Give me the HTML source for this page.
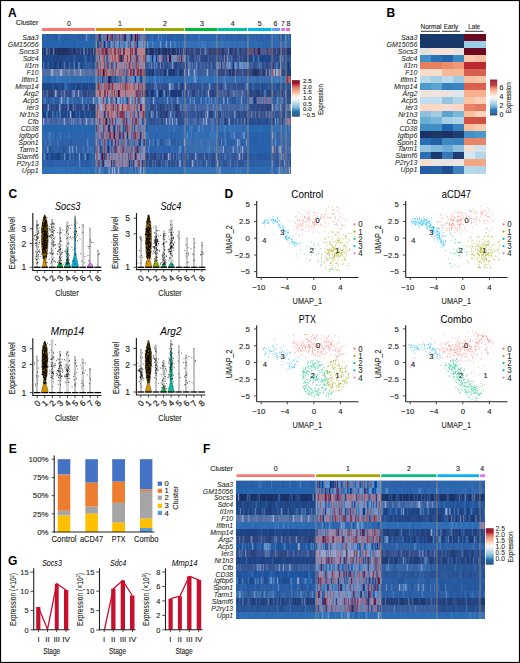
<!DOCTYPE html>
<html><head><meta charset="utf-8"><style>
html,body{margin:0;padding:0;background:#fff;width:520px;height:663px;overflow:hidden}
svg{display:block}
text{font-family:"Liberation Sans", sans-serif}
</style></head><body>
<svg width="520" height="663" viewBox="0 0 520 663" shape-rendering="auto">
<rect x="0" y="0" width="520" height="663" fill="#fff"/>
<text x="8.00" y="17.00" font-size="12" text-anchor="start" font-weight="bold" fill="#000" style="">A</text>
<text x="38.50" y="25.20" font-size="7.2" text-anchor="end" font-weight="normal" fill="#231f20" style="" stroke="#231f20" stroke-width="0.12">Cluster</text>
<rect x="42.00" y="28.00" width="53.00" height="3.00" fill="#F8766D"/>
<text x="69.00" y="25.50" font-size="7" text-anchor="middle" font-weight="normal" fill="#231f20" style="" stroke="#231f20" stroke-width="0.12">0</text>
<rect x="96.00" y="28.00" width="48.00" height="3.00" fill="#D39200"/>
<text x="120.00" y="25.50" font-size="7" text-anchor="middle" font-weight="normal" fill="#231f20" style="" stroke="#231f20" stroke-width="0.12">1</text>
<rect x="145.00" y="28.00" width="39.00" height="3.00" fill="#93AA00"/>
<text x="165.00" y="25.50" font-size="7" text-anchor="middle" font-weight="normal" fill="#231f20" style="" stroke="#231f20" stroke-width="0.12">2</text>
<rect x="185.00" y="28.00" width="32.00" height="3.00" fill="#00BA38"/>
<text x="202.00" y="25.50" font-size="7" text-anchor="middle" font-weight="normal" fill="#231f20" style="" stroke="#231f20" stroke-width="0.12">3</text>
<rect x="217.50" y="28.00" width="29.50" height="3.00" fill="#00C19F"/>
<text x="232.70" y="25.50" font-size="7" text-anchor="middle" font-weight="normal" fill="#231f20" style="" stroke="#231f20" stroke-width="0.12">4</text>
<rect x="248.00" y="28.00" width="23.50" height="3.00" fill="#00B9E3"/>
<text x="259.60" y="25.50" font-size="7" text-anchor="middle" font-weight="normal" fill="#231f20" style="" stroke="#231f20" stroke-width="0.12">5</text>
<rect x="272.00" y="28.00" width="8.00" height="3.00" fill="#619CFF"/>
<text x="275.40" y="25.50" font-size="7" text-anchor="middle" font-weight="normal" fill="#231f20" style="" stroke="#231f20" stroke-width="0.12">6</text>
<rect x="281.00" y="28.00" width="4.00" height="3.00" fill="#DB72FB"/>
<text x="283.00" y="25.50" font-size="7" text-anchor="middle" font-weight="normal" fill="#231f20" style="" stroke="#231f20" stroke-width="0.12">7</text>
<rect x="286.00" y="28.00" width="4.00" height="3.00" fill="#FF61C3"/>
<text x="288.50" y="25.50" font-size="7" text-anchor="middle" font-weight="normal" fill="#231f20" style="" stroke="#231f20" stroke-width="0.12">8</text>
<rect x="42.00" y="34.00" width="249.00" height="140.00" fill="#3a5a98"/>
<path d="M42.5 34v7.05M43.5 34v7.05M46.5 34v7.05M48.5 34v7.05M49.5 34v7.05M50.5 34v7.05M57.5 34v7.05M63.5 34v7.05M64.5 34v7.05M66.5 34v7.05M68.5 34v7.05M69.5 34v7.05M80.5 34v7.05M83.5 34v7.05M84.5 34v7.05M90.5 34v7.05M91.5 34v7.05M93.5 34v7.05M226.5 34v7.05M228.5 34v7.05M244.5 34v7.05M261.5 34v7.05M262.5 34v7.05M279.5 34v7.05M286.5 34v7.05M290.5 62v7.05M75.5 83v7.05M46.5 97v7.05M47.5 97v7.05M57.5 97v7.05M87.5 97v7.05M198.5 97v7.05M45.5 132v7.05M55.5 132v7.05M156.5 132v7.05M69.5 139v7.05M70.5 139v7.05M227.5 139v7.05M228.5 139v7.05M230.5 139v7.05M233.5 139v7.05M244.5 139v7.05M89.5 153v7.05M90.5 153v7.05M93.5 153v7.05M255.5 153v7.05M267.5 153v7.05M271.5 153v7.05M43.5 160v7.05M47.5 160v7.05M48.5 160v7.05M54.5 160v7.05M65.5 160v7.05M69.5 160v7.05M70.5 160v7.05M72.5 160v7.05M75.5 160v7.05M81.5 160v7.05M83.5 160v7.05M84.5 160v7.05M252.5 160v7.05M253.5 160v7.05M254.5 160v7.05M260.5 160v7.05" stroke="#2a5ea5" stroke-width="1.00" shape-rendering="crispEdges"/>
<path d="M44.5 34v7.05M51.5 34v7.05M70.5 34v7.05M71.5 34v7.05M73.5 34v7.05M74.5 34v7.05M77.5 34v7.05M89.5 34v7.05M150.5 34v7.05M153.5 34v7.05M160.5 34v7.05M165.5 34v7.05M174.5 34v7.05M175.5 34v7.05M184.5 34v7.05M185.5 34v7.05M186.5 34v7.05M188.5 34v7.05M196.5 34v7.05M197.5 34v7.05M201.5 34v7.05M203.5 34v7.05M207.5 34v7.05M209.5 34v7.05M210.5 34v7.05M278.5 34v7.05M280.5 34v7.05M162.5 41v7.05M163.5 41v7.05M168.5 41v7.05M177.5 41v7.05M145.5 125v7.05M180.5 125v7.05M186.5 125v7.05M216.5 125v7.05M42.5 132v7.05M56.5 132v7.05M63.5 132v7.05M71.5 132v7.05M72.5 132v7.05M74.5 132v7.05M75.5 132v7.05M76.5 132v7.05M77.5 132v7.05M84.5 132v7.05M86.5 132v7.05M90.5 132v7.05M151.5 132v7.05M157.5 132v7.05M160.5 132v7.05M164.5 132v7.05M165.5 132v7.05M167.5 132v7.05M170.5 132v7.05M171.5 132v7.05M172.5 132v7.05M174.5 132v7.05M175.5 132v7.05M179.5 132v7.05M180.5 132v7.05M184.5 132v7.05M249.5 132v7.05M258.5 132v7.05M260.5 132v7.05M261.5 132v7.05M269.5 132v7.05M271.5 132v7.05M248.5 139v7.05M252.5 139v7.05M258.5 139v7.05M259.5 139v7.05M264.5 139v7.05M265.5 139v7.05M266.5 139v7.05M270.5 139v7.05M151.5 146v7.05M152.5 146v7.05M154.5 146v7.05M157.5 146v7.05M159.5 146v7.05M163.5 146v7.05M164.5 146v7.05M165.5 146v7.05M167.5 146v7.05M170.5 146v7.05M177.5 146v7.05M182.5 146v7.05M183.5 146v7.05M248.5 146v7.05M249.5 146v7.05M253.5 146v7.05M255.5 146v7.05M256.5 146v7.05M261.5 146v7.05M262.5 146v7.05M257.5 160v7.05M258.5 160v7.05M268.5 160v7.05M270.5 160v7.05M271.5 160v7.05" stroke="#2b64ad" stroke-width="1.00" shape-rendering="crispEdges"/>
<path d="M45.5 34v7.05M60.5 34v7.05M88.5 34v7.05M151.5 34v7.05M189.5 34v7.05M192.5 34v7.05M193.5 34v7.05M194.5 34v7.05M195.5 34v7.05M202.5 34v7.05M206.5 34v7.05M208.5 34v7.05M211.5 34v7.05M212.5 34v7.05M213.5 34v7.05M214.5 34v7.05M215.5 34v7.05M216.5 34v7.05M274.5 34v7.05M277.5 34v7.05M289.5 34v7.05M149.5 41v7.05M158.5 41v7.05M164.5 41v7.05M181.5 41v7.05M207.5 41v7.05M245.5 41v7.05M273.5 41v7.05M274.5 41v7.05M278.5 41v7.05M279.5 41v7.05M286.5 41v7.05M287.5 41v7.05M288.5 41v7.05M289.5 41v7.05M113.5 76v7.05M80.5 97v7.05M95.5 97v7.05M148.5 125v7.05M149.5 125v7.05M153.5 125v7.05M154.5 125v7.05M159.5 125v7.05M160.5 125v7.05M161.5 125v7.05M162.5 125v7.05M163.5 125v7.05M164.5 125v7.05M165.5 125v7.05M166.5 125v7.05M167.5 125v7.05M171.5 125v7.05M172.5 125v7.05M176.5 125v7.05M177.5 125v7.05M178.5 125v7.05M179.5 125v7.05M181.5 125v7.05M183.5 125v7.05M187.5 125v7.05M194.5 125v7.05M195.5 125v7.05M46.5 132v7.05M54.5 132v7.05M57.5 132v7.05M58.5 132v7.05M65.5 132v7.05M67.5 132v7.05M73.5 132v7.05M79.5 132v7.05M82.5 132v7.05M83.5 132v7.05M87.5 132v7.05M89.5 132v7.05M91.5 132v7.05M92.5 132v7.05M93.5 132v7.05M94.5 132v7.05M149.5 132v7.05M150.5 132v7.05M152.5 132v7.05M153.5 132v7.05M155.5 132v7.05M158.5 132v7.05M159.5 132v7.05M161.5 132v7.05M163.5 132v7.05M166.5 132v7.05M173.5 132v7.05M176.5 132v7.05M177.5 132v7.05M181.5 132v7.05M189.5 132v7.05M192.5 132v7.05M270.5 132v7.05M107.5 139v7.05M271.5 139v7.05M145.5 146v7.05M149.5 146v7.05M156.5 146v7.05M158.5 146v7.05M160.5 146v7.05M161.5 146v7.05M162.5 146v7.05M166.5 146v7.05M171.5 146v7.05M175.5 146v7.05M176.5 146v7.05M184.5 146v7.05M249.5 160v7.05" stroke="#2e67af" stroke-width="1.00" shape-rendering="crispEdges"/>
<path d="M47.5 34v7.05M53.5 34v7.05M55.5 34v7.05M56.5 34v7.05M65.5 34v7.05M79.5 34v7.05M82.5 34v7.05M94.5 34v7.05M95.5 34v7.05M146.5 34v7.05M167.5 34v7.05M169.5 34v7.05M170.5 34v7.05M172.5 34v7.05M177.5 34v7.05M239.5 34v7.05M283.5 34v7.05M91.5 55v7.05M67.5 83v7.05M49.5 97v7.05M55.5 97v7.05M58.5 97v7.05M78.5 97v7.05M187.5 97v7.05M196.5 97v7.05M217.5 139v7.05M241.5 139v7.05M242.5 139v7.05M72.5 153v7.05M83.5 153v7.05M252.5 153v7.05M253.5 153v7.05M254.5 153v7.05M256.5 153v7.05M261.5 153v7.05M262.5 153v7.05M263.5 153v7.05M268.5 153v7.05M269.5 153v7.05M270.5 153v7.05M51.5 160v7.05M82.5 160v7.05M85.5 160v7.05M86.5 160v7.05M87.5 160v7.05M88.5 160v7.05M248.5 160v7.05M251.5 160v7.05" stroke="#285aa1" stroke-width="1.00" shape-rendering="crispEdges"/>
<path d="M52.5 34v7.05M54.5 34v7.05M61.5 34v7.05M62.5 34v7.05M67.5 34v7.05M72.5 34v7.05M75.5 34v7.05M76.5 34v7.05M78.5 34v7.05M81.5 34v7.05M92.5 34v7.05M162.5 34v7.05M187.5 34v7.05M204.5 34v7.05M205.5 34v7.05M217.5 34v7.05M218.5 34v7.05M227.5 34v7.05M230.5 34v7.05M232.5 34v7.05M233.5 34v7.05M236.5 34v7.05M237.5 34v7.05M238.5 34v7.05M240.5 34v7.05M247.5 34v7.05M248.5 34v7.05M256.5 34v7.05M257.5 34v7.05M260.5 34v7.05M266.5 34v7.05M267.5 34v7.05M270.5 34v7.05M273.5 34v7.05M284.5 34v7.05M287.5 34v7.05M51.5 97v7.05M56.5 97v7.05M88.5 97v7.05M197.5 97v7.05M62.5 132v7.05M66.5 132v7.05M78.5 132v7.05M80.5 132v7.05M85.5 132v7.05M61.5 139v7.05M68.5 139v7.05M229.5 139v7.05M173.5 146v7.05M49.5 153v7.05M76.5 153v7.05M46.5 160v7.05M49.5 160v7.05M50.5 160v7.05M52.5 160v7.05M53.5 160v7.05M56.5 160v7.05M59.5 160v7.05M60.5 160v7.05M61.5 160v7.05M62.5 160v7.05M63.5 160v7.05M64.5 160v7.05M66.5 160v7.05M71.5 160v7.05M74.5 160v7.05M76.5 160v7.05M77.5 160v7.05M90.5 160v7.05M91.5 160v7.05M94.5 160v7.05M95.5 160v7.05M250.5 160v7.05M255.5 160v7.05M256.5 160v7.05M259.5 160v7.05M261.5 160v7.05M262.5 160v7.05M263.5 160v7.05M264.5 160v7.05M265.5 160v7.05M266.5 160v7.05M267.5 160v7.05M269.5 160v7.05" stroke="#2c61a9" stroke-width="1.00" shape-rendering="crispEdges"/>
<path d="M58.5 34v7.05M275.5 34v7.05M153.5 41v7.05M159.5 41v7.05M161.5 41v7.05M171.5 41v7.05M187.5 41v7.05M189.5 41v7.05M197.5 41v7.05M198.5 41v7.05M199.5 41v7.05M213.5 41v7.05M215.5 41v7.05M216.5 41v7.05M219.5 41v7.05M220.5 41v7.05M221.5 41v7.05M223.5 41v7.05M226.5 41v7.05M227.5 41v7.05M228.5 41v7.05M241.5 41v7.05M243.5 41v7.05M247.5 41v7.05M97.5 76v7.05M226.5 76v7.05M228.5 76v7.05M238.5 76v7.05M239.5 76v7.05M275.5 76v7.05M279.5 76v7.05M44.5 97v7.05M173.5 125v7.05M190.5 125v7.05M192.5 125v7.05M203.5 125v7.05M211.5 125v7.05M213.5 125v7.05M220.5 125v7.05M223.5 125v7.05M229.5 125v7.05M231.5 125v7.05M233.5 125v7.05M239.5 125v7.05M240.5 125v7.05M245.5 125v7.05M273.5 125v7.05M274.5 125v7.05M275.5 125v7.05M277.5 125v7.05M281.5 125v7.05M284.5 125v7.05M288.5 125v7.05M48.5 132v7.05M148.5 132v7.05M186.5 132v7.05M188.5 132v7.05M196.5 132v7.05M211.5 132v7.05M215.5 132v7.05M100.5 139v7.05M172.5 146v7.05M201.5 146v7.05M202.5 146v7.05M203.5 146v7.05M206.5 146v7.05M215.5 146v7.05M43.5 153v7.05M69.5 153v7.05M70.5 153v7.05M73.5 153v7.05M92.5 153v7.05M116.5 167v7.05M128.5 167v7.05M129.5 167v7.05M221.5 167v7.05M232.5 167v7.05M235.5 167v7.05M237.5 167v7.05M238.5 167v7.05M239.5 167v7.05M241.5 167v7.05M242.5 167v7.05M243.5 167v7.05M245.5 167v7.05M246.5 167v7.05M247.5 167v7.05M281.5 167v7.05M284.5 167v7.05" stroke="#3872b6" stroke-width="1.00" shape-rendering="crispEdges"/>
<path d="M59.5 34v7.05M87.5 34v7.05M152.5 34v7.05M166.5 34v7.05M198.5 34v7.05M145.5 41v7.05M167.5 41v7.05M173.5 41v7.05M178.5 41v7.05M179.5 41v7.05M183.5 41v7.05M186.5 41v7.05M188.5 41v7.05M190.5 41v7.05M191.5 41v7.05M192.5 41v7.05M193.5 41v7.05M194.5 41v7.05M195.5 41v7.05M200.5 41v7.05M206.5 41v7.05M210.5 41v7.05M211.5 41v7.05M212.5 41v7.05M214.5 41v7.05M218.5 41v7.05M224.5 41v7.05M229.5 41v7.05M230.5 41v7.05M231.5 41v7.05M233.5 41v7.05M234.5 41v7.05M235.5 41v7.05M236.5 41v7.05M238.5 41v7.05M239.5 41v7.05M240.5 41v7.05M242.5 41v7.05M244.5 41v7.05M280.5 41v7.05M118.5 76v7.05M65.5 83v7.05M185.5 125v7.05M197.5 125v7.05M207.5 125v7.05M209.5 125v7.05M217.5 125v7.05M219.5 125v7.05M221.5 125v7.05M228.5 125v7.05M232.5 125v7.05M235.5 125v7.05M236.5 125v7.05M237.5 125v7.05M238.5 125v7.05M241.5 125v7.05M246.5 125v7.05M272.5 125v7.05M276.5 125v7.05M278.5 125v7.05M279.5 125v7.05M280.5 125v7.05M282.5 125v7.05M283.5 125v7.05M43.5 132v7.05M52.5 132v7.05M68.5 132v7.05M182.5 132v7.05M185.5 132v7.05M190.5 132v7.05M194.5 132v7.05M195.5 132v7.05M197.5 132v7.05M198.5 132v7.05M199.5 132v7.05M201.5 132v7.05M205.5 132v7.05M209.5 132v7.05M217.5 167v7.05M223.5 167v7.05M224.5 167v7.05M225.5 167v7.05M226.5 167v7.05M227.5 167v7.05M228.5 167v7.05M230.5 167v7.05M231.5 167v7.05M233.5 167v7.05M234.5 167v7.05M244.5 167v7.05M269.5 167v7.05M272.5 167v7.05M277.5 167v7.05M285.5 167v7.05" stroke="#346eb4" stroke-width="1.00" shape-rendering="crispEdges"/>
<path d="M85.5 34v7.05M221.5 34v7.05M224.5 34v7.05M281.5 41v7.05M282.5 41v7.05M86.5 62v7.05M95.5 62v7.05M217.5 76v7.05M218.5 76v7.05M231.5 76v7.05M232.5 76v7.05M237.5 76v7.05M242.5 76v7.05M244.5 76v7.05M245.5 76v7.05M246.5 76v7.05M248.5 76v7.05M249.5 76v7.05M256.5 76v7.05M257.5 76v7.05M258.5 76v7.05M264.5 76v7.05M269.5 76v7.05M252.5 83v7.05M184.5 90v7.05M53.5 97v7.05M54.5 97v7.05M59.5 97v7.05M69.5 97v7.05M73.5 97v7.05M83.5 97v7.05M90.5 97v7.05M148.5 97v7.05M182.5 97v7.05M204.5 97v7.05M210.5 97v7.05M212.5 97v7.05M214.5 97v7.05M236.5 97v7.05M237.5 97v7.05M279.5 97v7.05M46.5 111v7.05M217.5 132v7.05M230.5 132v7.05M240.5 132v7.05M241.5 132v7.05M282.5 132v7.05M285.5 132v7.05M287.5 132v7.05M288.5 132v7.05M289.5 132v7.05M44.5 139v7.05M58.5 139v7.05M86.5 139v7.05M88.5 139v7.05M152.5 139v7.05M166.5 139v7.05M179.5 139v7.05M180.5 139v7.05M191.5 139v7.05M192.5 139v7.05M195.5 139v7.05M198.5 139v7.05M205.5 139v7.05M224.5 139v7.05M226.5 139v7.05M245.5 139v7.05M276.5 139v7.05M82.5 146v7.05M91.5 146v7.05M92.5 146v7.05M185.5 146v7.05M186.5 146v7.05M187.5 146v7.05M188.5 146v7.05M193.5 146v7.05M197.5 146v7.05M211.5 146v7.05M65.5 153v7.05M84.5 153v7.05M67.5 160v7.05M80.5 160v7.05M97.5 167v7.05M106.5 167v7.05M120.5 167v7.05M121.5 167v7.05M123.5 167v7.05M133.5 167v7.05M136.5 167v7.05M137.5 167v7.05" stroke="#3669ae" stroke-width="1.00" shape-rendering="crispEdges"/>
<path d="M86.5 34v7.05M106.5 41v7.05M115.5 41v7.05M118.5 41v7.05M120.5 41v7.05M122.5 41v7.05M125.5 41v7.05M127.5 41v7.05M138.5 41v7.05M140.5 41v7.05M147.5 55v7.05M149.5 55v7.05M154.5 55v7.05M172.5 55v7.05M173.5 55v7.05M280.5 55v7.05M217.5 62v7.05M227.5 62v7.05M239.5 62v7.05M241.5 62v7.05M242.5 62v7.05M243.5 62v7.05M245.5 62v7.05M247.5 62v7.05M280.5 62v7.05M123.5 76v7.05M131.5 76v7.05M132.5 76v7.05M133.5 76v7.05M137.5 76v7.05M138.5 76v7.05M143.5 76v7.05M194.5 76v7.05M235.5 76v7.05M225.5 83v7.05M73.5 90v7.05M74.5 90v7.05M164.5 90v7.05M285.5 90v7.05M113.5 97v7.05M140.5 97v7.05M141.5 97v7.05M190.5 97v7.05M194.5 97v7.05M277.5 97v7.05M280.5 104v7.05M215.5 111v7.05M145.5 118v7.05M234.5 132v7.05M243.5 132v7.05M244.5 132v7.05M141.5 139v7.05M142.5 139v7.05M149.5 139v7.05M169.5 139v7.05M221.5 139v7.05M239.5 139v7.05M275.5 139v7.05M47.5 146v7.05M76.5 146v7.05M180.5 146v7.05M237.5 146v7.05M64.5 153v7.05M85.5 153v7.05M216.5 153v7.05M206.5 160v7.05M272.5 160v7.05" stroke="#618dc3" stroke-width="1.00" shape-rendering="crispEdges"/>
<path d="M96.5 34v7.05M110.5 34v7.05M111.5 34v7.05M119.5 34v7.05M136.5 34v7.05M144.5 34v7.05M103.5 48v7.05M107.5 62v7.05M136.5 62v7.05M272.5 69v7.05M99.5 90v7.05M103.5 97v7.05M135.5 97v7.05M138.5 97v7.05M139.5 97v7.05M105.5 111v7.05M99.5 118v7.05M105.5 118v7.05M123.5 118v7.05M124.5 118v7.05M132.5 118v7.05M119.5 125v7.05M126.5 125v7.05M127.5 125v7.05M113.5 132v7.05M122.5 132v7.05M134.5 132v7.05M104.5 139v7.05M104.5 146v7.05M116.5 146v7.05M122.5 146v7.05M135.5 146v7.05M136.5 146v7.05M103.5 153v7.05M106.5 153v7.05M130.5 153v7.05M136.5 153v7.05M98.5 160v7.05M138.5 160v7.05M139.5 160v7.05" stroke="#7a4768" stroke-width="1.00" shape-rendering="crispEdges"/>
<path d="M97.5 34v7.05M104.5 34v7.05M116.5 34v7.05M117.5 34v7.05M120.5 34v7.05M129.5 34v7.05M140.5 34v7.05M143.5 34v7.05M99.5 41v7.05M123.5 41v7.05M46.5 48v7.05M53.5 48v7.05M183.5 48v7.05M205.5 48v7.05M96.5 55v7.05M167.5 55v7.05M113.5 62v7.05M220.5 62v7.05M222.5 62v7.05M42.5 69v7.05M50.5 69v7.05M54.5 69v7.05M55.5 69v7.05M57.5 69v7.05M58.5 69v7.05M63.5 69v7.05M64.5 69v7.05M65.5 69v7.05M67.5 69v7.05M73.5 69v7.05M76.5 69v7.05M77.5 69v7.05M78.5 69v7.05M82.5 69v7.05M83.5 69v7.05M84.5 69v7.05M89.5 69v7.05M90.5 69v7.05M95.5 69v7.05M119.5 76v7.05M121.5 76v7.05M127.5 76v7.05M142.5 76v7.05M144.5 76v7.05M257.5 97v7.05M259.5 97v7.05M261.5 97v7.05M266.5 97v7.05M267.5 97v7.05M270.5 97v7.05M115.5 104v7.05M136.5 104v7.05M287.5 104v7.05M289.5 104v7.05M251.5 111v7.05M266.5 111v7.05M44.5 118v7.05M63.5 118v7.05M85.5 118v7.05M87.5 118v7.05M133.5 118v7.05M138.5 118v7.05M205.5 118v7.05M98.5 125v7.05M140.5 125v7.05M96.5 132v7.05M97.5 132v7.05M98.5 139v7.05M110.5 139v7.05M117.5 139v7.05M123.5 139v7.05M133.5 139v7.05M136.5 139v7.05M99.5 146v7.05M110.5 146v7.05M127.5 146v7.05M100.5 153v7.05M134.5 153v7.05M283.5 153v7.05M112.5 160v7.05M134.5 160v7.05M141.5 160v7.05M288.5 167v7.05" stroke="#5e77a8" stroke-width="1.00" shape-rendering="crispEdges"/>
<path d="M98.5 34v7.05M203.5 55v7.05M210.5 55v7.05M164.5 62v7.05M158.5 69v7.05M159.5 69v7.05M151.5 83v7.05M174.5 83v7.05M184.5 83v7.05M188.5 83v7.05M192.5 83v7.05M196.5 83v7.05M199.5 83v7.05M205.5 83v7.05M207.5 83v7.05M213.5 83v7.05M50.5 104v7.05M53.5 104v7.05M249.5 104v7.05M190.5 111v7.05M192.5 111v7.05M194.5 111v7.05M195.5 111v7.05M203.5 111v7.05M147.5 118v7.05M150.5 118v7.05M152.5 118v7.05M154.5 118v7.05M155.5 118v7.05M180.5 118v7.05M183.5 118v7.05M184.5 118v7.05M236.5 118v7.05M270.5 118v7.05M113.5 125v7.05M220.5 139v7.05M80.5 153v7.05M86.5 153v7.05M186.5 153v7.05M190.5 153v7.05M198.5 153v7.05M201.5 153v7.05M210.5 153v7.05M211.5 153v7.05M220.5 153v7.05M223.5 153v7.05M228.5 153v7.05M232.5 153v7.05M233.5 153v7.05M235.5 153v7.05M236.5 153v7.05M272.5 153v7.05M277.5 153v7.05M162.5 160v7.05M163.5 160v7.05M171.5 160v7.05M174.5 160v7.05M189.5 160v7.05M195.5 160v7.05M204.5 160v7.05M209.5 160v7.05M216.5 160v7.05M223.5 160v7.05M225.5 160v7.05M226.5 160v7.05M232.5 160v7.05M238.5 160v7.05M239.5 160v7.05M240.5 160v7.05M241.5 160v7.05M275.5 160v7.05M276.5 160v7.05M277.5 160v7.05M278.5 160v7.05M290.5 160v7.05" stroke="#325598" stroke-width="1.00" shape-rendering="crispEdges"/>
<path d="M99.5 34v7.05M112.5 34v7.05M124.5 34v7.05M137.5 34v7.05M105.5 48v7.05M106.5 48v7.05M123.5 48v7.05M135.5 48v7.05M136.5 48v7.05M271.5 48v7.05M163.5 55v7.05M166.5 55v7.05M181.5 55v7.05M221.5 62v7.05M133.5 69v7.05M140.5 69v7.05M119.5 90v7.05M140.5 104v7.05M141.5 104v7.05M126.5 118v7.05M108.5 125v7.05M119.5 132v7.05M115.5 139v7.05M139.5 139v7.05M102.5 160v7.05M111.5 160v7.05M133.5 160v7.05M142.5 160v7.05" stroke="#512c5c" stroke-width="1.00" shape-rendering="crispEdges"/>
<path d="M100.5 34v7.05M43.5 55v7.05M44.5 55v7.05M46.5 55v7.05M50.5 55v7.05M53.5 55v7.05M54.5 55v7.05M56.5 55v7.05M57.5 55v7.05M58.5 55v7.05M59.5 55v7.05M60.5 55v7.05M61.5 55v7.05M64.5 55v7.05M71.5 55v7.05M72.5 55v7.05M78.5 55v7.05M81.5 55v7.05M88.5 55v7.05M92.5 55v7.05M93.5 55v7.05M95.5 55v7.05M248.5 55v7.05M249.5 55v7.05M250.5 55v7.05M251.5 55v7.05M255.5 55v7.05M260.5 55v7.05M261.5 55v7.05M262.5 55v7.05M263.5 55v7.05M264.5 55v7.05M266.5 55v7.05M268.5 55v7.05M269.5 55v7.05M42.5 62v7.05M53.5 62v7.05M56.5 62v7.05M61.5 62v7.05M66.5 62v7.05M67.5 62v7.05M68.5 62v7.05M81.5 62v7.05M82.5 62v7.05M287.5 62v7.05M289.5 62v7.05M286.5 69v7.05M287.5 69v7.05M288.5 69v7.05M42.5 83v7.05M43.5 83v7.05M44.5 83v7.05M45.5 83v7.05M46.5 83v7.05M47.5 83v7.05M48.5 83v7.05M49.5 83v7.05M50.5 83v7.05M51.5 83v7.05M55.5 83v7.05M56.5 83v7.05M57.5 83v7.05M62.5 83v7.05M63.5 83v7.05M73.5 83v7.05M74.5 83v7.05M76.5 83v7.05M77.5 83v7.05M78.5 83v7.05M79.5 83v7.05M80.5 83v7.05M83.5 83v7.05M84.5 83v7.05M85.5 83v7.05M86.5 83v7.05M87.5 83v7.05M92.5 83v7.05M94.5 83v7.05M95.5 83v7.05M262.5 83v7.05M148.5 90v7.05M150.5 90v7.05M162.5 90v7.05M177.5 90v7.05M116.5 97v7.05M255.5 97v7.05M44.5 111v7.05M48.5 111v7.05M49.5 111v7.05M61.5 111v7.05M62.5 111v7.05M65.5 111v7.05M68.5 111v7.05M74.5 111v7.05M77.5 111v7.05M78.5 111v7.05M81.5 111v7.05M82.5 111v7.05M83.5 111v7.05M88.5 111v7.05M91.5 111v7.05M92.5 111v7.05M93.5 111v7.05M94.5 111v7.05M140.5 139v7.05M95.5 146v7.05M100.5 146v7.05M47.5 153v7.05M51.5 153v7.05M52.5 153v7.05M57.5 153v7.05M59.5 153v7.05M87.5 153v7.05" stroke="#1e4585" stroke-width="1.00" shape-rendering="crispEdges"/>
<path d="M101.5 34v7.05M103.5 34v7.05M126.5 34v7.05M83.5 48v7.05M84.5 48v7.05M151.5 55v7.05M188.5 55v7.05M199.5 55v7.05M64.5 62v7.05M149.5 62v7.05M190.5 62v7.05M192.5 62v7.05M211.5 62v7.05M259.5 62v7.05M193.5 69v7.05M195.5 69v7.05M196.5 69v7.05M206.5 69v7.05M217.5 69v7.05M107.5 76v7.05M154.5 83v7.05M178.5 83v7.05M246.5 83v7.05M72.5 90v7.05M182.5 90v7.05M272.5 90v7.05M258.5 97v7.05M60.5 104v7.05M73.5 104v7.05M88.5 104v7.05M181.5 104v7.05M183.5 104v7.05M186.5 104v7.05M206.5 104v7.05M208.5 104v7.05M219.5 104v7.05M229.5 104v7.05M240.5 104v7.05M246.5 104v7.05M275.5 104v7.05M277.5 104v7.05M52.5 111v7.05M152.5 111v7.05M153.5 111v7.05M174.5 111v7.05M206.5 111v7.05M221.5 111v7.05M235.5 111v7.05M285.5 111v7.05M47.5 118v7.05M48.5 118v7.05M58.5 118v7.05M75.5 118v7.05M79.5 118v7.05M95.5 118v7.05M194.5 118v7.05M195.5 118v7.05M204.5 118v7.05M212.5 118v7.05M213.5 118v7.05M220.5 118v7.05M241.5 118v7.05M273.5 132v7.05M121.5 139v7.05M129.5 139v7.05M219.5 146v7.05M222.5 146v7.05M241.5 146v7.05M243.5 146v7.05M288.5 146v7.05M173.5 153v7.05M196.5 153v7.05M238.5 153v7.05M193.5 160v7.05M218.5 160v7.05M290.5 167v7.05" stroke="#4e73ad" stroke-width="1.00" shape-rendering="crispEdges"/>
<path d="M102.5 34v7.05M127.5 34v7.05M128.5 34v7.05M142.5 34v7.05M102.5 41v7.05M112.5 41v7.05M116.5 41v7.05M129.5 41v7.05M131.5 41v7.05M228.5 48v7.05M168.5 55v7.05M171.5 55v7.05M176.5 55v7.05M183.5 55v7.05M224.5 55v7.05M151.5 62v7.05M160.5 62v7.05M188.5 62v7.05M196.5 62v7.05M226.5 62v7.05M228.5 62v7.05M236.5 62v7.05M246.5 62v7.05M53.5 69v7.05M56.5 69v7.05M59.5 69v7.05M62.5 69v7.05M68.5 69v7.05M69.5 69v7.05M75.5 69v7.05M79.5 69v7.05M81.5 69v7.05M167.5 69v7.05M189.5 69v7.05M266.5 69v7.05M96.5 76v7.05M105.5 76v7.05M122.5 76v7.05M124.5 76v7.05M129.5 76v7.05M130.5 76v7.05M56.5 90v7.05M64.5 90v7.05M188.5 90v7.05M233.5 90v7.05M242.5 90v7.05M250.5 97v7.05M251.5 97v7.05M262.5 97v7.05M180.5 104v7.05M195.5 104v7.05M207.5 104v7.05M213.5 104v7.05M220.5 104v7.05M276.5 104v7.05M156.5 111v7.05M269.5 111v7.05M71.5 118v7.05M73.5 118v7.05M80.5 118v7.05M91.5 118v7.05M92.5 118v7.05M97.5 118v7.05M108.5 118v7.05M116.5 118v7.05M129.5 118v7.05M141.5 118v7.05M187.5 118v7.05M244.5 118v7.05M112.5 125v7.05M122.5 125v7.05M137.5 125v7.05M141.5 125v7.05M143.5 125v7.05M144.5 125v7.05M101.5 139v7.05M106.5 139v7.05M119.5 139v7.05M126.5 139v7.05M137.5 139v7.05M141.5 146v7.05M142.5 146v7.05M275.5 146v7.05M290.5 146v7.05M108.5 153v7.05M115.5 153v7.05M140.5 153v7.05M281.5 153v7.05M121.5 160v7.05M125.5 160v7.05" stroke="#6b82b1" stroke-width="1.00" shape-rendering="crispEdges"/>
<path d="M105.5 34v7.05M106.5 34v7.05M118.5 34v7.05M134.5 34v7.05M101.5 41v7.05M134.5 41v7.05M135.5 41v7.05M98.5 48v7.05M158.5 55v7.05M177.5 55v7.05M182.5 55v7.05M100.5 69v7.05M112.5 69v7.05M115.5 69v7.05M119.5 69v7.05M123.5 69v7.05M124.5 69v7.05M275.5 69v7.05M97.5 83v7.05M134.5 83v7.05M142.5 83v7.05M125.5 90v7.05M139.5 90v7.05M110.5 97v7.05M112.5 97v7.05M115.5 97v7.05M128.5 97v7.05M260.5 97v7.05M265.5 97v7.05M107.5 111v7.05M119.5 111v7.05M107.5 118v7.05M110.5 118v7.05M290.5 118v7.05M104.5 125v7.05M115.5 125v7.05M102.5 132v7.05M97.5 139v7.05M102.5 139v7.05M105.5 139v7.05M122.5 139v7.05M124.5 139v7.05M113.5 146v7.05M131.5 146v7.05M97.5 160v7.05M122.5 160v7.05M128.5 160v7.05M132.5 160v7.05" stroke="#766589" stroke-width="1.00" shape-rendering="crispEdges"/>
<path d="M107.5 34v7.05M135.5 34v7.05M258.5 48v7.05M145.5 55v7.05M169.5 55v7.05M170.5 55v7.05M103.5 69v7.05M109.5 76v7.05M118.5 90v7.05M106.5 118v7.05M96.5 125v7.05M114.5 132v7.05M144.5 139v7.05M102.5 153v7.05" stroke="#400c40" stroke-width="1.00" shape-rendering="crispEdges"/>
<path d="M108.5 34v7.05M93.5 48v7.05M200.5 48v7.05M204.5 48v7.05M144.5 55v7.05M43.5 69v7.05M44.5 69v7.05M45.5 69v7.05M46.5 69v7.05M47.5 69v7.05M48.5 69v7.05M49.5 69v7.05M66.5 69v7.05M70.5 69v7.05M71.5 69v7.05M72.5 69v7.05M85.5 69v7.05M86.5 69v7.05M87.5 69v7.05M88.5 69v7.05M91.5 69v7.05M92.5 69v7.05M93.5 69v7.05M94.5 69v7.05M235.5 69v7.05M218.5 90v7.05M222.5 90v7.05M234.5 90v7.05M236.5 90v7.05M241.5 90v7.05M286.5 104v7.05M288.5 104v7.05M126.5 111v7.05M255.5 111v7.05M259.5 111v7.05M207.5 118v7.05M132.5 125v7.05M138.5 125v7.05M131.5 132v7.05M132.5 146v7.05M140.5 146v7.05M122.5 153v7.05M169.5 153v7.05M282.5 153v7.05M101.5 160v7.05" stroke="#536ea1" stroke-width="1.00" shape-rendering="crispEdges"/>
<path d="M109.5 34v7.05M113.5 34v7.05M121.5 34v7.05M133.5 34v7.05M141.5 34v7.05M143.5 41v7.05M97.5 55v7.05M131.5 55v7.05M135.5 55v7.05M138.5 55v7.05M146.5 55v7.05M161.5 55v7.05M178.5 55v7.05M180.5 55v7.05M105.5 62v7.05M115.5 62v7.05M128.5 62v7.05M132.5 62v7.05M135.5 62v7.05M218.5 62v7.05M96.5 69v7.05M122.5 69v7.05M128.5 76v7.05M101.5 83v7.05M144.5 83v7.05M122.5 97v7.05M249.5 97v7.05M252.5 97v7.05M264.5 97v7.05M268.5 97v7.05M269.5 97v7.05M131.5 104v7.05M103.5 111v7.05M132.5 111v7.05M137.5 111v7.05M100.5 118v7.05M122.5 118v7.05M127.5 118v7.05M134.5 118v7.05M137.5 118v7.05M286.5 118v7.05M287.5 118v7.05M289.5 118v7.05M97.5 125v7.05M107.5 125v7.05M110.5 125v7.05M118.5 125v7.05M120.5 125v7.05M131.5 125v7.05M133.5 125v7.05M135.5 125v7.05M139.5 125v7.05M98.5 132v7.05M107.5 132v7.05M108.5 132v7.05M117.5 132v7.05M118.5 132v7.05M121.5 132v7.05M124.5 132v7.05M126.5 132v7.05M128.5 132v7.05M132.5 132v7.05M139.5 132v7.05M103.5 139v7.05M114.5 139v7.05M116.5 139v7.05M120.5 139v7.05M135.5 139v7.05M97.5 146v7.05M103.5 146v7.05M105.5 146v7.05M106.5 146v7.05M112.5 146v7.05M124.5 146v7.05M126.5 146v7.05M128.5 146v7.05M129.5 146v7.05M130.5 146v7.05M134.5 146v7.05M139.5 146v7.05M97.5 153v7.05M131.5 153v7.05M100.5 160v7.05M115.5 160v7.05" stroke="#79739e" stroke-width="1.00" shape-rendering="crispEdges"/>
<path d="M114.5 34v7.05M123.5 34v7.05M103.5 41v7.05M108.5 41v7.05M114.5 41v7.05M128.5 41v7.05M136.5 41v7.05M252.5 48v7.05M261.5 48v7.05M263.5 48v7.05M265.5 48v7.05M269.5 48v7.05M99.5 55v7.05M104.5 55v7.05M123.5 55v7.05M237.5 62v7.05M126.5 69v7.05M127.5 69v7.05M98.5 76v7.05M103.5 76v7.05M104.5 76v7.05M106.5 76v7.05M117.5 76v7.05M120.5 76v7.05M125.5 76v7.05M97.5 104v7.05M137.5 104v7.05M124.5 111v7.05M101.5 132v7.05M133.5 132v7.05M141.5 132v7.05M277.5 146v7.05M105.5 153v7.05M284.5 153v7.05" stroke="#5a5e8e" stroke-width="1.00" shape-rendering="crispEdges"/>
<path d="M115.5 34v7.05M132.5 34v7.05M229.5 55v7.05M147.5 62v7.05M152.5 62v7.05M153.5 62v7.05M157.5 62v7.05M170.5 62v7.05M182.5 62v7.05M251.5 62v7.05M257.5 62v7.05M264.5 62v7.05M274.5 62v7.05M284.5 62v7.05M154.5 69v7.05M162.5 69v7.05M185.5 69v7.05M186.5 69v7.05M192.5 69v7.05M198.5 69v7.05M199.5 69v7.05M201.5 69v7.05M189.5 83v7.05M223.5 83v7.05M231.5 83v7.05M81.5 90v7.05M82.5 90v7.05M190.5 90v7.05M191.5 90v7.05M201.5 90v7.05M206.5 90v7.05M222.5 97v7.05M281.5 97v7.05M184.5 104v7.05M191.5 104v7.05M197.5 104v7.05M168.5 111v7.05M188.5 111v7.05M189.5 111v7.05M199.5 111v7.05M217.5 111v7.05M225.5 111v7.05M247.5 111v7.05M279.5 111v7.05M287.5 111v7.05M156.5 118v7.05M158.5 118v7.05M159.5 118v7.05M160.5 118v7.05M168.5 118v7.05M191.5 118v7.05M208.5 118v7.05M209.5 118v7.05M214.5 118v7.05M215.5 118v7.05M221.5 118v7.05M138.5 139v7.05M143.5 139v7.05M46.5 146v7.05M225.5 146v7.05M159.5 153v7.05M163.5 153v7.05M183.5 153v7.05M197.5 153v7.05M215.5 153v7.05M222.5 153v7.05M247.5 153v7.05M278.5 153v7.05M286.5 153v7.05M288.5 153v7.05M113.5 160v7.05M148.5 160v7.05M164.5 160v7.05M166.5 160v7.05M176.5 160v7.05M181.5 160v7.05M196.5 160v7.05M198.5 160v7.05M229.5 160v7.05M273.5 160v7.05M287.5 160v7.05" stroke="#395da0" stroke-width="1.00" shape-rendering="crispEdges"/>
<path d="M122.5 34v7.05M100.5 41v7.05M107.5 41v7.05M130.5 41v7.05M118.5 48v7.05M248.5 48v7.05M249.5 48v7.05M250.5 48v7.05M251.5 48v7.05M253.5 48v7.05M255.5 48v7.05M256.5 48v7.05M257.5 48v7.05M266.5 48v7.05M270.5 48v7.05M179.5 55v7.05M225.5 62v7.05M134.5 69v7.05M141.5 69v7.05M108.5 83v7.05M105.5 90v7.05M114.5 90v7.05M137.5 90v7.05M138.5 90v7.05M140.5 90v7.05M142.5 90v7.05M256.5 97v7.05M105.5 104v7.05M112.5 139v7.05M118.5 139v7.05M128.5 139v7.05M274.5 146v7.05M114.5 160v7.05" stroke="#5f4d76" stroke-width="1.00" shape-rendering="crispEdges"/>
<path d="M125.5 34v7.05M131.5 34v7.05M104.5 41v7.05M137.5 41v7.05M152.5 55v7.05M156.5 55v7.05M233.5 62v7.05M135.5 76v7.05M254.5 97v7.05M108.5 146v7.05" stroke="#043483" stroke-width="1.00" shape-rendering="crispEdges"/>
<path d="M130.5 34v7.05M48.5 62v7.05M73.5 62v7.05M178.5 69v7.05M69.5 83v7.05M269.5 83v7.05M275.5 83v7.05M149.5 90v7.05M154.5 90v7.05M167.5 90v7.05M146.5 97v7.05M149.5 97v7.05M150.5 97v7.05M156.5 97v7.05M161.5 97v7.05M162.5 97v7.05M174.5 97v7.05M183.5 97v7.05M231.5 97v7.05M272.5 97v7.05M273.5 97v7.05M274.5 97v7.05M54.5 111v7.05M57.5 111v7.05M67.5 111v7.05M84.5 111v7.05M222.5 132v7.05M228.5 132v7.05M47.5 139v7.05M56.5 139v7.05M59.5 139v7.05M66.5 139v7.05M81.5 139v7.05M134.5 139v7.05M147.5 139v7.05M148.5 139v7.05M154.5 139v7.05M162.5 139v7.05M171.5 139v7.05M173.5 139v7.05M174.5 139v7.05M181.5 139v7.05M222.5 139v7.05M43.5 146v7.05M53.5 146v7.05M55.5 146v7.05M56.5 146v7.05M58.5 146v7.05M59.5 146v7.05M60.5 146v7.05M65.5 146v7.05M67.5 146v7.05M74.5 146v7.05M78.5 146v7.05M81.5 146v7.05M94.5 146v7.05M187.5 160v7.05M188.5 160v7.05M199.5 160v7.05M222.5 160v7.05M227.5 160v7.05" stroke="#305ea4" stroke-width="1.00" shape-rendering="crispEdges"/>
<path d="M138.5 34v7.05M49.5 48v7.05M179.5 48v7.05M194.5 48v7.05M237.5 48v7.05M276.5 48v7.05M281.5 48v7.05M106.5 55v7.05M228.5 55v7.05M104.5 62v7.05M112.5 62v7.05M187.5 69v7.05M261.5 69v7.05M270.5 69v7.05M112.5 76v7.05M114.5 76v7.05M186.5 83v7.05M208.5 83v7.05M226.5 83v7.05M46.5 90v7.05M75.5 90v7.05M77.5 90v7.05M79.5 90v7.05M87.5 90v7.05M207.5 90v7.05M219.5 90v7.05M220.5 90v7.05M221.5 90v7.05M223.5 90v7.05M225.5 90v7.05M226.5 90v7.05M230.5 90v7.05M231.5 90v7.05M232.5 90v7.05M235.5 90v7.05M238.5 90v7.05M239.5 90v7.05M240.5 90v7.05M243.5 90v7.05M244.5 90v7.05M247.5 90v7.05M144.5 111v7.05M252.5 111v7.05M258.5 111v7.05M109.5 118v7.05M167.5 118v7.05M188.5 118v7.05M109.5 146v7.05M194.5 153v7.05" stroke="#465f99" stroke-width="1.00" shape-rendering="crispEdges"/>
<path d="M139.5 34v7.05M155.5 62v7.05M200.5 62v7.05M201.5 62v7.05M207.5 62v7.05M173.5 83v7.05M179.5 83v7.05M201.5 83v7.05M202.5 83v7.05M245.5 83v7.05M166.5 97v7.05M176.5 97v7.05M283.5 97v7.05M187.5 111v7.05M146.5 118v7.05M222.5 118v7.05M279.5 132v7.05M283.5 139v7.05M285.5 139v7.05M286.5 139v7.05M287.5 139v7.05M289.5 139v7.05M290.5 139v7.05M57.5 146v7.05M68.5 146v7.05M77.5 146v7.05M217.5 146v7.05M227.5 146v7.05M228.5 146v7.05M229.5 146v7.05M230.5 146v7.05M231.5 146v7.05M239.5 146v7.05M244.5 146v7.05M245.5 146v7.05M247.5 146v7.05M282.5 146v7.05M283.5 146v7.05M284.5 146v7.05M285.5 146v7.05M149.5 153v7.05M180.5 153v7.05M182.5 153v7.05M188.5 153v7.05M219.5 153v7.05M229.5 153v7.05M230.5 153v7.05M280.5 153v7.05M194.5 160v7.05M201.5 160v7.05M207.5 160v7.05M210.5 160v7.05M220.5 160v7.05M247.5 160v7.05M283.5 160v7.05M142.5 167v7.05" stroke="#3c66aa" stroke-width="1.00" shape-rendering="crispEdges"/>
<path d="M145.5 34v7.05M147.5 34v7.05M148.5 34v7.05M156.5 34v7.05M163.5 34v7.05M164.5 34v7.05M173.5 34v7.05M180.5 34v7.05M47.5 41v7.05M52.5 41v7.05M62.5 41v7.05M63.5 41v7.05M74.5 41v7.05M87.5 41v7.05M89.5 41v7.05M95.5 41v7.05M180.5 41v7.05M164.5 76v7.05M106.5 97v7.05M54.5 125v7.05M62.5 125v7.05M70.5 125v7.05M78.5 125v7.05M94.5 125v7.05M146.5 125v7.05M248.5 132v7.05M250.5 132v7.05M251.5 132v7.05M252.5 132v7.05M253.5 132v7.05M254.5 132v7.05M256.5 132v7.05M257.5 132v7.05M262.5 132v7.05M263.5 132v7.05M264.5 132v7.05M265.5 132v7.05M266.5 132v7.05M249.5 139v7.05M251.5 139v7.05M256.5 139v7.05M257.5 139v7.05M260.5 139v7.05M263.5 139v7.05M269.5 139v7.05M146.5 146v7.05M150.5 146v7.05M153.5 146v7.05M155.5 146v7.05M169.5 146v7.05M250.5 146v7.05M251.5 146v7.05M252.5 146v7.05M254.5 146v7.05M257.5 146v7.05M258.5 146v7.05M259.5 146v7.05M260.5 146v7.05M263.5 146v7.05M265.5 146v7.05M266.5 146v7.05M267.5 146v7.05M269.5 146v7.05M270.5 146v7.05M271.5 146v7.05" stroke="#2761aa" stroke-width="1.00" shape-rendering="crispEdges"/>
<path d="M149.5 34v7.05M154.5 34v7.05M155.5 34v7.05M168.5 34v7.05M171.5 34v7.05M176.5 34v7.05M178.5 34v7.05M179.5 34v7.05M181.5 34v7.05M182.5 34v7.05M183.5 34v7.05M73.5 41v7.05M238.5 62v7.05M147.5 125v7.05M255.5 132v7.05M259.5 132v7.05M267.5 132v7.05M268.5 132v7.05M99.5 139v7.05M250.5 139v7.05M253.5 139v7.05M254.5 139v7.05M255.5 139v7.05M261.5 139v7.05M262.5 139v7.05M267.5 139v7.05M268.5 139v7.05M168.5 146v7.05M264.5 146v7.05M268.5 146v7.05" stroke="#265ea7" stroke-width="1.00" shape-rendering="crispEdges"/>
<path d="M157.5 34v7.05M159.5 34v7.05M222.5 34v7.05M234.5 34v7.05M255.5 34v7.05M264.5 34v7.05M146.5 41v7.05M169.5 41v7.05M241.5 76v7.05M253.5 83v7.05M52.5 97v7.05M63.5 97v7.05M71.5 97v7.05M76.5 97v7.05M79.5 97v7.05M85.5 97v7.05M89.5 97v7.05M91.5 97v7.05M163.5 97v7.05M164.5 97v7.05M165.5 97v7.05M172.5 97v7.05M179.5 97v7.05M180.5 97v7.05M181.5 97v7.05M185.5 97v7.05M186.5 97v7.05M207.5 97v7.05M238.5 97v7.05M239.5 97v7.05M247.5 97v7.05M218.5 132v7.05M221.5 132v7.05M223.5 132v7.05M229.5 132v7.05M238.5 132v7.05M239.5 132v7.05M245.5 132v7.05M247.5 132v7.05M46.5 139v7.05M51.5 139v7.05M53.5 139v7.05M74.5 139v7.05M82.5 139v7.05M89.5 139v7.05M90.5 139v7.05M93.5 139v7.05M145.5 139v7.05M156.5 139v7.05M176.5 139v7.05M182.5 139v7.05M235.5 139v7.05M243.5 139v7.05M277.5 139v7.05M278.5 139v7.05M44.5 146v7.05M79.5 146v7.05M80.5 146v7.05M84.5 146v7.05M45.5 160v7.05M78.5 160v7.05M96.5 167v7.05M104.5 167v7.05M122.5 167v7.05M134.5 167v7.05" stroke="#3365ac" stroke-width="1.00" shape-rendering="crispEdges"/>
<path d="M158.5 34v7.05M285.5 34v7.05M121.5 41v7.05M152.5 41v7.05M230.5 62v7.05M244.5 62v7.05M57.5 76v7.05M99.5 76v7.05M101.5 76v7.05M136.5 76v7.05M139.5 76v7.05M155.5 76v7.05M224.5 76v7.05M271.5 76v7.05M277.5 76v7.05M60.5 97v7.05M68.5 97v7.05M125.5 97v7.05M201.5 97v7.05M209.5 97v7.05M211.5 97v7.05M215.5 97v7.05M198.5 125v7.05M199.5 125v7.05M212.5 125v7.05M289.5 125v7.05M49.5 132v7.05M187.5 132v7.05M87.5 139v7.05M157.5 139v7.05M225.5 139v7.05M148.5 146v7.05M179.5 146v7.05M209.5 146v7.05M278.5 146v7.05M44.5 153v7.05M79.5 160v7.05M100.5 167v7.05M108.5 167v7.05M115.5 167v7.05M135.5 167v7.05M138.5 167v7.05M220.5 167v7.05M278.5 167v7.05" stroke="#4e85c0" stroke-width="1.00" shape-rendering="crispEdges"/>
<path d="M161.5 34v7.05M199.5 34v7.05M288.5 34v7.05M110.5 41v7.05M124.5 41v7.05M148.5 41v7.05M165.5 41v7.05M174.5 41v7.05M175.5 41v7.05M184.5 41v7.05M202.5 41v7.05M203.5 41v7.05M222.5 41v7.05M223.5 62v7.05M60.5 76v7.05M69.5 76v7.05M134.5 76v7.05M147.5 76v7.05M153.5 76v7.05M159.5 76v7.05M193.5 76v7.05M196.5 76v7.05M274.5 76v7.05M276.5 76v7.05M281.5 76v7.05M284.5 76v7.05M45.5 97v7.05M132.5 97v7.05M205.5 97v7.05M206.5 97v7.05M189.5 125v7.05M191.5 125v7.05M202.5 125v7.05M224.5 125v7.05M225.5 125v7.05M60.5 132v7.05M145.5 132v7.05M146.5 132v7.05M191.5 132v7.05M210.5 132v7.05M216.5 132v7.05M200.5 139v7.05M272.5 139v7.05M218.5 167v7.05M236.5 167v7.05M240.5 167v7.05M282.5 167v7.05M283.5 167v7.05" stroke="#3e7bbb" stroke-width="1.00" shape-rendering="crispEdges"/>
<path d="M190.5 34v7.05M191.5 34v7.05M272.5 34v7.05M276.5 34v7.05M151.5 41v7.05M176.5 41v7.05M185.5 41v7.05M196.5 41v7.05M208.5 41v7.05M209.5 41v7.05M217.5 41v7.05M225.5 41v7.05M232.5 41v7.05M237.5 41v7.05M246.5 41v7.05M272.5 41v7.05M275.5 41v7.05M276.5 41v7.05M277.5 41v7.05M290.5 41v7.05M150.5 125v7.05M151.5 125v7.05M152.5 125v7.05M155.5 125v7.05M156.5 125v7.05M157.5 125v7.05M158.5 125v7.05M168.5 125v7.05M169.5 125v7.05M170.5 125v7.05M175.5 125v7.05M182.5 125v7.05M184.5 125v7.05M188.5 125v7.05M193.5 125v7.05M196.5 125v7.05M200.5 125v7.05M201.5 125v7.05M204.5 125v7.05M205.5 125v7.05M206.5 125v7.05M208.5 125v7.05M210.5 125v7.05M214.5 125v7.05M215.5 125v7.05M218.5 125v7.05M222.5 125v7.05M226.5 125v7.05M227.5 125v7.05M242.5 125v7.05M243.5 125v7.05M244.5 125v7.05M285.5 125v7.05M44.5 132v7.05M47.5 132v7.05M51.5 132v7.05M53.5 132v7.05M59.5 132v7.05M61.5 132v7.05M64.5 132v7.05M69.5 132v7.05M70.5 132v7.05M81.5 132v7.05M88.5 132v7.05M95.5 132v7.05M147.5 132v7.05M154.5 132v7.05M162.5 132v7.05M168.5 132v7.05M169.5 132v7.05M178.5 132v7.05M183.5 132v7.05M193.5 132v7.05M200.5 132v7.05M202.5 132v7.05M203.5 132v7.05M204.5 132v7.05M206.5 132v7.05M207.5 132v7.05M208.5 132v7.05M147.5 146v7.05M174.5 146v7.05M178.5 146v7.05M181.5 146v7.05M222.5 167v7.05M229.5 167v7.05M273.5 167v7.05M274.5 167v7.05M275.5 167v7.05M276.5 167v7.05M280.5 167v7.05" stroke="#316ab1" stroke-width="1.00" shape-rendering="crispEdges"/>
<path d="M200.5 34v7.05M219.5 34v7.05M220.5 34v7.05M223.5 34v7.05M225.5 34v7.05M229.5 34v7.05M231.5 34v7.05M235.5 34v7.05M241.5 34v7.05M242.5 34v7.05M243.5 34v7.05M245.5 34v7.05M246.5 34v7.05M249.5 34v7.05M250.5 34v7.05M251.5 34v7.05M252.5 34v7.05M253.5 34v7.05M254.5 34v7.05M258.5 34v7.05M259.5 34v7.05M263.5 34v7.05M265.5 34v7.05M268.5 34v7.05M269.5 34v7.05M271.5 34v7.05M74.5 55v7.05M94.5 62v7.05M64.5 83v7.05M50.5 97v7.05M65.5 97v7.05M70.5 97v7.05M74.5 97v7.05M75.5 97v7.05M77.5 97v7.05M84.5 97v7.05M155.5 97v7.05M159.5 97v7.05M160.5 97v7.05M184.5 97v7.05M188.5 97v7.05M203.5 97v7.05M213.5 97v7.05M217.5 97v7.05M218.5 97v7.05M229.5 97v7.05M230.5 97v7.05M280.5 97v7.05M56.5 111v7.05M219.5 132v7.05M220.5 132v7.05M226.5 132v7.05M227.5 132v7.05M236.5 132v7.05M237.5 132v7.05M246.5 132v7.05M42.5 139v7.05M43.5 139v7.05M52.5 139v7.05M54.5 139v7.05M55.5 139v7.05M60.5 139v7.05M63.5 139v7.05M64.5 139v7.05M65.5 139v7.05M67.5 139v7.05M72.5 139v7.05M73.5 139v7.05M75.5 139v7.05M76.5 139v7.05M77.5 139v7.05M78.5 139v7.05M79.5 139v7.05M80.5 139v7.05M83.5 139v7.05M84.5 139v7.05M85.5 139v7.05M91.5 139v7.05M92.5 139v7.05M94.5 139v7.05M95.5 139v7.05M146.5 139v7.05M151.5 139v7.05M163.5 139v7.05M164.5 139v7.05M177.5 139v7.05M223.5 139v7.05M232.5 139v7.05M234.5 139v7.05M273.5 139v7.05M279.5 139v7.05M54.5 146v7.05M61.5 146v7.05M66.5 146v7.05M45.5 153v7.05M42.5 160v7.05M44.5 160v7.05M55.5 160v7.05M57.5 160v7.05M58.5 160v7.05M68.5 160v7.05M73.5 160v7.05M89.5 160v7.05M93.5 160v7.05M105.5 167v7.05" stroke="#3062aa" stroke-width="1.00" shape-rendering="crispEdges"/>
<path d="M281.5 34v7.05M282.5 34v7.05M290.5 34v7.05M73.5 55v7.05M165.5 55v7.05M286.5 55v7.05M47.5 62v7.05M91.5 62v7.05M53.5 83v7.05M81.5 83v7.05M88.5 83v7.05M255.5 83v7.05M259.5 83v7.05M268.5 83v7.05M276.5 83v7.05M280.5 83v7.05M281.5 83v7.05M282.5 83v7.05M290.5 83v7.05M42.5 97v7.05M48.5 97v7.05M157.5 97v7.05M169.5 97v7.05M175.5 97v7.05M199.5 97v7.05M216.5 97v7.05M232.5 97v7.05M85.5 111v7.05M256.5 118v7.05M111.5 139v7.05M219.5 139v7.05M247.5 139v7.05M280.5 139v7.05M49.5 146v7.05M85.5 146v7.05M101.5 146v7.05M48.5 153v7.05M50.5 153v7.05M60.5 153v7.05M61.5 153v7.05M62.5 153v7.05M71.5 153v7.05M74.5 153v7.05M77.5 153v7.05M82.5 153v7.05M91.5 153v7.05M250.5 153v7.05M258.5 153v7.05M260.5 153v7.05M265.5 153v7.05M266.5 153v7.05" stroke="#285499" stroke-width="1.00" shape-rendering="crispEdges"/>
<path d="M42.5 41v7.05M43.5 41v7.05M44.5 41v7.05M45.5 41v7.05M46.5 41v7.05M48.5 41v7.05M49.5 41v7.05M50.5 41v7.05M51.5 41v7.05M53.5 41v7.05M54.5 41v7.05M55.5 41v7.05M56.5 41v7.05M57.5 41v7.05M58.5 41v7.05M59.5 41v7.05M60.5 41v7.05M61.5 41v7.05M64.5 41v7.05M66.5 41v7.05M67.5 41v7.05M68.5 41v7.05M69.5 41v7.05M70.5 41v7.05M71.5 41v7.05M72.5 41v7.05M75.5 41v7.05M76.5 41v7.05M78.5 41v7.05M79.5 41v7.05M80.5 41v7.05M82.5 41v7.05M83.5 41v7.05M84.5 41v7.05M85.5 41v7.05M86.5 41v7.05M88.5 41v7.05M90.5 41v7.05M91.5 41v7.05M92.5 41v7.05M93.5 41v7.05M94.5 41v7.05M119.5 41v7.05M96.5 97v7.05M42.5 125v7.05M43.5 125v7.05M44.5 125v7.05M45.5 125v7.05M46.5 125v7.05M47.5 125v7.05M48.5 125v7.05M49.5 125v7.05M50.5 125v7.05M51.5 125v7.05M52.5 125v7.05M53.5 125v7.05M55.5 125v7.05M56.5 125v7.05M58.5 125v7.05M59.5 125v7.05M60.5 125v7.05M61.5 125v7.05M63.5 125v7.05M65.5 125v7.05M66.5 125v7.05M69.5 125v7.05M71.5 125v7.05M72.5 125v7.05M73.5 125v7.05M74.5 125v7.05M75.5 125v7.05M76.5 125v7.05M77.5 125v7.05M79.5 125v7.05M80.5 125v7.05M81.5 125v7.05M82.5 125v7.05M83.5 125v7.05M84.5 125v7.05M85.5 125v7.05M86.5 125v7.05M87.5 125v7.05M88.5 125v7.05M89.5 125v7.05M90.5 125v7.05M91.5 125v7.05M92.5 125v7.05M93.5 125v7.05M95.5 125v7.05M252.5 125v7.05M269.5 125v7.05" stroke="#2566ae" stroke-width="1.00" shape-rendering="crispEdges"/>
<path d="M65.5 41v7.05M77.5 41v7.05M81.5 41v7.05M248.5 41v7.05M249.5 41v7.05M251.5 41v7.05M252.5 41v7.05M258.5 41v7.05M259.5 41v7.05M262.5 41v7.05M263.5 41v7.05M264.5 41v7.05M265.5 41v7.05M266.5 41v7.05M267.5 41v7.05M268.5 41v7.05M271.5 41v7.05M48.5 76v7.05M90.5 76v7.05M91.5 76v7.05M152.5 76v7.05M157.5 76v7.05M165.5 76v7.05M167.5 76v7.05M173.5 76v7.05M174.5 76v7.05M177.5 76v7.05M179.5 76v7.05M180.5 76v7.05M181.5 76v7.05M182.5 76v7.05M183.5 76v7.05M57.5 125v7.05M64.5 125v7.05M67.5 125v7.05M68.5 125v7.05M249.5 125v7.05M250.5 125v7.05M251.5 125v7.05M253.5 125v7.05M254.5 125v7.05M255.5 125v7.05M256.5 125v7.05M257.5 125v7.05M258.5 125v7.05M259.5 125v7.05M262.5 125v7.05M263.5 125v7.05M264.5 125v7.05M265.5 125v7.05M266.5 125v7.05M267.5 125v7.05M268.5 125v7.05M270.5 125v7.05M286.5 125v7.05M287.5 125v7.05M290.5 125v7.05M248.5 167v7.05M252.5 167v7.05M271.5 167v7.05" stroke="#2968b1" stroke-width="1.00" shape-rendering="crispEdges"/>
<path d="M96.5 41v7.05M111.5 41v7.05M117.5 41v7.05M126.5 41v7.05M132.5 41v7.05M133.5 41v7.05M139.5 41v7.05M141.5 41v7.05M142.5 41v7.05M144.5 41v7.05M147.5 41v7.05M160.5 41v7.05M166.5 41v7.05M170.5 41v7.05M148.5 55v7.05M184.5 55v7.05M172.5 62v7.05M229.5 62v7.05M235.5 62v7.05M240.5 62v7.05M184.5 69v7.05M195.5 76v7.05M170.5 83v7.05M209.5 83v7.05M247.5 83v7.05M157.5 90v7.05M67.5 97v7.05M82.5 97v7.05M98.5 97v7.05M100.5 97v7.05M108.5 97v7.05M114.5 97v7.05M117.5 97v7.05M119.5 97v7.05M121.5 97v7.05M124.5 97v7.05M131.5 97v7.05M133.5 97v7.05M136.5 97v7.05M144.5 97v7.05M167.5 97v7.05M177.5 97v7.05M223.5 97v7.05M227.5 97v7.05M241.5 97v7.05M48.5 104v7.05M59.5 104v7.05M151.5 111v7.05M170.5 111v7.05M234.5 111v7.05M169.5 118v7.05M176.5 118v7.05M203.5 118v7.05M229.5 118v7.05M275.5 118v7.05M96.5 139v7.05M246.5 139v7.05M69.5 146v7.05M72.5 146v7.05M233.5 146v7.05M279.5 146v7.05M79.5 153v7.05M95.5 153v7.05M195.5 153v7.05M105.5 160v7.05M135.5 160v7.05M179.5 160v7.05M180.5 160v7.05M284.5 160v7.05M99.5 167v7.05M109.5 167v7.05M143.5 167v7.05M219.5 167v7.05M279.5 167v7.05" stroke="#7497c7" stroke-width="1.00" shape-rendering="crispEdges"/>
<path d="M97.5 41v7.05M54.5 48v7.05M182.5 48v7.05M185.5 48v7.05M188.5 48v7.05M191.5 48v7.05M192.5 48v7.05M196.5 48v7.05M197.5 48v7.05M198.5 48v7.05M199.5 48v7.05M203.5 48v7.05M210.5 48v7.05M211.5 48v7.05M213.5 48v7.05M214.5 48v7.05M215.5 48v7.05M218.5 48v7.05M219.5 48v7.05M221.5 48v7.05M229.5 48v7.05M232.5 48v7.05M236.5 48v7.05M239.5 48v7.05M243.5 48v7.05M245.5 48v7.05M246.5 48v7.05M273.5 48v7.05M274.5 48v7.05M275.5 48v7.05M277.5 48v7.05M278.5 48v7.05M280.5 48v7.05M282.5 48v7.05M284.5 48v7.05M225.5 55v7.05M144.5 69v7.05M219.5 69v7.05M221.5 69v7.05M222.5 69v7.05M223.5 69v7.05M234.5 69v7.05M237.5 69v7.05M244.5 69v7.05M246.5 69v7.05M250.5 69v7.05M260.5 69v7.05M262.5 69v7.05M267.5 69v7.05M48.5 90v7.05M49.5 90v7.05M50.5 90v7.05M52.5 90v7.05M59.5 90v7.05M70.5 90v7.05M84.5 90v7.05M85.5 90v7.05M86.5 90v7.05M88.5 90v7.05M228.5 90v7.05M170.5 104v7.05M138.5 111v7.05M155.5 111v7.05M257.5 111v7.05M123.5 132v7.05" stroke="#354579" stroke-width="1.00" shape-rendering="crispEdges"/>
<path d="M98.5 41v7.05M109.5 41v7.05M102.5 76v7.05M111.5 76v7.05M115.5 76v7.05M126.5 76v7.05M140.5 76v7.05M248.5 97v7.05M108.5 139v7.05M144.5 160v7.05" stroke="#0f51a5" stroke-width="1.00" shape-rendering="crispEdges"/>
<path d="M105.5 41v7.05M45.5 76v7.05M46.5 76v7.05M53.5 76v7.05M55.5 76v7.05M62.5 76v7.05M63.5 76v7.05M71.5 76v7.05M72.5 76v7.05M73.5 76v7.05M74.5 76v7.05M78.5 76v7.05M80.5 76v7.05M83.5 76v7.05M84.5 76v7.05M146.5 76v7.05M148.5 76v7.05M156.5 76v7.05M170.5 76v7.05M198.5 76v7.05M210.5 76v7.05M212.5 76v7.05M216.5 76v7.05M43.5 167v7.05M44.5 167v7.05M45.5 167v7.05M46.5 167v7.05M48.5 167v7.05M49.5 167v7.05M50.5 167v7.05M53.5 167v7.05M54.5 167v7.05M60.5 167v7.05M63.5 167v7.05M66.5 167v7.05M67.5 167v7.05M71.5 167v7.05M74.5 167v7.05M75.5 167v7.05M77.5 167v7.05M78.5 167v7.05M79.5 167v7.05M80.5 167v7.05M81.5 167v7.05M82.5 167v7.05M86.5 167v7.05M87.5 167v7.05M90.5 167v7.05M91.5 167v7.05M92.5 167v7.05M93.5 167v7.05M145.5 167v7.05M155.5 167v7.05M156.5 167v7.05M157.5 167v7.05M164.5 167v7.05M165.5 167v7.05M168.5 167v7.05M169.5 167v7.05M172.5 167v7.05M173.5 167v7.05M178.5 167v7.05M179.5 167v7.05M181.5 167v7.05M255.5 167v7.05" stroke="#2d6fb6" stroke-width="1.00" shape-rendering="crispEdges"/>
<path d="M113.5 41v7.05M155.5 55v7.05M282.5 55v7.05M43.5 62v7.05M74.5 62v7.05M78.5 62v7.05M154.5 62v7.05M156.5 62v7.05M185.5 62v7.05M189.5 62v7.05M216.5 62v7.05M219.5 62v7.05M234.5 62v7.05M248.5 62v7.05M156.5 83v7.05M172.5 83v7.05M156.5 90v7.05M169.5 90v7.05M62.5 97v7.05M94.5 97v7.05M137.5 97v7.05M171.5 97v7.05M178.5 97v7.05M224.5 97v7.05M282.5 97v7.05M68.5 104v7.05M221.5 104v7.05M242.5 104v7.05M171.5 111v7.05M205.5 111v7.05M228.5 118v7.05M278.5 118v7.05M275.5 132v7.05M109.5 139v7.05M130.5 139v7.05M131.5 139v7.05M153.5 139v7.05M238.5 139v7.05M220.5 146v7.05M232.5 146v7.05M240.5 146v7.05M170.5 153v7.05M204.5 153v7.05M242.5 153v7.05M279.5 153v7.05M96.5 160v7.05M104.5 160v7.05M167.5 160v7.05M230.5 160v7.05M279.5 160v7.05M288.5 160v7.05M111.5 167v7.05M113.5 167v7.05M117.5 167v7.05M119.5 167v7.05M139.5 167v7.05M141.5 167v7.05" stroke="#517cb6" stroke-width="1.00" shape-rendering="crispEdges"/>
<path d="M150.5 41v7.05M154.5 41v7.05M182.5 41v7.05M201.5 41v7.05M204.5 41v7.05M205.5 41v7.05M42.5 76v7.05M52.5 76v7.05M56.5 76v7.05M65.5 76v7.05M85.5 76v7.05M88.5 76v7.05M95.5 76v7.05M154.5 76v7.05M184.5 76v7.05M188.5 76v7.05M189.5 76v7.05M190.5 76v7.05M192.5 76v7.05M202.5 76v7.05M205.5 76v7.05M206.5 76v7.05M214.5 76v7.05M215.5 76v7.05M272.5 76v7.05M273.5 76v7.05M278.5 76v7.05M280.5 76v7.05M282.5 76v7.05M283.5 76v7.05M285.5 76v7.05M120.5 97v7.05M174.5 125v7.05M230.5 125v7.05M234.5 125v7.05M247.5 125v7.05M212.5 132v7.05M213.5 132v7.05M214.5 132v7.05M186.5 167v7.05M187.5 167v7.05M188.5 167v7.05M189.5 167v7.05M190.5 167v7.05M191.5 167v7.05M192.5 167v7.05M193.5 167v7.05M194.5 167v7.05M195.5 167v7.05M196.5 167v7.05M197.5 167v7.05M198.5 167v7.05M199.5 167v7.05M200.5 167v7.05M201.5 167v7.05M202.5 167v7.05M204.5 167v7.05M205.5 167v7.05M206.5 167v7.05M207.5 167v7.05M208.5 167v7.05M209.5 167v7.05M210.5 167v7.05M211.5 167v7.05M212.5 167v7.05M213.5 167v7.05M214.5 167v7.05M215.5 167v7.05" stroke="#3675b8" stroke-width="1.00" shape-rendering="crispEdges"/>
<path d="M155.5 41v7.05M156.5 41v7.05M157.5 41v7.05M172.5 41v7.05M250.5 41v7.05M253.5 41v7.05M254.5 41v7.05M255.5 41v7.05M256.5 41v7.05M257.5 41v7.05M260.5 41v7.05M261.5 41v7.05M269.5 41v7.05M270.5 41v7.05M43.5 76v7.05M44.5 76v7.05M47.5 76v7.05M49.5 76v7.05M50.5 76v7.05M54.5 76v7.05M59.5 76v7.05M66.5 76v7.05M67.5 76v7.05M68.5 76v7.05M75.5 76v7.05M76.5 76v7.05M81.5 76v7.05M86.5 76v7.05M87.5 76v7.05M89.5 76v7.05M92.5 76v7.05M94.5 76v7.05M145.5 76v7.05M149.5 76v7.05M150.5 76v7.05M151.5 76v7.05M158.5 76v7.05M160.5 76v7.05M161.5 76v7.05M163.5 76v7.05M166.5 76v7.05M168.5 76v7.05M169.5 76v7.05M171.5 76v7.05M172.5 76v7.05M175.5 76v7.05M176.5 76v7.05M178.5 76v7.05M185.5 76v7.05M199.5 76v7.05M200.5 76v7.05M211.5 76v7.05M126.5 97v7.05M248.5 125v7.05M260.5 125v7.05M261.5 125v7.05M271.5 125v7.05M76.5 167v7.05M249.5 167v7.05M250.5 167v7.05M251.5 167v7.05M253.5 167v7.05M254.5 167v7.05M256.5 167v7.05M257.5 167v7.05M258.5 167v7.05M259.5 167v7.05M260.5 167v7.05M261.5 167v7.05M262.5 167v7.05M263.5 167v7.05M264.5 167v7.05M265.5 167v7.05M266.5 167v7.05M267.5 167v7.05M268.5 167v7.05M270.5 167v7.05" stroke="#2d6cb3" stroke-width="1.00" shape-rendering="crispEdges"/>
<path d="M283.5 41v7.05M284.5 41v7.05M285.5 41v7.05M85.5 55v7.05M153.5 55v7.05M69.5 62v7.05M231.5 62v7.05M219.5 76v7.05M220.5 76v7.05M221.5 76v7.05M222.5 76v7.05M227.5 76v7.05M229.5 76v7.05M230.5 76v7.05M233.5 76v7.05M236.5 76v7.05M240.5 76v7.05M243.5 76v7.05M247.5 76v7.05M250.5 76v7.05M252.5 76v7.05M253.5 76v7.05M255.5 76v7.05M259.5 76v7.05M261.5 76v7.05M262.5 76v7.05M263.5 76v7.05M265.5 76v7.05M266.5 76v7.05M267.5 76v7.05M268.5 76v7.05M270.5 76v7.05M66.5 83v7.05M43.5 97v7.05M66.5 97v7.05M189.5 97v7.05M192.5 97v7.05M193.5 97v7.05M208.5 97v7.05M220.5 97v7.05M228.5 97v7.05M244.5 97v7.05M276.5 97v7.05M59.5 111v7.05M79.5 111v7.05M50.5 132v7.05M225.5 132v7.05M232.5 132v7.05M235.5 132v7.05M242.5 132v7.05M281.5 132v7.05M283.5 132v7.05M284.5 132v7.05M286.5 132v7.05M290.5 132v7.05M48.5 139v7.05M49.5 139v7.05M150.5 139v7.05M159.5 139v7.05M165.5 139v7.05M168.5 139v7.05M170.5 139v7.05M183.5 139v7.05M185.5 139v7.05M186.5 139v7.05M188.5 139v7.05M190.5 139v7.05M193.5 139v7.05M194.5 139v7.05M196.5 139v7.05M197.5 139v7.05M199.5 139v7.05M201.5 139v7.05M202.5 139v7.05M203.5 139v7.05M204.5 139v7.05M206.5 139v7.05M207.5 139v7.05M208.5 139v7.05M210.5 139v7.05M211.5 139v7.05M212.5 139v7.05M213.5 139v7.05M214.5 139v7.05M215.5 139v7.05M218.5 139v7.05M240.5 139v7.05M274.5 139v7.05M281.5 139v7.05M288.5 139v7.05M93.5 146v7.05M189.5 146v7.05M190.5 146v7.05M191.5 146v7.05M192.5 146v7.05M194.5 146v7.05M195.5 146v7.05M198.5 146v7.05M199.5 146v7.05M200.5 146v7.05M204.5 146v7.05M205.5 146v7.05M210.5 146v7.05M212.5 146v7.05M213.5 146v7.05M216.5 146v7.05M281.5 146v7.05M92.5 160v7.05M102.5 167v7.05M107.5 167v7.05M110.5 167v7.05M125.5 167v7.05M126.5 167v7.05M127.5 167v7.05M144.5 167v7.05" stroke="#3a6eb0" stroke-width="1.00" shape-rendering="crispEdges"/>
<path d="M42.5 48v7.05M44.5 48v7.05M51.5 48v7.05M55.5 48v7.05M57.5 48v7.05M58.5 48v7.05M59.5 48v7.05M60.5 48v7.05M61.5 48v7.05M62.5 48v7.05M63.5 48v7.05M64.5 48v7.05M65.5 48v7.05M66.5 48v7.05M67.5 48v7.05M69.5 48v7.05M74.5 48v7.05M95.5 48v7.05M145.5 48v7.05M146.5 48v7.05M150.5 48v7.05M151.5 48v7.05M152.5 48v7.05M153.5 48v7.05M158.5 48v7.05M159.5 48v7.05M163.5 48v7.05M164.5 48v7.05M165.5 48v7.05M166.5 48v7.05M168.5 48v7.05M172.5 48v7.05M173.5 48v7.05M216.5 48v7.05M259.5 48v7.05M286.5 48v7.05M121.5 55v7.05M272.5 62v7.05M254.5 69v7.05M255.5 69v7.05M256.5 69v7.05M108.5 76v7.05M145.5 90v7.05M160.5 90v7.05M109.5 125v7.05M114.5 125v7.05M127.5 132v7.05M140.5 132v7.05M135.5 153v7.05" stroke="#203062" stroke-width="1.00" shape-rendering="crispEdges"/>
<path d="M43.5 48v7.05M171.5 48v7.05M181.5 48v7.05M190.5 55v7.05M212.5 55v7.05M213.5 55v7.05M218.5 55v7.05M222.5 55v7.05M233.5 55v7.05M241.5 55v7.05M243.5 55v7.05M273.5 55v7.05M278.5 55v7.05M63.5 62v7.05M65.5 62v7.05M146.5 62v7.05M162.5 62v7.05M165.5 62v7.05M166.5 62v7.05M167.5 62v7.05M177.5 62v7.05M186.5 62v7.05M198.5 62v7.05M205.5 62v7.05M213.5 62v7.05M214.5 62v7.05M254.5 62v7.05M262.5 62v7.05M263.5 62v7.05M266.5 62v7.05M267.5 62v7.05M278.5 62v7.05M156.5 69v7.05M166.5 69v7.05M175.5 69v7.05M284.5 69v7.05M285.5 69v7.05M146.5 83v7.05M148.5 83v7.05M150.5 83v7.05M161.5 83v7.05M165.5 83v7.05M166.5 83v7.05M167.5 83v7.05M175.5 83v7.05M183.5 83v7.05M190.5 83v7.05M200.5 83v7.05M215.5 83v7.05M233.5 83v7.05M237.5 83v7.05M239.5 83v7.05M241.5 83v7.05M243.5 83v7.05M214.5 90v7.05M215.5 90v7.05M254.5 90v7.05M263.5 90v7.05M266.5 90v7.05M271.5 90v7.05M284.5 97v7.05M44.5 104v7.05M55.5 104v7.05M61.5 104v7.05M77.5 104v7.05M152.5 104v7.05M153.5 104v7.05M162.5 104v7.05M167.5 104v7.05M174.5 104v7.05M250.5 104v7.05M251.5 104v7.05M253.5 104v7.05M254.5 104v7.05M255.5 104v7.05M256.5 104v7.05M261.5 104v7.05M264.5 104v7.05M163.5 111v7.05M175.5 111v7.05M181.5 111v7.05M183.5 111v7.05M185.5 111v7.05M218.5 111v7.05M232.5 111v7.05M237.5 111v7.05M242.5 111v7.05M244.5 111v7.05M246.5 111v7.05M276.5 111v7.05M151.5 118v7.05M157.5 118v7.05M161.5 118v7.05M162.5 118v7.05M178.5 118v7.05M182.5 118v7.05M218.5 118v7.05M227.5 118v7.05M231.5 118v7.05M235.5 118v7.05M239.5 118v7.05M242.5 118v7.05M247.5 118v7.05M279.5 118v7.05M281.5 118v7.05M107.5 146v7.05M115.5 146v7.05M148.5 153v7.05M152.5 153v7.05M153.5 153v7.05M156.5 153v7.05M160.5 153v7.05M161.5 153v7.05M174.5 153v7.05M181.5 153v7.05M189.5 153v7.05M192.5 153v7.05M202.5 153v7.05M206.5 153v7.05M207.5 153v7.05M212.5 153v7.05M214.5 153v7.05M245.5 153v7.05M145.5 160v7.05M149.5 160v7.05M158.5 160v7.05M160.5 160v7.05M169.5 160v7.05M177.5 160v7.05M185.5 160v7.05M190.5 160v7.05M211.5 160v7.05M242.5 160v7.05" stroke="#2f4c8b" stroke-width="1.00" shape-rendering="crispEdges"/>
<path d="M45.5 48v7.05M50.5 48v7.05M52.5 48v7.05M56.5 48v7.05M68.5 48v7.05M71.5 48v7.05M73.5 48v7.05M75.5 48v7.05M77.5 48v7.05M81.5 48v7.05M82.5 48v7.05M85.5 48v7.05M88.5 48v7.05M89.5 48v7.05M91.5 48v7.05M92.5 48v7.05M147.5 48v7.05M149.5 48v7.05M155.5 48v7.05M156.5 48v7.05M162.5 48v7.05M169.5 48v7.05M174.5 48v7.05M175.5 48v7.05M177.5 48v7.05M178.5 48v7.05M180.5 48v7.05M184.5 48v7.05M186.5 48v7.05M209.5 48v7.05M217.5 48v7.05M222.5 48v7.05M223.5 48v7.05M230.5 48v7.05M231.5 48v7.05M235.5 48v7.05M240.5 48v7.05M279.5 48v7.05M285.5 48v7.05M120.5 55v7.05M285.5 55v7.05M184.5 62v7.05M229.5 69v7.05M230.5 69v7.05M232.5 69v7.05M233.5 69v7.05M247.5 69v7.05M248.5 69v7.05M252.5 69v7.05M253.5 69v7.05M257.5 69v7.05M258.5 69v7.05M263.5 69v7.05M264.5 69v7.05M110.5 76v7.05M141.5 76v7.05M182.5 83v7.05M51.5 90v7.05M193.5 90v7.05M281.5 90v7.05M42.5 104v7.05M70.5 104v7.05M71.5 104v7.05M92.5 104v7.05M93.5 104v7.05M160.5 104v7.05M176.5 104v7.05M104.5 111v7.05M145.5 111v7.05M166.5 111v7.05M184.5 111v7.05M216.5 111v7.05M225.5 118v7.05M145.5 153v7.05" stroke="#2a3a6e" stroke-width="1.00" shape-rendering="crispEdges"/>
<path d="M47.5 48v7.05M87.5 48v7.05M206.5 48v7.05M164.5 55v7.05M187.5 55v7.05M195.5 55v7.05M197.5 55v7.05M208.5 55v7.05M230.5 55v7.05M239.5 55v7.05M279.5 55v7.05M171.5 62v7.05M194.5 62v7.05M195.5 62v7.05M197.5 62v7.05M249.5 62v7.05M252.5 62v7.05M258.5 62v7.05M260.5 62v7.05M191.5 69v7.05M197.5 69v7.05M202.5 69v7.05M203.5 69v7.05M205.5 69v7.05M211.5 69v7.05M213.5 69v7.05M215.5 69v7.05M216.5 69v7.05M155.5 83v7.05M160.5 83v7.05M168.5 83v7.05M236.5 83v7.05M43.5 90v7.05M278.5 90v7.05M283.5 90v7.05M111.5 97v7.05M152.5 97v7.05M75.5 104v7.05M84.5 104v7.05M165.5 104v7.05M169.5 104v7.05M171.5 104v7.05M190.5 104v7.05M193.5 104v7.05M196.5 104v7.05M200.5 104v7.05M201.5 104v7.05M202.5 104v7.05M204.5 104v7.05M205.5 104v7.05M209.5 104v7.05M211.5 104v7.05M216.5 104v7.05M218.5 104v7.05M222.5 104v7.05M223.5 104v7.05M224.5 104v7.05M226.5 104v7.05M227.5 104v7.05M230.5 104v7.05M233.5 104v7.05M235.5 104v7.05M236.5 104v7.05M237.5 104v7.05M238.5 104v7.05M243.5 104v7.05M244.5 104v7.05M274.5 104v7.05M281.5 104v7.05M71.5 111v7.05M169.5 111v7.05M182.5 111v7.05M42.5 118v7.05M45.5 118v7.05M50.5 118v7.05M51.5 118v7.05M52.5 118v7.05M54.5 118v7.05M55.5 118v7.05M56.5 118v7.05M57.5 118v7.05M62.5 118v7.05M66.5 118v7.05M67.5 118v7.05M68.5 118v7.05M77.5 118v7.05M83.5 118v7.05M94.5 118v7.05M148.5 118v7.05M163.5 118v7.05M171.5 118v7.05M173.5 118v7.05M185.5 118v7.05M189.5 118v7.05M190.5 118v7.05M192.5 118v7.05M193.5 118v7.05M196.5 118v7.05M199.5 118v7.05M200.5 118v7.05M201.5 118v7.05M284.5 118v7.05M117.5 125v7.05M127.5 139v7.05M111.5 146v7.05M224.5 146v7.05M286.5 146v7.05M287.5 146v7.05M289.5 146v7.05M157.5 153v7.05M289.5 153v7.05M143.5 160v7.05" stroke="#4163a2" stroke-width="1.00" shape-rendering="crispEdges"/>
<path d="M48.5 48v7.05M70.5 48v7.05M78.5 48v7.05M79.5 48v7.05M94.5 48v7.05M170.5 48v7.05M202.5 55v7.05M204.5 55v7.05M205.5 55v7.05M209.5 55v7.05M234.5 55v7.05M245.5 55v7.05M246.5 55v7.05M277.5 55v7.05M281.5 55v7.05M75.5 62v7.05M145.5 62v7.05M175.5 62v7.05M176.5 62v7.05M273.5 62v7.05M145.5 69v7.05M146.5 69v7.05M147.5 69v7.05M150.5 69v7.05M151.5 69v7.05M160.5 69v7.05M163.5 69v7.05M149.5 83v7.05M181.5 83v7.05M170.5 90v7.05M181.5 90v7.05M186.5 90v7.05M192.5 90v7.05M194.5 90v7.05M204.5 90v7.05M212.5 90v7.05M213.5 90v7.05M250.5 90v7.05M251.5 90v7.05M256.5 90v7.05M257.5 90v7.05M259.5 90v7.05M262.5 90v7.05M268.5 90v7.05M269.5 90v7.05M270.5 90v7.05M282.5 90v7.05M289.5 90v7.05M43.5 104v7.05M46.5 104v7.05M51.5 104v7.05M56.5 104v7.05M57.5 104v7.05M62.5 104v7.05M63.5 104v7.05M65.5 104v7.05M66.5 104v7.05M76.5 104v7.05M78.5 104v7.05M80.5 104v7.05M85.5 104v7.05M86.5 104v7.05M89.5 104v7.05M90.5 104v7.05M91.5 104v7.05M94.5 104v7.05M95.5 104v7.05M163.5 104v7.05M175.5 104v7.05M177.5 104v7.05M262.5 104v7.05M267.5 104v7.05M269.5 104v7.05M51.5 111v7.05M160.5 111v7.05M161.5 111v7.05M164.5 111v7.05M165.5 111v7.05M167.5 111v7.05M176.5 111v7.05M177.5 111v7.05M201.5 111v7.05M209.5 111v7.05M210.5 111v7.05M211.5 111v7.05M220.5 111v7.05M239.5 111v7.05M246.5 118v7.05M273.5 118v7.05M282.5 118v7.05M104.5 153v7.05M147.5 153v7.05M154.5 153v7.05M155.5 153v7.05M164.5 153v7.05M165.5 153v7.05M184.5 153v7.05M159.5 160v7.05M280.5 160v7.05" stroke="#29427d" stroke-width="1.00" shape-rendering="crispEdges"/>
<path d="M72.5 48v7.05M86.5 48v7.05M157.5 48v7.05M160.5 48v7.05M161.5 48v7.05M167.5 48v7.05M267.5 48v7.05M191.5 55v7.05M192.5 55v7.05M193.5 55v7.05M201.5 55v7.05M206.5 55v7.05M207.5 55v7.05M217.5 55v7.05M235.5 55v7.05M236.5 55v7.05M240.5 55v7.05M244.5 55v7.05M274.5 55v7.05M276.5 55v7.05M174.5 62v7.05M180.5 62v7.05M181.5 62v7.05M268.5 62v7.05M279.5 62v7.05M148.5 69v7.05M161.5 69v7.05M168.5 69v7.05M176.5 69v7.05M179.5 69v7.05M182.5 69v7.05M183.5 69v7.05M281.5 69v7.05M282.5 69v7.05M283.5 69v7.05M145.5 83v7.05M147.5 83v7.05M152.5 83v7.05M176.5 83v7.05M180.5 83v7.05M191.5 83v7.05M216.5 83v7.05M220.5 83v7.05M221.5 83v7.05M66.5 90v7.05M69.5 90v7.05M83.5 90v7.05M155.5 90v7.05M158.5 90v7.05M168.5 90v7.05M200.5 90v7.05M210.5 90v7.05M211.5 90v7.05M216.5 90v7.05M252.5 90v7.05M253.5 90v7.05M255.5 90v7.05M261.5 90v7.05M267.5 90v7.05M274.5 90v7.05M284.5 90v7.05M286.5 90v7.05M288.5 90v7.05M290.5 90v7.05M45.5 104v7.05M52.5 104v7.05M54.5 104v7.05M69.5 104v7.05M151.5 104v7.05M158.5 104v7.05M161.5 104v7.05M178.5 104v7.05M252.5 104v7.05M257.5 104v7.05M258.5 104v7.05M259.5 104v7.05M263.5 104v7.05M265.5 104v7.05M266.5 104v7.05M268.5 104v7.05M270.5 104v7.05M271.5 104v7.05M149.5 111v7.05M154.5 111v7.05M162.5 111v7.05M178.5 111v7.05M179.5 111v7.05M180.5 111v7.05M197.5 111v7.05M198.5 111v7.05M212.5 111v7.05M219.5 111v7.05M238.5 111v7.05M245.5 111v7.05M283.5 111v7.05M284.5 111v7.05M179.5 118v7.05M181.5 118v7.05M224.5 118v7.05M226.5 118v7.05M232.5 118v7.05M258.5 118v7.05M259.5 118v7.05M280.5 118v7.05M101.5 153v7.05M146.5 153v7.05M151.5 153v7.05M166.5 153v7.05M172.5 153v7.05M175.5 153v7.05M185.5 153v7.05M213.5 153v7.05M246.5 153v7.05M146.5 160v7.05M150.5 160v7.05M151.5 160v7.05" stroke="#2d4884" stroke-width="1.00" shape-rendering="crispEdges"/>
<path d="M76.5 48v7.05M90.5 48v7.05M186.5 55v7.05M189.5 55v7.05M196.5 55v7.05M211.5 55v7.05M214.5 55v7.05M215.5 55v7.05M216.5 55v7.05M275.5 55v7.05M284.5 55v7.05M158.5 62v7.05M159.5 62v7.05M169.5 62v7.05M178.5 62v7.05M179.5 62v7.05M183.5 62v7.05M209.5 62v7.05M253.5 62v7.05M255.5 62v7.05M265.5 62v7.05M271.5 62v7.05M249.5 69v7.05M153.5 83v7.05M158.5 83v7.05M159.5 83v7.05M162.5 83v7.05M163.5 83v7.05M164.5 83v7.05M177.5 83v7.05M187.5 83v7.05M193.5 83v7.05M194.5 83v7.05M195.5 83v7.05M197.5 83v7.05M198.5 83v7.05M204.5 83v7.05M206.5 83v7.05M211.5 83v7.05M212.5 83v7.05M214.5 83v7.05M219.5 83v7.05M228.5 83v7.05M229.5 83v7.05M234.5 83v7.05M235.5 83v7.05M238.5 83v7.05M242.5 83v7.05M91.5 90v7.05M93.5 90v7.05M165.5 90v7.05M185.5 90v7.05M276.5 90v7.05M64.5 104v7.05M79.5 104v7.05M81.5 104v7.05M87.5 104v7.05M145.5 104v7.05M147.5 104v7.05M155.5 104v7.05M159.5 104v7.05M148.5 111v7.05M158.5 111v7.05M159.5 111v7.05M172.5 111v7.05M193.5 111v7.05M200.5 111v7.05M202.5 111v7.05M213.5 111v7.05M236.5 111v7.05M240.5 111v7.05M241.5 111v7.05M243.5 111v7.05M272.5 111v7.05M280.5 111v7.05M289.5 111v7.05M149.5 118v7.05M153.5 118v7.05M164.5 118v7.05M217.5 118v7.05M219.5 118v7.05M233.5 118v7.05M125.5 125v7.05M150.5 153v7.05M158.5 153v7.05M171.5 153v7.05M191.5 153v7.05M193.5 153v7.05M199.5 153v7.05M200.5 153v7.05M218.5 153v7.05M221.5 153v7.05M234.5 153v7.05M241.5 153v7.05M244.5 153v7.05M154.5 160v7.05M156.5 160v7.05M157.5 160v7.05M172.5 160v7.05M173.5 160v7.05M182.5 160v7.05M184.5 160v7.05M219.5 160v7.05" stroke="#335190" stroke-width="1.00" shape-rendering="crispEdges"/>
<path d="M80.5 48v7.05M242.5 48v7.05M198.5 55v7.05M221.5 55v7.05M232.5 55v7.05M247.5 55v7.05M191.5 62v7.05M199.5 62v7.05M202.5 62v7.05M203.5 62v7.05M206.5 62v7.05M208.5 62v7.05M215.5 62v7.05M250.5 62v7.05M269.5 62v7.05M270.5 62v7.05M275.5 62v7.05M281.5 62v7.05M282.5 62v7.05M283.5 62v7.05M200.5 69v7.05M204.5 69v7.05M210.5 69v7.05M212.5 69v7.05M157.5 83v7.05M203.5 83v7.05M227.5 83v7.05M230.5 83v7.05M232.5 83v7.05M244.5 83v7.05M195.5 90v7.05M202.5 90v7.05M205.5 90v7.05M277.5 90v7.05M285.5 97v7.05M82.5 104v7.05M154.5 104v7.05M168.5 104v7.05M182.5 104v7.05M192.5 104v7.05M282.5 104v7.05M191.5 111v7.05M222.5 111v7.05M226.5 111v7.05M230.5 111v7.05M277.5 111v7.05M290.5 111v7.05M143.5 118v7.05M197.5 118v7.05M198.5 118v7.05M103.5 125v7.05M138.5 146v7.05M177.5 153v7.05M273.5 153v7.05M275.5 153v7.05M276.5 153v7.05M290.5 153v7.05M99.5 160v7.05M147.5 160v7.05M153.5 160v7.05M178.5 160v7.05M205.5 160v7.05M231.5 160v7.05M286.5 160v7.05M289.5 160v7.05" stroke="#395999" stroke-width="1.00" shape-rendering="crispEdges"/>
<path d="M96.5 48v7.05M99.5 48v7.05M101.5 48v7.05M104.5 48v7.05M110.5 48v7.05M111.5 48v7.05M119.5 48v7.05M131.5 48v7.05M103.5 55v7.05M112.5 55v7.05M114.5 55v7.05M115.5 55v7.05M118.5 55v7.05M143.5 55v7.05M100.5 62v7.05M106.5 62v7.05M138.5 62v7.05M102.5 69v7.05M105.5 69v7.05M106.5 69v7.05M113.5 69v7.05M139.5 69v7.05M142.5 69v7.05M143.5 69v7.05M288.5 76v7.05M289.5 76v7.05M290.5 76v7.05M99.5 83v7.05M104.5 83v7.05M105.5 83v7.05M106.5 83v7.05M111.5 83v7.05M113.5 83v7.05M120.5 83v7.05M123.5 83v7.05M126.5 83v7.05M127.5 83v7.05M129.5 83v7.05M133.5 83v7.05M141.5 83v7.05M100.5 90v7.05M112.5 90v7.05M116.5 90v7.05M106.5 104v7.05M111.5 104v7.05M112.5 104v7.05M118.5 104v7.05M127.5 104v7.05M128.5 104v7.05M129.5 104v7.05M134.5 104v7.05M96.5 111v7.05M97.5 111v7.05M111.5 111v7.05M130.5 111v7.05M142.5 111v7.05M103.5 118v7.05M144.5 118v7.05M137.5 132v7.05" stroke="#a65c66" stroke-width="1.00" shape-rendering="crispEdges"/>
<path d="M97.5 48v7.05M100.5 48v7.05M108.5 48v7.05M109.5 48v7.05M117.5 48v7.05M134.5 48v7.05M108.5 55v7.05M134.5 55v7.05M98.5 62v7.05M110.5 62v7.05M124.5 62v7.05M126.5 62v7.05M130.5 62v7.05M133.5 62v7.05M134.5 62v7.05M137.5 62v7.05M97.5 69v7.05M99.5 69v7.05M101.5 69v7.05M107.5 69v7.05M110.5 69v7.05M111.5 69v7.05M114.5 69v7.05M120.5 69v7.05M121.5 69v7.05M125.5 69v7.05M128.5 69v7.05M132.5 69v7.05M136.5 69v7.05M279.5 69v7.05M100.5 83v7.05M107.5 83v7.05M110.5 83v7.05M122.5 83v7.05M124.5 83v7.05M139.5 83v7.05M140.5 83v7.05M111.5 90v7.05M117.5 90v7.05M135.5 90v7.05M141.5 90v7.05M143.5 90v7.05M129.5 97v7.05M134.5 97v7.05M98.5 104v7.05M116.5 111v7.05M118.5 111v7.05M133.5 111v7.05M102.5 118v7.05M104.5 118v7.05M111.5 118v7.05M113.5 118v7.05M125.5 118v7.05M105.5 125v7.05M128.5 125v7.05M129.5 125v7.05M100.5 132v7.05M105.5 132v7.05M106.5 132v7.05M111.5 132v7.05M112.5 132v7.05M115.5 132v7.05M116.5 132v7.05M136.5 132v7.05M143.5 132v7.05M117.5 146v7.05M120.5 146v7.05M121.5 146v7.05M125.5 146v7.05M111.5 153v7.05M112.5 153v7.05M118.5 153v7.05M119.5 153v7.05M125.5 153v7.05M129.5 153v7.05M132.5 153v7.05M116.5 160v7.05M119.5 160v7.05M127.5 160v7.05M137.5 160v7.05" stroke="#946f88" stroke-width="1.00" shape-rendering="crispEdges"/>
<path d="M102.5 48v7.05M107.5 48v7.05M114.5 48v7.05M115.5 48v7.05M120.5 48v7.05M124.5 48v7.05M130.5 48v7.05M132.5 48v7.05M119.5 55v7.05M122.5 55v7.05M127.5 55v7.05M130.5 55v7.05M137.5 55v7.05M96.5 62v7.05M116.5 62v7.05M129.5 62v7.05M98.5 69v7.05M104.5 69v7.05M130.5 69v7.05M131.5 69v7.05M137.5 69v7.05M138.5 69v7.05M286.5 76v7.05M287.5 76v7.05M98.5 83v7.05M109.5 83v7.05M112.5 83v7.05M125.5 83v7.05M138.5 83v7.05M104.5 90v7.05M107.5 90v7.05M136.5 90v7.05M144.5 90v7.05M113.5 104v7.05M117.5 104v7.05M122.5 104v7.05M108.5 111v7.05M120.5 111v7.05M121.5 111v7.05M122.5 111v7.05M123.5 111v7.05M143.5 111v7.05M112.5 118v7.05M135.5 118v7.05M136.5 118v7.05M109.5 132v7.05M110.5 132v7.05M135.5 132v7.05M96.5 146v7.05M96.5 153v7.05" stroke="#903148" stroke-width="1.00" shape-rendering="crispEdges"/>
<path d="M112.5 48v7.05M113.5 48v7.05M116.5 48v7.05M121.5 48v7.05M122.5 48v7.05M125.5 48v7.05M126.5 48v7.05M127.5 48v7.05M128.5 48v7.05M129.5 48v7.05M133.5 48v7.05M137.5 48v7.05M138.5 48v7.05M139.5 48v7.05M140.5 48v7.05M141.5 48v7.05M142.5 48v7.05M143.5 48v7.05M144.5 48v7.05M101.5 55v7.05M102.5 55v7.05M111.5 55v7.05M113.5 55v7.05M116.5 55v7.05M117.5 55v7.05M125.5 55v7.05M126.5 55v7.05M128.5 55v7.05M129.5 55v7.05M141.5 55v7.05M142.5 55v7.05M102.5 62v7.05M123.5 62v7.05M108.5 69v7.05M117.5 69v7.05M118.5 69v7.05M129.5 69v7.05M114.5 83v7.05M119.5 83v7.05M121.5 83v7.05M128.5 83v7.05M130.5 83v7.05M131.5 83v7.05M132.5 83v7.05M137.5 83v7.05M96.5 90v7.05M97.5 90v7.05M98.5 90v7.05M101.5 90v7.05M102.5 90v7.05M103.5 90v7.05M106.5 90v7.05M108.5 90v7.05M113.5 90v7.05M115.5 90v7.05M120.5 90v7.05M121.5 90v7.05M122.5 90v7.05M123.5 90v7.05M124.5 90v7.05M126.5 90v7.05M128.5 90v7.05M129.5 90v7.05M130.5 90v7.05M131.5 90v7.05M132.5 90v7.05M133.5 90v7.05M134.5 90v7.05M102.5 104v7.05M103.5 104v7.05M107.5 104v7.05M108.5 104v7.05M109.5 104v7.05M119.5 104v7.05M121.5 104v7.05M123.5 104v7.05M124.5 104v7.05M125.5 104v7.05M126.5 104v7.05M130.5 104v7.05M132.5 104v7.05M138.5 104v7.05M142.5 104v7.05M143.5 104v7.05M98.5 111v7.05M109.5 111v7.05M110.5 111v7.05M113.5 111v7.05M114.5 111v7.05M115.5 111v7.05M288.5 118v7.05" stroke="#b5818c" stroke-width="1.00" shape-rendering="crispEdges"/>
<path d="M148.5 48v7.05M154.5 48v7.05M176.5 48v7.05M207.5 48v7.05M224.5 48v7.05M194.5 55v7.05M200.5 55v7.05M219.5 55v7.05M220.5 55v7.05M237.5 55v7.05M238.5 55v7.05M242.5 55v7.05M272.5 55v7.05M150.5 62v7.05M187.5 62v7.05M193.5 62v7.05M210.5 62v7.05M212.5 62v7.05M256.5 62v7.05M285.5 62v7.05M209.5 69v7.05M227.5 69v7.05M231.5 69v7.05M218.5 83v7.05M222.5 83v7.05M240.5 83v7.05M44.5 90v7.05M57.5 90v7.05M62.5 90v7.05M68.5 90v7.05M71.5 90v7.05M80.5 90v7.05M90.5 90v7.05M95.5 90v7.05M189.5 90v7.05M196.5 90v7.05M197.5 90v7.05M199.5 90v7.05M203.5 90v7.05M275.5 90v7.05M226.5 97v7.05M72.5 104v7.05M157.5 104v7.05M166.5 104v7.05M283.5 104v7.05M284.5 104v7.05M285.5 104v7.05M69.5 111v7.05M146.5 111v7.05M150.5 111v7.05M173.5 111v7.05M204.5 111v7.05M224.5 111v7.05M227.5 111v7.05M229.5 111v7.05M231.5 111v7.05M273.5 111v7.05M275.5 111v7.05M278.5 111v7.05M281.5 111v7.05M282.5 111v7.05M286.5 111v7.05M288.5 111v7.05M82.5 118v7.05M216.5 118v7.05M230.5 118v7.05M240.5 118v7.05M245.5 118v7.05M274.5 118v7.05M276.5 118v7.05M134.5 125v7.05M128.5 153v7.05M203.5 153v7.05M205.5 153v7.05M243.5 153v7.05M168.5 160v7.05" stroke="#385593" stroke-width="1.00" shape-rendering="crispEdges"/>
<path d="M187.5 48v7.05M189.5 48v7.05M190.5 48v7.05M193.5 48v7.05M195.5 48v7.05M201.5 48v7.05M202.5 48v7.05M208.5 48v7.05M212.5 48v7.05M220.5 48v7.05M225.5 48v7.05M226.5 48v7.05M233.5 48v7.05M234.5 48v7.05M241.5 48v7.05M247.5 48v7.05M272.5 48v7.05M283.5 48v7.05M136.5 55v7.05M223.5 55v7.05M161.5 62v7.05M218.5 69v7.05M220.5 69v7.05M224.5 69v7.05M226.5 69v7.05M228.5 69v7.05M236.5 69v7.05M238.5 69v7.05M239.5 69v7.05M240.5 69v7.05M241.5 69v7.05M243.5 69v7.05M245.5 69v7.05M251.5 69v7.05M259.5 69v7.05M268.5 69v7.05M42.5 90v7.05M45.5 90v7.05M53.5 90v7.05M58.5 90v7.05M60.5 90v7.05M67.5 90v7.05M76.5 90v7.05M89.5 90v7.05M92.5 90v7.05M94.5 90v7.05M227.5 90v7.05M246.5 90v7.05M273.5 90v7.05M279.5 90v7.05M280.5 90v7.05M49.5 104v7.05M58.5 104v7.05M74.5 104v7.05M150.5 104v7.05M164.5 104v7.05M173.5 104v7.05M179.5 104v7.05M248.5 111v7.05M254.5 111v7.05M256.5 111v7.05M261.5 111v7.05M264.5 111v7.05M243.5 118v7.05M120.5 132v7.05" stroke="#3a4d86" stroke-width="1.00" shape-rendering="crispEdges"/>
<path d="M227.5 48v7.05M244.5 48v7.05M260.5 48v7.05M262.5 48v7.05M264.5 48v7.05M268.5 48v7.05M107.5 55v7.05M226.5 55v7.05M97.5 62v7.05M108.5 62v7.05M111.5 62v7.05M232.5 62v7.05M265.5 69v7.05M54.5 90v7.05M63.5 90v7.05M65.5 90v7.05M187.5 90v7.05M209.5 90v7.05M217.5 90v7.05M224.5 90v7.05M229.5 90v7.05M245.5 90v7.05M117.5 111v7.05M134.5 111v7.05M233.5 111v7.05M249.5 111v7.05M250.5 111v7.05M253.5 111v7.05M260.5 111v7.05M262.5 111v7.05M263.5 111v7.05M265.5 111v7.05M267.5 111v7.05M268.5 111v7.05M270.5 111v7.05M271.5 111v7.05M103.5 132v7.05M114.5 146v7.05M123.5 146v7.05M167.5 153v7.05M285.5 153v7.05" stroke="#45568d" stroke-width="1.00" shape-rendering="crispEdges"/>
<path d="M238.5 48v7.05M157.5 55v7.05M162.5 55v7.05M231.5 55v7.05M204.5 62v7.05M261.5 62v7.05M190.5 69v7.05M208.5 69v7.05M214.5 69v7.05M225.5 69v7.05M242.5 69v7.05M271.5 69v7.05M47.5 90v7.05M61.5 90v7.05M237.5 90v7.05M263.5 97v7.05M47.5 104v7.05M67.5 104v7.05M146.5 104v7.05M148.5 104v7.05M149.5 104v7.05M156.5 104v7.05M172.5 104v7.05M185.5 104v7.05M187.5 104v7.05M188.5 104v7.05M189.5 104v7.05M194.5 104v7.05M198.5 104v7.05M199.5 104v7.05M203.5 104v7.05M210.5 104v7.05M212.5 104v7.05M214.5 104v7.05M215.5 104v7.05M217.5 104v7.05M225.5 104v7.05M228.5 104v7.05M231.5 104v7.05M232.5 104v7.05M234.5 104v7.05M239.5 104v7.05M241.5 104v7.05M245.5 104v7.05M247.5 104v7.05M273.5 104v7.05M278.5 104v7.05M279.5 104v7.05M208.5 111v7.05M223.5 111v7.05M228.5 111v7.05M274.5 111v7.05M46.5 118v7.05M49.5 118v7.05M53.5 118v7.05M59.5 118v7.05M60.5 118v7.05M61.5 118v7.05M65.5 118v7.05M69.5 118v7.05M70.5 118v7.05M72.5 118v7.05M74.5 118v7.05M76.5 118v7.05M78.5 118v7.05M81.5 118v7.05M84.5 118v7.05M88.5 118v7.05M89.5 118v7.05M90.5 118v7.05M93.5 118v7.05M165.5 118v7.05M175.5 118v7.05M186.5 118v7.05M202.5 118v7.05M283.5 118v7.05M124.5 125v7.05M102.5 146v7.05M109.5 153v7.05M240.5 153v7.05M191.5 160v7.05M286.5 167v7.05M287.5 167v7.05" stroke="#496aa6" stroke-width="1.00" shape-rendering="crispEdges"/>
<path d="M254.5 48v7.05M287.5 48v7.05M288.5 48v7.05M289.5 48v7.05M290.5 48v7.05M50.5 62v7.05M54.5 62v7.05M55.5 62v7.05M59.5 62v7.05M60.5 62v7.05M76.5 62v7.05M286.5 62v7.05M288.5 62v7.05M149.5 69v7.05M152.5 69v7.05M153.5 69v7.05M164.5 69v7.05M165.5 69v7.05M169.5 69v7.05M170.5 69v7.05M171.5 69v7.05M172.5 69v7.05M173.5 69v7.05M174.5 69v7.05M180.5 69v7.05M181.5 69v7.05M289.5 69v7.05M290.5 69v7.05M146.5 90v7.05M147.5 90v7.05M151.5 90v7.05M152.5 90v7.05M153.5 90v7.05M159.5 90v7.05M161.5 90v7.05M166.5 90v7.05M171.5 90v7.05M172.5 90v7.05M173.5 90v7.05M174.5 90v7.05M175.5 90v7.05M176.5 90v7.05M178.5 90v7.05M179.5 90v7.05M180.5 90v7.05M258.5 90v7.05M43.5 111v7.05M72.5 111v7.05M73.5 111v7.05M95.5 111v7.05M272.5 118v7.05M137.5 146v7.05M58.5 153v7.05M103.5 160v7.05M129.5 160v7.05" stroke="#1d3975" stroke-width="1.00" shape-rendering="crispEdges"/>
<path d="M42.5 55v7.05M45.5 55v7.05M47.5 55v7.05M48.5 55v7.05M49.5 55v7.05M51.5 55v7.05M52.5 55v7.05M55.5 55v7.05M62.5 55v7.05M63.5 55v7.05M65.5 55v7.05M66.5 55v7.05M67.5 55v7.05M68.5 55v7.05M69.5 55v7.05M70.5 55v7.05M75.5 55v7.05M76.5 55v7.05M77.5 55v7.05M79.5 55v7.05M80.5 55v7.05M82.5 55v7.05M83.5 55v7.05M87.5 55v7.05M89.5 55v7.05M90.5 55v7.05M94.5 55v7.05M252.5 55v7.05M256.5 55v7.05M265.5 55v7.05M267.5 55v7.05M270.5 55v7.05M271.5 55v7.05M45.5 62v7.05M46.5 62v7.05M49.5 62v7.05M51.5 62v7.05M52.5 62v7.05M57.5 62v7.05M62.5 62v7.05M71.5 62v7.05M72.5 62v7.05M93.5 62v7.05M52.5 83v7.05M54.5 83v7.05M58.5 83v7.05M59.5 83v7.05M60.5 83v7.05M61.5 83v7.05M68.5 83v7.05M70.5 83v7.05M71.5 83v7.05M72.5 83v7.05M82.5 83v7.05M89.5 83v7.05M90.5 83v7.05M91.5 83v7.05M93.5 83v7.05M250.5 83v7.05M261.5 83v7.05M271.5 83v7.05M127.5 97v7.05M45.5 111v7.05M50.5 111v7.05M55.5 111v7.05M58.5 111v7.05M63.5 111v7.05M64.5 111v7.05M66.5 111v7.05M75.5 111v7.05M80.5 111v7.05M86.5 111v7.05M87.5 111v7.05M89.5 111v7.05M248.5 118v7.05M251.5 118v7.05M252.5 118v7.05M266.5 118v7.05M267.5 118v7.05M123.5 125v7.05M161.5 139v7.05M276.5 146v7.05M42.5 153v7.05M46.5 153v7.05M53.5 153v7.05M54.5 153v7.05M55.5 153v7.05M56.5 153v7.05M66.5 153v7.05M67.5 153v7.05M75.5 153v7.05M81.5 153v7.05M88.5 153v7.05M282.5 160v7.05M285.5 160v7.05" stroke="#214b8e" stroke-width="1.00" shape-rendering="crispEdges"/>
<path d="M84.5 55v7.05M86.5 55v7.05M257.5 55v7.05M259.5 55v7.05M287.5 55v7.05M288.5 55v7.05M289.5 55v7.05M44.5 62v7.05M70.5 62v7.05M77.5 62v7.05M80.5 62v7.05M84.5 62v7.05M87.5 62v7.05M89.5 62v7.05M92.5 62v7.05M157.5 69v7.05M248.5 83v7.05M249.5 83v7.05M251.5 83v7.05M254.5 83v7.05M256.5 83v7.05M257.5 83v7.05M258.5 83v7.05M263.5 83v7.05M264.5 83v7.05M265.5 83v7.05M266.5 83v7.05M270.5 83v7.05M277.5 83v7.05M278.5 83v7.05M279.5 83v7.05M283.5 83v7.05M284.5 83v7.05M285.5 83v7.05M286.5 83v7.05M287.5 83v7.05M288.5 83v7.05M183.5 90v7.05M248.5 90v7.05M249.5 90v7.05M260.5 90v7.05M287.5 90v7.05M145.5 97v7.05M151.5 97v7.05M234.5 97v7.05M287.5 97v7.05M288.5 97v7.05M289.5 97v7.05M290.5 97v7.05M248.5 104v7.05M260.5 104v7.05M42.5 111v7.05M249.5 118v7.05M250.5 118v7.05M253.5 118v7.05M254.5 118v7.05M255.5 118v7.05M257.5 118v7.05M260.5 118v7.05M261.5 118v7.05M262.5 118v7.05M263.5 118v7.05M264.5 118v7.05M265.5 118v7.05M268.5 118v7.05M271.5 118v7.05M50.5 146v7.05M63.5 146v7.05M64.5 146v7.05M63.5 153v7.05M68.5 153v7.05M186.5 160v7.05M203.5 160v7.05M212.5 160v7.05M213.5 160v7.05M214.5 160v7.05M224.5 160v7.05M281.5 160v7.05" stroke="#295292" stroke-width="1.00" shape-rendering="crispEdges"/>
<path d="M98.5 55v7.05M100.5 55v7.05M105.5 55v7.05M109.5 55v7.05M110.5 55v7.05M124.5 55v7.05M133.5 55v7.05M139.5 55v7.05M140.5 55v7.05M99.5 62v7.05M101.5 62v7.05M103.5 62v7.05M109.5 62v7.05M117.5 62v7.05M118.5 62v7.05M120.5 62v7.05M125.5 62v7.05M127.5 62v7.05M131.5 62v7.05M139.5 62v7.05M140.5 62v7.05M142.5 62v7.05M143.5 62v7.05M109.5 69v7.05M116.5 69v7.05M135.5 69v7.05M273.5 69v7.05M96.5 83v7.05M102.5 83v7.05M103.5 83v7.05M115.5 83v7.05M116.5 83v7.05M117.5 83v7.05M118.5 83v7.05M135.5 83v7.05M136.5 83v7.05M143.5 83v7.05M109.5 90v7.05M110.5 90v7.05M127.5 90v7.05M102.5 97v7.05M99.5 104v7.05M104.5 104v7.05M110.5 104v7.05M114.5 104v7.05M116.5 104v7.05M133.5 104v7.05M135.5 104v7.05M139.5 104v7.05M99.5 111v7.05M100.5 111v7.05M101.5 111v7.05M106.5 111v7.05M112.5 111v7.05M129.5 111v7.05M131.5 111v7.05M135.5 111v7.05M136.5 111v7.05M139.5 111v7.05M140.5 111v7.05M141.5 111v7.05M101.5 118v7.05M121.5 118v7.05M130.5 118v7.05M131.5 118v7.05M139.5 118v7.05M100.5 125v7.05M106.5 125v7.05M130.5 125v7.05M99.5 132v7.05M104.5 132v7.05M125.5 132v7.05M129.5 132v7.05M130.5 132v7.05M138.5 132v7.05M142.5 132v7.05M144.5 132v7.05M118.5 146v7.05M119.5 146v7.05M273.5 146v7.05M107.5 153v7.05M120.5 153v7.05M123.5 153v7.05M124.5 153v7.05M133.5 153v7.05M137.5 153v7.05M107.5 160v7.05M108.5 160v7.05M120.5 160v7.05M123.5 160v7.05M126.5 160v7.05" stroke="#9683a1" stroke-width="1.00" shape-rendering="crispEdges"/>
<path d="M132.5 55v7.05M159.5 55v7.05M160.5 55v7.05M174.5 55v7.05M175.5 55v7.05M227.5 55v7.05M114.5 62v7.05M119.5 62v7.05M121.5 62v7.05M122.5 62v7.05M141.5 62v7.05M144.5 62v7.05M74.5 69v7.05M269.5 69v7.05M278.5 69v7.05M101.5 97v7.05M104.5 97v7.05M105.5 97v7.05M96.5 104v7.05M144.5 104v7.05M102.5 111v7.05M125.5 111v7.05M127.5 111v7.05M128.5 111v7.05M96.5 118v7.05M98.5 118v7.05M114.5 118v7.05M117.5 118v7.05M118.5 118v7.05M119.5 118v7.05M120.5 118v7.05M128.5 118v7.05M140.5 118v7.05M99.5 125v7.05M101.5 125v7.05M102.5 125v7.05M111.5 125v7.05M116.5 125v7.05M121.5 125v7.05M136.5 125v7.05M142.5 125v7.05M113.5 139v7.05M125.5 139v7.05M98.5 146v7.05M133.5 146v7.05M143.5 146v7.05M144.5 146v7.05M98.5 153v7.05M99.5 153v7.05M110.5 153v7.05M113.5 153v7.05M114.5 153v7.05M116.5 153v7.05M117.5 153v7.05M121.5 153v7.05M126.5 153v7.05M127.5 153v7.05M138.5 153v7.05M139.5 153v7.05M141.5 153v7.05M142.5 153v7.05M143.5 153v7.05M144.5 153v7.05M106.5 160v7.05M109.5 160v7.05M110.5 160v7.05M117.5 160v7.05M118.5 160v7.05M124.5 160v7.05M136.5 160v7.05M140.5 160v7.05" stroke="#868ab2" stroke-width="1.00" shape-rendering="crispEdges"/>
<path d="M150.5 55v7.05M253.5 55v7.05M258.5 55v7.05M79.5 62v7.05M223.5 76v7.05M225.5 76v7.05M234.5 76v7.05M251.5 76v7.05M254.5 76v7.05M260.5 76v7.05M264.5 90v7.05M64.5 97v7.05M72.5 97v7.05M81.5 97v7.05M86.5 97v7.05M123.5 97v7.05M147.5 97v7.05M200.5 97v7.05M278.5 97v7.05M47.5 111v7.05M60.5 111v7.05M237.5 118v7.05M277.5 118v7.05M224.5 132v7.05M231.5 132v7.05M233.5 132v7.05M274.5 132v7.05M45.5 139v7.05M50.5 139v7.05M57.5 139v7.05M132.5 139v7.05M158.5 139v7.05M167.5 139v7.05M187.5 139v7.05M189.5 139v7.05M209.5 139v7.05M216.5 139v7.05M42.5 146v7.05M83.5 146v7.05M87.5 146v7.05M88.5 146v7.05M90.5 146v7.05M196.5 146v7.05M207.5 146v7.05M208.5 146v7.05M214.5 146v7.05M179.5 153v7.05M197.5 160v7.05M98.5 167v7.05M101.5 167v7.05M103.5 167v7.05M124.5 167v7.05M130.5 167v7.05M131.5 167v7.05M132.5 167v7.05" stroke="#4176b4" stroke-width="1.00" shape-rendering="crispEdges"/>
<path d="M185.5 55v7.05M283.5 55v7.05M163.5 62v7.05M173.5 62v7.05M224.5 62v7.05M276.5 62v7.05M277.5 62v7.05M171.5 83v7.05M210.5 83v7.05M224.5 83v7.05M163.5 90v7.05M198.5 90v7.05M265.5 90v7.05M92.5 97v7.05M154.5 97v7.05M168.5 97v7.05M240.5 97v7.05M242.5 97v7.05M271.5 97v7.05M83.5 104v7.05M147.5 111v7.05M157.5 111v7.05M196.5 111v7.05M214.5 111v7.05M170.5 118v7.05M174.5 118v7.05M177.5 118v7.05M210.5 118v7.05M211.5 118v7.05M223.5 118v7.05M234.5 118v7.05M285.5 118v7.05M236.5 139v7.05M282.5 139v7.05M48.5 146v7.05M70.5 146v7.05M71.5 146v7.05M73.5 146v7.05M218.5 146v7.05M221.5 146v7.05M234.5 146v7.05M236.5 146v7.05M238.5 146v7.05M162.5 153v7.05M176.5 153v7.05M178.5 153v7.05M187.5 153v7.05M224.5 153v7.05M225.5 153v7.05M130.5 160v7.05M152.5 160v7.05M155.5 160v7.05M161.5 160v7.05M165.5 160v7.05M183.5 160v7.05M237.5 160v7.05" stroke="#446dad" stroke-width="1.00" shape-rendering="crispEdges"/>
<path d="M254.5 55v7.05M290.5 55v7.05M58.5 62v7.05M83.5 62v7.05M85.5 62v7.05M177.5 69v7.05M267.5 83v7.05M272.5 83v7.05M273.5 83v7.05M274.5 83v7.05M289.5 83v7.05M158.5 97v7.05M173.5 97v7.05M195.5 97v7.05M202.5 97v7.05M219.5 97v7.05M221.5 97v7.05M225.5 97v7.05M233.5 97v7.05M235.5 97v7.05M243.5 97v7.05M245.5 97v7.05M246.5 97v7.05M253.5 97v7.05M275.5 97v7.05M286.5 97v7.05M53.5 111v7.05M76.5 111v7.05M90.5 111v7.05M142.5 118v7.05M280.5 132v7.05M62.5 139v7.05M71.5 139v7.05M155.5 139v7.05M160.5 139v7.05M172.5 139v7.05M175.5 139v7.05M178.5 139v7.05M231.5 139v7.05M51.5 146v7.05M52.5 146v7.05M62.5 146v7.05M94.5 153v7.05M248.5 153v7.05M249.5 153v7.05M251.5 153v7.05M257.5 153v7.05M259.5 153v7.05M264.5 153v7.05M131.5 160v7.05M202.5 160v7.05M233.5 160v7.05M243.5 160v7.05" stroke="#2c5a9e" stroke-width="1.00" shape-rendering="crispEdges"/>
<path d="M88.5 62v7.05M90.5 62v7.05M148.5 62v7.05M168.5 62v7.05M155.5 69v7.05M217.5 83v7.05M260.5 83v7.05M170.5 97v7.05M191.5 97v7.05M186.5 111v7.05M115.5 118v7.05M238.5 118v7.05M269.5 118v7.05M276.5 132v7.05M277.5 132v7.05M278.5 132v7.05M284.5 139v7.05M45.5 146v7.05M75.5 146v7.05M86.5 146v7.05M89.5 146v7.05M226.5 146v7.05M235.5 146v7.05M246.5 146v7.05M78.5 153v7.05M208.5 153v7.05M209.5 153v7.05M217.5 153v7.05M226.5 153v7.05M227.5 153v7.05M231.5 153v7.05M237.5 153v7.05M274.5 153v7.05M287.5 153v7.05M170.5 160v7.05M175.5 160v7.05M200.5 160v7.05M208.5 160v7.05M215.5 160v7.05M221.5 160v7.05M228.5 160v7.05M234.5 160v7.05M235.5 160v7.05M236.5 160v7.05M244.5 160v7.05M245.5 160v7.05M246.5 160v7.05M274.5 160v7.05" stroke="#3761a6" stroke-width="1.00" shape-rendering="crispEdges"/>
<path d="M51.5 69v7.05M52.5 69v7.05M60.5 69v7.05M61.5 69v7.05M80.5 69v7.05M188.5 69v7.05M194.5 69v7.05M207.5 69v7.05M274.5 69v7.05M276.5 69v7.05M277.5 69v7.05M280.5 69v7.05M169.5 83v7.05M185.5 83v7.05M55.5 90v7.05M78.5 90v7.05M208.5 90v7.05M61.5 97v7.05M93.5 97v7.05M99.5 97v7.05M109.5 97v7.05M118.5 97v7.05M130.5 97v7.05M142.5 97v7.05M143.5 97v7.05M153.5 97v7.05M100.5 104v7.05M101.5 104v7.05M120.5 104v7.05M272.5 104v7.05M290.5 104v7.05M70.5 111v7.05M207.5 111v7.05M43.5 118v7.05M64.5 118v7.05M86.5 118v7.05M166.5 118v7.05M172.5 118v7.05M206.5 118v7.05M272.5 132v7.05M184.5 139v7.05M237.5 139v7.05M223.5 146v7.05M242.5 146v7.05M272.5 146v7.05M280.5 146v7.05M168.5 153v7.05M239.5 153v7.05M192.5 160v7.05M217.5 160v7.05M112.5 167v7.05M114.5 167v7.05M118.5 167v7.05M140.5 167v7.05M289.5 167v7.05" stroke="#99a8ca" stroke-width="1.00" shape-rendering="crispEdges"/>
<path d="M51.5 76v7.05M58.5 76v7.05M61.5 76v7.05M64.5 76v7.05M70.5 76v7.05M77.5 76v7.05M79.5 76v7.05M82.5 76v7.05M93.5 76v7.05M100.5 76v7.05M116.5 76v7.05M162.5 76v7.05M186.5 76v7.05M187.5 76v7.05M191.5 76v7.05M197.5 76v7.05M201.5 76v7.05M203.5 76v7.05M204.5 76v7.05M207.5 76v7.05M208.5 76v7.05M209.5 76v7.05M213.5 76v7.05M97.5 97v7.05M107.5 97v7.05M42.5 167v7.05M47.5 167v7.05M51.5 167v7.05M52.5 167v7.05M55.5 167v7.05M56.5 167v7.05M57.5 167v7.05M58.5 167v7.05M59.5 167v7.05M61.5 167v7.05M62.5 167v7.05M64.5 167v7.05M65.5 167v7.05M68.5 167v7.05M69.5 167v7.05M70.5 167v7.05M72.5 167v7.05M73.5 167v7.05M83.5 167v7.05M84.5 167v7.05M85.5 167v7.05M88.5 167v7.05M89.5 167v7.05M94.5 167v7.05M95.5 167v7.05M146.5 167v7.05M147.5 167v7.05M148.5 167v7.05M149.5 167v7.05M150.5 167v7.05M151.5 167v7.05M152.5 167v7.05M153.5 167v7.05M154.5 167v7.05M158.5 167v7.05M159.5 167v7.05M160.5 167v7.05M161.5 167v7.05M162.5 167v7.05M163.5 167v7.05M166.5 167v7.05M167.5 167v7.05M170.5 167v7.05M171.5 167v7.05M174.5 167v7.05M175.5 167v7.05M176.5 167v7.05M177.5 167v7.05M180.5 167v7.05M182.5 167v7.05M183.5 167v7.05M184.5 167v7.05M185.5 167v7.05M203.5 167v7.05M216.5 167v7.05" stroke="#3072b8" stroke-width="1.00" shape-rendering="crispEdges"/>
<line x1="96.00" y1="34.00" x2="96.00" y2="174.00" stroke="#a89a8a" stroke-width="0.7"/>
<line x1="145.00" y1="34.00" x2="145.00" y2="174.00" stroke="#a89a8a" stroke-width="0.7"/>
<line x1="185.00" y1="34.00" x2="185.00" y2="174.00" stroke="#a89a8a" stroke-width="0.7"/>
<line x1="217.00" y1="34.00" x2="217.00" y2="174.00" stroke="#a89a8a" stroke-width="0.7"/>
<line x1="248.00" y1="34.00" x2="248.00" y2="174.00" stroke="#a89a8a" stroke-width="0.7"/>
<line x1="272.00" y1="34.00" x2="272.00" y2="174.00" stroke="#a89a8a" stroke-width="0.7"/>
<line x1="281.00" y1="34.00" x2="281.00" y2="174.00" stroke="#a89a8a" stroke-width="0.7"/>
<line x1="286.00" y1="34.00" x2="286.00" y2="174.00" stroke="#a89a8a" stroke-width="0.7"/>
<text x="38.60" y="40.20" font-size="7.3" text-anchor="end" font-weight="normal" fill="#231f20" style="font-style:italic;" stroke="#231f20" stroke-width="0.06" textLength="16.37" lengthAdjust="spacingAndGlyphs">Saa3</text>
<text x="38.60" y="47.20" font-size="7.3" text-anchor="end" font-weight="normal" fill="#231f20" style="font-style:italic;" stroke="#231f20" stroke-width="0.06" textLength="30.77" lengthAdjust="spacingAndGlyphs">GM15056</text>
<text x="38.60" y="54.20" font-size="7.3" text-anchor="end" font-weight="normal" fill="#231f20" style="font-style:italic;" stroke="#231f20" stroke-width="0.06" textLength="19.48" lengthAdjust="spacingAndGlyphs">Socs3</text>
<text x="38.60" y="61.20" font-size="7.3" text-anchor="end" font-weight="normal" fill="#231f20" style="font-style:italic;" stroke="#231f20" stroke-width="0.06" textLength="15.97" lengthAdjust="spacingAndGlyphs">Sdc4</text>
<text x="38.60" y="68.20" font-size="7.3" text-anchor="end" font-weight="normal" fill="#231f20" style="font-style:italic;" stroke="#231f20" stroke-width="0.06" textLength="13.63" lengthAdjust="spacingAndGlyphs">Il1rn</text>
<text x="38.60" y="75.20" font-size="7.3" text-anchor="end" font-weight="normal" fill="#231f20" style="font-style:italic;" stroke="#231f20" stroke-width="0.06" textLength="12.07" lengthAdjust="spacingAndGlyphs">F10</text>
<text x="38.60" y="82.20" font-size="7.3" text-anchor="end" font-weight="normal" fill="#231f20" style="font-style:italic;" stroke="#231f20" stroke-width="0.06" textLength="17.13" lengthAdjust="spacingAndGlyphs">Ifitm1</text>
<text x="38.60" y="89.20" font-size="7.3" text-anchor="end" font-weight="normal" fill="#231f20" style="font-style:italic;" stroke="#231f20" stroke-width="0.06" textLength="23.37" lengthAdjust="spacingAndGlyphs">Mmp14</text>
<text x="38.60" y="96.20" font-size="7.3" text-anchor="end" font-weight="normal" fill="#231f20" style="font-style:italic;" stroke="#231f20" stroke-width="0.06" textLength="14.8" lengthAdjust="spacingAndGlyphs">Arg2</text>
<text x="38.60" y="103.20" font-size="7.3" text-anchor="end" font-weight="normal" fill="#231f20" style="font-style:italic;" stroke="#231f20" stroke-width="0.06" textLength="15.97" lengthAdjust="spacingAndGlyphs">Acp5</text>
<text x="38.60" y="110.20" font-size="7.3" text-anchor="end" font-weight="normal" fill="#231f20" style="font-style:italic;" stroke="#231f20" stroke-width="0.06" textLength="12.07" lengthAdjust="spacingAndGlyphs">Ier3</text>
<text x="38.60" y="117.20" font-size="7.3" text-anchor="end" font-weight="normal" fill="#231f20" style="font-style:italic;" stroke="#231f20" stroke-width="0.06" textLength="19.09" lengthAdjust="spacingAndGlyphs">Nr1h3</text>
<text x="38.60" y="124.20" font-size="7.3" text-anchor="end" font-weight="normal" fill="#231f20" style="font-style:italic;" stroke="#231f20" stroke-width="0.06" textLength="10.91" lengthAdjust="spacingAndGlyphs">Cfb</text>
<text x="38.60" y="131.20" font-size="7.3" text-anchor="end" font-weight="normal" fill="#231f20" style="font-style:italic;" stroke="#231f20" stroke-width="0.06" textLength="17.92" lengthAdjust="spacingAndGlyphs">CD38</text>
<text x="38.60" y="138.20" font-size="7.3" text-anchor="end" font-weight="normal" fill="#231f20" style="font-style:italic;" stroke="#231f20" stroke-width="0.06" textLength="19.48" lengthAdjust="spacingAndGlyphs">Igfbp6</text>
<text x="38.60" y="145.20" font-size="7.3" text-anchor="end" font-weight="normal" fill="#231f20" style="font-style:italic;" stroke="#231f20" stroke-width="0.06" textLength="20.26" lengthAdjust="spacingAndGlyphs">Spon1</text>
<text x="38.60" y="152.20" font-size="7.3" text-anchor="end" font-weight="normal" fill="#231f20" style="font-style:italic;" stroke="#231f20" stroke-width="0.06" textLength="19.6" lengthAdjust="spacingAndGlyphs">Tarm1</text>
<text x="38.60" y="159.20" font-size="7.3" text-anchor="end" font-weight="normal" fill="#231f20" style="font-style:italic;" stroke="#231f20" stroke-width="0.06" textLength="21.81" lengthAdjust="spacingAndGlyphs">Slamf6</text>
<text x="38.60" y="166.20" font-size="7.3" text-anchor="end" font-weight="normal" fill="#231f20" style="font-style:italic;" stroke="#231f20" stroke-width="0.06" textLength="22.2" lengthAdjust="spacingAndGlyphs">P2ry13</text>
<text x="38.60" y="173.20" font-size="7.3" text-anchor="end" font-weight="normal" fill="#231f20" style="font-style:italic;" stroke="#231f20" stroke-width="0.06" textLength="16.75" lengthAdjust="spacingAndGlyphs">Upp1</text>
<rect x="292.00" y="80.20" width="7.80" height="1.10" fill="#700320"/>
<rect x="292.00" y="81.11" width="7.80" height="1.10" fill="#830924"/>
<rect x="292.00" y="82.01" width="7.80" height="1.10" fill="#960f26"/>
<rect x="292.00" y="82.92" width="7.80" height="1.10" fill="#a9152a"/>
<rect x="292.00" y="83.82" width="7.80" height="1.10" fill="#b6212f"/>
<rect x="292.00" y="84.73" width="7.80" height="1.10" fill="#c03338"/>
<rect x="292.00" y="85.63" width="7.80" height="1.10" fill="#c84540"/>
<rect x="292.00" y="86.53" width="7.80" height="1.10" fill="#d25749"/>
<rect x="292.00" y="87.44" width="7.80" height="1.10" fill="#da6954"/>
<rect x="292.00" y="88.34" width="7.80" height="1.10" fill="#e17a61"/>
<rect x="292.00" y="89.25" width="7.80" height="1.10" fill="#e98b6e"/>
<rect x="292.00" y="90.16" width="7.80" height="1.10" fill="#f09c7b"/>
<rect x="292.00" y="91.06" width="7.80" height="1.10" fill="#f5ac8b"/>
<rect x="292.00" y="91.97" width="7.80" height="1.10" fill="#f7b99c"/>
<rect x="292.00" y="92.87" width="7.80" height="1.10" fill="#fac7ad"/>
<rect x="292.00" y="93.78" width="7.80" height="1.10" fill="#fcd4be"/>
<rect x="292.00" y="94.68" width="7.80" height="1.10" fill="#fcdecd"/>
<rect x="292.00" y="95.59" width="7.80" height="1.10" fill="#fbe6d9"/>
<rect x="292.00" y="96.49" width="7.80" height="1.10" fill="#f9ece5"/>
<rect x="292.00" y="97.40" width="7.80" height="1.10" fill="#f8f3f1"/>
<rect x="292.00" y="98.30" width="7.80" height="1.10" fill="#f2f5f6"/>
<rect x="292.00" y="99.21" width="7.80" height="1.10" fill="#e9f0f4"/>
<rect x="292.00" y="100.11" width="7.80" height="1.10" fill="#dfecf3"/>
<rect x="292.00" y="101.02" width="7.80" height="1.10" fill="#d6e7f1"/>
<rect x="292.00" y="101.92" width="7.80" height="1.10" fill="#c9e1ee"/>
<rect x="292.00" y="102.83" width="7.80" height="1.10" fill="#b9d9e9"/>
<rect x="292.00" y="103.73" width="7.80" height="1.10" fill="#aad1e5"/>
<rect x="292.00" y="104.64" width="7.80" height="1.10" fill="#9ac9e0"/>
<rect x="292.00" y="105.54" width="7.80" height="1.10" fill="#88bfdb"/>
<rect x="292.00" y="106.45" width="7.80" height="1.10" fill="#74b2d4"/>
<rect x="292.00" y="107.35" width="7.80" height="1.10" fill="#61a6cd"/>
<rect x="292.00" y="108.25" width="7.80" height="1.10" fill="#4d99c6"/>
<rect x="292.00" y="109.16" width="7.80" height="1.10" fill="#3f8dc0"/>
<rect x="292.00" y="110.06" width="7.80" height="1.10" fill="#3682ba"/>
<rect x="292.00" y="110.97" width="7.80" height="1.10" fill="#2e77b5"/>
<rect x="292.00" y="111.88" width="7.80" height="1.10" fill="#256caf"/>
<rect x="292.00" y="112.78" width="7.80" height="1.10" fill="#1e5fa3"/>
<rect x="292.00" y="113.69" width="7.80" height="1.10" fill="#165290"/>
<rect x="292.00" y="114.59" width="7.80" height="1.10" fill="#0f447d"/>
<rect x="292.00" y="115.50" width="7.80" height="1.10" fill="#09376a"/>
<text x="303.00" y="83.30" font-size="6.2" text-anchor="start" font-weight="normal" fill="#231f20" style="" stroke="#231f20" stroke-width="0.12">2.5</text>
<text x="303.00" y="88.85" font-size="6.2" text-anchor="start" font-weight="normal" fill="#231f20" style="" stroke="#231f20" stroke-width="0.12">2.0</text>
<text x="303.00" y="94.40" font-size="6.2" text-anchor="start" font-weight="normal" fill="#231f20" style="" stroke="#231f20" stroke-width="0.12">1.5</text>
<text x="303.00" y="99.95" font-size="6.2" text-anchor="start" font-weight="normal" fill="#231f20" style="" stroke="#231f20" stroke-width="0.12">1.0</text>
<text x="303.00" y="105.50" font-size="6.2" text-anchor="start" font-weight="normal" fill="#231f20" style="" stroke="#231f20" stroke-width="0.12">0.5</text>
<text x="303.00" y="111.05" font-size="6.2" text-anchor="start" font-weight="normal" fill="#231f20" style="" stroke="#231f20" stroke-width="0.12">0.0</text>
<text x="303.00" y="116.60" font-size="6.2" text-anchor="start" font-weight="normal" fill="#231f20" style="" stroke="#231f20" stroke-width="0.12">−0.5</text>
<text x="322.50" y="99.50" font-size="6.3" text-anchor="middle" font-weight="normal" fill="#231f20" style="" transform="rotate(-90 322.5 99.5)" stroke="#231f20" stroke-width="0.12">Expression</text>
<text x="386.50" y="17.00" font-size="12" text-anchor="start" font-weight="bold" fill="#000" style="">B</text>
<g shape-rendering="crispEdges">
<rect x="420.40" y="34.20" width="11.43" height="7.54" fill="#183a6b"/>
<rect x="431.23" y="34.20" width="11.43" height="7.54" fill="#183a6b"/>
<rect x="442.07" y="34.20" width="11.43" height="7.54" fill="#183a6b"/>
<rect x="452.90" y="34.20" width="11.43" height="7.54" fill="#183a6b"/>
<rect x="463.73" y="34.20" width="11.43" height="7.54" fill="#6a0a20"/>
<rect x="474.57" y="34.20" width="11.43" height="7.54" fill="#6a0a20"/>
<rect x="420.40" y="41.14" width="11.43" height="7.54" fill="#183a6b"/>
<rect x="431.23" y="41.14" width="11.43" height="7.54" fill="#183a6b"/>
<rect x="442.07" y="41.14" width="11.43" height="7.54" fill="#183a6b"/>
<rect x="452.90" y="41.14" width="11.43" height="7.54" fill="#183a6b"/>
<rect x="463.73" y="41.14" width="11.43" height="7.54" fill="#9ccde6"/>
<rect x="474.57" y="41.14" width="11.43" height="7.54" fill="#9ccde6"/>
<rect x="420.40" y="48.08" width="11.43" height="7.54" fill="#e3e0df"/>
<rect x="431.23" y="48.08" width="11.43" height="7.54" fill="#f2e2da"/>
<rect x="442.07" y="48.08" width="11.43" height="7.54" fill="#f2e2da"/>
<rect x="452.90" y="48.08" width="11.43" height="7.54" fill="#e8e2df"/>
<rect x="463.73" y="48.08" width="11.43" height="7.54" fill="#6a0a20"/>
<rect x="474.57" y="48.08" width="11.43" height="7.54" fill="#6a0a20"/>
<rect x="420.40" y="55.02" width="11.43" height="7.54" fill="#4090c5"/>
<rect x="431.23" y="55.02" width="11.43" height="7.54" fill="#2a72b8"/>
<rect x="442.07" y="55.02" width="11.43" height="7.54" fill="#2166ac"/>
<rect x="452.90" y="55.02" width="11.43" height="7.54" fill="#3d8ac2"/>
<rect x="463.73" y="55.02" width="11.43" height="7.54" fill="#fbc8ac"/>
<rect x="474.57" y="55.02" width="11.43" height="7.54" fill="#f8c0a0"/>
<rect x="420.40" y="61.96" width="11.43" height="7.54" fill="#e88060"/>
<rect x="431.23" y="61.96" width="11.43" height="7.54" fill="#e8805e"/>
<rect x="442.07" y="61.96" width="11.43" height="7.54" fill="#ec8e6e"/>
<rect x="452.90" y="61.96" width="11.43" height="7.54" fill="#f09878"/>
<rect x="463.73" y="61.96" width="11.43" height="7.54" fill="#bb2a33"/>
<rect x="474.57" y="61.96" width="11.43" height="7.54" fill="#bb2a33"/>
<rect x="420.40" y="68.90" width="11.43" height="7.54" fill="#f8dccc"/>
<rect x="431.23" y="68.90" width="11.43" height="7.54" fill="#f8dccc"/>
<rect x="442.07" y="68.90" width="11.43" height="7.54" fill="#f7b898"/>
<rect x="452.90" y="68.90" width="11.43" height="7.54" fill="#f7b898"/>
<rect x="463.73" y="68.90" width="11.43" height="7.54" fill="#d95f4e"/>
<rect x="474.57" y="68.90" width="11.43" height="7.54" fill="#d95f4e"/>
<rect x="420.40" y="75.84" width="11.43" height="7.54" fill="#b8d8ea"/>
<rect x="431.23" y="75.84" width="11.43" height="7.54" fill="#a6cfe4"/>
<rect x="442.07" y="75.84" width="11.43" height="7.54" fill="#bcdaeb"/>
<rect x="452.90" y="75.84" width="11.43" height="7.54" fill="#a0cbe2"/>
<rect x="463.73" y="75.84" width="11.43" height="7.54" fill="#f9c0a0"/>
<rect x="474.57" y="75.84" width="11.43" height="7.54" fill="#f9c6a8"/>
<rect x="420.40" y="82.78" width="11.43" height="7.54" fill="#4a9aca"/>
<rect x="431.23" y="82.78" width="11.43" height="7.54" fill="#5aa5d0"/>
<rect x="442.07" y="82.78" width="11.43" height="7.54" fill="#3780bf"/>
<rect x="452.90" y="82.78" width="11.43" height="7.54" fill="#3a84c0"/>
<rect x="463.73" y="82.78" width="11.43" height="7.54" fill="#d9604f"/>
<rect x="474.57" y="82.78" width="11.43" height="7.54" fill="#d9604f"/>
<rect x="420.40" y="89.72" width="11.43" height="7.54" fill="#f0e2dc"/>
<rect x="431.23" y="89.72" width="11.43" height="7.54" fill="#f0e2dc"/>
<rect x="442.07" y="89.72" width="11.43" height="7.54" fill="#eee3e0"/>
<rect x="452.90" y="89.72" width="11.43" height="7.54" fill="#dde6ed"/>
<rect x="463.73" y="89.72" width="11.43" height="7.54" fill="#f6b090"/>
<rect x="474.57" y="89.72" width="11.43" height="7.54" fill="#f6b090"/>
<rect x="420.40" y="96.66" width="11.43" height="7.54" fill="#c2deee"/>
<rect x="431.23" y="96.66" width="11.43" height="7.54" fill="#c2deee"/>
<rect x="442.07" y="96.66" width="11.43" height="7.54" fill="#94c4df"/>
<rect x="452.90" y="96.66" width="11.43" height="7.54" fill="#b4d6e8"/>
<rect x="463.73" y="96.66" width="11.43" height="7.54" fill="#f9c4a4"/>
<rect x="474.57" y="96.66" width="11.43" height="7.54" fill="#fbd0b8"/>
<rect x="420.40" y="103.60" width="11.43" height="7.54" fill="#fbd7c4"/>
<rect x="431.23" y="103.60" width="11.43" height="7.54" fill="#fbd7c4"/>
<rect x="442.07" y="103.60" width="11.43" height="7.54" fill="#f7dcd4"/>
<rect x="452.90" y="103.60" width="11.43" height="7.54" fill="#fbd7c4"/>
<rect x="463.73" y="103.60" width="11.43" height="7.54" fill="#e88468"/>
<rect x="474.57" y="103.60" width="11.43" height="7.54" fill="#e37a60"/>
<rect x="420.40" y="110.54" width="11.43" height="7.54" fill="#8ec0de"/>
<rect x="431.23" y="110.54" width="11.43" height="7.54" fill="#a2cce3"/>
<rect x="442.07" y="110.54" width="11.43" height="7.54" fill="#5ba3d0"/>
<rect x="452.90" y="110.54" width="11.43" height="7.54" fill="#7ab6d9"/>
<rect x="463.73" y="110.54" width="11.43" height="7.54" fill="#f9c0a0"/>
<rect x="474.57" y="110.54" width="11.43" height="7.54" fill="#fbd4c0"/>
<rect x="420.40" y="117.48" width="11.43" height="7.54" fill="#6aaed6"/>
<rect x="431.23" y="117.48" width="11.43" height="7.54" fill="#7ab6d9"/>
<rect x="442.07" y="117.48" width="11.43" height="7.54" fill="#a6cfe4"/>
<rect x="452.90" y="117.48" width="11.43" height="7.54" fill="#b0d4e8"/>
<rect x="463.73" y="117.48" width="11.43" height="7.54" fill="#d25345"/>
<rect x="474.57" y="117.48" width="11.43" height="7.54" fill="#d25345"/>
<rect x="420.40" y="124.42" width="11.43" height="7.54" fill="#3f8fc5"/>
<rect x="431.23" y="124.42" width="11.43" height="7.54" fill="#3f8fc5"/>
<rect x="442.07" y="124.42" width="11.43" height="7.54" fill="#2064ad"/>
<rect x="452.90" y="124.42" width="11.43" height="7.54" fill="#3a84c0"/>
<rect x="463.73" y="124.42" width="11.43" height="7.54" fill="#f9c0a0"/>
<rect x="474.57" y="124.42" width="11.43" height="7.54" fill="#fbcbb0"/>
<rect x="420.40" y="131.36" width="11.43" height="7.54" fill="#1b3163"/>
<rect x="431.23" y="131.36" width="11.43" height="7.54" fill="#1c3868"/>
<rect x="442.07" y="131.36" width="11.43" height="7.54" fill="#1b3163"/>
<rect x="452.90" y="131.36" width="11.43" height="7.54" fill="#1f3e74"/>
<rect x="463.73" y="131.36" width="11.43" height="7.54" fill="#4392c7"/>
<rect x="474.57" y="131.36" width="11.43" height="7.54" fill="#4a98ca"/>
<rect x="420.40" y="138.30" width="11.43" height="7.54" fill="#2a6fb5"/>
<rect x="431.23" y="138.30" width="11.43" height="7.54" fill="#255fa6"/>
<rect x="442.07" y="138.30" width="11.43" height="7.54" fill="#3f88c2"/>
<rect x="452.90" y="138.30" width="11.43" height="7.54" fill="#3c84c0"/>
<rect x="463.73" y="138.30" width="11.43" height="7.54" fill="#e88468"/>
<rect x="474.57" y="138.30" width="11.43" height="7.54" fill="#e88468"/>
<rect x="420.40" y="145.24" width="11.43" height="7.54" fill="#92c4df"/>
<rect x="431.23" y="145.24" width="11.43" height="7.54" fill="#7fb8da"/>
<rect x="442.07" y="145.24" width="11.43" height="7.54" fill="#6aacd5"/>
<rect x="452.90" y="145.24" width="11.43" height="7.54" fill="#8cc0dd"/>
<rect x="463.73" y="145.24" width="11.43" height="7.54" fill="#f0e0da"/>
<rect x="474.57" y="145.24" width="11.43" height="7.54" fill="#d0e4f0"/>
<rect x="420.40" y="152.18" width="11.43" height="7.54" fill="#2c6db4"/>
<rect x="431.23" y="152.18" width="11.43" height="7.54" fill="#1b3a72"/>
<rect x="442.07" y="152.18" width="11.43" height="7.54" fill="#3578bb"/>
<rect x="452.90" y="152.18" width="11.43" height="7.54" fill="#1e3d76"/>
<rect x="463.73" y="152.18" width="11.43" height="7.54" fill="#d4e6f0"/>
<rect x="474.57" y="152.18" width="11.43" height="7.54" fill="#b4d6e8"/>
<rect x="420.40" y="159.12" width="11.43" height="7.54" fill="#f9dcca"/>
<rect x="431.23" y="159.12" width="11.43" height="7.54" fill="#ece4e0"/>
<rect x="442.07" y="159.12" width="11.43" height="7.54" fill="#e8e4e2"/>
<rect x="452.90" y="159.12" width="11.43" height="7.54" fill="#ece4e0"/>
<rect x="463.73" y="159.12" width="11.43" height="7.54" fill="#f4a582"/>
<rect x="474.57" y="159.12" width="11.43" height="7.54" fill="#f4a582"/>
<rect x="420.40" y="166.06" width="11.43" height="7.54" fill="#245ea6"/>
<rect x="431.23" y="166.06" width="11.43" height="7.54" fill="#2462a8"/>
<rect x="442.07" y="166.06" width="11.43" height="7.54" fill="#1d4f8e"/>
<rect x="452.90" y="166.06" width="11.43" height="7.54" fill="#3f80be"/>
<rect x="463.73" y="166.06" width="11.43" height="7.54" fill="#b8d8ea"/>
<rect x="474.57" y="166.06" width="11.43" height="7.54" fill="#b4d6e8"/>
</g>
<text x="417.30" y="40.40" font-size="7.3" text-anchor="end" font-weight="normal" fill="#231f20" style="font-style:italic;" stroke="#231f20" stroke-width="0.06" textLength="16.37" lengthAdjust="spacingAndGlyphs">Saa3</text>
<text x="417.30" y="47.34" font-size="7.3" text-anchor="end" font-weight="normal" fill="#231f20" style="font-style:italic;" stroke="#231f20" stroke-width="0.06" textLength="30.77" lengthAdjust="spacingAndGlyphs">GM15056</text>
<text x="417.30" y="54.28" font-size="7.3" text-anchor="end" font-weight="normal" fill="#231f20" style="font-style:italic;" stroke="#231f20" stroke-width="0.06" textLength="19.48" lengthAdjust="spacingAndGlyphs">Socs3</text>
<text x="417.30" y="61.22" font-size="7.3" text-anchor="end" font-weight="normal" fill="#231f20" style="font-style:italic;" stroke="#231f20" stroke-width="0.06" textLength="15.97" lengthAdjust="spacingAndGlyphs">Sdc4</text>
<text x="417.30" y="68.16" font-size="7.3" text-anchor="end" font-weight="normal" fill="#231f20" style="font-style:italic;" stroke="#231f20" stroke-width="0.06" textLength="13.63" lengthAdjust="spacingAndGlyphs">Il1rn</text>
<text x="417.30" y="75.10" font-size="7.3" text-anchor="end" font-weight="normal" fill="#231f20" style="font-style:italic;" stroke="#231f20" stroke-width="0.06" textLength="12.07" lengthAdjust="spacingAndGlyphs">F10</text>
<text x="417.30" y="82.04" font-size="7.3" text-anchor="end" font-weight="normal" fill="#231f20" style="font-style:italic;" stroke="#231f20" stroke-width="0.06" textLength="17.13" lengthAdjust="spacingAndGlyphs">Ifitm1</text>
<text x="417.30" y="88.98" font-size="7.3" text-anchor="end" font-weight="normal" fill="#231f20" style="font-style:italic;" stroke="#231f20" stroke-width="0.06" textLength="23.37" lengthAdjust="spacingAndGlyphs">Mmp14</text>
<text x="417.30" y="95.92" font-size="7.3" text-anchor="end" font-weight="normal" fill="#231f20" style="font-style:italic;" stroke="#231f20" stroke-width="0.06" textLength="14.8" lengthAdjust="spacingAndGlyphs">Arg2</text>
<text x="417.30" y="102.86" font-size="7.3" text-anchor="end" font-weight="normal" fill="#231f20" style="font-style:italic;" stroke="#231f20" stroke-width="0.06" textLength="15.97" lengthAdjust="spacingAndGlyphs">Acp5</text>
<text x="417.30" y="109.80" font-size="7.3" text-anchor="end" font-weight="normal" fill="#231f20" style="font-style:italic;" stroke="#231f20" stroke-width="0.06" textLength="12.07" lengthAdjust="spacingAndGlyphs">Ier3</text>
<text x="417.30" y="116.74" font-size="7.3" text-anchor="end" font-weight="normal" fill="#231f20" style="font-style:italic;" stroke="#231f20" stroke-width="0.06" textLength="19.09" lengthAdjust="spacingAndGlyphs">Nr1h3</text>
<text x="417.30" y="123.68" font-size="7.3" text-anchor="end" font-weight="normal" fill="#231f20" style="font-style:italic;" stroke="#231f20" stroke-width="0.06" textLength="10.91" lengthAdjust="spacingAndGlyphs">Cfb</text>
<text x="417.30" y="130.62" font-size="7.3" text-anchor="end" font-weight="normal" fill="#231f20" style="font-style:italic;" stroke="#231f20" stroke-width="0.06" textLength="17.92" lengthAdjust="spacingAndGlyphs">CD38</text>
<text x="417.30" y="137.56" font-size="7.3" text-anchor="end" font-weight="normal" fill="#231f20" style="font-style:italic;" stroke="#231f20" stroke-width="0.06" textLength="19.48" lengthAdjust="spacingAndGlyphs">Igfbp6</text>
<text x="417.30" y="144.50" font-size="7.3" text-anchor="end" font-weight="normal" fill="#231f20" style="font-style:italic;" stroke="#231f20" stroke-width="0.06" textLength="20.26" lengthAdjust="spacingAndGlyphs">Spon1</text>
<text x="417.30" y="151.44" font-size="7.3" text-anchor="end" font-weight="normal" fill="#231f20" style="font-style:italic;" stroke="#231f20" stroke-width="0.06" textLength="19.6" lengthAdjust="spacingAndGlyphs">Tarm1</text>
<text x="417.30" y="158.38" font-size="7.3" text-anchor="end" font-weight="normal" fill="#231f20" style="font-style:italic;" stroke="#231f20" stroke-width="0.06" textLength="21.81" lengthAdjust="spacingAndGlyphs">Slamf6</text>
<text x="417.30" y="165.32" font-size="7.3" text-anchor="end" font-weight="normal" fill="#231f20" style="font-style:italic;" stroke="#231f20" stroke-width="0.06" textLength="22.2" lengthAdjust="spacingAndGlyphs">P2ry13</text>
<text x="417.30" y="172.26" font-size="7.3" text-anchor="end" font-weight="normal" fill="#231f20" style="font-style:italic;" stroke="#231f20" stroke-width="0.06" textLength="16.75" lengthAdjust="spacingAndGlyphs">Upp1</text>
<text x="431.00" y="29.00" font-size="7.0" text-anchor="middle" font-weight="normal" fill="#231f20" style="" stroke="#231f20" stroke-width="0.12" textLength="21" lengthAdjust="spacingAndGlyphs">Normal</text>
<text x="451.00" y="29.00" font-size="7.0" text-anchor="middle" font-weight="normal" fill="#231f20" style="" stroke="#231f20" stroke-width="0.12" textLength="14.5" lengthAdjust="spacingAndGlyphs">Early</text>
<text x="474.30" y="29.00" font-size="7.0" text-anchor="middle" font-weight="normal" fill="#231f20" style="" stroke="#231f20" stroke-width="0.12" textLength="12" lengthAdjust="spacingAndGlyphs">Late</text>
<line x1="421.00" y1="31.30" x2="440.00" y2="31.30" stroke="#231f20" stroke-width="0.9"/>
<line x1="442.00" y1="31.30" x2="460.00" y2="31.30" stroke="#231f20" stroke-width="0.9"/>
<line x1="465.00" y1="31.30" x2="483.50" y2="31.30" stroke="#231f20" stroke-width="0.9"/>
<rect x="490.00" y="79.60" width="7.20" height="1.09" fill="#700320"/>
<rect x="490.00" y="80.49" width="7.20" height="1.09" fill="#830924"/>
<rect x="490.00" y="81.38" width="7.20" height="1.09" fill="#960f26"/>
<rect x="490.00" y="82.27" width="7.20" height="1.09" fill="#a9152a"/>
<rect x="490.00" y="83.16" width="7.20" height="1.09" fill="#b6212f"/>
<rect x="490.00" y="84.05" width="7.20" height="1.09" fill="#c03338"/>
<rect x="490.00" y="84.94" width="7.20" height="1.09" fill="#c84540"/>
<rect x="490.00" y="85.83" width="7.20" height="1.09" fill="#d25749"/>
<rect x="490.00" y="86.72" width="7.20" height="1.09" fill="#da6954"/>
<rect x="490.00" y="87.61" width="7.20" height="1.09" fill="#e17a61"/>
<rect x="490.00" y="88.50" width="7.20" height="1.09" fill="#e98b6e"/>
<rect x="490.00" y="89.39" width="7.20" height="1.09" fill="#f09c7b"/>
<rect x="490.00" y="90.28" width="7.20" height="1.09" fill="#f5ac8b"/>
<rect x="490.00" y="91.17" width="7.20" height="1.09" fill="#f7b99c"/>
<rect x="490.00" y="92.06" width="7.20" height="1.09" fill="#fac7ad"/>
<rect x="490.00" y="92.95" width="7.20" height="1.09" fill="#fcd4be"/>
<rect x="490.00" y="93.84" width="7.20" height="1.09" fill="#fcdecd"/>
<rect x="490.00" y="94.73" width="7.20" height="1.09" fill="#fbe6d9"/>
<rect x="490.00" y="95.62" width="7.20" height="1.09" fill="#f9ece5"/>
<rect x="490.00" y="96.51" width="7.20" height="1.09" fill="#f8f3f1"/>
<rect x="490.00" y="97.40" width="7.20" height="1.09" fill="#f2f5f6"/>
<rect x="490.00" y="98.29" width="7.20" height="1.09" fill="#e9f0f4"/>
<rect x="490.00" y="99.18" width="7.20" height="1.09" fill="#dfecf3"/>
<rect x="490.00" y="100.07" width="7.20" height="1.09" fill="#d6e7f1"/>
<rect x="490.00" y="100.96" width="7.20" height="1.09" fill="#c9e1ee"/>
<rect x="490.00" y="101.85" width="7.20" height="1.09" fill="#b9d9e9"/>
<rect x="490.00" y="102.74" width="7.20" height="1.09" fill="#aad1e5"/>
<rect x="490.00" y="103.63" width="7.20" height="1.09" fill="#9ac9e0"/>
<rect x="490.00" y="104.52" width="7.20" height="1.09" fill="#88bfdb"/>
<rect x="490.00" y="105.41" width="7.20" height="1.09" fill="#74b2d4"/>
<rect x="490.00" y="106.30" width="7.20" height="1.09" fill="#61a6cd"/>
<rect x="490.00" y="107.19" width="7.20" height="1.09" fill="#4d99c6"/>
<rect x="490.00" y="108.08" width="7.20" height="1.09" fill="#3f8dc0"/>
<rect x="490.00" y="108.97" width="7.20" height="1.09" fill="#3682ba"/>
<rect x="490.00" y="109.86" width="7.20" height="1.09" fill="#2e77b5"/>
<rect x="490.00" y="110.75" width="7.20" height="1.09" fill="#256caf"/>
<rect x="490.00" y="111.64" width="7.20" height="1.09" fill="#1e5fa3"/>
<rect x="490.00" y="112.53" width="7.20" height="1.09" fill="#165290"/>
<rect x="490.00" y="113.42" width="7.20" height="1.09" fill="#0f447d"/>
<rect x="490.00" y="114.31" width="7.20" height="1.09" fill="#09376a"/>
<text x="499.60" y="90.30" font-size="7.0" text-anchor="start" font-weight="normal" fill="#231f20" style="" stroke="#231f20" stroke-width="0.12">6</text>
<text x="499.60" y="99.27" font-size="7.0" text-anchor="start" font-weight="normal" fill="#231f20" style="" stroke="#231f20" stroke-width="0.12">4</text>
<text x="499.60" y="108.23" font-size="7.0" text-anchor="start" font-weight="normal" fill="#231f20" style="" stroke="#231f20" stroke-width="0.12">2</text>
<text x="499.60" y="117.20" font-size="7.0" text-anchor="start" font-weight="normal" fill="#231f20" style="" stroke="#231f20" stroke-width="0.12">0</text>
<text x="511.50" y="97.70" font-size="6.3" text-anchor="middle" font-weight="normal" fill="#231f20" style="" transform="rotate(-90 511.5 97.7)" stroke="#231f20" stroke-width="0.12">Expression</text>
<text x="8.50" y="198.00" font-size="12" text-anchor="start" font-weight="bold" fill="#000" style="">C</text>
<text x="67.70" y="210.30" font-size="10.4" text-anchor="middle" font-weight="normal" fill="#000" style="font-style:italic;" textLength="25.4" lengthAdjust="spacingAndGlyphs">Socs3</text>
<rect x="36.65" y="220.40" width="1.1" height="46.90" fill="none" stroke="#777" stroke-width="0.45"/>
<path d="M37.58 262.78h.01M37.48 262.34h.01M36.19 239.55h.01M35.69 234.66h.01M36.78 227.11h.01M37.18 225.02h.01M37.85 228.63h.01M38.26 225.74h.01M37.93 233.12h.01M39.13 227.84h.01M38.98 232.66h.01M38.03 236.9h.01M39.72 240.87h.01M38.75 238.09h.01M38.51 255.95h.01M38.26 230.79h.01M36.38 242.68h.01M36.9 240.11h.01M37.76 225.07h.01M36.21 243.95h.01M38.92 251.05h.01M35.87 245.49h.01M36.24 237.53h.01M38.06 231.45h.01M37.22 238.61h.01M40.12 256.59h.01M37.12 234.11h.01M38.18 237.71h.01M35.33 251.8h.01M37.62 238.63h.01M36.99 236.41h.01M37.05 256.08h.01M36.22 256.63h.01M38.87 244.29h.01M39.77 252.93h.01M36.76 225.05h.01M38.81 251.68h.01M36.87 263.27h.01M35.26 240.23h.01M39.82 251.76h.01M37.73 262.46h.01M37.11 229.2h.01M37.34 234.54h.01M39.62 249.71h.01M38.27 254.57h.01M35.86 256.17h.01M35.29 243.18h.01M38.42 246.81h.01M36.7 259.5h.01M35.4 258.7h.01M36.85 246.69h.01M36.64 254.26h.01M34.66 239.28h.01M36.7 226.85h.01M34.63 235.43h.01M38.4 233.35h.01M35.47 235.32h.01M39.13 259.72h.01M38.39 258.11h.01M38.66 224.34h.01M38.67 251.31h.01M36.77 259.86h.01M39.51 242.87h.01M39.03 242.47h.01M35.18 243.33h.01M34.33 235.99h.01M37.54 237.45h.01M37.24 252.3h.01M37.45 225.45h.01M35.98 243.47h.01" stroke="#000" stroke-width="0.84" stroke-linecap="round" stroke-opacity="0.85"/>
<line x1="33.80" y1="267.30" x2="40.60" y2="267.30" stroke="#000" stroke-width="1.3"/>
<rect x="44.22" y="215.00" width="1.1" height="52.30" fill="none" stroke="#777" stroke-width="0.45"/>
<path d="M42.17 267.3 L43.17 263.3 L43.47 259.3 L42.17 253.3 L41.37 242.3 L41.37 229.3 L42.57 220.3 L44.37 215 L45.17 215 L46.97 220.3 L48.17 229.3 L48.17 242.3 L47.37 253.3 L46.07 259.3 L46.37 263.3 L47.37 267.3Z" fill="#D39200" stroke="#3a3a3a" stroke-width="0.35" stroke-linejoin="round"/>
<path d="M46.1 227.84h.01M46.19 221.55h.01M44.99 226.43h.01M42.55 251.87h.01M43.23 257.26h.01M43.32 237.72h.01M42.69 234.46h.01M44.67 218.34h.01M45.83 242.65h.01M44.12 221.63h.01M45.43 231.74h.01M43.26 225.6h.01M44.42 225.19h.01M46.08 224.17h.01M45.62 220.1h.01M44.4 226.89h.01M45.27 220.1h.01M43.57 256.4h.01M42.94 251.08h.01M42.8 242.33h.01M46.67 253.06h.01M46.14 238.17h.01M44.85 254.4h.01M43.48 247.81h.01M42.99 243.89h.01M46.3 257.44h.01M42.75 239.26h.01M43.25 237.24h.01M46.9 234.8h.01M43.82 243.69h.01M42.74 250.93h.01M46.87 226.63h.01M45.82 221.15h.01M45.14 247.89h.01M45.3 244.87h.01M47.4 232.88h.01M44 251.17h.01M42.11 247.65h.01M45.13 247.89h.01M42.41 244.23h.01M41.96 243.59h.01M42.54 223.02h.01M43.55 249.36h.01M44.24 218.99h.01M47.39 231.23h.01M45.32 236.25h.01M46.82 231.88h.01M46.52 237.51h.01M43.97 218.72h.01M46.34 245.65h.01M45.69 255.62h.01M43.38 229.64h.01M46.47 254.84h.01M42.79 222.54h.01M45.53 251.89h.01M44.03 223.94h.01M45.3 255.87h.01M44.36 243.18h.01M44.39 235.65h.01M47.2 244.47h.01M43.39 238.5h.01M47.36 229.04h.01M44.85 257.2h.01M46.03 230.95h.01M46.21 233.7h.01M45.75 224.82h.01M42.21 243.52h.01M47.32 225.9h.01M45.81 244.5h.01M43.96 225.84h.01M46.26 235.5h.01M43.01 251.61h.01M43.12 226.29h.01M43.53 244.51h.01M46.15 236.13h.01M44.98 231.16h.01M44.43 228.39h.01M45.2 224.85h.01M46.87 248h.01M47.15 228.37h.01M46 245.97h.01M42.92 230.79h.01M42.61 250.83h.01M46.71 226.65h.01M43.76 227.67h.01M43.56 221.61h.01M44.48 252.13h.01M44.86 244.17h.01M46.14 222.88h.01M44.7 222h.01M46.22 238.92h.01M45.24 239.78h.01M46.03 245.62h.01M44.97 247.4h.01M42.9 241.34h.01M46.26 233.19h.01M42.42 225.97h.01M44.92 240.86h.01M45.55 239.5h.01M43.56 229h.01M44.46 248.66h.01M42.68 231.23h.01M41.72 238.05h.01M44.2 247.67h.01M42.85 252.66h.01M45.12 243.01h.01M45.98 228.46h.01M44.5 252.98h.01M45.78 227.5h.01M46.16 242.86h.01M44.52 230.93h.01M46.6 220.67h.01M47.07 224.11h.01M46.36 244.08h.01M45.5 242.57h.01M45.68 218.99h.01M44.69 222.8h.01M46.32 235.6h.01M43.57 241.66h.01M42.58 228.14h.01M44.53 246.73h.01M45.94 234.59h.01M43.84 258.31h.01M42.18 246.57h.01M46.46 244.29h.01M44 237.64h.01M46.31 252.7h.01M45.6 250.02h.01M44.69 246.29h.01M43.33 252.16h.01M44.43 218.37h.01M42.59 244.44h.01M45.25 244.19h.01M43.06 252h.01M43.26 223.37h.01M47.7 241.53h.01M47.51 228.99h.01M43.15 236.12h.01M43.57 248.34h.01M47.1 238.89h.01M47.41 237.56h.01M43.05 255.18h.01M43.71 253.48h.01M46.29 253.94h.01M43.33 247.59h.01M42.57 249.17h.01M44.62 234.74h.01M42.78 227.37h.01M42.58 225.9h.01M45.29 226.98h.01M47.23 245.82h.01M44.13 222.5h.01M42.83 253.26h.01M44.31 242.17h.01M45.05 234.7h.01M44.47 232.3h.01M42.32 245.37h.01M43 237.6h.01M45.98 231.15h.01M43.42 220.25h.01M46.16 229.23h.01M45.47 250.79h.01M44.32 243.53h.01M46.35 230.38h.01M45.73 247.23h.01M46.33 253.79h.01M42.15 235.7h.01M47.29 225.11h.01M43.65 257.22h.01M44.16 228.28h.01M41.94 240.36h.01M45.6 221.41h.01M43.23 252.69h.01M42.98 246.29h.01M43.38 227.43h.01M47.7 236.34h.01M44.69 236.48h.01M43.11 246.12h.01M46.98 242.07h.01M46.4 256.3h.01M42.49 236.41h.01M45.64 235.53h.01M42.85 231.66h.01M42.75 248.3h.01M47.2 244.87h.01M45.65 235.66h.01M45.33 247.15h.01M46.3 236.07h.01M47.34 236.1h.01M42.47 224.46h.01M42.04 242.2h.01M45.12 248.69h.01M46.42 256.48h.01M45.77 219.6h.01M45.32 250.7h.01M42.48 223.84h.01M46.64 245.62h.01M46.99 245.81h.01M44.55 237.37h.01M45.58 246.91h.01M44.6 216.09h.01M44.54 217.83h.01M42.09 238.68h.01M46.33 248.37h.01M46.82 235.79h.01M46.76 226.33h.01M45.03 225.24h.01M43.48 228.32h.01M45.06 232.62h.01M45.76 223.3h.01M43.95 217.46h.01M45.93 243.86h.01M44.31 219.43h.01M44.76 244.52h.01M43 237.71h.01M43.32 240.63h.01M44.81 224.04h.01M44.58 224.74h.01M42.89 233.81h.01M43.65 235.13h.01M46.04 222.4h.01M43.45 242.02h.01M45.52 230.15h.01M41.82 229.41h.01M44.16 217.18h.01M42.09 239.46h.01M47.48 241.05h.01M42.56 248.85h.01M45.69 234.17h.01M44.9 235.41h.01M42.63 252.29h.01M42.13 227.03h.01M45.61 251.44h.01M45.16 233.43h.01M43.42 245.1h.01M42.98 238.35h.01M45.97 240.66h.01M43.85 246.18h.01M43.66 233.09h.01M43.27 231.49h.01M42.07 231.47h.01M44.23 230.27h.01M43.97 250.05h.01M44.15 245.82h.01M45.02 258.14h.01M44.85 237.61h.01M46.61 223.85h.01M46.99 230.82h.01M44.81 220.27h.01M47.57 234.25h.01M44.32 255.93h.01M44.97 234.89h.01M44.86 222.71h.01M46.72 221.26h.01M46.36 256.5h.01M44.37 216.4h.01M43.4 257.45h.01M47.22 244.91h.01M45.82 217.94h.01M44.73 236.26h.01M45.82 222.78h.01M44.19 249.16h.01M45.64 239.54h.01M42.68 233.17h.01M45.44 250.48h.01M44.05 245.88h.01M42.73 246.14h.01M46.06 251.5h.01M45.34 235.17h.01M41.98 230.24h.01M43.77 219.2h.01M44.96 223.22h.01M45.02 233.04h.01M45.91 244.02h.01M44.76 231.73h.01M43.11 256.29h.01M43.01 250.54h.01M44.58 217.53h.01M45.48 223.95h.01M44.37 215.62h.01M46.66 233.32h.01M45.4 256.63h.01M44.31 217.52h.01M43.85 230.05h.01M47 225.34h.01M46.7 238.41h.01M45.85 244.6h.01M45.2 245.04h.01M42.15 232.23h.01M46.36 222.85h.01M47.34 240.72h.01M43 231.07h.01M45.51 222.79h.01M42.93 254.55h.01M46.88 235.12h.01M43.05 238.72h.01M46.73 246.89h.01M43.18 228.99h.01M44.54 247.09h.01M44.37 224.19h.01M43.59 238.94h.01M42.36 239.63h.01M45.61 252.62h.01M44.43 223.01h.01M43.23 223.71h.01M46.36 243.84h.01M45.82 225.14h.01M43.94 228.77h.01M44.38 237.28h.01M43.29 236.41h.01M43.1 229.66h.01M45.62 234.36h.01M44.03 241.33h.01M45.7 256.16h.01M41.86 236.53h.01M45.54 221h.01M47.77 239.19h.01M44.17 247.12h.01M46.56 227.64h.01M43.55 252.84h.01M45.56 221.04h.01M42.04 228.85h.01M46.36 243.28h.01M44.08 256.94h.01M41.94 231.84h.01M45.62 225.17h.01M43.6 240.25h.01M43.99 248.85h.01M47.78 236.07h.01M44.95 233.14h.01M44.67 225.85h.01M47.05 231.11h.01M41.99 228.75h.01M43.99 250.07h.01M43.64 238.37h.01M45.31 223.95h.01M42.47 228.57h.01M44.44 229.65h.01M47.37 244.01h.01M47.44 248.12h.01M47.52 237.73h.01M42.64 241.87h.01M44.32 240.35h.01M45.62 228.37h.01M45.63 225.59h.01M46.02 236.35h.01M45.69 224.63h.01M46.21 222.25h.01M46.28 252.49h.01M44.94 244.87h.01M44.91 239.92h.01M43.28 233.61h.01M43.38 251.79h.01M46.68 246.4h.01M45.52 248.32h.01M43.93 257.07h.01M44.93 222.57h.01M42.29 232.62h.01M45.26 240.32h.01M42.3 224.75h.01M44.53 236.44h.01M42.81 241.52h.01M43.57 220.32h.01M44.9 231.58h.01M46.55 240.88h.01M44.17 242.81h.01M45.89 248.8h.01M42.03 230.16h.01M45.18 255.17h.01M44.45 232.35h.01M42.65 231.5h.01M44.83 223.71h.01M45.17 242.3h.01M46.8 253.73h.01M45.61 230.59h.01M43.96 225.31h.01M44.45 243.38h.01M46.85 240.78h.01M43.77 232.83h.01M45.94 222.22h.01M44.08 258.25h.01M42.52 222.71h.01M42.1 235h.01M44.13 234.86h.01M44.34 225.3h.01M42.57 230.53h.01M43.89 247.25h.01M44.07 230.46h.01M46.12 225.51h.01M46.68 221.64h.01M44.39 258.29h.01M45.23 217.41h.01M44.69 256.67h.01M44.91 219.81h.01M47.42 237.2h.01M44.02 240.78h.01M46.19 235.27h.01M42.7 244.8h.01M44.94 241.27h.01M44.71 232.98h.01M44.99 217.14h.01M43.87 219.75h.01M42.03 243.81h.01M44.47 252.25h.01M47.68 237.44h.01M44.74 249.26h.01M43.97 253.72h.01M46.34 234.84h.01M46.76 243.09h.01M43.24 225.12h.01M46.07 228.97h.01M43.36 225.12h.01M46.12 249.8h.01M44.26 243.62h.01M43.73 256.04h.01M41.77 241.37h.01M44.86 237.68h.01M43.85 234.64h.01M42.2 227.2h.01M44.01 225.33h.01" stroke="#000" stroke-width="0.8" stroke-linecap="round" stroke-opacity="0.8"/>
<path d="M44.44 245.91h.01M44.98 246.93h.01M44.4 238.66h.01M44.73 241.28h.01M45.68 252.52h.01M45.2 244.84h.01M44.86 221.15h.01M44.59 239.46h.01M45.26 230.08h.01M45.26 246.22h.01M44.1 224.48h.01M44.72 224.01h.01M44.41 248.84h.01M43.69 249.1h.01M46.46 247.31h.01M47.18 236.42h.01M45.08 249.19h.01M44.1 245.95h.01M44.92 251.27h.01M45.62 244.47h.01M43.28 231.34h.01M44.74 222.32h.01M44.03 226.42h.01M44.4 234.63h.01M47.01 247.61h.01M42.34 231.2h.01M42.77 249.6h.01M43.79 235.92h.01M45.46 217.3h.01M43.56 239.93h.01M43.23 262.27h.01M43.6 243.07h.01M47.74 237.08h.01M46.59 237.23h.01M46.95 241.34h.01M45.13 220.39h.01M45.03 238.19h.01M45.13 238.71h.01M44.19 248.87h.01M45.62 229.87h.01M45.07 236.8h.01M45.9 222.7h.01M45.72 259.09h.01M44.39 235.66h.01M47.05 217.3h.01M43.41 226.07h.01M44.25 228.04h.01M41.57 253.98h.01M46.09 240.49h.01M47.91 253.88h.01M45.97 240.5h.01M43.22 240.46h.01M43.23 241.82h.01M44.18 256.58h.01M43.31 257.87h.01M47.41 239.64h.01M47.97 240.66h.01M47.16 242.02h.01M44.48 246.17h.01M45.58 242.64h.01M45.8 234.67h.01M46.1 245.95h.01M44.29 239.2h.01M45.71 237.43h.01M43.39 235.97h.01M45.73 250.79h.01M42.97 248.18h.01M45.9 232.43h.01M42.98 223.6h.01M43.4 256.09h.01M45.66 217.66h.01M47.31 237.5h.01M43.96 246.29h.01M46.14 249.16h.01M45.87 247.2h.01M46.33 237.93h.01M44.3 231.75h.01M45.41 231.63h.01M47.34 250.7h.01M45.11 222h.01M44.34 260.42h.01M45.08 253.45h.01M43.79 217.3h.01M44.16 235.22h.01M44.05 242.41h.01M43.07 258.67h.01M44.13 240.36h.01M44.46 244.66h.01M43.08 229.65h.01M45.68 226.33h.01M46.89 246.52h.01M45.45 262.6h.01M46.13 232.95h.01M45.81 234.19h.01M44.56 245.41h.01M45.29 232.13h.01M46.12 251.42h.01M43.87 239.7h.01M44.5 223.74h.01M43.85 227.25h.01M41.89 232.59h.01M44.23 250.11h.01M45.3 237.7h.01M44.81 230.9h.01M45.62 248.24h.01M43.74 228.24h.01M44.1 257.98h.01M44.27 231.15h.01M43.29 240.77h.01M46.09 231.59h.01M45.39 223.24h.01M47.15 262.73h.01M46.76 242.89h.01M44.19 233.32h.01M45.95 234.57h.01M45.39 256.54h.01M44.51 240.56h.01M47.97 236.51h.01M44.04 237.63h.01M43.56 243.45h.01M45.28 226.41h.01M45.56 245.19h.01M43.3 243.62h.01M42.78 244.32h.01M47.44 228.83h.01M47.97 235.77h.01M42.9 236.39h.01M44.37 244.81h.01M44.45 248.52h.01M45.76 239.95h.01M46.12 240.95h.01M43.15 233.86h.01M43.74 234.55h.01M46.2 238.49h.01M46.38 255.66h.01M45.71 217.3h.01M43.2 246.15h.01M44.66 232.35h.01M46.37 232.54h.01M45.97 233.7h.01M45.12 239.38h.01M46.51 234.41h.01M46.07 262.61h.01M45.97 242.48h.01M44.97 234.29h.01M46.19 238.15h.01M43.71 251.11h.01M44.14 233.59h.01M47.36 232.2h.01M45.66 235.57h.01M43.04 246.07h.01M43.46 247.9h.01M43.35 246.43h.01M43.86 249.88h.01M46.14 225.66h.01M47.03 242.79h.01M45.07 242.29h.01M45.93 241.65h.01M44.76 248.92h.01M44.38 246.02h.01" stroke="#000" stroke-width="0.84" stroke-linecap="round" stroke-opacity="0.85"/>
<line x1="41.37" y1="267.30" x2="48.17" y2="267.30" stroke="#000" stroke-width="1.3"/>
<rect x="51.80" y="219.60" width="1.1" height="47.70" fill="none" stroke="#777" stroke-width="0.45"/>
<path d="M52.85 254.24h.01M53.86 224.47h.01M52.31 244.71h.01M51.04 231.96h.01M51.26 250.98h.01M50.16 252.5h.01M49.16 226.54h.01M53.89 242.29h.01M50.84 224.13h.01M51.86 228.3h.01M53.9 226.43h.01M51.1 253.76h.01M53.83 245.7h.01M53.47 238.54h.01M49.97 235.64h.01M54.6 230.36h.01M52.25 227h.01M53.43 241.18h.01M52.78 240.06h.01M52.1 223.12h.01M53.83 257.89h.01M50.84 230.17h.01M53.62 246.13h.01M53.99 261.26h.01M53.64 232.96h.01M54.41 244.4h.01M49.97 253.47h.01M53.67 227.17h.01M49.5 236.47h.01M51.63 224.79h.01M52.6 253.93h.01M49.44 230.05h.01M52.43 232.39h.01M52.41 221.83h.01M51.43 243.02h.01M54.17 241.8h.01M52.56 229.62h.01M49.15 259.51h.01M52.79 231.71h.01M52.72 234.8h.01M54.77 237.52h.01M52.18 250.3h.01M52.41 259.48h.01M51.24 261.73h.01M51.13 234.57h.01M50.25 237.26h.01M50.74 263.27h.01M52.74 242.08h.01M53.41 253.25h.01M54.94 261.11h.01M54.02 230.82h.01M51.83 262.2h.01M54.42 223.87h.01M49.19 228.54h.01M53.44 223.49h.01M50.19 229.71h.01M53.4 244.5h.01M53.06 243.3h.01M51.9 224.35h.01M54.99 228.27h.01M51.42 252.68h.01M51.21 248.8h.01M52.38 253.89h.01M54.67 238.93h.01M53.95 260.83h.01M55.51 245.01h.01M53.68 230.51h.01M51.38 237.9h.01M50.23 236.04h.01M52.87 223.59h.01M54.89 244.95h.01M53.56 236.07h.01M52.76 259.49h.01M51.74 227.43h.01M55.55 262.31h.01M52.3 234.7h.01M52.18 231.55h.01M52.35 235.54h.01M50.76 235.7h.01M55.27 248.5h.01" stroke="#000" stroke-width="0.84" stroke-linecap="round" stroke-opacity="0.85"/>
<line x1="48.95" y1="267.30" x2="55.75" y2="267.30" stroke="#000" stroke-width="1.3"/>
<rect x="59.38" y="227.30" width="1.1" height="40.00" fill="none" stroke="#777" stroke-width="0.45"/>
<path d="M56.92 267.3 L57.92 264.8 L59.42 262.3 L60.42 262.3 L61.92 264.8 L62.92 267.3Z" fill="#00BA38" stroke="#3a3a3a" stroke-width="0.35" stroke-linejoin="round"/>
<path d="M60.5 263.4h.01M62.63 252.51h.01M59.79 256.84h.01M61.64 260.5h.01M59.02 243.37h.01M58.52 250.93h.01M61.67 241.19h.01M61.82 244.97h.01M59.96 263.24h.01M60.03 249.65h.01M60.04 258.04h.01M60.83 263.74h.01M59 261.45h.01M61.86 260.26h.01M57.25 253.83h.01M60.17 241.44h.01M61.23 252.9h.01M61.91 252.72h.01M60.67 263.48h.01M60.37 260.04h.01M59.08 260.3h.01M59.91 258.38h.01M61.14 256.96h.01M57.65 232.44h.01M60.52 230.21h.01M61.88 253.8h.01M60.41 238.7h.01M61.49 232.88h.01M58.22 244.47h.01M58.23 251.03h.01M59.83 249.74h.01M59.6 256.97h.01M60.47 258.74h.01M57.84 254.45h.01M57.41 251.48h.01M62.71 229.96h.01M60.84 248.47h.01M63.12 264.28h.01M59.06 249.64h.01M60.59 254.73h.01M60.12 237.67h.01M61.36 263.62h.01M61.34 262.86h.01M58.9 246.62h.01M59.19 260.13h.01M60.87 254.39h.01M58.78 262.94h.01M60.29 246.14h.01M59.27 252.1h.01M60.23 263.83h.01M59.57 233.26h.01M60.52 249.18h.01M60.4 248.83h.01M59.5 247.51h.01M59.82 264.2h.01M59.22 262.4h.01M57.63 262.61h.01M60.73 240.37h.01M60.5 232.56h.01M62.13 250.98h.01" stroke="#000" stroke-width="0.84" stroke-linecap="round" stroke-opacity="0.85"/>
<line x1="56.52" y1="267.30" x2="63.32" y2="267.30" stroke="#000" stroke-width="1.3"/>
<rect x="66.95" y="222.00" width="1.1" height="45.30" fill="none" stroke="#777" stroke-width="0.45"/>
<path d="M64.2 267.3 L65.3 264.3 L66.9 261.3 L67 247.3 L68 247.3 L68.1 261.3 L69.7 264.3 L70.8 267.3Z" fill="#00C19F" stroke="#3a3a3a" stroke-width="0.35" stroke-linejoin="round"/>
<path d="M65 235.06h.01M67.11 229.42h.01M65.78 251.54h.01M67.56 237.47h.01M68.76 257.17h.01M67.43 255.18h.01M67.87 238h.01M68.38 234.08h.01M66.23 245.91h.01M66.39 232.03h.01M68.13 254.31h.01M67.95 258.52h.01M67.37 263.02h.01M68.73 227.63h.01M69.82 255.39h.01M68.8 261.15h.01M65.82 250.07h.01M66.54 256.28h.01M64.96 262.78h.01M67.18 225.65h.01M66.74 226.84h.01M66.71 233.19h.01M67.92 262.58h.01M69.38 225.74h.01M66.9 260.45h.01M67.48 226.27h.01M66.53 262.2h.01M66.9 264.22h.01M66.21 252.69h.01M68.14 259.15h.01M66.17 253.57h.01M68.91 263.94h.01M68.62 242.92h.01M67.29 260.1h.01M67 263.92h.01M67.11 264.25h.01M67.67 258.66h.01M68.31 262.88h.01M68.23 253.78h.01M67.56 243.87h.01M66.24 238.81h.01M70.08 237.39h.01M68.06 263.41h.01M70.54 236.47h.01M66.8 263.3h.01M69 259.51h.01M67.58 261.92h.01M68.32 260.63h.01M66.64 263.58h.01M68.79 243.6h.01M67.28 261.98h.01M66.67 228.73h.01M67.01 260.07h.01M66.5 231.55h.01M69.13 263.26h.01M66.28 259.52h.01M67.43 251.32h.01M70.23 228.43h.01M67.19 230.52h.01M65 251.39h.01" stroke="#000" stroke-width="0.84" stroke-linecap="round" stroke-opacity="0.85"/>
<line x1="64.10" y1="267.30" x2="70.90" y2="267.30" stroke="#000" stroke-width="1.3"/>
<rect x="74.52" y="215.80" width="1.1" height="51.50" fill="none" stroke="#777" stroke-width="0.45"/>
<path d="M71.47 267.3 L72.27 263.3 L73.47 258.3 L74.37 253.3 L74.57 237.3 L74.87 217.3 L75.27 217.3 L75.57 237.3 L75.77 253.3 L76.67 258.3 L77.87 263.3 L78.67 267.3Z" fill="#00B9E3" stroke="#3a3a3a" stroke-width="0.35" stroke-linejoin="round"/>
<path d="M77.51 240.65h.01M75.83 221.19h.01M75.3 226.16h.01M76.25 264.15h.01M74.66 253.72h.01M75.67 230.93h.01M76.47 231.09h.01M76.5 233.1h.01M75.61 255.22h.01M74.25 237.1h.01M76.33 231.53h.01M75.83 254.47h.01M71.87 238.67h.01M75.32 239.94h.01M74.44 258.77h.01M76.27 236.76h.01M74.77 224.19h.01M76.08 231.64h.01M71.87 247.23h.01M75.39 234.3h.01M76.15 228.09h.01M75.08 238.25h.01M72.51 261.09h.01M74.67 264.1h.01M73.78 260.31h.01M74.54 234.56h.01M77.26 235.37h.01M71.87 225.02h.01M74.78 248.24h.01M76.97 223.02h.01M72.87 249.7h.01M73.86 232.18h.01M72.95 237.33h.01M75.02 263.83h.01M75.01 261.32h.01" stroke="#000" stroke-width="0.84" stroke-linecap="round" stroke-opacity="0.85"/>
<line x1="71.67" y1="267.30" x2="78.47" y2="267.30" stroke="#000" stroke-width="1.3"/>
<rect x="82.10" y="224.20" width="1.1" height="43.10" fill="none" stroke="#777" stroke-width="0.45"/>
<path d="M85.02 256.42h.01M82.96 232.45h.01M80.02 238.86h.01M83.13 226.26h.01M79.45 227.55h.01M81.86 261.36h.01M80.4 253.81h.01M84.63 262.79h.01" stroke="#000" stroke-width="0.84" stroke-linecap="round" stroke-opacity="0.85"/>
<line x1="79.25" y1="267.30" x2="86.05" y2="267.30" stroke="#000" stroke-width="1.3"/>
<rect x="89.67" y="228.00" width="1.1" height="39.30" fill="none" stroke="#777" stroke-width="0.45"/>
<path d="M87.22 267.3 L88.22 264.8 L89.82 262.8 L90.62 262.8 L92.22 264.8 L93.22 267.3Z" fill="#DB72FB" stroke="#3a3a3a" stroke-width="0.35" stroke-linejoin="round"/>
<path d="M89.04 260.02h.01M88.01 255.52h.01M88.02 246.42h.01M90.15 239.82h.01M90.76 241.34h.01M88.88 261.26h.01M91.36 242.36h.01M88.89 248.1h.01M89.86 246.43h.01M93.04 242.63h.01" stroke="#000" stroke-width="0.84" stroke-linecap="round" stroke-opacity="0.85"/>
<line x1="86.82" y1="267.30" x2="93.62" y2="267.30" stroke="#000" stroke-width="1.3"/>
<rect x="97.25" y="250.40" width="1.1" height="16.90" fill="none" stroke="#777" stroke-width="0.45"/>
<path d="M99.34 253.55h.01M98.76 254.49h.01" stroke="#000" stroke-width="0.84" stroke-linecap="round" stroke-opacity="0.85"/>
<line x1="94.40" y1="267.30" x2="101.20" y2="267.30" stroke="#000" stroke-width="1.3"/>
<line x1="32.80" y1="213.00" x2="32.80" y2="270.50" stroke="#231f20" stroke-width="1.15"/>
<line x1="32.30" y1="270.50" x2="101.60" y2="270.50" stroke="#231f20" stroke-width="1.15"/>
<line x1="29.80" y1="228.80" x2="32.80" y2="228.80" stroke="#231f20" stroke-width="0.8"/>
<text x="26.40" y="231.90" font-size="8.6" text-anchor="end" font-weight="normal" fill="#231f20" style="" stroke="#231f20" stroke-width="0.12">3</text>
<line x1="29.80" y1="243.50" x2="32.80" y2="243.50" stroke="#231f20" stroke-width="0.8"/>
<text x="26.40" y="246.60" font-size="8.6" text-anchor="end" font-weight="normal" fill="#231f20" style="" stroke="#231f20" stroke-width="0.12">2</text>
<line x1="29.80" y1="267.30" x2="32.80" y2="267.30" stroke="#231f20" stroke-width="0.8"/>
<text x="26.40" y="270.40" font-size="8.6" text-anchor="end" font-weight="normal" fill="#231f20" style="" stroke="#231f20" stroke-width="0.12">1</text>
<line x1="37.20" y1="270.50" x2="37.20" y2="273.10" stroke="#231f20" stroke-width="0.8"/>
<text x="37.70" y="281.50" font-size="8.4" text-anchor="middle" fill="#231f20" stroke="#231f20" stroke-width="0.2" transform="rotate(-45 37.20 279.00)">0</text>
<line x1="44.77" y1="270.50" x2="44.77" y2="273.10" stroke="#231f20" stroke-width="0.8"/>
<text x="45.27" y="281.50" font-size="8.4" text-anchor="middle" fill="#231f20" stroke="#231f20" stroke-width="0.2" transform="rotate(-45 44.77 279.00)">1</text>
<line x1="52.35" y1="270.50" x2="52.35" y2="273.10" stroke="#231f20" stroke-width="0.8"/>
<text x="52.85" y="281.50" font-size="8.4" text-anchor="middle" fill="#231f20" stroke="#231f20" stroke-width="0.2" transform="rotate(-45 52.35 279.00)">2</text>
<line x1="59.92" y1="270.50" x2="59.92" y2="273.10" stroke="#231f20" stroke-width="0.8"/>
<text x="60.42" y="281.50" font-size="8.4" text-anchor="middle" fill="#231f20" stroke="#231f20" stroke-width="0.2" transform="rotate(-45 59.92 279.00)">3</text>
<line x1="67.50" y1="270.50" x2="67.50" y2="273.10" stroke="#231f20" stroke-width="0.8"/>
<text x="68.00" y="281.50" font-size="8.4" text-anchor="middle" fill="#231f20" stroke="#231f20" stroke-width="0.2" transform="rotate(-45 67.50 279.00)">4</text>
<line x1="75.07" y1="270.50" x2="75.07" y2="273.10" stroke="#231f20" stroke-width="0.8"/>
<text x="75.57" y="281.50" font-size="8.4" text-anchor="middle" fill="#231f20" stroke="#231f20" stroke-width="0.2" transform="rotate(-45 75.07 279.00)">5</text>
<line x1="82.65" y1="270.50" x2="82.65" y2="273.10" stroke="#231f20" stroke-width="0.8"/>
<text x="83.15" y="281.50" font-size="8.4" text-anchor="middle" fill="#231f20" stroke="#231f20" stroke-width="0.2" transform="rotate(-45 82.65 279.00)">6</text>
<line x1="90.22" y1="270.50" x2="90.22" y2="273.10" stroke="#231f20" stroke-width="0.8"/>
<text x="90.72" y="281.50" font-size="8.4" text-anchor="middle" fill="#231f20" stroke="#231f20" stroke-width="0.2" transform="rotate(-45 90.22 279.00)">7</text>
<line x1="97.80" y1="270.50" x2="97.80" y2="273.10" stroke="#231f20" stroke-width="0.8"/>
<text x="98.30" y="281.50" font-size="8.4" text-anchor="middle" fill="#231f20" stroke="#231f20" stroke-width="0.2" transform="rotate(-45 97.80 279.00)">8</text>
<text x="15.00" y="243.25" font-size="9" text-anchor="middle" font-weight="normal" fill="#231f20" style="" transform="rotate(-90 15.0 243.25)" stroke="#231f20" stroke-width="0.12" textLength="52" lengthAdjust="spacingAndGlyphs">Expression level</text>
<text x="66.90" y="295.70" font-size="9.3" text-anchor="middle" font-weight="normal" fill="#231f20" style="" stroke="#231f20" stroke-width="0.12" textLength="23.5" lengthAdjust="spacingAndGlyphs">Cluster</text>
<text x="170.90" y="210.30" font-size="10.4" text-anchor="middle" font-weight="normal" fill="#000" style="font-style:italic;" textLength="20.7" lengthAdjust="spacingAndGlyphs">Sdc4</text>
<rect x="140.35" y="236.20" width="1.1" height="31.10" fill="none" stroke="#777" stroke-width="0.45"/>
<path d="M142.47 257.27h.01M140.85 263.13h.01M137.97 263.06h.01M139.28 256.85h.01M141.93 240.23h.01M141.67 255.34h.01M141.04 238.24h.01M139.37 250.5h.01M139.61 237.52h.01M140.74 239.24h.01" stroke="#000" stroke-width="0.84" stroke-linecap="round" stroke-opacity="0.85"/>
<line x1="137.50" y1="267.30" x2="144.30" y2="267.30" stroke="#000" stroke-width="1.3"/>
<rect x="147.97" y="215.00" width="1.1" height="52.30" fill="none" stroke="#777" stroke-width="0.45"/>
<path d="M145.12 267.3 L145.93 263.3 L147.33 259.3 L146.12 255.3 L145.53 242.3 L145.72 229.3 L146.93 220.3 L148.12 215 L148.93 215 L150.12 220.3 L151.33 229.3 L151.53 242.3 L150.93 255.3 L149.72 259.3 L151.12 263.3 L151.93 267.3Z" fill="#D39200" stroke="#3a3a3a" stroke-width="0.35" stroke-linejoin="round"/>
<path d="M150.04 227.06h.01M148.81 219.6h.01M147.61 221.12h.01M148.68 237.23h.01M150.9 240.98h.01M150.34 225.51h.01M146.83 230.03h.01M148.68 231.66h.01M146.54 231.59h.01M147.1 232.84h.01M149.77 255.47h.01M147.93 223.7h.01M148.55 248.79h.01M148.61 220.45h.01M149.48 238.54h.01M149.69 229.17h.01M150.94 248.36h.01M146.16 247.9h.01M148.96 253.66h.01M149.37 221.06h.01M148.34 239.02h.01M147.66 253.67h.01M149.75 246.19h.01M148.18 254.39h.01M149.84 232.2h.01M147.38 243.93h.01M150.52 246.6h.01M147.99 230.38h.01M151.07 245.24h.01M148.2 232.6h.01M147.66 226.86h.01M149.34 227.59h.01M149.04 217.86h.01M147.57 234.67h.01M149.85 255.86h.01M148.18 242.39h.01M147.58 243.79h.01M146.75 231.45h.01M147.7 230.48h.01M149.39 230.31h.01M146.22 231.5h.01M145.95 234.54h.01M146.28 244.55h.01M147.77 227.22h.01M148.4 239.75h.01M150.74 248.27h.01M148.57 217.37h.01M147.32 236.38h.01M150.04 233.56h.01M148.66 246.33h.01M148.38 253.26h.01M149.01 215.96h.01M146.91 239.39h.01M148.09 226.11h.01M146.83 256.28h.01M146.91 256.59h.01M147.48 248.78h.01M150.44 245h.01M147.33 239.59h.01M147.11 241.91h.01M149.22 241.69h.01M149.83 252.84h.01M148.84 258.31h.01M149.63 245.43h.01M149.98 249.34h.01M150.13 243.26h.01M148.03 235.44h.01M148.08 242.39h.01M149.4 247.42h.01M149.49 228.35h.01M150.38 244.55h.01M149.48 249.75h.01M149.71 235.33h.01M150.46 251.86h.01M147.61 249.13h.01M149.21 255.47h.01M147.18 246.91h.01M148.38 221.87h.01M147.84 242.92h.01M146.1 229.5h.01M149.82 238.46h.01M149.97 221.53h.01M150.8 251.3h.01M150.68 236.69h.01M149.77 251.73h.01M146.1 242.6h.01M150.51 255.69h.01M146.69 231.87h.01M148.36 242.92h.01M147.12 230.18h.01M146.15 236.56h.01M147.3 250.78h.01M147.29 240.88h.01M147.17 246.55h.01M150.86 236.16h.01M146.39 241.84h.01M147.62 234.31h.01M147.37 237.76h.01M146.62 233.02h.01M149.16 218.59h.01M149.5 232.74h.01M149.91 230.4h.01M149.61 221.29h.01M148.15 228.27h.01M148.94 246.43h.01M148.23 235.78h.01M150.62 246.9h.01M146.88 223.55h.01M148.67 240.67h.01M150.51 252.34h.01M148.12 235.93h.01M149.63 224.51h.01M147.06 222.54h.01M147.61 256.56h.01M148.3 236.42h.01M147.62 243.11h.01M148.89 216.54h.01M149.37 229.75h.01M147.32 224.42h.01M147.85 255.22h.01M146.48 239.03h.01M147.34 221.33h.01M148.14 252.78h.01M148.1 216.64h.01M145.98 243.34h.01M150.16 231.27h.01M147.29 230.02h.01M147.55 238.26h.01M149.15 246.98h.01M149.24 222.55h.01M148.09 238.67h.01M148.35 257.09h.01M150.69 228.48h.01M150.62 226.12h.01M146.55 247.92h.01M147.24 255.22h.01M146.87 247.39h.01M149.77 257.67h.01M148.01 237.34h.01M148.06 216h.01M149.61 235.47h.01M147.29 258.23h.01M147.88 228.26h.01M150.22 256.88h.01M146.16 238.46h.01M149.93 222.21h.01M146.45 242.93h.01M150.11 257.42h.01M150.11 251.33h.01M147.06 234.45h.01M146.3 243.26h.01M147.66 220.31h.01M148.27 242h.01M149.3 245.43h.01M147.09 241.89h.01M146.31 251.27h.01M147.52 223.67h.01M148.71 227.88h.01M148.22 244.55h.01M147.45 255.27h.01M149.14 247.12h.01M146.42 240.11h.01M148.87 253.01h.01M148.82 245.69h.01M149.63 235.58h.01M147.57 249.74h.01M148.42 224.76h.01M147.3 243.71h.01M147.38 219.19h.01M150.84 242.88h.01M148.12 229.51h.01M146.46 243.28h.01M149.99 225.98h.01M150.25 230.43h.01M148.92 249.38h.01M147.07 253.58h.01M148.45 240.91h.01M149 229.34h.01M151.01 239.49h.01M149.68 247.05h.01M148.71 254.89h.01M148.54 216.21h.01M149.02 253.56h.01M146.94 229.68h.01M148.82 244.05h.01M149.58 254.98h.01M150.21 242.46h.01M147.47 230.37h.01M148.79 252.33h.01M147.34 234.93h.01M149.53 253.84h.01M146.22 251.12h.01M149.3 242.11h.01M150.49 225.48h.01M147.83 239.26h.01M149.58 247.1h.01M149.43 241.93h.01M149.29 221.36h.01M146.69 252.29h.01M151.08 244.42h.01M148.78 226.47h.01M146 231.57h.01M148.98 246.76h.01M149.82 224.48h.01M150.37 244.58h.01M148.05 255.34h.01M148.26 249.41h.01M147.82 242.94h.01M146.9 228.82h.01M150.39 242.25h.01M148.27 248.22h.01M148.31 236.56h.01M148.37 218.6h.01M148.17 221.57h.01M146.91 237.93h.01M146.35 228.82h.01M148.62 240.24h.01M150.37 233.61h.01M150.21 242.69h.01M150.12 233.63h.01M146.63 243.54h.01M147.58 222.4h.01M149.48 223.04h.01M148.27 244.07h.01M148.33 215.55h.01M149.91 242.62h.01M147.99 257.29h.01M146.74 239.69h.01M147.03 238.77h.01M148.68 249.73h.01M148.36 253.28h.01M150.12 238.28h.01M150.19 256.51h.01M148.82 252.92h.01M150.84 246.52h.01M148.91 219.43h.01M149.93 238.89h.01M146.85 246.28h.01M149.34 247.16h.01M150.36 224.11h.01M149.8 247.63h.01M149.47 236.21h.01M148.09 226.44h.01M147.54 255.7h.01M150.06 228.56h.01M146.66 230.96h.01M148.03 249.28h.01M147.66 227.47h.01M147.13 247.38h.01M148.65 222.39h.01M146.87 235.09h.01M147.21 256.91h.01M149.11 231.86h.01M148.36 245.55h.01M150.15 229.69h.01M148.85 253.4h.01M147.67 219.86h.01M147.86 221.85h.01M146.95 221.5h.01M146.85 248.52h.01M146.18 245.24h.01M148.52 255.15h.01M149.34 237.91h.01M146.58 249.29h.01M146.68 243.36h.01M148.25 252.67h.01M149.23 245.54h.01M150 222.3h.01M149.66 253.79h.01M148.67 230.95h.01M147.96 239.28h.01M147.3 257.26h.01M149.33 232.63h.01M147.75 250.46h.01M147.87 255.25h.01M147.25 228.98h.01M150.31 234.41h.01M150.2 230.81h.01M150.14 225.36h.01M147.95 249.76h.01M149.19 247.73h.01M146.8 254.98h.01M147.97 250.53h.01M148.93 218.96h.01M148.03 248.6h.01M149.62 253.03h.01M147.96 231.99h.01M149.45 243.23h.01M150.68 230.82h.01M147.97 238.74h.01M149.44 249.71h.01M147.69 238.76h.01M150.54 246.84h.01M148.22 232.32h.01M148.59 215.88h.01M149.72 253.96h.01M146 240.54h.01M146.22 229.03h.01M150.69 242.76h.01M150.21 253.82h.01M146.35 244.88h.01M148.47 229.97h.01M148.9 230.43h.01M150.32 248.54h.01M148.73 222.57h.01M146.89 246.01h.01M149.18 245.77h.01M146.68 252.67h.01M150.16 256.82h.01M147.2 243.85h.01M147.69 218.57h.01M147.88 257.65h.01M150.23 255.44h.01M146.25 248.91h.01M149.65 249.12h.01M151.08 238.18h.01M148.43 241.59h.01M148.56 255.74h.01M147.18 221.23h.01M147.85 246.31h.01M148.16 232.09h.01M150.81 234.25h.01M150.32 238.19h.01M147.15 228.84h.01M147.72 234.74h.01M149.64 239.54h.01M147.09 253.57h.01M146.04 235.08h.01M147.47 230.2h.01M148.21 240.58h.01M147.14 229.62h.01M148.06 218.14h.01M146.91 243.96h.01M149.37 217.78h.01M146.72 253.05h.01M149.1 243.34h.01M146.15 233.82h.01M148.28 240.89h.01M149.02 246.2h.01M146.85 234.49h.01M147.36 239.37h.01M148.68 235.74h.01M149.03 242.65h.01M150.73 251.47h.01M146.5 234.73h.01M146.69 239.11h.01M148.23 251.2h.01M148.7 234.61h.01M148.88 257.16h.01M149.53 256.07h.01M149.22 245.56h.01M147.84 230.24h.01M148.67 234.44h.01M146.19 247.32h.01M148.49 233.67h.01M146.62 225.34h.01M146.33 227.81h.01M147.93 234.45h.01M148.49 237.39h.01M147.92 247.92h.01M150.93 236.73h.01M149.14 258.11h.01M148.79 256.46h.01M149.52 250.11h.01M149.12 234.26h.01M149.19 217.36h.01M150.26 244.11h.01M148.02 242.17h.01M149.5 253.83h.01M150.49 247.22h.01M146.29 241.73h.01M150.31 253.92h.01M150.42 250.81h.01M149.53 218.93h.01M146.37 232.96h.01M148.44 232.09h.01M149.49 258.01h.01M149.37 218.58h.01M147.65 255.35h.01M150.04 239.39h.01M150.15 236h.01M148.29 219.74h.01M148.08 249.01h.01M149.88 252.27h.01M148.68 241.75h.01M149.23 224.14h.01M147.73 255.11h.01M150.87 231.62h.01M147.98 227.97h.01M147.79 223.67h.01M148.33 219.78h.01M147.69 252.16h.01M147.33 249.35h.01M147.57 238.41h.01M148.91 253.27h.01M147.31 232.11h.01M150.08 235.21h.01M147.04 230.32h.01M149.28 250.9h.01M150.77 242.79h.01M148.73 255.62h.01M147 225.15h.01M146.04 241.23h.01M145.95 241.53h.01M148.37 255.93h.01M148.57 216.04h.01M149.24 221.17h.01M149.47 254.48h.01M148.23 231.82h.01M148.41 253.78h.01M149.04 247.32h.01M149.15 249.5h.01M149.11 232.41h.01M150.38 238.48h.01M148.38 250.22h.01M149.06 237.28h.01M150.22 232.04h.01M150.34 245.53h.01M149.39 229.19h.01M146.39 246.95h.01" stroke="#000" stroke-width="0.8" stroke-linecap="round" stroke-opacity="0.8"/>
<path d="M149.27 228.41h.01M147.75 234.77h.01M149.76 234.72h.01M147.69 229.2h.01M146.27 256.83h.01M150.79 228.79h.01M149.23 250.23h.01M149.75 239.52h.01M148.61 226.68h.01M145.33 234.58h.01M149.47 225.26h.01M149.27 240.82h.01M150.73 226.98h.01M147.4 251.77h.01M150.84 222.75h.01M148.31 240.69h.01M147.05 241.2h.01M148.97 232.49h.01M147.8 248.32h.01M148.38 239.25h.01M147.31 250.74h.01M149.02 245.54h.01M149.6 250.43h.01M150.25 246.36h.01M148.16 228.58h.01M147.53 231.92h.01M150.59 235.47h.01M150.02 253.42h.01M151.08 258.95h.01M149.38 220.59h.01M147.22 244.72h.01M149.6 230h.01M145.43 234.06h.01M149.44 242.52h.01M147.26 253.94h.01M149.58 243.11h.01M149.63 235.42h.01M147.99 255.59h.01M148.96 237.37h.01M147.81 243.8h.01M146.15 237.17h.01M149.39 234.43h.01M145.33 243.12h.01M149.48 240.98h.01M149.14 230.33h.01M148.63 231.24h.01M147.42 249.65h.01M148.96 237.79h.01M148.8 238.48h.01M150.06 241.31h.01M150.37 228.24h.01M148.44 244.93h.01M150.52 245.98h.01M148.3 236.12h.01M149.7 247.22h.01M148.21 233.75h.01M148.2 234.04h.01M146.45 239.47h.01M145.33 234.39h.01M149.04 236.25h.01M148.02 235.71h.01M149.94 238.38h.01M149.97 247.87h.01M148.2 252.86h.01M150.82 233.58h.01M148.43 252.33h.01M150.79 252.38h.01M149.03 256.88h.01M148.11 229.3h.01M145.41 233.05h.01M147.95 240.34h.01M146.99 235.12h.01M147.14 232.43h.01M150.57 245.81h.01M147.06 236.68h.01M146.6 238.14h.01M149.33 245.96h.01M146.54 261.35h.01M147.88 244.27h.01M148.16 254.44h.01M149.37 245.89h.01M148.53 230.56h.01M147.6 258.31h.01M150.04 234.85h.01M150.89 244.2h.01M148.87 239.08h.01M149.2 243.77h.01M146.41 221.32h.01M147.84 242.04h.01M149.31 229.2h.01M148.53 241.08h.01M146.04 233.99h.01M148.82 252.7h.01M148.14 229.54h.01M148.28 234.95h.01M150.93 228.46h.01M149.26 221.07h.01M149.25 228.8h.01M148.45 261.43h.01M147.91 253.71h.01M147.24 231.87h.01M148.03 247.8h.01M146.98 257.87h.01M148.51 243.46h.01M148.98 240.94h.01M148.85 230.31h.01M149.91 251.97h.01M147.97 218.85h.01M149.79 258.79h.01M149.54 227.27h.01M147.37 234.08h.01M147.93 229.98h.01M145.94 263.3h.01M146.14 228.56h.01M146.49 229.81h.01M148.39 247.37h.01M148.25 232.92h.01M146.57 240.34h.01M148.82 217.85h.01M148.66 250.55h.01" stroke="#000" stroke-width="0.84" stroke-linecap="round" stroke-opacity="0.85"/>
<line x1="145.12" y1="267.30" x2="151.93" y2="267.30" stroke="#000" stroke-width="1.3"/>
<rect x="155.60" y="225.80" width="1.1" height="41.50" fill="none" stroke="#777" stroke-width="0.45"/>
<path d="M152.95 267.3 L153.75 264.3 L155.35 261.3 L155.75 257.3 L156.55 257.3 L156.95 261.3 L158.55 264.3 L159.35 267.3Z" fill="#93AA00" stroke="#3a3a3a" stroke-width="0.35" stroke-linejoin="round"/>
<path d="M156.76 250.39h.01M156.43 233.83h.01M154.36 246.62h.01M155.9 254.04h.01M157.77 249.73h.01M155.89 236.82h.01M156.19 257.42h.01M155.13 241.99h.01M154.32 239.47h.01M154.9 247.8h.01M155.15 253.38h.01M156.85 245.37h.01M154.6 260.97h.01M156.94 249.8h.01M154.4 232.98h.01M155.59 243.61h.01M156.13 256.26h.01M157.35 257.38h.01M154.86 240.6h.01M155.34 245.58h.01M156.96 241.99h.01M156.49 230.79h.01M154.87 241.22h.01M156.59 243.46h.01M156.45 247.26h.01M154.7 247.02h.01M152.95 246.77h.01M153.62 247.31h.01M156.54 244.8h.01M156.3 243.81h.01M155.34 240.96h.01M156.92 241.82h.01M155.21 246.15h.01M155.58 242.2h.01M157.5 250.55h.01M156.32 245.17h.01M154.25 248.68h.01M157.61 253.27h.01M153.34 227.3h.01M157.64 240.07h.01M156.18 239.39h.01M157.71 241.34h.01M159.35 250.11h.01M156.56 248.44h.01M154.31 240.83h.01M156.01 253.06h.01M156.24 260.48h.01M154.61 236.8h.01M155.37 251.56h.01M156.02 243.23h.01M156.28 243.37h.01M155.14 248h.01M156.35 243.46h.01M158.79 241.66h.01M157.41 241.12h.01M154.61 242.28h.01M156.44 236.27h.01M156.42 254.03h.01M156.84 242.13h.01M153.65 250.91h.01M156.81 238.79h.01M155.63 240.79h.01M154.61 252.65h.01M154.82 250.02h.01M157.88 246.05h.01M154.93 261.57h.01M155.27 238.1h.01M152.95 253.49h.01M155.9 239.98h.01M158.58 243.75h.01M159.01 230.78h.01M154.88 232.64h.01M156 239.66h.01M153.79 246.92h.01M158.96 236.12h.01M156.46 241.41h.01M154.75 258.71h.01M157.34 230.59h.01M155.58 243.01h.01M154.24 263.3h.01M157.85 240.16h.01M158.25 243.55h.01M157.22 239.36h.01M157.15 260.49h.01M156.71 256.44h.01M156.08 241.2h.01M157.82 234.91h.01M154.91 259.49h.01M155.72 251.86h.01M157.24 240.17h.01M153.18 251.69h.01M155.81 244.4h.01M156 240.11h.01M156.45 253.07h.01M156.29 236.92h.01M156.59 236.12h.01M156.88 244.67h.01M153.76 246.65h.01M159.35 251.16h.01M154.97 243.88h.01M156.77 249.3h.01M154.07 243.47h.01M157.3 242.26h.01M154.68 248.55h.01M155.86 237.43h.01M155.88 242.56h.01M156.42 244.62h.01M156.35 244.43h.01M156.99 241.03h.01M156.05 238.73h.01" stroke="#000" stroke-width="0.84" stroke-linecap="round" stroke-opacity="0.85"/>
<line x1="152.75" y1="267.30" x2="159.55" y2="267.30" stroke="#000" stroke-width="1.3"/>
<rect x="163.22" y="231.00" width="1.1" height="36.30" fill="none" stroke="#777" stroke-width="0.45"/>
<path d="M160.78 267.3 L161.97 265.5 L163.38 263.8 L164.18 263.8 L165.58 265.5 L166.78 267.3Z" fill="#00BA38" stroke="#3a3a3a" stroke-width="0.35" stroke-linejoin="round"/>
<path d="M160.58 264.18h.01M163.44 263.73h.01M163.3 263.92h.01M163.17 243.93h.01M165.06 249.8h.01M163.22 238.13h.01M163.97 257.48h.01M163.96 253.51h.01M163.35 233.52h.01M166 242.42h.01M162.31 254.02h.01M164.1 263.58h.01M164.97 256.9h.01M163.96 264.26h.01M164.77 263.56h.01M165.52 264.14h.01M162.92 244.32h.01M160.58 263.17h.01M166.27 256.14h.01M163.8 249.18h.01M163.22 236.32h.01M162.8 264.26h.01M163.56 242.91h.01M164.52 262.29h.01M164.8 258.03h.01M161.96 255.64h.01M165.82 233.62h.01M164.08 243.19h.01M164.33 260.96h.01M166.09 262.29h.01M164.37 234.75h.01M164.42 250.48h.01M163.12 244.27h.01M161.42 262.45h.01M162.47 261.87h.01M163.26 235.11h.01M160.58 235.49h.01M166.85 241.54h.01M162.64 259.32h.01M163.34 239.24h.01M163.72 258.88h.01M165.36 235.8h.01M164.67 253.9h.01M164.25 263.21h.01M163.6 237.11h.01M164.78 239.45h.01M162.6 256.89h.01M163.38 259.16h.01M163.57 243.34h.01M164.1 264.29h.01M163.21 264.19h.01M163.18 244.87h.01M164.86 247.02h.01M166.01 261.09h.01M163.48 260.25h.01M163.36 234.93h.01M166.5 255.94h.01M165.42 259.98h.01M163.73 255.65h.01M163.69 252.58h.01M165.8 264h.01M165.49 262.31h.01M164.13 262.57h.01M164.01 254.73h.01M162.73 259.95h.01M162.55 255h.01M163.99 235.69h.01M162.42 257.03h.01M164.86 261.24h.01M163.68 246.22h.01" stroke="#000" stroke-width="0.84" stroke-linecap="round" stroke-opacity="0.85"/>
<line x1="160.38" y1="267.30" x2="167.18" y2="267.30" stroke="#000" stroke-width="1.3"/>
<rect x="170.85" y="220.50" width="1.1" height="46.80" fill="none" stroke="#777" stroke-width="0.45"/>
<path d="M168.4 267.3 L169.4 264.8 L170.9 262.8 L171.9 262.8 L173.4 264.8 L174.4 267.3Z" fill="#00C19F" stroke="#3a3a3a" stroke-width="0.35" stroke-linejoin="round"/>
<path d="M170.97 243.07h.01M171.93 229.34h.01M173.15 232.39h.01M171.2 245.77h.01M173.01 237.1h.01M169.66 239.32h.01M169.09 229.61h.01M171.98 225.13h.01M171.61 246.72h.01M172.69 243.05h.01M169.86 257.56h.01M171.87 234.99h.01M171.89 247.36h.01M172.2 264.3h.01M170.64 242.83h.01M169.88 251.92h.01M168.99 249.59h.01M170.35 253.3h.01M173.2 238.43h.01M170.47 245.23h.01M168.71 236.26h.01M173.86 250.37h.01M171.18 229.12h.01M173.07 243.52h.01M172.17 246.68h.01M171.39 242.88h.01M169.38 251.05h.01M169.83 258.3h.01M168.2 249.8h.01M170.1 248.68h.01M170.64 243.23h.01M169.72 258.72h.01M168.82 251.76h.01M172.11 242.28h.01M172.96 261.11h.01M171.45 238.85h.01M171.61 232.23h.01M170.48 254.29h.01M171.38 235.12h.01M171.65 245.8h.01M170.4 251.46h.01M171.13 242.25h.01M171.15 254.02h.01M171.78 230.86h.01M168.92 232.03h.01M171.38 247.96h.01M170.62 251.49h.01M171.18 253.54h.01M171.2 228.38h.01M171.66 246.65h.01M169.75 245.01h.01M171.39 251.28h.01M170.94 235.14h.01M171.12 248.7h.01M173.13 247.23h.01M173.34 237.59h.01M171.92 255.48h.01M170.96 240.91h.01M168.98 251.94h.01M169 248.91h.01M172.69 255.91h.01M173.51 244.72h.01M172.78 238.74h.01M170.32 247.61h.01M171.66 233.02h.01M171.49 238.81h.01M171.6 237.59h.01M170.38 252.93h.01M174.6 242.37h.01M171.18 246.6h.01M170.35 246.33h.01M172.95 247.3h.01M173.47 244.93h.01M173.43 244.6h.01M170.01 249.09h.01M170.08 232.67h.01M171.36 233.05h.01M168.93 260.48h.01M173.43 238.95h.01M172.96 237.37h.01M171.28 233.98h.01M170.77 248.35h.01M171.63 246.75h.01M169.23 250.14h.01M171.09 242.12h.01M171.39 240.87h.01M169.78 243.87h.01M172.24 240.28h.01M170.66 224.67h.01M172.62 227.47h.01M172.49 245.75h.01M171.78 234.91h.01M170.32 247.54h.01M171.82 264.3h.01M172.07 240.61h.01M173.02 248.44h.01M170.06 230.34h.01M171.49 247.02h.01M172.42 234.96h.01M171.26 250.09h.01" stroke="#000" stroke-width="0.84" stroke-linecap="round" stroke-opacity="0.85"/>
<line x1="168.00" y1="267.30" x2="174.80" y2="267.30" stroke="#000" stroke-width="1.3"/>
<rect x="178.47" y="231.00" width="1.1" height="36.30" fill="none" stroke="#777" stroke-width="0.45"/>
<path d="M177.45 235.95h.01M178.98 238.05h.01" stroke="#000" stroke-width="0.84" stroke-linecap="round" stroke-opacity="0.85"/>
<line x1="175.62" y1="267.30" x2="182.43" y2="267.30" stroke="#000" stroke-width="1.3"/>
<rect x="186.10" y="238.00" width="1.1" height="29.30" fill="none" stroke="#777" stroke-width="0.45"/>
<path d="M188.6 253.07h.01M188.39 254.87h.01M188.19 262.14h.01M187.09 262.8h.01M188.03 247.73h.01M186.61 253.33h.01M184.9 250.41h.01M186.63 256.23h.01M186.09 244.77h.01" stroke="#000" stroke-width="0.84" stroke-linecap="round" stroke-opacity="0.85"/>
<line x1="183.25" y1="267.30" x2="190.05" y2="267.30" stroke="#000" stroke-width="1.3"/>
<rect x="193.72" y="238.50" width="1.1" height="28.80" fill="none" stroke="#777" stroke-width="0.45"/>
<path d="M192.3 254.05h.01M191.07 248.9h.01M193.85 260.91h.01M194.11 260.13h.01M194.51 247.1h.01M194.77 243.31h.01M193.58 254.74h.01" stroke="#000" stroke-width="0.84" stroke-linecap="round" stroke-opacity="0.85"/>
<line x1="190.87" y1="267.30" x2="197.67" y2="267.30" stroke="#000" stroke-width="1.3"/>
<rect x="201.35" y="242.60" width="1.1" height="24.70" fill="none" stroke="#777" stroke-width="0.45"/>
<path d="M201.01 255.03h.01M202.16 245.8h.01M201.8 254.43h.01M201.51 251.74h.01M200.63 254.54h.01M202.82 252.51h.01M203.63 254.06h.01" stroke="#000" stroke-width="0.84" stroke-linecap="round" stroke-opacity="0.85"/>
<line x1="198.50" y1="267.30" x2="205.30" y2="267.30" stroke="#000" stroke-width="1.3"/>
<line x1="136.50" y1="213.00" x2="136.50" y2="269.60" stroke="#231f20" stroke-width="1.15"/>
<line x1="136.00" y1="269.60" x2="205.70" y2="269.60" stroke="#231f20" stroke-width="1.15"/>
<line x1="133.50" y1="218.20" x2="136.50" y2="218.20" stroke="#231f20" stroke-width="0.8"/>
<text x="130.10" y="221.30" font-size="8.6" text-anchor="end" font-weight="normal" fill="#231f20" style="" stroke="#231f20" stroke-width="0.12">5</text>
<line x1="133.50" y1="233.80" x2="136.50" y2="233.80" stroke="#231f20" stroke-width="0.8"/>
<text x="130.10" y="236.90" font-size="8.6" text-anchor="end" font-weight="normal" fill="#231f20" style="" stroke="#231f20" stroke-width="0.12">3</text>
<line x1="133.50" y1="267.30" x2="136.50" y2="267.30" stroke="#231f20" stroke-width="0.8"/>
<text x="130.10" y="270.40" font-size="8.6" text-anchor="end" font-weight="normal" fill="#231f20" style="" stroke="#231f20" stroke-width="0.12">1</text>
<line x1="140.90" y1="269.60" x2="140.90" y2="272.20" stroke="#231f20" stroke-width="0.8"/>
<text x="141.40" y="281.50" font-size="8.4" text-anchor="middle" fill="#231f20" stroke="#231f20" stroke-width="0.2" transform="rotate(-45 140.90 279.00)">0</text>
<line x1="148.53" y1="269.60" x2="148.53" y2="272.20" stroke="#231f20" stroke-width="0.8"/>
<text x="149.03" y="281.50" font-size="8.4" text-anchor="middle" fill="#231f20" stroke="#231f20" stroke-width="0.2" transform="rotate(-45 148.53 279.00)">1</text>
<line x1="156.15" y1="269.60" x2="156.15" y2="272.20" stroke="#231f20" stroke-width="0.8"/>
<text x="156.65" y="281.50" font-size="8.4" text-anchor="middle" fill="#231f20" stroke="#231f20" stroke-width="0.2" transform="rotate(-45 156.15 279.00)">2</text>
<line x1="163.78" y1="269.60" x2="163.78" y2="272.20" stroke="#231f20" stroke-width="0.8"/>
<text x="164.28" y="281.50" font-size="8.4" text-anchor="middle" fill="#231f20" stroke="#231f20" stroke-width="0.2" transform="rotate(-45 163.78 279.00)">3</text>
<line x1="171.40" y1="269.60" x2="171.40" y2="272.20" stroke="#231f20" stroke-width="0.8"/>
<text x="171.90" y="281.50" font-size="8.4" text-anchor="middle" fill="#231f20" stroke="#231f20" stroke-width="0.2" transform="rotate(-45 171.40 279.00)">4</text>
<line x1="179.03" y1="269.60" x2="179.03" y2="272.20" stroke="#231f20" stroke-width="0.8"/>
<text x="179.53" y="281.50" font-size="8.4" text-anchor="middle" fill="#231f20" stroke="#231f20" stroke-width="0.2" transform="rotate(-45 179.03 279.00)">5</text>
<line x1="186.65" y1="269.60" x2="186.65" y2="272.20" stroke="#231f20" stroke-width="0.8"/>
<text x="187.15" y="281.50" font-size="8.4" text-anchor="middle" fill="#231f20" stroke="#231f20" stroke-width="0.2" transform="rotate(-45 186.65 279.00)">6</text>
<line x1="194.27" y1="269.60" x2="194.27" y2="272.20" stroke="#231f20" stroke-width="0.8"/>
<text x="194.77" y="281.50" font-size="8.4" text-anchor="middle" fill="#231f20" stroke="#231f20" stroke-width="0.2" transform="rotate(-45 194.27 279.00)">7</text>
<line x1="201.90" y1="269.60" x2="201.90" y2="272.20" stroke="#231f20" stroke-width="0.8"/>
<text x="202.40" y="281.50" font-size="8.4" text-anchor="middle" fill="#231f20" stroke="#231f20" stroke-width="0.2" transform="rotate(-45 201.90 279.00)">8</text>
<text x="118.50" y="242.80" font-size="9" text-anchor="middle" font-weight="normal" fill="#231f20" style="" transform="rotate(-90 118.5 242.8)" stroke="#231f20" stroke-width="0.12" textLength="52" lengthAdjust="spacingAndGlyphs">Expression level</text>
<text x="170.10" y="295.70" font-size="9.3" text-anchor="middle" font-weight="normal" fill="#231f20" style="" stroke="#231f20" stroke-width="0.12" textLength="23.5" lengthAdjust="spacingAndGlyphs">Cluster</text>
<text x="67.50" y="335.30" font-size="10.4" text-anchor="middle" font-weight="normal" fill="#000" style="font-style:italic;" textLength="33.4" lengthAdjust="spacingAndGlyphs">Mmp14</text>
<rect x="36.65" y="356.00" width="1.1" height="36.60" fill="none" stroke="#777" stroke-width="0.45"/>
<path d="M36.88 377.14h.01M34.25 362.56h.01M38.75 368.09h.01M34.44 363.97h.01M36.35 375.66h.01M38.58 376.1h.01M35.58 384.05h.01M35.66 385.75h.01M37.59 372.2h.01M38.14 360.3h.01M37.38 383.78h.01M37.74 380.02h.01" stroke="#000" stroke-width="0.84" stroke-linecap="round" stroke-opacity="0.85"/>
<line x1="33.80" y1="392.60" x2="40.60" y2="392.60" stroke="#000" stroke-width="1.3"/>
<rect x="44.22" y="341.50" width="1.1" height="51.10" fill="none" stroke="#777" stroke-width="0.45"/>
<path d="M41.17 392.6 L41.77 389.6 L43.17 384.6 L43.77 378.6 L42.37 374.6 L41.87 362.6 L42.27 347.6 L44.37 341.5 L45.17 341.5 L47.27 347.6 L47.67 362.6 L47.17 374.6 L45.77 378.6 L46.37 384.6 L47.77 389.6 L48.37 392.6Z" fill="#D39200" stroke="#3a3a3a" stroke-width="0.35" stroke-linejoin="round"/>
<path d="M46.59 364.89h.01M44.18 371.57h.01M44.42 362.27h.01M42.39 359.65h.01M45.46 382.93h.01M43.9 358.99h.01M45.57 349.91h.01M44.83 350.07h.01M45.76 378.16h.01M44.24 383.79h.01M47.1 356.22h.01M46.56 371.98h.01M42.46 359.47h.01M47.25 359.75h.01M45.1 343.97h.01M43.13 358h.01M42.26 360.95h.01M43.84 367.55h.01M45.32 367.46h.01M44.16 377.56h.01M42.25 364.08h.01M46.1 359.74h.01M46.35 373.95h.01M46.59 371.69h.01M42.69 366.86h.01M42.71 366.41h.01M44.54 363.23h.01M46.91 357.58h.01M42.23 360.11h.01M42.55 360h.01M45.06 368.44h.01M45.73 347.95h.01M46.54 375.24h.01M45.6 359h.01M46.58 362.21h.01M44.27 383.18h.01M42.99 359.26h.01M44.43 377.63h.01M45.38 375.64h.01M42.57 368.37h.01M43.3 362.26h.01M46.06 347.18h.01M45.98 377.28h.01M47.07 360.38h.01M47.06 354.88h.01M45.77 364.5h.01M43.88 376.61h.01M43.83 370.89h.01M44.62 348.22h.01M44.44 361.64h.01M42.75 371.24h.01M47.14 355.36h.01M42.75 353.4h.01M45.66 366.28h.01M44.8 363.98h.01M44.87 372.02h.01M42.67 374.26h.01M45.85 371.5h.01M43.91 378.15h.01M42.6 353.73h.01M45.03 379.25h.01M44.25 348.05h.01M42.59 353.75h.01M46.75 352.47h.01M43 365.45h.01M45.42 376.19h.01M46.05 347.62h.01M42.54 350.71h.01M45.96 370.58h.01M44.07 368.64h.01M46.35 372.97h.01M47.16 359.27h.01M43.57 367.27h.01M44.46 353.13h.01M45.16 350.77h.01M44.37 345.01h.01M47.14 361.27h.01M43.11 363.44h.01M44.23 357.92h.01M43.16 369.71h.01M45.63 345.32h.01M43.48 349.35h.01M45.64 363.06h.01M46.19 366.89h.01M47.03 356.66h.01M44.7 380.16h.01M46.88 350.63h.01M45.43 376.64h.01M44.76 363.97h.01M45.15 348.37h.01M45.93 357.62h.01M43.52 374.83h.01M46.98 366.5h.01M42.58 348.96h.01M44.71 352.64h.01M45.84 364.9h.01M44.12 373.62h.01M43.01 354.3h.01M46.63 367.11h.01M46.81 363.5h.01M45.64 369.9h.01M43.26 363.36h.01M45.48 373.51h.01M42.7 364.2h.01M46.07 347.17h.01M46.47 374.18h.01M44.31 356.9h.01M45.95 345.09h.01M44.42 375.16h.01M43.68 347.79h.01M44.74 359.62h.01M46.51 369.55h.01M44.33 361.58h.01M45.13 351.58h.01M42.8 363.57h.01M42.41 357.37h.01M44.82 350.92h.01M43.44 377.04h.01M43.66 368.27h.01M42.92 367.29h.01M42.56 357.18h.01M46.16 350.75h.01M45.45 358.68h.01M45.18 383.77h.01M46.1 354.21h.01M42.87 362.35h.01M42.81 353.35h.01M45.79 360.54h.01M44.92 383.43h.01M42.75 363.24h.01M46.89 355.85h.01M42.48 350.71h.01M45.69 347.72h.01M44.48 379.59h.01M45.72 373.69h.01M44.5 341.93h.01M43.65 348.05h.01M44.98 369.4h.01M42.89 374.11h.01M45.55 363.32h.01M42.75 349.92h.01M45.13 359.14h.01M44.67 365.27h.01M44.51 351.61h.01M45.57 355.38h.01M42.5 352.47h.01M43.45 369.17h.01M43.86 345.79h.01M46.4 365.48h.01M47.14 360.21h.01M44.42 359.04h.01M43.72 353.55h.01M45.58 369.93h.01M45.68 381.54h.01M42.44 358.05h.01M44.06 376.1h.01M46.23 350.84h.01M44.29 346.73h.01M45.69 366.69h.01M44.81 361.77h.01M43.4 365.51h.01M45.33 373.6h.01M45.85 350.66h.01M44.41 383.76h.01M44.61 357.54h.01M44.12 358.4h.01M43.92 363.59h.01M44.3 378.52h.01M45.15 379.09h.01M42.85 355.38h.01M43.84 343.54h.01M43.19 347.68h.01M47.04 353.16h.01M44.7 377.67h.01M45 343.07h.01M46.22 376.39h.01M45.73 355.72h.01M45.63 377.49h.01M42.43 361.17h.01M46.65 367.25h.01M42.78 355.37h.01M44.72 346.03h.01M45.58 350.33h.01M46.98 371.92h.01M47.1 367.13h.01M42.98 346.88h.01M43.69 354.59h.01M44.84 379.14h.01M46.05 351.04h.01M43.7 346.86h.01M45.9 375.96h.01M46.83 349.31h.01M42.82 369.37h.01M43.01 363.74h.01M45.31 354.19h.01M43.72 368.53h.01M45.44 360.46h.01M46.76 369.59h.01M45.15 363.4h.01M43.82 350.82h.01M47.07 363.12h.01M44.71 379.46h.01M43.77 354.96h.01M42.43 360.42h.01M43.96 356.68h.01M43.42 371.11h.01M45.92 357.98h.01M45.34 374.05h.01M45.66 347.69h.01M46.04 373.25h.01M43.85 380.69h.01M45.27 353.3h.01M45.69 372.44h.01M43.24 355.98h.01M45.08 350.82h.01M45.69 351.61h.01M43.97 372.82h.01M43.69 368.54h.01M43.6 374.95h.01M45.35 365.82h.01M45.09 378.06h.01M45.87 354.46h.01M44.7 364.63h.01M43.72 366.04h.01M42.49 352.12h.01M44.04 383h.01M45.69 366.73h.01M43.66 367.75h.01M45.48 343.19h.01M44.01 368.66h.01M43.73 376.73h.01M45.79 357.41h.01M44.77 362.72h.01M44.39 382.4h.01M44.11 375.43h.01M43.16 373.28h.01M46.16 366.13h.01M44.15 359.86h.01M45.95 365.31h.01M43.51 345.25h.01M44.5 352.39h.01M45.99 349.18h.01M45.01 366.07h.01M46.48 349.96h.01M45.31 368.68h.01M44.66 379.35h.01M42.52 351.81h.01M43.6 375.41h.01M43.91 369.44h.01M44.98 360.58h.01M45.64 350.59h.01M42.78 350.72h.01M43.63 349.25h.01M45.03 356.44h.01M44.82 347.66h.01M43.64 365.37h.01M42.63 352.28h.01M46.73 374.25h.01M44.88 351.19h.01M42.25 361.64h.01M42.93 360.43h.01M42.73 369.42h.01M46.93 365.87h.01M43.38 363.82h.01M44.55 367.61h.01M43.34 359.77h.01M45.87 364.87h.01M44.78 373.43h.01M45.57 365.93h.01M45.1 380.38h.01M43.62 374.71h.01M44.16 350.95h.01M44.35 374.38h.01M46.53 348.39h.01M44.52 352.49h.01M44.26 347.48h.01M44.82 348.22h.01M42.59 350.4h.01M47.25 356.97h.01M45.49 344.8h.01M44.08 377.15h.01M46.36 352.02h.01M44.97 361.83h.01M43.18 346.08h.01M45.6 375.33h.01M45.76 356.39h.01M44.94 342.17h.01M44.54 345h.01M43.77 377.23h.01M42.62 372.17h.01M46.09 356.54h.01M47.15 359.47h.01M45.31 378.13h.01M45.73 343.76h.01M45.24 362.62h.01M42.62 354.08h.01M44.76 375.3h.01M44.65 368.1h.01M46.85 358.12h.01M45.16 345.16h.01M43.79 382.33h.01M43.48 364.18h.01M43.79 355.52h.01M46.85 360.41h.01M46.38 372.9h.01M43.73 355h.01M46.49 351.52h.01M44.68 372.6h.01M44.33 351.26h.01M46.16 375.68h.01M44.38 345.86h.01M44.12 379.82h.01M46.83 358.01h.01M43.36 373.9h.01M46.99 361.44h.01M46.52 347.78h.01M43.59 367.3h.01M42.65 372.61h.01M46.28 368.29h.01M43.51 349.05h.01M46.3 354.31h.01M42.83 366.09h.01M46.48 349.28h.01M42.69 374.82h.01M44.19 382.13h.01M45.68 377.93h.01M46.62 362.4h.01M45.66 343.77h.01M47.04 353.42h.01M46.77 358.33h.01M42.81 361.07h.01M43.14 362.01h.01M47.19 361.42h.01M45.6 361.42h.01M44.04 352.84h.01M44.32 342.02h.01M45.05 365.98h.01M43.99 362.48h.01M45.58 379.04h.01M43.89 354.08h.01M44.96 350.09h.01M45.47 375.64h.01M44.66 379.36h.01M45.47 382.73h.01M44.14 367.7h.01M44.66 364.5h.01M43.23 367.94h.01M44.9 378.83h.01M44.23 367.8h.01M44.16 348.31h.01M44.18 365.26h.01M44.28 383.47h.01M44.25 346.44h.01M43.75 383.37h.01M47.12 357.37h.01M45.17 344.78h.01M45.43 344.96h.01M45.19 367.33h.01M42.66 357.57h.01M44.53 357.52h.01M43.15 357.99h.01M46 376.4h.01M46.13 375.66h.01M42.6 357.91h.01M45.83 373.22h.01M44.76 371.46h.01M45.74 362.32h.01M45.21 349.78h.01M43.73 357.86h.01M43.23 373.04h.01M43.23 350.01h.01M42.38 365.66h.01M45.39 358.8h.01M44.88 355.96h.01M45.38 364.34h.01M46.06 383.41h.01M45.44 380.89h.01M45.38 358.11h.01M47.29 359.94h.01M44.9 380.14h.01M44.64 356.21h.01M44.46 353.12h.01M44.02 358.41h.01M44.64 348.84h.01M44.96 348h.01M45.32 357.86h.01M46.09 375.91h.01M46.73 349.43h.01M45.43 360.34h.01M44.26 342.96h.01M43.62 361.66h.01M45.11 361.58h.01M42.58 370.89h.01M44.27 381.31h.01M44.41 363.26h.01M45.91 370.28h.01M44.64 383.79h.01M43.53 373.25h.01M45.65 379.98h.01M42.65 355.84h.01M44.23 343.51h.01M46.57 358.26h.01M45.4 371.49h.01M44.6 350.01h.01M44.08 377.9h.01M44.43 362.87h.01M45.25 343.21h.01M44.27 378.33h.01M44.43 355.51h.01M44.57 354.33h.01M43.16 362.81h.01M45.74 382.84h.01M44.85 343.49h.01M42.96 355.81h.01M42.51 351.35h.01M46.26 350.24h.01M42.99 366.24h.01M46.05 375.99h.01M43.81 346.77h.01M47.01 358.82h.01" stroke="#000" stroke-width="0.8" stroke-linecap="round" stroke-opacity="0.8"/>
<path d="M44.96 356.69h.01M44.62 366.15h.01M42.98 369.63h.01M44.15 354.11h.01M42.4 353.75h.01M44.81 364.74h.01M44.75 377.4h.01M43.58 353.79h.01M43.52 372.61h.01M46.77 356.68h.01M43.96 368.59h.01M46.61 345.07h.01M46.2 365.07h.01M45.72 364.2h.01M45.32 354.26h.01M46.82 370.9h.01M44.89 362.71h.01M44.58 363.58h.01M44.58 356.33h.01M42.65 372.22h.01M43.89 349.65h.01M43.9 364.16h.01M44.31 342.6h.01M45.7 367.65h.01M46.65 356.16h.01M43.8 357.04h.01M45.04 355.84h.01M44.37 359.68h.01M45.85 360.84h.01M43.43 356.94h.01M46.54 350.19h.01M44.75 373.4h.01M44.47 366.63h.01M43.97 348.79h.01M46.44 365.43h.01M45.66 361.95h.01M43.38 362.5h.01M43.72 355.45h.01M47.9 354.37h.01M46.78 366.62h.01M46.42 372.74h.01M43.22 366.24h.01M45.31 359.76h.01M44.93 366.48h.01M43.25 371.99h.01M41.57 374.3h.01M45.17 367.78h.01M45.2 364.92h.01M44.31 359.9h.01M44.71 352.53h.01M44.69 361.92h.01M45.91 367.54h.01M41.57 367.02h.01M44.65 362.34h.01M46.33 348.37h.01M44.31 367.67h.01M44.83 372.31h.01M44.34 366.7h.01M45.51 370.48h.01M45.46 352.14h.01M46.08 382.6h.01M45.4 362.39h.01M46.65 349.59h.01M46.94 360.41h.01M45.47 382.6h.01M45.16 374.55h.01M45.65 347.39h.01M44.36 357.99h.01M43.12 362.51h.01M44.51 347.35h.01M45.32 346.94h.01M43 351.42h.01M47.68 359.71h.01M45.03 360.66h.01M43.79 366.51h.01M47.82 367.66h.01M46.17 369.99h.01M45.11 382.6h.01M46.45 379.29h.01M44.84 354.49h.01M45.64 344.08h.01M45.88 360.92h.01M44.16 382.6h.01M45.57 360.17h.01M43.79 371.82h.01M44.36 366.48h.01M43.33 350.46h.01M47.21 363.08h.01M44.21 355.63h.01M43.15 364.75h.01M44.77 352.33h.01M45.28 372.76h.01M43.82 374.76h.01M45.8 363.62h.01M46.49 354.44h.01M44.11 372.69h.01M46.11 361.23h.01M42.46 368.15h.01M44.97 363.31h.01M45.09 367.7h.01M47.97 366.44h.01M45.31 351.9h.01M44.79 359.48h.01M43.47 358.81h.01M43.73 355.18h.01M44.46 367.25h.01M46.35 361.26h.01M45.47 375.16h.01M47.97 358.34h.01M45.03 366.86h.01M43.42 374.09h.01M46.63 358.35h.01M46.79 375.88h.01M45.23 358.57h.01M44.89 355.21h.01M45.43 369.15h.01M42.23 356.31h.01M44.95 369.45h.01M43.89 361.05h.01M45.93 362h.01M43.28 366.06h.01M44.46 382.6h.01M45.65 368.75h.01M44.26 371.27h.01M45.64 356.67h.01M47.89 361.17h.01M44.88 352.8h.01M47.97 366.3h.01M45.1 353.91h.01M44.13 364.55h.01M47.51 343.01h.01M43.87 377.34h.01M42.52 362.92h.01M44.72 354.52h.01M43.53 373.37h.01M43.39 371.38h.01M44.25 371.13h.01M44.89 352.36h.01M46.16 355.61h.01M44.78 372.84h.01M46.1 345.59h.01M44.63 363.54h.01M46.72 374.95h.01M44.69 356.12h.01M44.74 363.94h.01M44.81 362.25h.01M47.03 370.88h.01M45.54 348.15h.01M45.56 364.87h.01M45.96 367.3h.01" stroke="#000" stroke-width="0.84" stroke-linecap="round" stroke-opacity="0.85"/>
<line x1="41.37" y1="392.60" x2="48.17" y2="392.60" stroke="#000" stroke-width="1.3"/>
<rect x="51.80" y="340.00" width="1.1" height="52.60" fill="none" stroke="#777" stroke-width="0.45"/>
<path d="M49.82 373.6h.01M52.75 378.65h.01M54.17 364.21h.01M52.68 372.32h.01M53.36 373.67h.01M50.96 377.42h.01M52.64 355.92h.01M52.25 358.12h.01M51.55 365.52h.01M53.74 356.83h.01M52.72 362.83h.01M51.01 371.32h.01M53.43 374.92h.01M49.28 352.79h.01M54.44 365.31h.01M51.61 373.08h.01M51.06 375.75h.01M49.93 344.6h.01M51.06 366.44h.01M52.89 359.21h.01M55.55 363.69h.01M53.06 378.57h.01M52.37 373.38h.01M52.58 372.39h.01M51.47 377.36h.01M52.04 371.06h.01M55.55 365.37h.01M52.63 372.41h.01M49.68 371.01h.01M53.72 353.27h.01M53.24 381.68h.01M52.36 368.67h.01M52.56 367.03h.01M51.62 359.25h.01M52.53 376.05h.01M52.76 376.88h.01M53.41 371.66h.01M51.62 359.3h.01M55.55 344.6h.01M51.91 369.37h.01M51.52 365.05h.01M51.63 366.38h.01M51.02 362.6h.01M52.18 373.11h.01M51.23 350.25h.01M52.33 363.18h.01M52.43 365.09h.01M52.98 358.29h.01M52.55 386.6h.01M53.58 373.23h.01M53.46 357.18h.01M53.62 366.15h.01M50.19 359.13h.01M54.77 367.03h.01M53.43 352.25h.01" stroke="#000" stroke-width="0.84" stroke-linecap="round" stroke-opacity="0.85"/>
<line x1="48.95" y1="392.60" x2="55.75" y2="392.60" stroke="#000" stroke-width="1.3"/>
<rect x="59.38" y="351.60" width="1.1" height="41.00" fill="none" stroke="#777" stroke-width="0.45"/>
<path d="M58.23 380.57h.01M60.5 380.52h.01M58.17 384.33h.01M58.94 371.14h.01M60.45 364.08h.01M62.23 368.99h.01M62.37 372.43h.01M59.52 371.14h.01M56.72 375.71h.01M58.27 370.55h.01M58.79 370.29h.01M59.28 362.87h.01M59.23 365.74h.01M62.1 359.59h.01M62.68 370.19h.01M60.12 374.12h.01M56.72 373.42h.01M58.77 359.73h.01M59.73 375.02h.01M61.41 376.24h.01M57.15 370.84h.01M57.91 372.27h.01M59.68 368.3h.01M60.57 377.3h.01M61.08 376.41h.01M59.75 365.97h.01M59.87 375.32h.01M61.26 365.41h.01M60.73 373.68h.01M58.57 368.82h.01M58.44 377.49h.01M57.48 374.35h.01M61.2 375.79h.01M60.29 371.56h.01M60.67 354.87h.01M60.81 378.49h.01M59.67 367.09h.01M61.24 367.13h.01M62.93 371.21h.01M58.25 377.02h.01M56.72 360.59h.01M59.13 359.41h.01M62.23 376.26h.01M58.96 363.27h.01M61.4 368.81h.01M60.17 355.14h.01M60.63 354.97h.01M57.81 370.58h.01M58.42 371.44h.01M58.3 375.24h.01M61.28 362.18h.01M61.51 365.64h.01M59.85 375.35h.01M59.95 362.83h.01M59.9 371.89h.01M59.6 366.16h.01M57.75 358.81h.01M60.38 365.32h.01M58.7 368.31h.01M60.48 384.74h.01" stroke="#000" stroke-width="0.84" stroke-linecap="round" stroke-opacity="0.85"/>
<line x1="56.52" y1="392.60" x2="63.32" y2="392.60" stroke="#000" stroke-width="1.3"/>
<rect x="66.95" y="351.60" width="1.1" height="41.00" fill="none" stroke="#777" stroke-width="0.45"/>
<path d="M66.02 376.48h.01M66.54 365.14h.01M69.32 374.88h.01M69.88 371.7h.01M65.17 360.29h.01M64.79 376.09h.01M67.29 376.57h.01M65.22 374.9h.01M68.12 367.21h.01M69.37 369.19h.01M64.3 367.94h.01M66.04 382.87h.01M68.4 355.62h.01M67.34 371.28h.01M68.28 367.92h.01M69.48 360.67h.01M66.98 378.45h.01M68.36 370.55h.01M66.74 374.81h.01M69.35 365.25h.01M65.06 381.94h.01M68.37 366.65h.01M64.3 359.5h.01M67.14 369.95h.01M66.97 376.44h.01M68.53 374.33h.01M68.25 382.09h.01M66.39 370.38h.01M67.42 352.6h.01M68.5 378.33h.01M67.91 376.1h.01M64.59 376.2h.01M65.34 364.83h.01M68.97 382.27h.01M67.53 372.35h.01M68.26 368.57h.01M67.75 370.99h.01M65.53 377.22h.01M67.15 380.19h.01M66.47 369.48h.01M65.48 366.97h.01M66.59 368.31h.01M66.56 374.44h.01M67.45 374.88h.01M68.39 373.21h.01M67.82 373.2h.01M69.53 378.76h.01M66.49 375.61h.01M66.59 374.39h.01M67.39 371.35h.01M67.36 369.83h.01M67.28 374.94h.01M67.66 366.01h.01M66.37 354.8h.01M66.86 376.81h.01M69.54 360.22h.01M67.49 376.24h.01M67.53 370.19h.01M69.09 361.49h.01M66.26 353.34h.01" stroke="#000" stroke-width="0.84" stroke-linecap="round" stroke-opacity="0.85"/>
<line x1="64.10" y1="392.60" x2="70.90" y2="392.60" stroke="#000" stroke-width="1.3"/>
<rect x="74.52" y="356.60" width="1.1" height="36.00" fill="none" stroke="#777" stroke-width="0.45"/>
<path d="M74.06 379.64h.01M76.38 365.93h.01M74.46 384.44h.01M75.95 362.85h.01M76.89 365.78h.01M75.55 360.23h.01M73.4 376.46h.01M74.89 363.4h.01M76.58 378.62h.01M74.6 374.01h.01M75.57 385.72h.01M76.69 372.55h.01M72.04 386.75h.01M75.98 383.76h.01M77.29 369.05h.01" stroke="#000" stroke-width="0.84" stroke-linecap="round" stroke-opacity="0.85"/>
<line x1="71.67" y1="392.60" x2="78.47" y2="392.60" stroke="#000" stroke-width="1.3"/>
<rect x="82.10" y="358.80" width="1.1" height="33.80" fill="none" stroke="#777" stroke-width="0.45"/>
<path d="M85.24 370.23h.01M82.7 372.11h.01M80.25 365.29h.01M82.89 382.96h.01M85.41 362.9h.01M82.48 373.14h.01M83.26 385.4h.01M81.54 383.33h.01M84.02 373.25h.01M82.83 363.19h.01M83.29 385.35h.01M82.01 380.66h.01M81.76 368.06h.01M81.43 386.87h.01" stroke="#000" stroke-width="0.84" stroke-linecap="round" stroke-opacity="0.85"/>
<line x1="79.25" y1="392.60" x2="86.05" y2="392.60" stroke="#000" stroke-width="1.3"/>
<rect x="89.67" y="368.20" width="1.1" height="24.40" fill="none" stroke="#777" stroke-width="0.45"/>
<path d="M87.28 374.87h.01M90.59 379.32h.01M90.15 369.49h.01M89.34 383.61h.01" stroke="#000" stroke-width="0.84" stroke-linecap="round" stroke-opacity="0.85"/>
<line x1="86.82" y1="392.60" x2="93.62" y2="392.60" stroke="#000" stroke-width="1.3"/>
<line x1="94.40" y1="392.60" x2="101.20" y2="392.60" stroke="#000" stroke-width="1.3"/>
<line x1="32.80" y1="338.20" x2="32.80" y2="395.50" stroke="#231f20" stroke-width="1.15"/>
<line x1="32.30" y1="395.50" x2="101.60" y2="395.50" stroke="#231f20" stroke-width="1.15"/>
<line x1="29.80" y1="348.80" x2="32.80" y2="348.80" stroke="#231f20" stroke-width="0.8"/>
<text x="26.40" y="351.90" font-size="8.6" text-anchor="end" font-weight="normal" fill="#231f20" style="" stroke="#231f20" stroke-width="0.12">3</text>
<line x1="29.80" y1="364.50" x2="32.80" y2="364.50" stroke="#231f20" stroke-width="0.8"/>
<text x="26.40" y="367.60" font-size="8.6" text-anchor="end" font-weight="normal" fill="#231f20" style="" stroke="#231f20" stroke-width="0.12">2</text>
<line x1="29.80" y1="392.60" x2="32.80" y2="392.60" stroke="#231f20" stroke-width="0.8"/>
<text x="26.40" y="395.70" font-size="8.6" text-anchor="end" font-weight="normal" fill="#231f20" style="" stroke="#231f20" stroke-width="0.12">1</text>
<line x1="37.20" y1="395.50" x2="37.20" y2="398.10" stroke="#231f20" stroke-width="0.8"/>
<text x="37.70" y="406.50" font-size="8.4" text-anchor="middle" fill="#231f20" stroke="#231f20" stroke-width="0.2" transform="rotate(-45 37.20 404.00)">0</text>
<line x1="44.77" y1="395.50" x2="44.77" y2="398.10" stroke="#231f20" stroke-width="0.8"/>
<text x="45.27" y="406.50" font-size="8.4" text-anchor="middle" fill="#231f20" stroke="#231f20" stroke-width="0.2" transform="rotate(-45 44.77 404.00)">1</text>
<line x1="52.35" y1="395.50" x2="52.35" y2="398.10" stroke="#231f20" stroke-width="0.8"/>
<text x="52.85" y="406.50" font-size="8.4" text-anchor="middle" fill="#231f20" stroke="#231f20" stroke-width="0.2" transform="rotate(-45 52.35 404.00)">2</text>
<line x1="59.92" y1="395.50" x2="59.92" y2="398.10" stroke="#231f20" stroke-width="0.8"/>
<text x="60.42" y="406.50" font-size="8.4" text-anchor="middle" fill="#231f20" stroke="#231f20" stroke-width="0.2" transform="rotate(-45 59.92 404.00)">3</text>
<line x1="67.50" y1="395.50" x2="67.50" y2="398.10" stroke="#231f20" stroke-width="0.8"/>
<text x="68.00" y="406.50" font-size="8.4" text-anchor="middle" fill="#231f20" stroke="#231f20" stroke-width="0.2" transform="rotate(-45 67.50 404.00)">4</text>
<line x1="75.07" y1="395.50" x2="75.07" y2="398.10" stroke="#231f20" stroke-width="0.8"/>
<text x="75.57" y="406.50" font-size="8.4" text-anchor="middle" fill="#231f20" stroke="#231f20" stroke-width="0.2" transform="rotate(-45 75.07 404.00)">5</text>
<line x1="82.65" y1="395.50" x2="82.65" y2="398.10" stroke="#231f20" stroke-width="0.8"/>
<text x="83.15" y="406.50" font-size="8.4" text-anchor="middle" fill="#231f20" stroke="#231f20" stroke-width="0.2" transform="rotate(-45 82.65 404.00)">6</text>
<line x1="90.22" y1="395.50" x2="90.22" y2="398.10" stroke="#231f20" stroke-width="0.8"/>
<text x="90.72" y="406.50" font-size="8.4" text-anchor="middle" fill="#231f20" stroke="#231f20" stroke-width="0.2" transform="rotate(-45 90.22 404.00)">7</text>
<line x1="97.80" y1="395.50" x2="97.80" y2="398.10" stroke="#231f20" stroke-width="0.8"/>
<text x="98.30" y="406.50" font-size="8.4" text-anchor="middle" fill="#231f20" stroke="#231f20" stroke-width="0.2" transform="rotate(-45 97.80 404.00)">8</text>
<text x="15.00" y="368.35" font-size="9" text-anchor="middle" font-weight="normal" fill="#231f20" style="" transform="rotate(-90 15.0 368.35)" stroke="#231f20" stroke-width="0.12" textLength="52" lengthAdjust="spacingAndGlyphs">Expression level</text>
<text x="66.70" y="420.70" font-size="9.3" text-anchor="middle" font-weight="normal" fill="#231f20" style="" stroke="#231f20" stroke-width="0.12" textLength="23.5" lengthAdjust="spacingAndGlyphs">Cluster</text>
<text x="170.90" y="335.00" font-size="10.4" text-anchor="middle" font-weight="normal" fill="#000" style="font-style:italic;" textLength="21.2" lengthAdjust="spacingAndGlyphs">Arg2</text>
<rect x="140.25" y="349.40" width="1.1" height="42.60" fill="none" stroke="#777" stroke-width="0.45"/>
<path d="M140.55 373.16h.01M141.45 376.57h.01M142.73 369.83h.01M140.25 377.95h.01M142.7 369.77h.01M141.98 372.41h.01M142.33 376.32h.01M141.15 374.24h.01M140.51 377.7h.01M141.59 368.05h.01M141.08 371.33h.01M139.86 369.56h.01M139.06 369.92h.01M140.18 376.7h.01M140.92 368.23h.01M140.83 372.4h.01M142.68 372.19h.01M141.07 378h.01M139.12 370.85h.01M140.83 374.57h.01M140.07 370.22h.01M142.37 377.46h.01M139.56 370.11h.01M140.68 371.35h.01M141.77 374.24h.01M139.84 370.21h.01M141.4 375.27h.01M138.13 370.51h.01M138.99 381h.01M142.46 374.09h.01M143.63 364h.01M141.3 379.66h.01M140.5 372.59h.01M142.06 369.01h.01M141.71 374.25h.01M141.67 372.19h.01M139.2 366.01h.01M142.43 375.59h.01M140.33 377.08h.01M141.51 375.51h.01M139.63 371.57h.01M140.45 375.07h.01M142.34 376.21h.01M142.36 378.43h.01M139.88 368.5h.01M140.31 376.66h.01M141.18 373.29h.01M139.11 369.36h.01M138.2 370.78h.01M141.85 368.36h.01" stroke="#000" stroke-width="0.84" stroke-linecap="round" stroke-opacity="0.85"/>
<path d="M142.29 357.61h.01M137.87 363.07h.01M142.25 352.98h.01M140.32 383.79h.01M139.32 371.63h.01M143.73 378.26h.01M139.24 381.91h.01M140.47 357.17h.01M141.17 386.98h.01M143.55 380.24h.01" stroke="#000" stroke-width="0.84" stroke-linecap="round" stroke-opacity="0.85"/>
<line x1="137.40" y1="392.00" x2="144.20" y2="392.00" stroke="#000" stroke-width="1.3"/>
<rect x="147.84" y="340.80" width="1.1" height="51.20" fill="none" stroke="#777" stroke-width="0.45"/>
<path d="M145.29 392 L145.79 389 L147.39 383.3 L146.39 378 L145.19 364 L145.19 354 L146.59 346 L147.99 340.8 L148.79 340.8 L150.19 346 L151.59 354 L151.59 364 L150.39 378 L149.39 383.3 L150.99 389 L151.49 392Z" fill="#D39200" stroke="#3a3a3a" stroke-width="0.35" stroke-linejoin="round"/>
<path d="M150.3 348.7h.01M146.8 361.25h.01M148.35 363.32h.01M145.77 355.49h.01M149.92 364.14h.01M149.46 355.59h.01M148.74 368.05h.01M146.86 360.36h.01M149.41 349.99h.01M147.85 355.17h.01M150.07 353.12h.01M150.55 372.32h.01M146.87 357.52h.01M148.63 350.63h.01M147.91 380.85h.01M146.59 360.87h.01M149.26 357.81h.01M146.14 350.96h.01M148.76 379.52h.01M145.7 361.68h.01M150.38 353.25h.01M147.38 359.05h.01M148.88 370.76h.01M147.43 373.84h.01M150.06 358.6h.01M146.36 355.63h.01M146.88 351.55h.01M149.68 359.87h.01M147.68 344.57h.01M147.87 367.09h.01M148.73 376.69h.01M145.75 357.68h.01M146.46 370.81h.01M146.19 363.27h.01M146.23 353.03h.01M149.41 350.85h.01M148.75 377.1h.01M149.68 366.4h.01M146.83 351.2h.01M147.9 358.02h.01M148.89 382.61h.01M148.37 367.07h.01M150.94 360.17h.01M148.89 349.19h.01M150.88 357.44h.01M148.98 376.82h.01M146.71 372.66h.01M148.31 367.39h.01M151.04 355.81h.01M150.75 357.27h.01M148.3 370.54h.01M146.08 369.12h.01M149.47 358.45h.01M147.82 355.81h.01M147.32 351.94h.01M148.41 349.24h.01M149.11 348.73h.01M147.43 376.06h.01M148.48 359.32h.01M150.29 368.72h.01M150.38 349.19h.01M149.98 377.39h.01M150.04 348.18h.01M147.44 357.68h.01M146.91 359.95h.01M145.64 365.53h.01M148.65 357.45h.01M150.98 361.3h.01M148.99 382.51h.01M146.49 373.05h.01M148.66 360.56h.01M148.87 360.05h.01M146.36 351.62h.01M150.89 352.82h.01M147.22 367.44h.01M148.32 355.64h.01M149.66 363.8h.01M149.31 344.69h.01M149.12 364.35h.01M149.29 360.66h.01M149.54 344.52h.01M148.63 357.67h.01M146.52 354.11h.01M148.98 376.35h.01M149.9 363.87h.01M148.28 373.62h.01M146.68 352.58h.01M148.74 357.5h.01M146.49 353.01h.01M147.41 344.77h.01M149.78 369.91h.01M146.03 359h.01M146.34 372.8h.01M147.97 372.02h.01M149.68 374.49h.01M146.85 357.16h.01M147.18 370.64h.01M150.22 365.99h.01M150.61 356.58h.01M148.6 361.37h.01M147.93 375.17h.01M148.75 379.8h.01M148.64 355.91h.01M147.66 378.3h.01M146.72 377.97h.01M146.79 350.52h.01M148.36 368.18h.01M147.32 377.05h.01M146.11 364.16h.01M146.16 365.77h.01M146.63 347.14h.01M149.27 346.05h.01M148.67 345.07h.01M149.18 362.36h.01M149.2 353.38h.01M148.37 369.67h.01M148.27 354.57h.01M148.26 347.12h.01M150.48 370.18h.01M147.65 343.95h.01M147.44 357.9h.01M147.47 362.8h.01M150.72 368.73h.01M150.4 359.35h.01M147.07 365.43h.01M148 362h.01M148.43 362.9h.01M147.59 359.3h.01M148.79 367.83h.01M147.72 362.02h.01M145.96 366.08h.01M147.43 368.19h.01M146.65 359.97h.01M148.48 356.66h.01M147.46 347.99h.01M148 368.88h.01M150.38 363.4h.01M147.82 352.65h.01M150.5 354.9h.01M150.47 349.1h.01M149.35 360.23h.01M148.73 369.61h.01M148.02 354.15h.01M146.96 375.38h.01M148.25 347.57h.01M148.31 365.4h.01M150.7 371.2h.01M145.91 361.62h.01M146.9 348.99h.01M146.88 358.84h.01M147.9 344.16h.01M146.53 354.97h.01M149.15 366.92h.01M145.89 365.58h.01M148.18 379.61h.01M146.75 372.96h.01M146.82 374.11h.01M149.74 380.04h.01M147 364.24h.01M149.26 373.1h.01M146.14 367.36h.01M149.55 369.12h.01M146.99 359.72h.01M150.18 373.37h.01M147.48 351.99h.01M146.14 364.56h.01M147.69 366.67h.01M146.97 350.86h.01M147.58 380.96h.01M148.52 373.37h.01M149.03 357.34h.01M148.69 357.39h.01M147.28 358.29h.01M147.21 378.19h.01M147.23 348.84h.01M149.08 376.16h.01M149.04 348.14h.01M147.69 360.26h.01M150.49 351.21h.01M147.57 363.44h.01M149.15 382.5h.01M145.56 360.45h.01M147.73 375.47h.01M148.53 343.46h.01M150.91 356.68h.01M147.41 345.64h.01M146.91 369.78h.01M147.22 377.69h.01M147.94 360.54h.01M149.52 354.84h.01M150.07 353.84h.01M149.95 352.72h.01M147.42 356.24h.01M149.59 376.65h.01M149.63 376.25h.01M146.28 357.38h.01M148.23 367.75h.01M149.4 374.75h.01M148.19 369.45h.01M145.53 362.94h.01M146.78 360.79h.01M149.6 363.23h.01M150.11 354.25h.01M150.43 372.95h.01M147.29 379.33h.01M150.6 361.88h.01M148.17 380.12h.01M147.61 364.76h.01M147.71 350.27h.01M147.37 381.23h.01M148.77 352.37h.01M147.16 369.98h.01M149.81 356.47h.01M149.22 380.09h.01M147.3 365.82h.01M147.91 377.25h.01M148.92 375.53h.01M148.93 375.51h.01M149.28 367.63h.01M146.39 363.14h.01M149.16 372.04h.01M147.66 368.74h.01M146.37 360.21h.01M150.41 371.59h.01M147.82 349.16h.01M148.71 340.83h.01M148.61 366.26h.01M150.99 357.85h.01M148.43 358.33h.01M148.19 381.7h.01M145.56 356.27h.01M147.03 358.97h.01M146.72 377.12h.01M146.46 368.57h.01M147.87 358.28h.01M148.93 347.74h.01M150 362.63h.01M146.55 362.18h.01M148.21 355.42h.01M150.17 349.64h.01M145.57 354.69h.01M146.65 370.12h.01M147.93 351.36h.01M147.95 367.62h.01M146.83 364.83h.01M147.38 365.46h.01M148.59 382.54h.01M148.5 375.68h.01M150.94 359.51h.01M148.63 358.36h.01M148.53 356.15h.01M147.96 353.22h.01M148.15 352.82h.01M149.71 376.91h.01M148.73 352.67h.01M149.35 349.98h.01M149.62 356.92h.01M147.48 357.66h.01M148.85 379.26h.01M149.07 370.03h.01M149.15 347.82h.01M149.8 351.19h.01M149.81 347.2h.01M146.99 373.45h.01M147.74 372.02h.01M149.49 377.27h.01M146.71 371.89h.01M147.7 346.84h.01M149.37 359.19h.01M149.67 379.41h.01M149.48 355.06h.01M145.65 361.66h.01M147.38 349.75h.01M149.34 372.18h.01M150.21 358.92h.01M148.81 369.08h.01M148.69 349.55h.01M149.07 380.7h.01M151.09 352.96h.01M147.48 352.62h.01M150.51 351.53h.01M147.92 346.11h.01M147.36 375.32h.01M149.46 352.16h.01M151.04 364.02h.01M150.38 362.85h.01M147.15 350.83h.01M150.78 364.85h.01M150.15 361.4h.01M147.83 370.36h.01M145.61 358.12h.01M148.8 379.71h.01M149.55 350.65h.01M148.84 356.28h.01M149.83 365.91h.01M147.1 365.74h.01M147.62 350.13h.01M150 359.02h.01M145.55 357.29h.01M149.08 368.31h.01M150.19 369.76h.01M146.54 368.03h.01M147 371.61h.01M148.86 354h.01M149.01 376.78h.01M146.1 350.59h.01M147.29 364.95h.01M151.09 354.1h.01M150.09 377.95h.01M146.44 359.03h.01M146.7 377.37h.01M146.88 351.73h.01M148.25 343.99h.01M149.4 355.11h.01M145.96 353.58h.01M148.81 379.52h.01M150.37 350.07h.01M146.85 347.28h.01M148.81 346.51h.01M147.85 375.23h.01M150.93 363.61h.01M148.21 360.67h.01M146.25 366.08h.01M146.5 350.17h.01M149.98 362.97h.01M147.37 372.18h.01M150.77 364.36h.01M148.42 377.72h.01M148.83 348.61h.01M148.13 380.43h.01M149.41 367.04h.01M149.35 368.32h.01M148.09 380.7h.01M148.14 341.56h.01M147.79 364.16h.01M148.15 343.87h.01M145.67 365.71h.01M149.56 371.14h.01M148.14 364.72h.01M147.01 354.13h.01M148.86 370.7h.01M147.54 344.31h.01M148.65 369.68h.01M146.72 353.35h.01M150.1 366.04h.01M149.88 361.44h.01M149.28 343.72h.01M147.12 357.41h.01M150.33 372.09h.01M148.56 359.33h.01M146.39 352.56h.01M146.71 376.73h.01M148.38 343.96h.01M146.28 370.6h.01M150.05 349.73h.01M147.86 351.89h.01M147.07 350.97h.01M150.5 365.92h.01M148.47 358.9h.01M148.72 342.37h.01M150.29 369.13h.01M149.36 345.21h.01M149.6 377.21h.01M145.9 358.82h.01M146.08 352.99h.01M148.95 370.21h.01M146.59 354.28h.01M148.54 352.65h.01M147.03 354.75h.01M147.22 358.29h.01M147.72 346.67h.01M149.13 381h.01M148.82 372.92h.01M148.83 378.98h.01M148.35 375.62h.01M147.64 364.78h.01M146.61 374.87h.01M147.2 376.05h.01M147.57 370.18h.01M149.88 372.37h.01M148.8 370.44h.01M145.52 355.06h.01M147.19 357.43h.01M148.68 366.58h.01M148.69 351.87h.01M150.39 366.94h.01M147.82 359.17h.01M147.41 376.99h.01M148.89 374.78h.01M148.15 371.99h.01M146.76 373.23h.01M147.01 350.88h.01M145.54 356.16h.01M150.35 373.35h.01M146.94 363.35h.01M150 348.46h.01M146.48 371.59h.01M149.64 356.01h.01M146.56 376.84h.01M147.21 369.74h.01M150.58 351.77h.01M146.95 350.42h.01M149.33 378.07h.01M150.35 367.42h.01M150.37 369.5h.01M149.12 368.35h.01M146.87 360.5h.01M148.91 346.85h.01M146.3 367.54h.01M148.65 348.98h.01M146.93 372.27h.01M149.96 359.07h.01M147.73 359.38h.01M149.69 365.31h.01M147.42 347.05h.01M146.48 363.38h.01M145.84 353.51h.01M148.98 357.63h.01M151.05 362.17h.01M149.87 355.31h.01" stroke="#000" stroke-width="0.8" stroke-linecap="round" stroke-opacity="0.8"/>
<path d="M149.81 370.17h.01M147.74 360.85h.01M146.63 365.62h.01M147.79 361.6h.01M146.42 354.22h.01M147.96 356.56h.01M146.07 371.68h.01M149.16 352.4h.01M149.89 371.36h.01M148.31 352.45h.01M145.6 350.95h.01M148.12 364.88h.01M148.19 371.64h.01M147.28 359.21h.01M149.27 347.92h.01M146.44 354.45h.01M149.17 345.51h.01M146.88 362.99h.01M146.24 354.42h.01M148.63 348.54h.01M147.99 348.73h.01M148.69 363.49h.01M147.36 348.86h.01M146.67 364.29h.01M149.15 369.64h.01M149.1 355.34h.01M149.56 361.82h.01M146.56 369.58h.01M146.95 361.16h.01M146.77 359.61h.01M148.61 363.44h.01M147.35 370.85h.01M145.45 367.24h.01M147.47 357.8h.01M149.48 358.02h.01M146.05 361.31h.01M148.74 360.58h.01M145.81 357.09h.01M146.24 361.25h.01M148.39 377.25h.01M147.9 360.3h.01M146.73 365.35h.01M147.82 370.03h.01M150.21 370.52h.01M146.3 367.49h.01M149.71 353.82h.01M147.79 348.91h.01M147.95 368.22h.01M151.49 351.96h.01M148.85 353.07h.01M150.42 353.97h.01M149.72 367.94h.01M148.09 355.57h.01M147.86 362.64h.01M148.17 356.55h.01M149.67 364.4h.01M148.31 348.86h.01M147.41 358.58h.01M150.42 369.11h.01M149.89 356h.01M146.81 360.37h.01M149.17 365.33h.01M149.33 346.41h.01M149.74 345.18h.01M148.92 377.05h.01M148.9 368.18h.01M147.27 358.98h.01M149.05 362.29h.01M148.8 367.8h.01M147.69 370.67h.01M148.05 355.98h.01M146.62 363.86h.01M147.25 361.14h.01M147.36 367.2h.01M146.27 358.97h.01M149.84 351.57h.01M146.75 374.96h.01M148.81 363.2h.01M145.19 368.94h.01M147.71 346h.01M148.9 368.58h.01M148.28 362.33h.01M149.01 361.5h.01M146.11 356.11h.01M149.11 353.62h.01M148.93 376.71h.01M149.58 356.08h.01M149.33 346.06h.01M149.44 373.59h.01M148.24 374.21h.01M148.76 360.74h.01M148.69 376.79h.01M149.34 366.95h.01M147.44 358.08h.01M147.29 359.78h.01M151.42 360.79h.01M147.43 383h.01M148.22 363.55h.01M149.25 360.89h.01M149.23 343.04h.01M148.61 369.61h.01M146.58 346.96h.01M148.65 370.62h.01M148.01 363.62h.01M148.48 358.65h.01M149.71 349.83h.01M147.7 360.72h.01M148.33 378.98h.01M148.86 378.42h.01M146.32 355.57h.01M147.72 359.07h.01M150.21 358.38h.01M148.04 365.16h.01M149.91 372.63h.01M147.4 370.66h.01M148.99 372.86h.01M151.13 364.51h.01M150 357.59h.01M148.52 348.3h.01M151.44 365.5h.01M145.69 368.64h.01M148.2 358.07h.01M148.19 366.44h.01M149.95 374.84h.01M148.32 348.69h.01M148.92 375.99h.01M146.56 359.76h.01M148.93 360.36h.01M147.22 369.71h.01M148.97 349.28h.01M149.67 372.65h.01M149.99 361.41h.01M148.4 356.68h.01M145.6 367.64h.01M147 371.81h.01M148.48 372.65h.01M149.9 381.82h.01M149.52 363.36h.01M147.83 358.57h.01M150.35 362.48h.01M149.5 351.82h.01M149.94 355.08h.01M148.74 373.59h.01M147.17 356.44h.01M147.48 357.72h.01M150.09 362.39h.01M148.25 378.14h.01M147.3 364.02h.01M148.54 377.08h.01M148.32 362.39h.01" stroke="#000" stroke-width="0.84" stroke-linecap="round" stroke-opacity="0.85"/>
<line x1="144.99" y1="392.00" x2="151.79" y2="392.00" stroke="#000" stroke-width="1.3"/>
<rect x="155.43" y="345.00" width="1.1" height="47.00" fill="none" stroke="#777" stroke-width="0.45"/>
<path d="M158.05 367.64h.01M155.26 372.53h.01M156.02 359.04h.01M158.61 359.1h.01M155.46 360.77h.01M157.15 362.36h.01M154.08 347h.01M156.18 369.05h.01M154.58 358.99h.01M155.5 351.41h.01M156.47 368.56h.01M155.15 349.13h.01M156.28 368.48h.01M156.15 369.94h.01M156.72 363.66h.01M156.66 360.92h.01M155.36 364.92h.01M156.42 351.89h.01M155.38 370.13h.01M155.23 362.11h.01M157.7 366.33h.01M156.18 365.92h.01M157.66 369.21h.01M155.5 359.84h.01M155.33 365.19h.01M153.63 356.28h.01M155.35 367.51h.01M156.52 379.04h.01M154.55 348.09h.01M153.14 358.21h.01M156.04 373.19h.01M156.79 358.48h.01M155.27 370.85h.01M158.44 370.03h.01M154.2 357.96h.01M155.41 349.79h.01M156.16 369.88h.01M155.99 373.61h.01M156.18 372.93h.01M158.4 383.67h.01M156.9 364.88h.01M155.34 367.57h.01M157.18 370.87h.01M154.57 362.36h.01M154.16 358.84h.01M153.34 355.58h.01M156.11 375.3h.01M156.38 365.01h.01M154.87 359.84h.01M154.67 377.55h.01" stroke="#000" stroke-width="0.84" stroke-linecap="round" stroke-opacity="0.85"/>
<line x1="152.58" y1="392.00" x2="159.38" y2="392.00" stroke="#000" stroke-width="1.3"/>
<rect x="163.01" y="360.20" width="1.1" height="31.80" fill="none" stroke="#777" stroke-width="0.45"/>
<path d="M160.76 392 L161.76 390 L163.16 387.7 L163.96 387.7 L165.36 390 L166.36 392Z" fill="#00BA38" stroke="#3a3a3a" stroke-width="0.35" stroke-linejoin="round"/>
<path d="M165.96 373.79h.01M162.79 384.18h.01M165.83 379.24h.01M166.02 388.55h.01M164.3 387.56h.01M166.5 383.53h.01M162.09 381.92h.01M164.94 376.95h.01M164.61 388.94h.01M163.12 366.26h.01M161.09 374.37h.01M163.6 386.63h.01M163.78 363.09h.01M164.96 366.59h.01M162.73 365.17h.01M163.26 365.95h.01M163.66 385.49h.01M163.01 368.19h.01M163.97 374.35h.01M163.27 386.79h.01M163.96 372.71h.01M165.13 387h.01M166.37 370.88h.01M162.73 379.31h.01M162.94 380.76h.01M165.41 376.36h.01M163.32 364.62h.01M161.95 368.2h.01M160.39 368h.01M165.32 386.04h.01M163.72 378.43h.01M162.34 362.4h.01M162.57 384.41h.01M161.72 387.84h.01M161.17 383.05h.01M165.98 369.37h.01M162.11 387.36h.01M164.68 386.24h.01M166.2 388.98h.01M164.03 370.62h.01M163.24 387.52h.01M165.71 368.68h.01M165.41 381.31h.01M162.71 380.51h.01M162.73 365.64h.01" stroke="#000" stroke-width="0.84" stroke-linecap="round" stroke-opacity="0.85"/>
<line x1="160.16" y1="392.00" x2="166.96" y2="392.00" stroke="#000" stroke-width="1.3"/>
<rect x="170.60" y="340.00" width="1.1" height="52.00" fill="none" stroke="#777" stroke-width="0.45"/>
<path d="M167.95 392 L168.75 389 L170.15 382.6 L169.85 372 L170.25 358 L170.85 349.4 L171.45 349.4 L172.05 358 L172.45 372 L172.15 382.6 L173.55 389 L174.35 392Z" fill="#00C19F" stroke="#3a3a3a" stroke-width="0.35" stroke-linejoin="round"/>
<path d="M172.05 383.67h.01M171.66 362.15h.01M172.28 344.61h.01M171.77 374.84h.01M171.97 364.77h.01M171.46 348.95h.01M172.27 363.04h.01M169 363.52h.01M171.76 364.05h.01M169.47 359.24h.01M169.18 388h.01M170.74 355.06h.01M170.05 369.5h.01M171.06 364.94h.01M171.82 374.71h.01M172.45 378.47h.01M172.13 353.21h.01M172.09 344h.01M169.97 359.74h.01M170.46 369.39h.01M168.8 377.15h.01M171.89 378.59h.01M169.71 371.9h.01M172.66 362.66h.01M170.41 345.86h.01M170.31 370.32h.01M169.83 367.72h.01M173.54 375.23h.01M170.56 376.26h.01M170.62 379.02h.01M169.68 353.04h.01M168.83 357.96h.01M169.18 376.1h.01M170.14 360.79h.01M170.15 367.85h.01M171.72 358.83h.01M173.44 381.97h.01M171.83 352.68h.01M173.97 363.94h.01M171.5 354.88h.01M170.63 344h.01M170.67 346.78h.01M172.83 386.38h.01M170.44 367.82h.01M170.9 363.75h.01M170.25 364.9h.01M170.22 361.45h.01M168.41 374.55h.01M171.14 354.26h.01M167.95 377.43h.01M171.9 379.74h.01M171.64 369.7h.01M171.05 363.78h.01M169.19 348.77h.01M171.05 371.85h.01M171.62 364.88h.01M172.39 360.27h.01M174.35 367.73h.01M170.8 368.55h.01M171.99 356.78h.01M173.03 366.61h.01M170.53 351.55h.01M171.91 348.57h.01M171.47 357.2h.01M173.56 358.6h.01M171.13 367.08h.01M170.49 366.29h.01M168.72 362.17h.01M169.15 360.31h.01M169.32 374.96h.01" stroke="#000" stroke-width="0.84" stroke-linecap="round" stroke-opacity="0.85"/>
<line x1="167.75" y1="392.00" x2="174.55" y2="392.00" stroke="#000" stroke-width="1.3"/>
<rect x="178.19" y="345.80" width="1.1" height="46.20" fill="none" stroke="#777" stroke-width="0.45"/>
<path d="M181.47 353.25h.01M180.2 377.45h.01M178.17 361.1h.01M178.44 352.19h.01M178.9 373.69h.01" stroke="#000" stroke-width="0.84" stroke-linecap="round" stroke-opacity="0.85"/>
<line x1="175.34" y1="392.00" x2="182.14" y2="392.00" stroke="#000" stroke-width="1.3"/>
<rect x="185.78" y="355.00" width="1.1" height="37.00" fill="none" stroke="#777" stroke-width="0.45"/>
<path d="M184.44 376.28h.01M185.91 362.97h.01M184.68 384.74h.01M186.44 374.94h.01M187.03 382.47h.01M186.21 380.6h.01M183.61 362.6h.01M184.01 358.73h.01M187.43 383.17h.01M185.86 362.47h.01M185.88 375.49h.01M185.39 384.57h.01M188.8 356.47h.01M186.7 365.68h.01M186.19 357.72h.01M189.53 381.55h.01M186.82 372.75h.01M184.24 368.26h.01M186.29 374.92h.01M185.13 377.46h.01" stroke="#000" stroke-width="0.84" stroke-linecap="round" stroke-opacity="0.85"/>
<line x1="182.93" y1="392.00" x2="189.73" y2="392.00" stroke="#000" stroke-width="1.3"/>
<rect x="193.36" y="348.60" width="1.1" height="43.40" fill="none" stroke="#777" stroke-width="0.45"/>
<path d="M191.87 357.86h.01M195.67 360.4h.01M192.09 382.82h.01M195.46 361.28h.01" stroke="#000" stroke-width="0.84" stroke-linecap="round" stroke-opacity="0.85"/>
<line x1="190.51" y1="392.00" x2="197.31" y2="392.00" stroke="#000" stroke-width="1.3"/>
<line x1="198.10" y1="392.00" x2="204.90" y2="392.00" stroke="#000" stroke-width="1.3"/>
<line x1="136.40" y1="338.00" x2="136.40" y2="395.00" stroke="#231f20" stroke-width="1.15"/>
<line x1="135.90" y1="395.00" x2="205.30" y2="395.00" stroke="#231f20" stroke-width="1.15"/>
<line x1="133.40" y1="348.60" x2="136.40" y2="348.60" stroke="#231f20" stroke-width="0.8"/>
<text x="130.00" y="351.70" font-size="8.6" text-anchor="end" font-weight="normal" fill="#231f20" style="" stroke="#231f20" stroke-width="0.12">3</text>
<line x1="133.40" y1="364.80" x2="136.40" y2="364.80" stroke="#231f20" stroke-width="0.8"/>
<text x="130.00" y="367.90" font-size="8.6" text-anchor="end" font-weight="normal" fill="#231f20" style="" stroke="#231f20" stroke-width="0.12">2</text>
<line x1="133.40" y1="392.00" x2="136.40" y2="392.00" stroke="#231f20" stroke-width="0.8"/>
<text x="130.00" y="395.10" font-size="8.6" text-anchor="end" font-weight="normal" fill="#231f20" style="" stroke="#231f20" stroke-width="0.12">1</text>
<line x1="140.80" y1="395.00" x2="140.80" y2="397.60" stroke="#231f20" stroke-width="0.8"/>
<text x="141.30" y="406.50" font-size="8.4" text-anchor="middle" fill="#231f20" stroke="#231f20" stroke-width="0.2" transform="rotate(-45 140.80 404.00)">0</text>
<line x1="148.39" y1="395.00" x2="148.39" y2="397.60" stroke="#231f20" stroke-width="0.8"/>
<text x="148.89" y="406.50" font-size="8.4" text-anchor="middle" fill="#231f20" stroke="#231f20" stroke-width="0.2" transform="rotate(-45 148.39 404.00)">1</text>
<line x1="155.98" y1="395.00" x2="155.98" y2="397.60" stroke="#231f20" stroke-width="0.8"/>
<text x="156.48" y="406.50" font-size="8.4" text-anchor="middle" fill="#231f20" stroke="#231f20" stroke-width="0.2" transform="rotate(-45 155.98 404.00)">2</text>
<line x1="163.56" y1="395.00" x2="163.56" y2="397.60" stroke="#231f20" stroke-width="0.8"/>
<text x="164.06" y="406.50" font-size="8.4" text-anchor="middle" fill="#231f20" stroke="#231f20" stroke-width="0.2" transform="rotate(-45 163.56 404.00)">3</text>
<line x1="171.15" y1="395.00" x2="171.15" y2="397.60" stroke="#231f20" stroke-width="0.8"/>
<text x="171.65" y="406.50" font-size="8.4" text-anchor="middle" fill="#231f20" stroke="#231f20" stroke-width="0.2" transform="rotate(-45 171.15 404.00)">4</text>
<line x1="178.74" y1="395.00" x2="178.74" y2="397.60" stroke="#231f20" stroke-width="0.8"/>
<text x="179.24" y="406.50" font-size="8.4" text-anchor="middle" fill="#231f20" stroke="#231f20" stroke-width="0.2" transform="rotate(-45 178.74 404.00)">5</text>
<line x1="186.33" y1="395.00" x2="186.33" y2="397.60" stroke="#231f20" stroke-width="0.8"/>
<text x="186.83" y="406.50" font-size="8.4" text-anchor="middle" fill="#231f20" stroke="#231f20" stroke-width="0.2" transform="rotate(-45 186.33 404.00)">6</text>
<line x1="193.91" y1="395.00" x2="193.91" y2="397.60" stroke="#231f20" stroke-width="0.8"/>
<text x="194.41" y="406.50" font-size="8.4" text-anchor="middle" fill="#231f20" stroke="#231f20" stroke-width="0.2" transform="rotate(-45 193.91 404.00)">7</text>
<line x1="201.50" y1="395.00" x2="201.50" y2="397.60" stroke="#231f20" stroke-width="0.8"/>
<text x="202.00" y="406.50" font-size="8.4" text-anchor="middle" fill="#231f20" stroke="#231f20" stroke-width="0.2" transform="rotate(-45 201.50 404.00)">8</text>
<text x="118.50" y="368.00" font-size="9" text-anchor="middle" font-weight="normal" fill="#231f20" style="" transform="rotate(-90 118.5 368.0)" stroke="#231f20" stroke-width="0.12" textLength="52" lengthAdjust="spacingAndGlyphs">Expression level</text>
<text x="170.10" y="420.70" font-size="9.3" text-anchor="middle" font-weight="normal" fill="#231f20" style="" stroke="#231f20" stroke-width="0.12" textLength="23.5" lengthAdjust="spacingAndGlyphs">Cluster</text>
<text x="224.50" y="198.20" font-size="12" text-anchor="start" font-weight="bold" fill="#000" style="">D</text>
<path d="M309.61 227.67h.01M320.56 224.72h.01M318.7 232.43h.01M305.91 220.9h.01M307.86 218.47h.01M306.52 213.38h.01M313.87 228.04h.01M308.51 231.4h.01M316.36 217.51h.01M295.62 216.31h.01M322.17 225.22h.01M309.65 216.79h.01M315.55 220.2h.01M309.09 219.15h.01M306.89 221.65h.01M313.14 226.82h.01M316.55 221.77h.01M307.93 225.41h.01M308.99 218.79h.01M315.29 223.18h.01M304.12 209.86h.01M298.67 212.58h.01M312.75 225.28h.01M304.96 217.53h.01M294.42 222.35h.01M303.25 223.05h.01M305.62 227.2h.01M300.1 224.09h.01M297.61 224.87h.01M310.35 220.47h.01M317.49 218.24h.01M308.51 217.17h.01M304.32 217.98h.01M313.63 215.69h.01M315.98 218.85h.01M307.66 220.3h.01M314.21 222.69h.01M318.47 220.15h.01M309.31 211.26h.01M303.56 219.99h.01M312.65 222.4h.01M311.43 226.59h.01M318.46 224.75h.01M300.1 216.77h.01M305.09 216.87h.01M302.32 230.33h.01M295.82 223.38h.01M310.09 230.21h.01M313.15 231.87h.01M304.53 216.34h.01M320.84 224.02h.01M316.31 223.94h.01M314.71 224.29h.01M312.93 224.02h.01M317.51 222.77h.01M299.31 220.8h.01M315.64 214.02h.01M314.88 220.66h.01M296.3 215.87h.01M312.7 221.9h.01M308.24 218.47h.01M315.91 224.7h.01M306.1 224.72h.01M309.7 222.52h.01M312.57 222.85h.01M302.98 220.76h.01M314.99 219.25h.01M309.25 220.1h.01M314.17 218.93h.01M305.65 222.51h.01M318.64 221.94h.01M314.53 224.38h.01M309.25 214.25h.01M314.59 225.92h.01M320.41 218.21h.01M324.62 218.78h.01M297.57 218.76h.01M317.31 218.9h.01M313.56 222.82h.01M309.54 218.07h.01M302.52 214.88h.01M320.43 217.8h.01M299.3 226.52h.01M314.49 221.67h.01M320.95 216.23h.01M297.26 219.76h.01M308.37 213.02h.01M298.69 228.86h.01M324.82 219.01h.01M327.13 213.84h.01M328.63 206.49h.01M313.3 212.56h.01M329.34 217.32h.01M320.79 219.18h.01M323.12 216.83h.01M317.68 216.23h.01M317.38 218.35h.01M321.4 214.95h.01M333.78 221.88h.01M339.66 216.74h.01M327.82 217.47h.01M335.64 218.7h.01M326.15 210.71h.01M314.62 212.45h.01M329.05 223.64h.01M331.12 217.68h.01M325 214.59h.01M330.12 217.71h.01M332.01 213.59h.01M321.96 217.39h.01M317.66 212.67h.01M326.45 217.38h.01M326.52 208.11h.01M325.53 222.65h.01M334.91 213.44h.01M340.08 208.09h.01M325.08 214.88h.01M332.89 214.15h.01M334.59 216.76h.01M332.99 210.27h.01M335.33 217.99h.01M325.28 226.5h.01M333.18 209.61h.01M342.17 217.69h.01M333.63 214.45h.01M323.66 216.96h.01M332.25 206.94h.01M336.84 210.24h.01M340.38 229.32h.01M337.52 225.07h.01M333.97 224.6h.01M337.85 207.3h.01M345.4 220.37h.01M342.09 225.73h.01M328.6 233.27h.01M336.43 234.88h.01M333.5 231.98h.01M339.49 213.87h.01M336.31 207.3h.01M344.73 225.99h.01M340.72 222.19h.01M340.56 228.74h.01M337.75 221.12h.01M336.84 223.54h.01M338.36 211.5h.01M342.18 225.14h.01M339.14 218.89h.01M335.6 224.45h.01M342.1 225.22h.01M337.77 221.18h.01M336.69 224.22h.01M333.83 221.9h.01M304.96 231.82h.01M301.97 229.95h.01M297.18 231.08h.01M296.26 228.43h.01M300.6 225.56h.01M301.28 224.32h.01M303.07 224.88h.01M293.67 229.79h.01M297.03 226.45h.01M299.53 220.07h.01M308 225.84h.01M289.5 220.34h.01M302.2 226.66h.01M297.3 221.18h.01M302.16 220.94h.01M297.54 226.47h.01M301.82 225.69h.01M307.82 219.35h.01M301.77 228.99h.01M302.17 234.4h.01M301.86 220.07h.01M296.25 233.28h.01M302.72 223.25h.01M298.96 224.02h.01" stroke="#F8766D" stroke-width="0.75" stroke-linecap="round" stroke-opacity="0.9"/>
<path d="M300.87 242.06h.01M310.22 259.94h.01M320.49 248.65h.01M299.28 235.35h.01M309.51 251.15h.01M314.17 244.22h.01M321.39 254.55h.01M323.79 242.62h.01M309.34 260.4h.01M307.08 246.09h.01M316.6 254.85h.01M310.09 247.25h.01M310.52 249.42h.01M321.64 261.53h.01M326.52 253.72h.01M315.13 248.84h.01M311.46 241.99h.01M317.57 261.28h.01M297.9 257.86h.01M312.85 249.39h.01M304.52 253.95h.01M329.8 243.76h.01M318.76 243.88h.01M314.13 245.39h.01M311.45 254.83h.01M296.2 254.37h.01M318.7 246.04h.01M326.03 257.9h.01M307.17 258.28h.01M318.47 253.38h.01M318.78 260.31h.01M300.61 249.7h.01M321.49 265.2h.01M329.4 271.37h.01M332.1 268.55h.01M331.28 267.93h.01M330.33 269.46h.01M320.77 265.15h.01" stroke="#00BF7D" stroke-width="0.75" stroke-linecap="round" stroke-opacity="0.9"/>
<path d="M338.77 255.84h.01M336.32 270.03h.01M339.51 253.7h.01M342.04 261.03h.01M325.46 267.65h.01M332.33 251.11h.01M336.72 253.46h.01M326.34 259.47h.01M331.04 265.77h.01M342.28 254.46h.01M342.81 254.97h.01M342.88 252.51h.01M337.36 240.23h.01M333.62 260.87h.01M343.21 249.44h.01M335.13 235.37h.01M338.32 249.93h.01M346.12 236.39h.01M334.53 241.76h.01M332.03 250.79h.01M336.76 242.78h.01M338.9 261.02h.01M340.44 238.2h.01M336.77 253.51h.01M339.09 256.41h.01M324.34 263.1h.01M329.61 258.77h.01M336.84 253.27h.01M329.91 251.19h.01M327.37 249.68h.01M327.16 260.49h.01M330.64 244.6h.01M334.37 255.63h.01M329.46 249.58h.01M337.29 253.39h.01M347.2 249.84h.01M333.16 269.71h.01M344.83 246.04h.01M337.63 253.55h.01M328.5 252.84h.01M333.79 256.38h.01M329.24 254.5h.01M340.57 255.4h.01M327.65 259.15h.01M345.9 238.49h.01M339.72 251.57h.01M324.02 238.75h.01M340.85 253.7h.01M347.1 241.52h.01M331.74 242h.01M342.42 251.21h.01M323.1 262.45h.01M337.1 256.45h.01M324.98 252.69h.01M337.85 263.99h.01M325.27 241.49h.01M324.29 231.02h.01M338.93 247.58h.01M349.82 249.99h.01M331.03 261.79h.01M339.48 270.34h.01M337.9 239.28h.01M332.02 269.6h.01M338.56 265.53h.01M345.86 259.7h.01M327.67 253.62h.01M337.76 270.17h.01M338.15 252.07h.01M327.2 245.96h.01M346.31 253.42h.01M349.83 240.13h.01M329.4 254.73h.01M347.33 251.27h.01M336.05 254.12h.01M334.61 254.25h.01M346.66 242.62h.01M336.28 263.06h.01M338.99 242.25h.01M345 260.07h.01M345.75 237.7h.01M341.43 255.04h.01M327.67 242.88h.01M325.78 250.49h.01M343.86 246.03h.01M331.89 231.59h.01M337.95 241.25h.01M328.98 251.05h.01M334.24 256.6h.01M329.04 237.15h.01M348.43 233.25h.01M330.18 242.67h.01M335.39 249.17h.01M335.34 245.35h.01M344.51 244.67h.01M326.04 257.83h.01M334.9 259.77h.01M333.97 257.64h.01M340.26 243.08h.01M338.97 252.13h.01M333.16 249.1h.01M338.82 238.51h.01M332.77 258.8h.01M338.93 252.23h.01M335.76 246.73h.01M330.47 263.41h.01M335.12 257.96h.01M337.57 259.04h.01M348.49 263.25h.01M332.16 257.25h.01M339.11 240h.01M345.8 248.6h.01M321.64 258.77h.01M325.4 243.12h.01M328.27 250.69h.01M334.89 254.62h.01M348.27 265.4h.01M337.35 263.01h.01M342.99 259.96h.01M334.72 249.31h.01M321.58 257.96h.01M321.93 254.49h.01M342.72 250.34h.01M335.96 263.4h.01M327.15 254.71h.01M343.89 245.07h.01M324.9 261.46h.01M343.55 249.57h.01M344.84 257.37h.01M332.41 236.97h.01M328.84 250.22h.01M342.3 243.18h.01M329.78 241.68h.01M343.28 234.55h.01M326.38 269.03h.01M341.35 250.28h.01M336.38 253.29h.01M332.2 260.74h.01M330.31 249.42h.01M337.07 255.84h.01M324.97 237.69h.01M334.03 252.67h.01M333.8 247.12h.01M339.93 256.01h.01M327.72 251.89h.01M348.32 239.79h.01M335.64 234.3h.01M329.54 241.25h.01M344.29 258.58h.01M346.37 255.96h.01M334.42 254.56h.01M332.04 232.41h.01M337.99 232.2h.01M332.09 245.03h.01M334.27 247.88h.01M346.62 246.67h.01M338.21 254.49h.01M337.09 249.62h.01M339.3 240.66h.01M336.41 243.13h.01M341.31 252.87h.01M341.62 252.26h.01M333.67 250.13h.01M334.79 269.87h.01M349.81 250.05h.01M338.62 252.38h.01M335.69 241.99h.01M349.58 249.14h.01M335.59 255.72h.01M328.39 255.39h.01M340.5 250.05h.01M329.82 253.97h.01M332.73 251.18h.01M339.8 234.37h.01M337.07 232.11h.01M329.18 269.31h.01M331.69 258.08h.01M332.21 250.11h.01M345.1 236.19h.01M332.48 239.11h.01M331.08 262.77h.01M351.07 233.52h.01M332.71 247.74h.01M344.85 259.74h.01M344.38 253.14h.01M334.33 257.66h.01M326.94 248.9h.01M337.04 270.1h.01M341.27 242.23h.01M343.48 239.43h.01M336.22 253.51h.01M342.51 264.58h.01M345.04 251.4h.01M328.24 259.71h.01M345.72 247.17h.01M338.19 240.5h.01M331.08 263.17h.01M332.53 264.84h.01M346.77 265.95h.01M342.76 247.71h.01M325.47 239.49h.01M337.59 240.58h.01M335.3 248.9h.01M334.34 256.1h.01M332.22 255.23h.01M327.87 237.21h.01M341.4 253.31h.01M329.91 250.55h.01M333.53 251.57h.01M332.13 250.4h.01M331.47 248.72h.01M340.27 256.8h.01M338.37 252.39h.01M331.44 252.58h.01M330.51 244.2h.01M332.61 254.24h.01M342.36 250.54h.01M338.7 232.28h.01M337.07 255.48h.01M334.12 248.42h.01M333.5 259.13h.01M337.55 249.69h.01M324.16 248.95h.01M346.24 253.94h.01M330.92 250.38h.01M332.73 246.63h.01M346.27 235.81h.01M335.78 267.65h.01M337.69 236.89h.01M332.53 247.56h.01M325.32 255.84h.01M336.85 254.52h.01M343.22 256.86h.01M329.49 257.3h.01M343.68 263.2h.01M328.44 252.93h.01M329.37 269.33h.01M340.18 242.25h.01M335.8 253.04h.01M340.79 248.22h.01M331.69 245.64h.01" stroke="#A3A500" stroke-width="0.75" stroke-linecap="round" stroke-opacity="0.9"/>
<path d="M296.91 245.24h.01M289 237.4h.01M291.82 239.71h.01M264.35 220.12h.01M263.51 223.04h.01M295.78 242.67h.01M273.35 223.69h.01M275.94 220.68h.01M267.74 220.7h.01M285.97 233.19h.01M264.63 226.01h.01M291.5 239.1h.01M275.77 220.37h.01M289.66 237.11h.01M294.58 243.28h.01M287.14 235.72h.01M278.71 226.16h.01M286.99 231.84h.01M292.28 241.84h.01M285.64 238.13h.01M273.45 219.37h.01M262.19 223.56h.01M294.06 241.41h.01M288.49 230.62h.01M264.69 222.44h.01M281.65 231.14h.01M284.87 231.33h.01M277.51 218.29h.01M293.23 243.09h.01M272.98 220.39h.01M268.54 222.51h.01M274.94 221.96h.01M277.28 221.63h.01M293.03 243.2h.01M288.43 232.73h.01M268.12 222.9h.01M278.67 224.06h.01M267.26 223.28h.01M286.19 237.38h.01M292.51 241.48h.01M265.97 221.72h.01M283.11 227.29h.01M272.73 216.96h.01M275.28 219.94h.01M288.56 238.11h.01M298.11 243.91h.01M275.01 221.12h.01M282.9 229.88h.01M275.49 221.48h.01M264.15 221.52h.01M286.98 230.78h.01M269.05 222.08h.01M286.24 236.24h.01M288.91 237.87h.01M268.15 220.27h.01M284.8 231.79h.01M271.41 220.26h.01M289.89 238.11h.01M277.44 217.85h.01M286.07 236.48h.01M287.77 232.66h.01M284.33 230.87h.01M271.82 219.93h.01M291.18 241.61h.01M279.37 220.68h.01M287.91 240.05h.01M280.39 227.55h.01M279.54 226.53h.01M286.12 237.83h.01M277.96 221.12h.01M293.25 235.61h.01M280.04 226.04h.01M286.89 238.98h.01M285.82 237.16h.01M296.33 243.74h.01M279.5 224.27h.01M277.01 222.63h.01M299.48 243.49h.01M283.24 228.15h.01M280.45 223.99h.01M285.36 237.69h.01M273.32 219.18h.01M294.86 246.84h.01M288.93 238.26h.01M288.02 232.54h.01M272.84 222.85h.01M291.82 239.49h.01M294.21 244.51h.01M287.86 241.36h.01M295.01 242.81h.01M265.15 220.22h.01M287.24 238.76h.01M292.62 242.29h.01M282.95 226.02h.01M264.73 220.7h.01M283.54 229.48h.01M273.32 221.8h.01M263.22 222.88h.01M294.84 245.03h.01M289.79 243.39h.01M283.81 234.8h.01M286.94 239.43h.01M284.95 236.21h.01M283.12 225.14h.01M268.18 223.1h.01M274.87 220.61h.01M282.23 228.19h.01M285.5 230.53h.01M277.48 218.88h.01M266.77 219.63h.01M277.11 222.07h.01M270.08 218.8h.01M296 242.96h.01M271.91 219.44h.01M278.12 224.63h.01M283.39 229.53h.01M273.54 219.97h.01M279.97 228.96h.01M283.71 229.96h.01M264.58 223.78h.01" stroke="#00B0F6" stroke-width="0.75" stroke-linecap="round" stroke-opacity="0.9"/>
<path d="M273.15 234.35h.01" stroke="#E76BF3" stroke-width="0.75" stroke-linecap="round" stroke-opacity="0.9"/>
<text x="317.60" y="223.40" font-size="7.5" text-anchor="middle" font-weight="normal" fill="#222" style="" stroke="#222" stroke-width="0.12">0</text>
<text x="337.30" y="253.40" font-size="7.5" text-anchor="middle" font-weight="normal" fill="#222" style="" stroke="#222" stroke-width="0.12">1</text>
<text x="311.90" y="253.40" font-size="7.5" text-anchor="middle" font-weight="normal" fill="#222" style="" stroke="#222" stroke-width="0.12">2</text>
<text x="282.30" y="234.60" font-size="7.5" text-anchor="middle" font-weight="normal" fill="#222" style="" stroke="#222" stroke-width="0.12">3</text>
<text x="264.30" y="242.60" font-size="7.5" text-anchor="middle" font-weight="normal" fill="#222" style="" stroke="#222" stroke-width="0.12">4</text>
<line x1="256.70" y1="201.00" x2="256.70" y2="277.50" stroke="#231f20" stroke-width="1.1"/>
<line x1="256.70" y1="277.50" x2="358.50" y2="277.50" stroke="#231f20" stroke-width="1.1"/>
<line x1="253.90" y1="204.60" x2="256.70" y2="204.60" stroke="#231f20" stroke-width="0.8"/>
<text x="249.90" y="207.40" font-size="7.8" text-anchor="end" font-weight="normal" fill="#231f20" style="" stroke="#231f20" stroke-width="0.12">5</text>
<line x1="253.90" y1="221.50" x2="256.70" y2="221.50" stroke="#231f20" stroke-width="0.8"/>
<text x="249.90" y="224.30" font-size="7.8" text-anchor="end" font-weight="normal" fill="#231f20" style="" stroke="#231f20" stroke-width="0.12">2.5</text>
<line x1="253.90" y1="238.20" x2="256.70" y2="238.20" stroke="#231f20" stroke-width="0.8"/>
<text x="249.90" y="241.00" font-size="7.8" text-anchor="end" font-weight="normal" fill="#231f20" style="" stroke="#231f20" stroke-width="0.12">0</text>
<line x1="253.90" y1="255.00" x2="256.70" y2="255.00" stroke="#231f20" stroke-width="0.8"/>
<text x="249.90" y="257.80" font-size="7.8" text-anchor="end" font-weight="normal" fill="#231f20" style="" stroke="#231f20" stroke-width="0.12">−2.5</text>
<line x1="253.90" y1="271.60" x2="256.70" y2="271.60" stroke="#231f20" stroke-width="0.8"/>
<text x="249.90" y="274.40" font-size="7.8" text-anchor="end" font-weight="normal" fill="#231f20" style="" stroke="#231f20" stroke-width="0.12">−5</text>
<line x1="261.20" y1="277.50" x2="261.20" y2="280.00" stroke="#231f20" stroke-width="0.8"/>
<text x="258.80" y="290.10" font-size="7.8" text-anchor="middle" font-weight="normal" fill="#231f20" style="" stroke="#231f20" stroke-width="0.12">−10</text>
<line x1="287.30" y1="277.50" x2="287.30" y2="280.00" stroke="#231f20" stroke-width="0.8"/>
<text x="284.90" y="290.10" font-size="7.8" text-anchor="middle" font-weight="normal" fill="#231f20" style="" stroke="#231f20" stroke-width="0.12">−4</text>
<line x1="313.80" y1="277.50" x2="313.80" y2="280.00" stroke="#231f20" stroke-width="0.8"/>
<text x="313.80" y="290.10" font-size="7.8" text-anchor="middle" font-weight="normal" fill="#231f20" style="" stroke="#231f20" stroke-width="0.12">0</text>
<line x1="340.40" y1="277.50" x2="340.40" y2="280.00" stroke="#231f20" stroke-width="0.8"/>
<text x="340.40" y="290.10" font-size="7.8" text-anchor="middle" font-weight="normal" fill="#231f20" style="" stroke="#231f20" stroke-width="0.12">4</text>
<text x="307.30" y="198.20" font-size="10.2" text-anchor="middle" font-weight="normal" fill="#000" style="" textLength="32" lengthAdjust="spacingAndGlyphs">Control</text>
<text x="307.30" y="303.70" font-size="9.6" text-anchor="middle" font-weight="normal" fill="#231f20" style="" stroke="#231f20" stroke-width="0.12" textLength="29.4" lengthAdjust="spacingAndGlyphs">UMAP_1</text>
<text x="232.00" y="239.60" font-size="9.6" text-anchor="middle" font-weight="normal" fill="#231f20" style="" transform="rotate(-90 232.0 239.6)" stroke="#231f20" stroke-width="0.12" textLength="28.5" lengthAdjust="spacingAndGlyphs">UMAP_2</text>
<circle cx="354.50" cy="224.30" r="1.1" fill="#F8766D"/>
<text x="358.30" y="227.30" font-size="8.4" text-anchor="start" font-weight="normal" fill="#231f20" style="" stroke="#231f20" stroke-width="0.05" textLength="4.4" lengthAdjust="spacingAndGlyphs">0</text>
<circle cx="354.50" cy="231.55" r="1.1" fill="#A3A500"/>
<text x="358.30" y="234.55" font-size="8.4" text-anchor="start" font-weight="normal" fill="#231f20" style="" stroke="#231f20" stroke-width="0.05" textLength="4.4" lengthAdjust="spacingAndGlyphs">1</text>
<circle cx="354.50" cy="238.80" r="1.1" fill="#00BF7D"/>
<text x="358.30" y="241.80" font-size="8.4" text-anchor="start" font-weight="normal" fill="#231f20" style="" stroke="#231f20" stroke-width="0.05" textLength="4.4" lengthAdjust="spacingAndGlyphs">2</text>
<circle cx="354.50" cy="246.05" r="1.1" fill="#00B0F6"/>
<text x="358.30" y="249.05" font-size="8.4" text-anchor="start" font-weight="normal" fill="#231f20" style="" stroke="#231f20" stroke-width="0.05" textLength="4.4" lengthAdjust="spacingAndGlyphs">3</text>
<circle cx="354.50" cy="253.30" r="1.1" fill="#E76BF3"/>
<text x="358.30" y="256.30" font-size="8.4" text-anchor="start" font-weight="normal" fill="#231f20" style="" stroke="#231f20" stroke-width="0.05" textLength="4.4" lengthAdjust="spacingAndGlyphs">4</text>
<path d="M454.61 225.31h.01M463.03 224.41h.01M460.9 226.2h.01M460.49 224.89h.01M465.88 215.43h.01M444.61 224.2h.01M448.38 219.5h.01M441.56 213.81h.01M451.49 213.93h.01M463.91 230.65h.01M452.72 216.56h.01M455.8 210.92h.01M438.44 222.17h.01M456.66 229.22h.01M446.84 223.22h.01M468.33 221.18h.01M460.68 219.27h.01M461.36 220.08h.01M454.8 228.3h.01M459.6 224.93h.01M459.07 220.53h.01M452.19 226.92h.01M451.17 228.06h.01M452.88 221.11h.01M449.52 224.29h.01M449.59 224.19h.01M451.11 219.18h.01M449.43 228.8h.01M459.84 219.96h.01M440.87 221.5h.01M458.79 212.48h.01M447.84 216.79h.01M451.23 230.34h.01M442.28 218.56h.01M453.3 224.33h.01M451.69 220.59h.01M456.01 224.2h.01M450.41 225.8h.01M453.96 218.05h.01M467.98 217.68h.01M457.31 221.84h.01M449.62 223.47h.01M461.44 220.35h.01M452.68 220.67h.01M459.28 224.14h.01M460.11 227.48h.01M451.47 225.27h.01M438.13 221.44h.01M451.67 224.49h.01M458.38 221.42h.01M451.48 224.87h.01M459.27 230.34h.01M461.47 219.39h.01M449.72 222.81h.01M462.77 215.7h.01M466.43 218.01h.01M461.89 217.5h.01M464.73 227.99h.01M462.9 221.75h.01M469.9 215.86h.01M457.37 231.16h.01M452.7 215.49h.01M459.58 225.26h.01M447.89 228.42h.01M442.39 227.28h.01M446.83 222.12h.01M456.79 220.77h.01M457.37 219.57h.01M442.73 228.29h.01M437.15 214.7h.01M451.01 220h.01M452.68 223.04h.01M453.04 219.23h.01M457.46 212.03h.01M463.39 218.86h.01M455.06 217.93h.01M459.6 224.95h.01M446.8 230.59h.01M444.85 224.21h.01M453.93 212.15h.01M459.02 219.98h.01M458.78 216.32h.01M459.32 224.4h.01M461.83 229.04h.01M460.66 222.27h.01M442.28 234.76h.01M449.75 230.59h.01M458.26 224.69h.01M457.82 216.84h.01M442.35 225.43h.01M461.87 213.57h.01M451.7 228.34h.01M452.41 223.54h.01M457.64 228.91h.01M460.29 222.87h.01M440.97 215.44h.01M462.54 224.29h.01M455.67 227.14h.01M449.75 232.09h.01M451.02 218.39h.01M436.76 221.54h.01M449.13 224.07h.01M454.52 217.26h.01M447.22 217.09h.01M450.48 217.85h.01M454.94 232.52h.01M453.88 219.48h.01M461.12 216.01h.01M453.48 220.41h.01M452.07 222.96h.01M459.61 227.99h.01M471.32 223.85h.01M452.2 226.92h.01M458.17 221.91h.01M441.89 225.78h.01M464.02 217.23h.01M457.78 214.07h.01M466.54 230.17h.01M453.18 220.35h.01M446.93 229.11h.01M460.73 219.52h.01M459.91 220.84h.01M447.15 223.1h.01M441.18 218.06h.01M457.54 221.37h.01M453.13 224.6h.01M471.38 223.18h.01M449.77 225.85h.01M450.96 228.29h.01M453.51 224.07h.01M441.03 225.06h.01M445.16 214.21h.01M466.45 217.19h.01M454.6 230.25h.01M449.44 223.98h.01M444.9 228.35h.01M470.54 210.45h.01M461.3 223.09h.01M470.96 211.73h.01M486.23 218.37h.01M484.69 210.7h.01M473.12 218.74h.01M467.62 225.29h.01M473.93 212.9h.01M474.17 218.83h.01M468.62 216.67h.01M471.36 218.42h.01M479.03 219.1h.01M481.52 213.82h.01M457.2 216.1h.01M481.86 214.05h.01M475.12 212.88h.01M483.24 210.86h.01M473.88 221.83h.01M477.56 213.31h.01M487.16 220.33h.01M457.2 219.78h.01M486.76 212.01h.01M475.55 222.24h.01M459.44 212.7h.01M457.2 220.14h.01M476.52 224.29h.01M465.8 213.42h.01M482.06 212.36h.01M475.75 212.29h.01M472.95 227.5h.01M481.98 215.12h.01M475.57 210.67h.01M479.96 221.07h.01M480.68 216.1h.01M476.59 216.82h.01M480.34 211.99h.01M480.33 206.5h.01M463.06 213.32h.01M471.83 211.73h.01M473.05 208.86h.01M470.99 211.52h.01M461.3 212.21h.01M469.47 220.97h.01M476.72 220.48h.01M475.55 219.53h.01M486.2 214.28h.01M469.16 210.65h.01M470.55 218.43h.01M469.42 219.24h.01M471.48 221.96h.01M469.18 216.81h.01M459.04 216.3h.01M476.77 218.49h.01M481.92 212.31h.01M482.97 212.92h.01M465.31 220.16h.01M484.59 223.07h.01M486.9 229.34h.01M484.77 220.73h.01M493.6 220.03h.01M489.34 209.11h.01M485.83 228.41h.01M484.45 236.7h.01M482.79 221.04h.01M485.98 232.69h.01M492.33 228.61h.01M490.45 217.87h.01M486.88 228.02h.01M487.66 216.4h.01M479.65 220.58h.01M490.15 231.23h.01M486.23 223.81h.01M492.62 214.49h.01M486.4 232.59h.01M485.18 215.01h.01M487.99 221.57h.01M484.58 220.28h.01M492.51 221.57h.01M488.29 216.74h.01M488.62 211.26h.01M488.49 235.68h.01M485.75 216.07h.01M489.1 216.5h.01M487.87 207.3h.01" stroke="#F8766D" stroke-width="0.75" stroke-linecap="round" stroke-opacity="0.9"/>
<path d="M467.23 251.95h.01M458.42 252.8h.01M459.82 242.28h.01M452.89 253.57h.01M459.24 266h.01M470.47 238.12h.01M458.21 255.73h.01M461.02 257.44h.01M445.4 250.55h.01M466.69 252.76h.01M460.86 248.03h.01M467.06 260.96h.01M460.04 242.59h.01M453.46 248.97h.01M450.38 234.52h.01M461.53 252.56h.01M458.32 252.93h.01M452.61 236.53h.01M458.02 242.92h.01M454.57 253.65h.01M462.64 245.89h.01M455.84 240.09h.01M450.92 233.2h.01M457.7 252.46h.01M454.82 265.15h.01M466.99 245.97h.01M455.32 253.09h.01M450.16 252.95h.01M457.68 248.91h.01M456.45 250.35h.01M459.55 250.49h.01M459.2 242.61h.01M451.7 266.8h.01M457.53 266.8h.01M457.2 252.07h.01M450.61 263.87h.01M454.35 243.02h.01M458.95 247.77h.01M448.18 258.65h.01M451.2 240.38h.01M454.86 239.18h.01M457.08 252.34h.01M460.66 233.78h.01M449.43 263.42h.01M459.34 255.66h.01M461.27 251.66h.01M466.78 255.12h.01M454.99 242.52h.01" stroke="#00BF7D" stroke-width="0.75" stroke-linecap="round" stroke-opacity="0.9"/>
<path d="M476.25 241.51h.01M491.57 236.79h.01M497.52 250.65h.01M486.61 258.08h.01M471.84 257.84h.01M479.45 264.52h.01M482.98 251.69h.01M481.98 247.74h.01M481.22 249.64h.01M487.88 241.87h.01M469.43 246.85h.01M479.69 261.53h.01M485.63 267.65h.01M489.4 261.42h.01M486.18 254.08h.01M484.2 250.02h.01M483.04 253.68h.01M479.1 237.63h.01M484.78 256.15h.01M482.6 257.7h.01M478.88 250.8h.01M493.21 251.95h.01M493.1 239.03h.01M481.43 257.7h.01M488.86 257.71h.01M493.23 236.25h.01M486.26 247.39h.01M485.22 254.37h.01M488 264.33h.01M471.93 245.27h.01M473.59 251.48h.01M488.23 262.83h.01M486.38 255.34h.01M494.58 250.14h.01M480.62 248.45h.01M492.57 252.04h.01M492.29 245.82h.01M499.13 259.46h.01M478.35 245.32h.01M481.71 256.14h.01M486.43 258.95h.01M486.37 261.07h.01M476.9 252.98h.01M480.12 252.32h.01M474.62 254.8h.01M499.75 253.03h.01M483.89 260.69h.01M484.31 251.7h.01M479.79 267.01h.01M484.58 267.75h.01M490.3 247.68h.01M481.91 255.6h.01M484.17 243.85h.01M499.75 258.2h.01M491.31 255.66h.01M486.16 250.9h.01M481.23 244.65h.01M484.22 252.7h.01M478.82 267.62h.01M486.41 264.57h.01M479.33 255.37h.01M478.89 247.81h.01M481.26 252.25h.01M476.26 246.39h.01M485.72 242.22h.01M499.75 245.21h.01M479.53 256.95h.01M471.73 254.65h.01M491.3 253.67h.01M483.31 244h.01M498.88 241.68h.01M486.87 259.91h.01M490.95 249.57h.01M478.15 261.22h.01M471.99 246.66h.01M482.52 259.63h.01M488.85 254.08h.01M477.37 248.99h.01M471.88 249.02h.01M479.31 266.72h.01M480.4 259.27h.01M481.24 250.28h.01M483.43 253.53h.01M499.75 240.56h.01M483.84 265.23h.01M479.89 262.79h.01M475.47 249.2h.01M489.56 255.71h.01M471.72 236.25h.01M494.37 259.6h.01M483.48 255.8h.01M472.28 254.22h.01M484.89 258.46h.01M482.65 254.47h.01M492.67 244.84h.01M472.28 246.91h.01M485 250.75h.01M483.36 258.89h.01M490.34 252.25h.01M474.97 246.98h.01M477.64 254.73h.01M498.17 242.72h.01M487.61 267.68h.01M472.4 254.28h.01M485.87 244.56h.01M477.55 253.24h.01M478.29 260.11h.01M474.31 256.06h.01M490.79 267.35h.01M479.41 241.27h.01M484.91 263.99h.01M483.99 251.77h.01M472.06 258.64h.01M477.86 264.93h.01M489.15 242.95h.01M471.69 241.32h.01M485.27 249.06h.01M482.64 239.46h.01M488.25 236.79h.01M488.56 252.62h.01M489.6 260.78h.01M483.88 248.4h.01M485.37 255.8h.01M478.19 267.75h.01M479.41 254.55h.01M490.2 249.72h.01M479.01 250.81h.01M491.15 255.29h.01M490.97 249.9h.01M477.53 257.27h.01M487.7 253.71h.01M477.43 259h.01M486.06 253.2h.01M477.71 251.47h.01M486.04 245.07h.01M484.8 241.65h.01M475.75 249.93h.01M498.89 249.16h.01M490.76 254.21h.01M471.6 251.52h.01M486.19 249.15h.01M480.4 267.75h.01M498.94 254.5h.01M483.18 261.25h.01M486.58 244.36h.01M482.28 259.7h.01M488.38 260.94h.01M479.65 255.49h.01M476.93 245.4h.01M479.95 261.57h.01M480.5 246.64h.01M488.37 240.36h.01M484.34 239.86h.01M480.36 252.57h.01M480.65 248.37h.01M476.85 258.14h.01M484.66 257.14h.01M468.49 262.41h.01M482.05 254.63h.01M492.58 252.93h.01M481.01 252.14h.01M478.82 246.13h.01M484.05 245.81h.01M476.76 246.57h.01M478.05 253.81h.01M488.85 245.66h.01M478.99 251.38h.01M498.38 260.18h.01M487.77 236.25h.01M482.97 245.39h.01M479.11 244.49h.01M481.82 251.87h.01M468.25 240.68h.01M485.57 246.86h.01M490.4 267.75h.01M488.03 241.56h.01M480.52 251.19h.01M488.36 253.41h.01M488.53 249.59h.01M482.77 242.75h.01M486.37 259.32h.01M491.53 237.35h.01M487.18 244.46h.01M480.92 250.01h.01M483.86 246.94h.01M484.91 260.5h.01M471.76 249.23h.01M484.74 265.94h.01M482.82 251.45h.01M468.25 263.11h.01M470.97 254.64h.01M497.25 249.54h.01M484.55 249.22h.01M493.85 259.09h.01M480.99 247.24h.01M495.28 251.06h.01M488.06 245.32h.01M478.68 236.25h.01M485.89 255.38h.01M495.56 256.1h.01M499.75 242.18h.01M487.7 254.85h.01M480.51 249.44h.01M477.38 236.92h.01M489.01 244.19h.01M492.08 256.31h.01M484.96 259.12h.01M483.11 254.28h.01M490.05 267.75h.01M487.6 254.02h.01M486.91 245.73h.01M472.51 240.29h.01M481.51 262.7h.01M498.13 247.89h.01M483.87 248.64h.01M499.75 245.29h.01M486.9 245.34h.01M481.87 248.78h.01M486.12 255.05h.01M488.54 255.72h.01M478.61 254.27h.01M485.85 258.82h.01M480.9 248.02h.01M494.93 244.01h.01M480.61 251.35h.01M484.91 236.25h.01M472.76 258.25h.01M473.78 255.7h.01M483.33 255.87h.01M477.15 243.68h.01M481.8 248.14h.01M485.77 252.05h.01M488.21 244.24h.01M473.45 243.65h.01M482.61 250.29h.01M488.97 253h.01M478.93 246.86h.01M474.24 259.65h.01M478.82 267.75h.01M496.19 256.26h.01" stroke="#A3A500" stroke-width="0.75" stroke-linecap="round" stroke-opacity="0.9"/>
<path d="M443.25 232.44h.01M438.38 241.95h.01M440.25 240.11h.01M435.02 233.8h.01M437.21 228.42h.01M430.34 223.31h.01M439.12 232.69h.01M432.63 232.69h.01M437.35 231.42h.01M423.39 222.36h.01M413.17 221.66h.01M412.47 219.34h.01M415.35 224.76h.01M425.06 223.97h.01M430.24 230.26h.01M439.21 235.55h.01M425.77 221.86h.01M440.84 242.56h.01M421.63 222.03h.01M441.09 241.07h.01M432.16 237.34h.01M420.98 220.13h.01M422.8 223.52h.01M425.48 220.41h.01M422.41 224.77h.01M443.7 242.36h.01M419.72 218.6h.01M429.53 226.95h.01M422.44 221.46h.01M436.86 232.46h.01M439.49 237.59h.01M437.03 231.63h.01M431.37 228h.01M418.19 222.11h.01M427.32 227.86h.01M417.17 219.9h.01M430.54 230.42h.01M433.97 232.03h.01M436.98 227.85h.01M426.76 226.75h.01M438.25 228.27h.01M417.27 222.98h.01M423.76 216.99h.01M443.94 244.66h.01M419.2 220.05h.01M412.7 222.91h.01M439.16 229.16h.01M436.97 230.91h.01M421.91 224.18h.01M432.45 229.94h.01M444.64 244.3h.01M441 239.83h.01M423.98 220.04h.01M434.06 236.56h.01M434.14 229.78h.01M425.7 224.45h.01M440.15 233.03h.01M419.58 217.35h.01M421.51 224.69h.01M426.71 219.89h.01M439.69 238.2h.01M424.99 222.99h.01M419.32 223.38h.01M437.09 237.99h.01M418.86 222.63h.01M421.69 225.4h.01M441.76 242.35h.01M431.76 230.43h.01M414.35 223.24h.01M434.91 232.18h.01M426.93 228.6h.01M428.55 222.86h.01M431.4 217.92h.01M438.66 238.03h.01M421.52 221.9h.01M441.22 247.57h.01M438.15 235.05h.01M415.41 219.62h.01M439.7 239.45h.01M433.82 238.26h.01M429 222.95h.01M426.44 225.92h.01M444 245.83h.01M432.45 230.27h.01M429.08 221.3h.01M441.75 241.56h.01M437.31 231.46h.01M432.5 227.56h.01M439.96 236.34h.01M419.55 223.69h.01M414.38 221.57h.01M433.28 227.45h.01M444.82 236.44h.01M424.39 219.22h.01M419.24 226.93h.01M423.61 220.54h.01M414.59 218.55h.01M424.59 221.57h.01M442.25 240.77h.01M443.87 241.63h.01M433.38 227.2h.01M421.59 220.06h.01M428.64 226.67h.01M445.35 240.75h.01M441.16 241.14h.01M436.24 237.13h.01M426.31 219.61h.01M431.57 236.05h.01M427.69 222.72h.01M430.37 224.86h.01M433.61 226.53h.01M440.73 242.76h.01M430.95 220.31h.01M433.48 231.3h.01M434.12 240.06h.01M420.39 221.91h.01M429.53 227.28h.01M417.37 219.21h.01M435.11 235.11h.01M411.76 222.02h.01M435.76 230.45h.01M443.54 243.27h.01M418.86 226.08h.01M413.94 221.61h.01M438.72 228.37h.01M426.79 222.24h.01M420.83 223.14h.01M426.67 223.6h.01M437.94 237.38h.01M430.63 230.61h.01M442.91 245.96h.01M432.76 231.71h.01M433.17 226.83h.01M422.6 217.97h.01M428.04 228.72h.01M419.51 219.04h.01M431.14 231.16h.01M420.64 224.19h.01M441.86 237.17h.01M422 219.93h.01M415.42 223.78h.01M442 245.32h.01M429.74 221.65h.01M433.17 227.36h.01M424.51 219.31h.01M445.65 241.43h.01M436.9 235.19h.01M412.52 222.65h.01M412.85 218.41h.01M431.32 227.86h.01M438.21 235.06h.01M433.83 227.7h.01M439.01 231.93h.01M426.89 224.48h.01M429.82 225.98h.01M422.74 222.29h.01M433.19 228.16h.01M429.02 225.36h.01M419.11 225.23h.01M433.59 229.99h.01M436.47 235.04h.01M415.7 221.31h.01M416.34 223.97h.01M413.13 222.98h.01M438.26 233.51h.01M437.02 240.04h.01M416.52 221.71h.01M445.09 242h.01M442.03 239.02h.01M426.25 220.71h.01M439.23 233.46h.01M426.28 226.35h.01M413.11 225.17h.01M427.3 218.8h.01M425.7 224.79h.01M423.87 220.79h.01M431.5 227.52h.01M430.93 224.74h.01M429.25 225.79h.01M432.64 229.36h.01M431.85 229.82h.01M415.52 224.75h.01M445.36 235.96h.01M434.39 228h.01M415.79 222.3h.01M415.94 221.73h.01M442.69 236.83h.01M438.96 236.03h.01M430.64 224.86h.01M443.57 235.56h.01M417.72 219.12h.01M443.69 245.93h.01M429.36 221.56h.01M437.23 233.83h.01M433.51 228.46h.01M437.75 237.9h.01M426.83 224.05h.01M422.77 223.85h.01M418.86 221.19h.01M430.86 226.33h.01M430.67 225.01h.01M427.17 222.69h.01M437.51 234.78h.01M442.06 244.2h.01M420.01 222.75h.01M415.48 218.8h.01M441.11 230.71h.01M442.93 244.05h.01M439.51 236.22h.01M416.74 217.81h.01M419.06 223.23h.01M429.42 229.42h.01M411.61 221.06h.01M426.01 219.47h.01M428.56 221.09h.01M439.56 234.96h.01M432.54 226.95h.01M438.08 230.94h.01M427 221.82h.01M429.77 223.21h.01M417.28 224.32h.01M440.26 238.86h.01M423.88 223.62h.01M422.88 224.98h.01" stroke="#00B0F6" stroke-width="0.75" stroke-linecap="round" stroke-opacity="0.9"/>
<text x="466.60" y="223.40" font-size="7.5" text-anchor="middle" font-weight="normal" fill="#222" style="" stroke="#222" stroke-width="0.12">0</text>
<text x="484.30" y="253.40" font-size="7.5" text-anchor="middle" font-weight="normal" fill="#222" style="" stroke="#222" stroke-width="0.12">1</text>
<text x="460.90" y="253.40" font-size="7.5" text-anchor="middle" font-weight="normal" fill="#222" style="" stroke="#222" stroke-width="0.12">2</text>
<text x="431.30" y="234.60" font-size="7.5" text-anchor="middle" font-weight="normal" fill="#222" style="" stroke="#222" stroke-width="0.12">3</text>
<text x="413.30" y="242.60" font-size="7.5" text-anchor="middle" font-weight="normal" fill="#222" style="" stroke="#222" stroke-width="0.12">4</text>
<line x1="405.70" y1="201.00" x2="405.70" y2="277.50" stroke="#231f20" stroke-width="1.1"/>
<line x1="405.70" y1="277.50" x2="507.50" y2="277.50" stroke="#231f20" stroke-width="1.1"/>
<line x1="402.90" y1="204.60" x2="405.70" y2="204.60" stroke="#231f20" stroke-width="0.8"/>
<text x="398.90" y="207.40" font-size="7.8" text-anchor="end" font-weight="normal" fill="#231f20" style="" stroke="#231f20" stroke-width="0.12">5</text>
<line x1="402.90" y1="221.50" x2="405.70" y2="221.50" stroke="#231f20" stroke-width="0.8"/>
<text x="398.90" y="224.30" font-size="7.8" text-anchor="end" font-weight="normal" fill="#231f20" style="" stroke="#231f20" stroke-width="0.12">2.5</text>
<line x1="402.90" y1="238.20" x2="405.70" y2="238.20" stroke="#231f20" stroke-width="0.8"/>
<text x="398.90" y="241.00" font-size="7.8" text-anchor="end" font-weight="normal" fill="#231f20" style="" stroke="#231f20" stroke-width="0.12">0</text>
<line x1="402.90" y1="255.00" x2="405.70" y2="255.00" stroke="#231f20" stroke-width="0.8"/>
<text x="398.90" y="257.80" font-size="7.8" text-anchor="end" font-weight="normal" fill="#231f20" style="" stroke="#231f20" stroke-width="0.12">−2.5</text>
<line x1="402.90" y1="271.60" x2="405.70" y2="271.60" stroke="#231f20" stroke-width="0.8"/>
<text x="398.90" y="274.40" font-size="7.8" text-anchor="end" font-weight="normal" fill="#231f20" style="" stroke="#231f20" stroke-width="0.12">−5</text>
<line x1="410.20" y1="277.50" x2="410.20" y2="280.00" stroke="#231f20" stroke-width="0.8"/>
<text x="407.80" y="290.10" font-size="7.8" text-anchor="middle" font-weight="normal" fill="#231f20" style="" stroke="#231f20" stroke-width="0.12">−10</text>
<line x1="436.30" y1="277.50" x2="436.30" y2="280.00" stroke="#231f20" stroke-width="0.8"/>
<text x="433.90" y="290.10" font-size="7.8" text-anchor="middle" font-weight="normal" fill="#231f20" style="" stroke="#231f20" stroke-width="0.12">−4</text>
<line x1="462.80" y1="277.50" x2="462.80" y2="280.00" stroke="#231f20" stroke-width="0.8"/>
<text x="462.80" y="290.10" font-size="7.8" text-anchor="middle" font-weight="normal" fill="#231f20" style="" stroke="#231f20" stroke-width="0.12">0</text>
<line x1="489.40" y1="277.50" x2="489.40" y2="280.00" stroke="#231f20" stroke-width="0.8"/>
<text x="489.40" y="290.10" font-size="7.8" text-anchor="middle" font-weight="normal" fill="#231f20" style="" stroke="#231f20" stroke-width="0.12">4</text>
<text x="456.30" y="198.20" font-size="10.2" text-anchor="middle" font-weight="normal" fill="#000" style="" textLength="29.3" lengthAdjust="spacingAndGlyphs">aCD47</text>
<text x="456.30" y="303.70" font-size="9.6" text-anchor="middle" font-weight="normal" fill="#231f20" style="" stroke="#231f20" stroke-width="0.12" textLength="29.4" lengthAdjust="spacingAndGlyphs">UMAP_1</text>
<text x="381.00" y="239.60" font-size="9.6" text-anchor="middle" font-weight="normal" fill="#231f20" style="" transform="rotate(-90 381.0 239.6)" stroke="#231f20" stroke-width="0.12" textLength="28.5" lengthAdjust="spacingAndGlyphs">UMAP_2</text>
<circle cx="503.50" cy="224.30" r="1.1" fill="#F8766D"/>
<text x="507.30" y="227.30" font-size="8.4" text-anchor="start" font-weight="normal" fill="#231f20" style="" stroke="#231f20" stroke-width="0.05" textLength="4.4" lengthAdjust="spacingAndGlyphs">0</text>
<circle cx="503.50" cy="231.55" r="1.1" fill="#A3A500"/>
<text x="507.30" y="234.55" font-size="8.4" text-anchor="start" font-weight="normal" fill="#231f20" style="" stroke="#231f20" stroke-width="0.05" textLength="4.4" lengthAdjust="spacingAndGlyphs">1</text>
<circle cx="503.50" cy="238.80" r="1.1" fill="#00BF7D"/>
<text x="507.30" y="241.80" font-size="8.4" text-anchor="start" font-weight="normal" fill="#231f20" style="" stroke="#231f20" stroke-width="0.05" textLength="4.4" lengthAdjust="spacingAndGlyphs">2</text>
<circle cx="503.50" cy="246.05" r="1.1" fill="#00B0F6"/>
<text x="507.30" y="249.05" font-size="8.4" text-anchor="start" font-weight="normal" fill="#231f20" style="" stroke="#231f20" stroke-width="0.05" textLength="4.4" lengthAdjust="spacingAndGlyphs">3</text>
<circle cx="503.50" cy="253.30" r="1.1" fill="#E76BF3"/>
<text x="507.30" y="256.30" font-size="8.4" text-anchor="start" font-weight="normal" fill="#231f20" style="" stroke="#231f20" stroke-width="0.05" textLength="4.4" lengthAdjust="spacingAndGlyphs">4</text>
<path d="M328.48 345.92h.01M293.02 347.45h.01M320.18 355.28h.01M312.32 352.51h.01M323.3 357.79h.01M316.04 334.94h.01M328.69 341.87h.01M312.02 351.61h.01M307.67 339.86h.01M317.27 345.56h.01M315.41 355.88h.01M308.55 350.94h.01M310.04 340.9h.01M318.34 349.12h.01M318.15 350.16h.01M307.54 346.45h.01M308.72 345.58h.01M295.72 346.26h.01M327.51 338.81h.01M309.95 346.89h.01M324.29 341.59h.01M315.64 348.65h.01M329.36 349.53h.01M326.06 342.09h.01M314.69 349.81h.01M325.21 348.92h.01M303.47 345.64h.01M323.11 350.85h.01M298.78 343.92h.01M315.16 344.89h.01M321.55 347.21h.01M314.03 346.08h.01M308.39 352.41h.01M305.34 334.4h.01M309 344.44h.01M322 335.7h.01M320.15 343.81h.01M309.58 347.46h.01M300.81 345.62h.01M317.8 351.76h.01M298.89 347.22h.01M307.81 334.53h.01M305.71 339.61h.01M318.26 354.95h.01M313.7 354.73h.01M316.14 346.8h.01M314.89 337.62h.01M305.33 357.53h.01M317.39 335.01h.01M324.63 348.31h.01M311.7 345.67h.01M317.65 347.56h.01M311.21 339.43h.01M321.38 344.17h.01M317.72 352.1h.01M320.03 343.58h.01M315.53 338.43h.01M326.77 346.51h.01M308.75 346.17h.01M309.06 344.94h.01M306.92 341.21h.01M317.37 349.07h.01M306.46 344.85h.01M306.55 339.06h.01M318.5 347.36h.01M322.48 346.18h.01M317.15 346.88h.01M293.62 335.51h.01M303.66 341.16h.01M302.25 347.87h.01M300.91 350.43h.01M308.26 347.59h.01M328.31 347.58h.01M309.06 349.77h.01M305.14 351.02h.01M317.81 356h.01M312.51 348.62h.01M313.25 342.96h.01M305.71 348.37h.01M312.53 335.34h.01M315.9 346.61h.01M294.95 342.82h.01M297.54 345.29h.01M321.62 349.35h.01M319.57 346.84h.01M307.85 337.98h.01M302.93 343.77h.01M310.56 341.72h.01M301.28 345.57h.01M308.85 348.06h.01M327.11 341.68h.01M312.99 350.33h.01M322.13 353.93h.01M310.08 344.67h.01M315.12 350.43h.01M324.87 338.74h.01M300.14 342.69h.01M308.61 351.4h.01M311.08 336.5h.01M314.68 343.61h.01M326.21 342.04h.01M317.85 352.89h.01M298.22 351.89h.01M309.74 342.72h.01M303.93 346.55h.01M304.32 334.35h.01M329.97 351.85h.01M302.35 347.72h.01M313.76 353.67h.01M306.15 334.44h.01M319.65 348.57h.01M315.28 344.49h.01M313.72 334.82h.01M311.51 342.43h.01M322.25 346.34h.01M303.41 350.26h.01M305.41 347.02h.01M302.11 342.93h.01M323.88 349.31h.01M309.39 345.54h.01M302.86 342.23h.01M308.52 340.47h.01M330.84 348.03h.01M310.99 347.08h.01M319.14 356.77h.01M316.31 344h.01M311.45 355.08h.01M305.68 347.89h.01M308.67 352.6h.01M309.06 341.14h.01M293.37 340.53h.01M330.96 345.53h.01M320.07 351.62h.01M313 347.3h.01M309.97 350.33h.01M304.82 347.68h.01M320.25 352.37h.01M310.27 347.3h.01M316.45 343.62h.01M299.39 348.5h.01M315.38 346.96h.01M329.5 356.8h.01M309.44 345.29h.01M319.16 347.26h.01M312.4 344.63h.01M321.62 353.15h.01M321.35 351.58h.01M312.38 349.9h.01M307.31 339.2h.01M314.99 338.1h.01M312.3 347.77h.01M306.25 349.99h.01M315.7 354.63h.01M316.38 336.63h.01M304.06 344.96h.01M311.46 336.96h.01M331.14 341.97h.01M319.4 345.45h.01M312.61 351.63h.01M331.02 344.35h.01M308.1 342.15h.01M293.21 343.6h.01M294.51 352.35h.01M297.76 357.15h.01M314.76 337.95h.01M320.85 345.24h.01M293.24 342.99h.01M321.72 353.22h.01M300.84 348.14h.01M313.88 354.88h.01M316.45 340.95h.01M315.88 346.57h.01M312.19 343.8h.01M313.84 340.35h.01M301.8 344.92h.01M314.83 339.92h.01M338.44 351.7h.01M327.83 345.85h.01M337.56 343.73h.01M333.3 345.57h.01M326.56 352.79h.01M324.34 354.8h.01M329.3 344.37h.01M328.44 342.17h.01M335.67 335.24h.01M325.87 354.8h.01M321.15 338.78h.01M329.91 348.67h.01M341.56 346.81h.01M339.85 350.98h.01M326.29 340h.01M328.38 336.2h.01M331.94 345.05h.01M326.04 346.36h.01M328.55 350.06h.01M328.37 335.88h.01M323.72 342.04h.01M326.31 342.99h.01M327.11 337.54h.01M331.43 343.49h.01M322.92 348.31h.01M330.65 344.14h.01M324.13 337.11h.01M325.16 346.04h.01M323.27 348.61h.01M342.6 346.99h.01M337.56 348.26h.01M338.09 336.04h.01M334.9 346.62h.01M328.61 347.32h.01M330.42 342.43h.01M331.75 344.04h.01M332.7 340.45h.01M333.59 350.49h.01M339.18 342.82h.01M317.4 339.59h.01M326.69 345.25h.01M334.08 344.87h.01M327.87 347.66h.01M329.08 340.14h.01M338.96 340.93h.01M331.16 346.23h.01M340.71 354.8h.01M329.75 346.65h.01M337.85 356.67h.01M343.66 353.98h.01M335.4 351.04h.01M335.81 355.16h.01M344.01 361.7h.01M340.33 349.71h.01M336.22 357.9h.01M338.68 355.74h.01M338.61 352.96h.01M338.77 350.32h.01M341.22 353.44h.01M339.49 354.24h.01M337.28 356.44h.01M335.99 356.18h.01M331.1 354.64h.01M336.27 350.63h.01M342.6 354.57h.01M338.93 351.49h.01M335.4 349.18h.01M337.05 356.95h.01M334.59 350.7h.01M339.18 348.57h.01M346.06 353.69h.01M345.27 345.62h.01M301.77 351.65h.01M300.44 350.05h.01M295.96 347.78h.01M297.47 348.56h.01M296.88 350.41h.01M298.13 348.43h.01M298.49 351.74h.01M294.78 342.45h.01M304.48 346.22h.01M293.85 350.15h.01M299.47 347.49h.01M302.15 348.11h.01M297.89 345.7h.01M295.33 352.94h.01M298.13 356.78h.01M305.77 346.22h.01M300.5 354.85h.01M296.84 344.42h.01M300.34 350.8h.01M297.21 342.22h.01M290.49 352.18h.01M298.98 350.31h.01M302.17 350.79h.01M302.62 355.09h.01" stroke="#F8766D" stroke-width="0.75" stroke-linecap="round" stroke-opacity="0.9"/>
<path d="M318.75 388.71h.01M305.02 369.4h.01M308.48 361.85h.01M306.91 384.76h.01M311.03 388.02h.01M314.69 390.76h.01M312.36 364.03h.01M308.7 395.15h.01M312.72 361.48h.01M316.38 378.58h.01M304.09 375.05h.01M319.84 372.37h.01M323.79 390.39h.01M326.41 378.61h.01M313.11 360.72h.01M318.4 389.95h.01M308.4 374.48h.01M328.22 379.11h.01M302.23 378.88h.01M308.34 383.77h.01M325.69 379.91h.01M312.51 390.66h.01M308.49 380.92h.01M313.61 378.11h.01M310.92 390.14h.01M307.92 364.07h.01M314.95 367.78h.01M325.66 389.76h.01M319.09 374.91h.01M309.26 387.99h.01M305.94 368.82h.01M323.91 371.53h.01M310.2 362.57h.01M309.62 381.96h.01M315.1 374.41h.01M309.84 391.59h.01M321.41 379.87h.01M311.11 368.08h.01M308.31 385.85h.01M316.32 375.85h.01M328.17 381.71h.01M312.82 363.7h.01M312.21 379.56h.01M317.65 379.12h.01M303.98 388.63h.01M317.9 368.04h.01M324.27 367.38h.01M308.22 367.73h.01M311.63 360.48h.01M321.78 370.18h.01M324.53 372.96h.01M303.36 376.93h.01M319.72 379.66h.01M307.73 363.85h.01M327.83 383.71h.01M324.97 384.2h.01M310.72 378.19h.01M313.77 376.94h.01M316.16 379.37h.01M309.61 368.7h.01M314.34 362.81h.01M322.31 373.09h.01M304.91 382.85h.01M324.26 375.57h.01M318.62 395.5h.01M305.2 372.02h.01M315.66 387.93h.01M307.49 389.93h.01M314.92 388.93h.01M326.54 377.19h.01M324.07 374.24h.01M306.1 372.38h.01M324.74 385.18h.01M317.15 392.02h.01M319.95 389.96h.01M311.42 395.58h.01M305.99 382.77h.01M305.33 389.12h.01M310.51 380.38h.01M319 362.31h.01M303 386.46h.01M303.8 376.4h.01M307.11 379.7h.01M314.51 397.04h.01M303.44 368.11h.01M320.74 392.38h.01M320.29 384.08h.01M304.11 370.46h.01M310.71 361.94h.01M325.22 389.18h.01M304.13 378.31h.01M316.9 380.67h.01M308.26 392.66h.01M311.46 371.15h.01M311.55 370.3h.01M304.69 385.94h.01M320.13 365.66h.01M319.72 370.19h.01M318.47 394.64h.01M327.21 371.56h.01M315.07 380.2h.01M323.73 371.29h.01M307.65 371.05h.01M324.5 373.45h.01M310.39 389.06h.01M321.2 365.13h.01M309.03 390.92h.01M311.89 366.08h.01M314.68 366.74h.01M318.01 370.42h.01M307.04 367.09h.01M307.69 382.56h.01M324.78 378.34h.01M313.42 366.39h.01M306.25 372.34h.01M318.57 382.34h.01M311.83 366.19h.01M304.92 390.92h.01M313.2 374.61h.01M303.57 383.14h.01M318.09 364.68h.01M313.6 365.47h.01M316.3 376.74h.01M322 369.7h.01M321.29 378.34h.01M309.82 372.29h.01M324.41 376.84h.01M324.61 380.15h.01M315.7 363.11h.01M313.3 392.21h.01M302.83 371.87h.01M323 384.28h.01M308.6 366.41h.01M317.33 374.1h.01M314.9 368.65h.01M312.92 367.56h.01M317.38 375.59h.01M306.98 373.51h.01M316.91 391.44h.01M305.35 376h.01M318.65 367.63h.01M310.38 393.67h.01M305.93 385.7h.01M319.03 366.01h.01M320.99 381.34h.01M322.65 381.83h.01M312.77 382.77h.01M315.81 376.75h.01M322.9 387.86h.01M303.9 373.54h.01M310.21 365.86h.01M321.03 381.08h.01M321.81 364.53h.01M316.97 366.56h.01M316.38 378.61h.01M304.46 381.38h.01M313.78 379.23h.01M314.6 363.74h.01M322.74 380.09h.01M313.1 382.11h.01M317.84 379.54h.01M313.6 378.15h.01M324.42 384.46h.01M317.55 368.31h.01M312.79 384.14h.01M318.33 378.36h.01M311.76 392.88h.01M311.66 377.3h.01M315.37 380.13h.01M323.59 392h.01M316.69 363.2h.01M304.02 371.47h.01M323.4 380.61h.01M311.54 366.54h.01M324.68 385.68h.01M318.37 361.7h.01M319.81 365.75h.01M312.81 395.89h.01M327.14 379.21h.01M303.56 374.45h.01M303.93 372.4h.01M309.2 394h.01M306.28 387.93h.01M325.6 380.66h.01M327.52 372.59h.01M326.03 388.65h.01M305.62 382.34h.01M314.85 395.36h.01M305.66 367h.01M316.79 393.23h.01M326.27 383.84h.01M303.19 377.64h.01M315.03 390.95h.01M313.58 375.51h.01M312.11 393.4h.01M316.31 376.94h.01M303.42 370.39h.01M310.54 378.38h.01M305.57 380.23h.01M308.18 373.93h.01M305.91 374.76h.01M302.57 375.67h.01M318.21 389.25h.01M316.84 360.41h.01M307.21 388.02h.01M316.01 394.49h.01M305.72 368h.01M312.24 373.99h.01M309.3 387.35h.01M314.6 376.38h.01M319.09 394.98h.01M322.6 380.95h.01M317.58 393.36h.01M315.2 369.65h.01M322.96 388.21h.01M308.39 366.26h.01M313.72 377.54h.01M306.74 372.08h.01M308.73 394.35h.01M306.22 385.89h.01M320.14 364.08h.01M304.61 389.49h.01M323.73 382.77h.01M304.19 381.99h.01M326.86 385.16h.01M318.98 385.58h.01M316.18 391.35h.01M303.42 377.91h.01M310.57 376.75h.01M304.33 387.92h.01M324.66 381.83h.01M322.09 387.92h.01M310.72 374.87h.01M324.53 378.97h.01M315.9 367.8h.01M306.96 371.09h.01M303.2 372.84h.01M321.04 372.18h.01M321.67 387.33h.01M308.41 371.44h.01M305.75 386.36h.01M316.09 364.23h.01M307.83 371h.01M304.71 372.41h.01M303.76 387.33h.01M322.05 369.79h.01M311.4 376.42h.01M317.4 394.37h.01M322.97 386.03h.01M324.47 374.01h.01M316.18 377.29h.01M307.91 361.94h.01M317.47 361.66h.01M323.03 375.69h.01M313.91 364.74h.01M311.48 389.1h.01M314.82 366.69h.01M309.93 372.19h.01M316.51 385.38h.01M303.28 371.53h.01M327.25 373.78h.01M322.87 375.22h.01M306.49 391.95h.01M326.18 370.44h.01M316.02 391.15h.01M307.33 393.38h.01M316.63 384.98h.01M314.22 379.88h.01M327.4 372.11h.01M319.63 392.5h.01M317.62 390.86h.01M310.02 393.12h.01M322.98 365.01h.01M312.17 392.09h.01M305.66 391.8h.01M307.7 379.57h.01M319.25 364.9h.01M307.81 390.48h.01M313.17 364.11h.01M319.9 361.29h.01M331.03 392.97h.01M328.36 393.33h.01M329.43 390.18h.01M326.19 394.52h.01M331.89 392.75h.01M327.95 395.01h.01M330.11 391.14h.01M325.1 390.26h.01M333.61 391.92h.01M329.02 398.16h.01M326.33 387.78h.01M328.22 396.47h.01M323.64 393.03h.01M325.63 396.62h.01M331.33 392h.01M330.46 394.32h.01M331.38 394.25h.01M330.87 399.52h.01M326.92 392.78h.01M328.45 393.86h.01" stroke="#00BF7D" stroke-width="0.75" stroke-linecap="round" stroke-opacity="0.9"/>
<path d="M335.16 364.97h.01M330.47 380.34h.01M339.78 369.96h.01M335.44 361.12h.01M346.47 379.11h.01M336.71 386.57h.01M326.37 371.35h.01M332.37 387.84h.01M336.87 378.69h.01M333.05 378.91h.01M338.14 384.92h.01M348.35 373.26h.01M340.25 368.42h.01M329.08 372.45h.01M342.16 371.93h.01M331 384.55h.01M333.66 360.84h.01M329.86 374.78h.01M338.89 385.78h.01M330.63 386.87h.01M330.61 378.63h.01M347.09 377.28h.01M327.16 373.52h.01M341.93 389.18h.01M339.22 365.97h.01M341.43 378.1h.01M327.51 371.14h.01M332.53 383.22h.01M340.53 370.69h.01M333.68 390.32h.01M338.46 365.51h.01M342.98 376.69h.01M336.83 378.28h.01M342.61 380.44h.01M337.51 376.75h.01M331.43 372.25h.01M339.51 371.78h.01M348.17 375.43h.01M337.5 379.82h.01M336.52 360.04h.01M332.74 384.21h.01M345.38 376.1h.01M330.09 371.5h.01M331.41 387.74h.01M348.47 373.59h.01M343.48 387.09h.01M330.46 362.54h.01M329.68 372.17h.01M346.47 371.33h.01M346.12 365.62h.01M328.94 371.52h.01M338.51 385.15h.01M330.64 362.45h.01M348.38 377.54h.01M327.83 378.78h.01M334.23 372.74h.01M328.7 381.96h.01M336.38 373.5h.01M338.49 390.53h.01M333.91 368.53h.01M335.41 383.11h.01M345.29 371.46h.01M326.94 367.83h.01M333.19 386.86h.01M332 380.55h.01M341.21 377.26h.01M335.82 375.61h.01M344.76 380.57h.01M337.2 378.07h.01M330.42 377.74h.01M340.89 369.91h.01M339.3 386.76h.01M346.8 366.88h.01M327.66 383.18h.01M342.31 380.61h.01M333.7 360.67h.01M344.23 383.43h.01M340.13 389.67h.01M341.85 374.73h.01M328.91 378.69h.01M337.58 372.13h.01M328.91 365.62h.01M336.7 385.23h.01M331.3 389.22h.01M344.66 382.05h.01M348.71 377.8h.01M338.18 387.6h.01M341.09 376.15h.01M336.36 370.72h.01M346.45 366.28h.01M331.29 361.38h.01M327.75 380.43h.01M325.31 375.77h.01M333.01 366.44h.01M336.17 390.94h.01M327.64 370.4h.01M340.74 372.08h.01M335.21 360.56h.01M338.62 383.13h.01M334.48 363.28h.01M336.95 380.24h.01M331.24 361.84h.01M345.59 382.2h.01M341.75 365.85h.01M333.39 369.79h.01M332.89 365.67h.01M334.85 367.61h.01M331.88 385.89h.01M347.42 382.19h.01M338.02 368.73h.01M337.16 373.39h.01M333.79 382.64h.01M339.44 365.69h.01M327.11 382.32h.01M326.33 380.64h.01M330.57 375.54h.01M328.29 386.01h.01M328.05 385.04h.01M345.55 368.4h.01M347.09 378.86h.01M329.64 385.83h.01M332.27 367.59h.01M334.96 367.53h.01M336.14 387.18h.01M335.85 374.85h.01M331.09 387h.01M339.15 363.65h.01M333.68 361.29h.01M348.4 377.1h.01M332.63 382.02h.01M340.39 368.66h.01M332.27 364.8h.01M345.55 371.61h.01M335.51 363.98h.01M341.65 386.4h.01M340.65 383.41h.01M345.41 372.96h.01M346.89 383.31h.01M338.41 390.6h.01M328.51 373.79h.01M331.84 378.76h.01M339.83 390.7h.01M333.8 368.38h.01M338.62 361.2h.01M332.2 362.47h.01M343.3 374.9h.01M329.21 371.92h.01M340.96 376.59h.01M337.49 365.99h.01M327.52 366.4h.01M339.71 384.41h.01M325.37 376.5h.01M342.2 375.69h.01M327.7 381.98h.01M331.78 377.28h.01M342.34 368.06h.01M339.82 384.12h.01M340.68 383.45h.01M343.78 379.97h.01M341.93 368.53h.01M328.68 384.37h.01M330.43 364.46h.01M344.75 367.74h.01M338.14 364.64h.01M346.07 385.74h.01M332.44 384.6h.01M343.67 384.19h.01M340.91 375.77h.01M346.12 381.42h.01M329.6 384.48h.01M339.44 368.06h.01M338.86 380.34h.01M343.85 381.15h.01M331.65 374.37h.01M339.73 383.44h.01M332.71 377.7h.01M339.2 387.28h.01M329.55 383.29h.01M328.65 366.57h.01M341.71 371.86h.01M335.72 359.81h.01M341.27 383h.01M332.51 384.86h.01M332.31 386.51h.01M333.79 383.3h.01M335.9 374.67h.01M348.65 374.57h.01M335.76 369.64h.01M340.44 369.16h.01M345.61 379.94h.01M342.12 372.68h.01M338.84 383.69h.01" stroke="#A3A500" stroke-width="0.75" stroke-linecap="round" stroke-opacity="0.9"/>
<path d="M280.26 348.05h.01M266.6 348.92h.01M273.34 354.27h.01M269.82 350.53h.01M263.55 348.85h.01M269.97 351.04h.01M289.22 369.51h.01M277.11 359.49h.01M290.57 353.41h.01M265.57 352.94h.01M275.79 352.72h.01M284.53 352.26h.01M287.83 350.25h.01M289.82 368.12h.01M286.97 355.99h.01M297.44 361.56h.01M287.67 353.79h.01M271.95 351.41h.01M268.57 357.19h.01M291.16 367.88h.01M264.14 347.55h.01M273.88 353.83h.01M283.35 346.3h.01M280.09 356.74h.01M286.9 363.13h.01M276.63 357.43h.01M289.7 366.54h.01M277.53 355.2h.01M279.81 352.45h.01M294.54 365.1h.01M291.1 363.19h.01M275.87 356.74h.01M282.36 351.55h.01M288.17 359.51h.01M273.75 347.64h.01M282.89 357.8h.01M269.94 350.09h.01M282.86 364.56h.01M286.74 369.61h.01M276.23 354.03h.01M264.71 354.07h.01M281.17 352.58h.01M296.58 361.42h.01M293.37 366.51h.01M285.34 357.05h.01M293.79 360.2h.01M282.3 355.22h.01M271.21 351.6h.01M286.89 354.08h.01M277.1 353.37h.01M293.41 367.84h.01M294.79 364.39h.01M294.42 367.4h.01M288.22 363.88h.01M288.88 359.72h.01M280.04 351.94h.01M276.97 355.68h.01M292.6 367.72h.01M289.84 364.55h.01M275.97 348.09h.01M271.86 351.42h.01M278.52 357.89h.01M272.7 345.69h.01M295.23 359.07h.01M295.83 364.18h.01M275.74 349.37h.01M293.33 360.33h.01M289.52 352.62h.01M277.34 357.54h.01M263.66 349.52h.01M282.12 350.22h.01M274.56 339.12h.01M266.54 353.35h.01M276.71 344.44h.01M264.94 355.59h.01M291.43 366.43h.01M265.53 351.13h.01M281.84 352.77h.01M289.49 366.34h.01M264.79 348.44h.01M273.59 350.62h.01M283.99 353.32h.01M268.82 347.69h.01M282.1 361.35h.01M269.17 353.01h.01M273.25 345.8h.01M294.21 361.99h.01M294.52 367.09h.01" stroke="#00B0F6" stroke-width="0.75" stroke-linecap="round" stroke-opacity="0.9"/>
<text x="318.00" y="348.10" font-size="7.5" text-anchor="middle" font-weight="normal" fill="#222" style="" stroke="#222" stroke-width="0.12">0</text>
<text x="337.50" y="378.00" font-size="7.5" text-anchor="middle" font-weight="normal" fill="#222" style="" stroke="#222" stroke-width="0.12">1</text>
<text x="312.80" y="378.00" font-size="7.5" text-anchor="middle" font-weight="normal" fill="#222" style="" stroke="#222" stroke-width="0.12">2</text>
<text x="282.70" y="358.90" font-size="7.5" text-anchor="middle" font-weight="normal" fill="#222" style="" stroke="#222" stroke-width="0.12">3</text>
<text x="264.80" y="367.20" font-size="7.5" text-anchor="middle" font-weight="normal" fill="#222" style="" stroke="#222" stroke-width="0.12">4</text>
<line x1="256.70" y1="325.30" x2="256.70" y2="401.80" stroke="#231f20" stroke-width="1.1"/>
<line x1="256.70" y1="401.80" x2="358.50" y2="401.80" stroke="#231f20" stroke-width="1.1"/>
<line x1="253.90" y1="328.90" x2="256.70" y2="328.90" stroke="#231f20" stroke-width="0.8"/>
<text x="249.90" y="331.70" font-size="7.8" text-anchor="end" font-weight="normal" fill="#231f20" style="" stroke="#231f20" stroke-width="0.12">5</text>
<line x1="253.90" y1="345.80" x2="256.70" y2="345.80" stroke="#231f20" stroke-width="0.8"/>
<text x="249.90" y="348.60" font-size="7.8" text-anchor="end" font-weight="normal" fill="#231f20" style="" stroke="#231f20" stroke-width="0.12">2.5</text>
<line x1="253.90" y1="362.50" x2="256.70" y2="362.50" stroke="#231f20" stroke-width="0.8"/>
<text x="249.90" y="365.30" font-size="7.8" text-anchor="end" font-weight="normal" fill="#231f20" style="" stroke="#231f20" stroke-width="0.12">0</text>
<line x1="253.90" y1="379.30" x2="256.70" y2="379.30" stroke="#231f20" stroke-width="0.8"/>
<text x="249.90" y="382.10" font-size="7.8" text-anchor="end" font-weight="normal" fill="#231f20" style="" stroke="#231f20" stroke-width="0.12">−2.5</text>
<line x1="253.90" y1="395.90" x2="256.70" y2="395.90" stroke="#231f20" stroke-width="0.8"/>
<text x="249.90" y="398.70" font-size="7.8" text-anchor="end" font-weight="normal" fill="#231f20" style="" stroke="#231f20" stroke-width="0.12">−5</text>
<line x1="261.20" y1="401.80" x2="261.20" y2="404.30" stroke="#231f20" stroke-width="0.8"/>
<text x="258.80" y="414.40" font-size="7.8" text-anchor="middle" font-weight="normal" fill="#231f20" style="" stroke="#231f20" stroke-width="0.12">−10</text>
<line x1="287.30" y1="401.80" x2="287.30" y2="404.30" stroke="#231f20" stroke-width="0.8"/>
<text x="284.90" y="414.40" font-size="7.8" text-anchor="middle" font-weight="normal" fill="#231f20" style="" stroke="#231f20" stroke-width="0.12">−4</text>
<line x1="313.80" y1="401.80" x2="313.80" y2="404.30" stroke="#231f20" stroke-width="0.8"/>
<text x="313.80" y="414.40" font-size="7.8" text-anchor="middle" font-weight="normal" fill="#231f20" style="" stroke="#231f20" stroke-width="0.12">0</text>
<line x1="340.40" y1="401.80" x2="340.40" y2="404.30" stroke="#231f20" stroke-width="0.8"/>
<text x="340.40" y="414.40" font-size="7.8" text-anchor="middle" font-weight="normal" fill="#231f20" style="" stroke="#231f20" stroke-width="0.12">4</text>
<text x="307.30" y="322.50" font-size="10.2" text-anchor="middle" font-weight="normal" fill="#000" style="" textLength="17.3" lengthAdjust="spacingAndGlyphs">PTX</text>
<text x="307.30" y="428.00" font-size="9.6" text-anchor="middle" font-weight="normal" fill="#231f20" style="" stroke="#231f20" stroke-width="0.12" textLength="29.4" lengthAdjust="spacingAndGlyphs">UMAP_1</text>
<text x="232.00" y="363.90" font-size="9.6" text-anchor="middle" font-weight="normal" fill="#231f20" style="" transform="rotate(-90 232.0 363.9)" stroke="#231f20" stroke-width="0.12" textLength="28.5" lengthAdjust="spacingAndGlyphs">UMAP_2</text>
<circle cx="354.50" cy="348.60" r="1.1" fill="#F8766D"/>
<text x="358.30" y="351.60" font-size="8.4" text-anchor="start" font-weight="normal" fill="#231f20" style="" stroke="#231f20" stroke-width="0.05" textLength="4.4" lengthAdjust="spacingAndGlyphs">0</text>
<circle cx="354.50" cy="355.85" r="1.1" fill="#A3A500"/>
<text x="358.30" y="358.85" font-size="8.4" text-anchor="start" font-weight="normal" fill="#231f20" style="" stroke="#231f20" stroke-width="0.05" textLength="4.4" lengthAdjust="spacingAndGlyphs">1</text>
<circle cx="354.50" cy="363.10" r="1.1" fill="#00BF7D"/>
<text x="358.30" y="366.10" font-size="8.4" text-anchor="start" font-weight="normal" fill="#231f20" style="" stroke="#231f20" stroke-width="0.05" textLength="4.4" lengthAdjust="spacingAndGlyphs">2</text>
<circle cx="354.50" cy="370.35" r="1.1" fill="#00B0F6"/>
<text x="358.30" y="373.35" font-size="8.4" text-anchor="start" font-weight="normal" fill="#231f20" style="" stroke="#231f20" stroke-width="0.05" textLength="4.4" lengthAdjust="spacingAndGlyphs">3</text>
<circle cx="354.50" cy="377.60" r="1.1" fill="#E76BF3"/>
<text x="358.30" y="380.60" font-size="8.4" text-anchor="start" font-weight="normal" fill="#231f20" style="" stroke="#231f20" stroke-width="0.05" textLength="4.4" lengthAdjust="spacingAndGlyphs">4</text>
<path d="M467.74 350.78h.01M451.06 349.27h.01M445.59 344.25h.01M439.77 349.57h.01M457.29 349.85h.01M472.69 356.78h.01M461.83 343.35h.01M466.51 344.62h.01M471.19 349.19h.01M452.53 344.39h.01M481.13 357.98h.01M451.93 350.88h.01M464.73 348.54h.01M480.98 359.52h.01M459.56 351.18h.01M461.54 354.38h.01M455.42 352.59h.01M464.42 347.75h.01M440.19 345.37h.01M454.56 347.7h.01M478.51 343.48h.01M463.31 346.45h.01M458.1 353.16h.01M464.53 350.52h.01M465.69 343.08h.01M461.26 360.99h.01M467.37 342.73h.01M444.11 350.36h.01M466.45 353.22h.01M453.53 355.25h.01M469.33 343.95h.01M460.77 348.43h.01M451.18 346.17h.01M459.59 355.08h.01M450.74 349.63h.01M470.82 351.86h.01M460.38 351.57h.01M468.3 360.95h.01M449.49 351.32h.01M476.57 355.31h.01M458.55 342.59h.01M474.15 353.98h.01M470.23 341.89h.01M449.46 353.07h.01M464.1 349.76h.01M456.11 342.75h.01M465.73 342.14h.01M475.28 349.48h.01M467.75 350.05h.01M471.93 346.35h.01M449.5 345.52h.01M463.18 347.04h.01M464.85 345.87h.01M471.91 348.64h.01M454.63 349.7h.01M465.84 357.03h.01M464.85 352.98h.01M446.13 343.86h.01M449.64 357.4h.01M464.67 356.31h.01M449.39 346.13h.01M448.13 353.7h.01M470.17 346.58h.01M464.23 344.67h.01M459.03 344.36h.01M461.02 358.68h.01M456.83 349.36h.01M455.4 350.29h.01M456.31 348.9h.01M465.01 346.96h.01M473.79 353.2h.01M455.84 352.58h.01M459.07 360.66h.01M459.26 343.76h.01M447.47 356.94h.01M463.03 353.31h.01M470.58 339.65h.01M451.94 354.07h.01M468.24 359.57h.01M454.58 355.07h.01M472.23 351.74h.01M472.92 351.3h.01M458.29 336.93h.01M440.81 349.06h.01M457.35 349.87h.01M447.63 342.2h.01M447.72 349h.01M458.8 344.93h.01M473.28 362.2h.01M460.73 341.74h.01M459.28 343.48h.01M443.81 334.3h.01M455.14 345.99h.01M446.99 348.23h.01M466.11 349.48h.01M456.07 344.52h.01M459.98 354.02h.01M460.64 350.23h.01M458.37 355.7h.01M470.5 349.08h.01M466.85 338.77h.01M457.86 347.57h.01M463.09 342.87h.01M465.96 354.21h.01M474.97 346.44h.01M462.4 347.34h.01M475.38 349.98h.01M455.97 338.96h.01M458.88 346.06h.01M445.65 352.3h.01M469.49 345.98h.01M450.8 346.52h.01M450.61 348.48h.01M469.76 345.33h.01M455.86 346.21h.01M453.23 350.34h.01M470.69 347.16h.01M459.12 348.59h.01M470.23 348.51h.01M457.61 341.8h.01M468.99 341.43h.01M470.54 361.3h.01M460.98 356.7h.01M478.96 349.48h.01M456.48 353.66h.01M458.22 354.78h.01M461.21 354.2h.01M471.21 347.23h.01M458.99 339.57h.01M457.4 340.45h.01M463.66 347.23h.01M472.62 357.69h.01M455.91 357.29h.01M448.42 345.71h.01M459.89 346.3h.01M466.48 356.21h.01M454.36 360.15h.01M462.78 343.05h.01M442.11 349.37h.01M461.11 349.32h.01M462.2 346.63h.01M467.37 347.17h.01M464.26 346.78h.01M468.67 349.2h.01M452.01 338.3h.01M467.56 349.11h.01M444.08 351.5h.01M454.59 352.37h.01M471.51 354.29h.01M469.25 351.29h.01M442.43 347.78h.01M465.67 360.65h.01M456.8 346.99h.01M453.15 348.66h.01M462.27 356.12h.01M462.24 348.85h.01M475.63 342.18h.01M446.96 343.77h.01M456.98 345.5h.01M459.66 347.43h.01M442.94 343.97h.01M472.06 355.56h.01M478.03 354.45h.01M454.47 350.76h.01M465.02 346.49h.01M457.69 354.34h.01M463.08 354.67h.01M453.02 360.16h.01M469.61 345.74h.01M449.44 346.72h.01M473.72 358.13h.01M465.17 342.47h.01M481.71 352.22h.01M444.41 348.22h.01M459.99 348.8h.01M448.75 341.67h.01M479.48 340.14h.01M480.16 347.66h.01M475.07 346.65h.01M482.15 341.88h.01M477.11 345.57h.01M476.2 350.72h.01M493.7 345.15h.01M478.1 334.62h.01M492.28 342.12h.01M476.58 342.75h.01M478.72 347.92h.01M470.57 341.09h.01M475.22 347.32h.01M490.23 341.09h.01M479.3 341.86h.01M465.28 340.55h.01M489.05 341.76h.01M472.93 340.98h.01M476.18 343.38h.01M478.81 337.9h.01M465.98 336.49h.01M489.81 341.23h.01M488.01 342.38h.01M476.74 339.63h.01M481.5 343.61h.01M477.03 343.26h.01M474.87 349.96h.01M477.39 334.35h.01M468.97 351.39h.01M476.18 331.8h.01M475.1 332.73h.01M492.32 342.76h.01M468.8 336.68h.01M487.81 339.87h.01M483.98 339.13h.01M480.03 334.82h.01M474.81 334.5h.01M491.59 339.35h.01M489.15 343.01h.01M478.7 344.21h.01M477.62 342.07h.01M480.31 339.61h.01M491.72 347.14h.01M472.67 331.8h.01M479.58 341.36h.01M486.92 347.51h.01M469.32 349.21h.01M478.43 347.2h.01M486.77 347.92h.01M475.95 346.39h.01M478.22 341.95h.01M468.22 331.8h.01M481.65 338.8h.01M470.79 339.96h.01M476.28 349.17h.01M481.35 339.22h.01M475.1 339.61h.01M485.05 344.64h.01M483.98 336.58h.01M482.37 341.57h.01M485.84 344.15h.01M477.85 339.81h.01M464.3 341.12h.01M485 332.61h.01M436.5 354.13h.01M448.46 345.03h.01M442.91 353.28h.01M448.01 349.82h.01M446.66 351.35h.01M442.19 357.74h.01M442.92 351.04h.01M439.45 349.53h.01M456.04 352.15h.01M450.78 354.9h.01M450.31 349.96h.01M452.14 358.93h.01M453.12 352.87h.01M450.51 350.76h.01M451.36 349.6h.01M457.5 351.62h.01M437.8 354.48h.01M447.34 356.46h.01M443.29 352.57h.01M446.69 349.94h.01M436.5 352.12h.01M441.07 343.92h.01M450.49 356.76h.01M440.22 355.64h.01M478.65 335.59h.01M482.02 335.42h.01M487.62 339.99h.01M482.83 337.78h.01M488.47 339.77h.01M482.34 336.56h.01M477.34 336.3h.01M487.84 339.8h.01M485.66 335.51h.01M480.96 334.84h.01M482.1 335.63h.01M486.61 336.27h.01M487.39 337.96h.01M483.42 336.25h.01M483.35 335.51h.01M489.64 340.56h.01M488.7 340.79h.01M486.64 337.72h.01M478.27 335.85h.01M487.62 338.42h.01M488.42 353.16h.01M487.27 351.96h.01M486.07 350.17h.01M484.84 349.57h.01M487.14 354.01h.01M488.07 353.38h.01M486.32 349.6h.01M486.12 350.19h.01M487.51 353.29h.01" stroke="#F8766D" stroke-width="0.75" stroke-linecap="round" stroke-opacity="0.9"/>
<path d="M461.84 383.31h.01M464.32 379.47h.01M478.66 390.48h.01M477.47 390.19h.01M472.59 388.64h.01M456.86 374.77h.01M459.72 369.46h.01M461.77 373.67h.01M478.54 394.55h.01M477.61 393.2h.01M458.15 375.09h.01M483.18 390.99h.01M449.63 376.27h.01M458.89 373.66h.01M453.11 360.82h.01M467.87 380.88h.01M464.45 385.6h.01M450.05 368.14h.01M455.25 368.68h.01M452.84 361.75h.01M453.76 362.3h.01M460.44 392.63h.01M463.47 385.4h.01M475.09 389.96h.01M451.01 360.4h.01M448.3 364.27h.01M475.09 393.09h.01M455.48 372.47h.01M465.82 385.34h.01M460.57 376.83h.01M473.35 394.13h.01M475.22 401h.01M451.38 365.38h.01M455.08 365.53h.01M470.21 383.62h.01M458.25 374.06h.01M459.6 372.26h.01M459.86 370.13h.01M456.21 376.79h.01M453.09 367.81h.01M449.64 368.36h.01M458.63 379.52h.01M477.17 391.82h.01M449.57 366.55h.01M465.1 386.29h.01M465 392.36h.01M474.38 386.91h.01M457.6 370.92h.01M454.2 368.13h.01M467.55 395.76h.01M454.91 373.45h.01M456.46 359.64h.01M474.64 387.58h.01M458.86 380.68h.01M479.15 387.23h.01M456.43 365h.01M457.94 373.42h.01M478.65 393.14h.01M466.4 387h.01M453.56 374h.01M473.88 393.2h.01M457.77 361.29h.01M453.77 378.65h.01M465.87 391.07h.01M461.19 372.98h.01M459.48 374.2h.01M474.72 385.3h.01M476.22 400.64h.01M470.17 386.08h.01M461.95 383.33h.01M454.7 373.22h.01M448.14 367.12h.01M462.95 382.49h.01M458.05 371.85h.01M452.55 370.4h.01M464.46 389.32h.01M455.33 364.19h.01M453.42 364.69h.01M471.89 381.48h.01M446.73 365.29h.01M481.59 393.6h.01M454.26 376.82h.01M456.68 379.91h.01M450.13 366.47h.01M467.81 392.57h.01M473.55 387.71h.01M459.97 379.94h.01M475.55 389.44h.01M479.8 395.25h.01M461.52 374.57h.01M459.48 393.11h.01M450.31 360.91h.01M475.88 398.63h.01M476.13 390.21h.01M449.37 375.92h.01M459.63 377.24h.01M454.54 367.18h.01M471.51 389.11h.01M466.1 375.89h.01M464.49 369.21h.01M471.74 391.94h.01M460.2 370.1h.01M458.78 374.68h.01M457.82 389.45h.01M479.38 394.37h.01M444.53 367.94h.01M457.28 376.85h.01M475.18 387.41h.01M450.07 364.87h.01M449.48 369.58h.01M476.39 398.02h.01M454.01 359.83h.01M458.2 365.72h.01M466.26 390.89h.01M459.01 389.89h.01M471.86 400.06h.01M463.23 380.37h.01M473.08 390.53h.01M459.5 380.24h.01M455.32 380.29h.01M454.2 372.91h.01M460.43 382.57h.01M455.41 371.3h.01M481.2 383.49h.01M476.58 387.8h.01M455.02 371.94h.01M457.32 358.32h.01M458.78 390.98h.01M471.88 386.51h.01M451.43 369.82h.01M466.91 392.29h.01M453.11 377.28h.01M477.18 388.62h.01M475.04 392.29h.01M445.54 365.26h.01M450.62 360.85h.01M462.66 387.39h.01M482.42 385.35h.01M450.99 365.48h.01M453.75 369.58h.01M471.4 390.13h.01M463.94 370.45h.01M456.35 365.43h.01M464.57 382.44h.01M455.14 366.61h.01M463.55 375.44h.01M466.26 392.54h.01M458.55 383.96h.01M471.06 388.4h.01M472.16 398.98h.01M467.8 379.99h.01M477.14 396.23h.01M445.13 365.43h.01M449.23 363.22h.01M468.02 386.66h.01M469.22 391.89h.01M454.21 367.5h.01M459.18 373h.01M469.76 384.48h.01M458.64 376.85h.01M476.62 393.48h.01M468.55 390.05h.01M469.94 384.27h.01M456.14 374.8h.01M460.33 385.72h.01M466.41 382.09h.01M447.89 371.62h.01M469.18 384.02h.01M457.11 367.05h.01M474.87 389.67h.01M469.33 381.02h.01M461.5 367.77h.01M456.41 359.78h.01M469.07 386.69h.01M471.76 385.83h.01M466.16 394.51h.01M453.44 363.7h.01M455.16 365.4h.01M473.79 388.97h.01M457.37 377.89h.01M467.41 387.13h.01M452.54 367.75h.01M471.71 395.06h.01M469.49 397.33h.01M455.47 360.85h.01M469.9 393.26h.01M461.5 381.17h.01M465.33 386.32h.01M455.44 364.76h.01M453.55 373.33h.01M461.67 384.9h.01M462.2 383.9h.01M463.24 377.68h.01M453.65 374.18h.01M472.07 385.63h.01M459.83 364.78h.01M474.14 396.73h.01M457.61 373.79h.01M466.35 376.02h.01M464.25 379.38h.01M460.45 379.72h.01M466.5 391.89h.01M469.85 387.89h.01M458.36 369.21h.01M468.81 381.75h.01M460.58 368.36h.01M454.45 367.73h.01M480.8 392.86h.01M471.48 393.96h.01M467.5 382.55h.01M451.52 373.61h.01M475.41 392.2h.01M461.53 381.15h.01M458.99 376.16h.01M473.56 391.35h.01M468.89 397.42h.01M474.16 388.81h.01M471.63 387.91h.01M472.54 390.18h.01M450.51 366.99h.01M460.83 371.84h.01M448.7 371.65h.01M473.52 387.06h.01M480.43 393.78h.01M453.03 366.71h.01M459.04 378.53h.01M458.38 368.28h.01M465.23 390.04h.01M446.17 369.79h.01M478.9 395.54h.01M461.12 385.16h.01M451.08 369.37h.01M440.99 365.73h.01M452.3 366.54h.01M452.12 368.84h.01M468.36 386.32h.01M459.34 381.01h.01M464.66 382.72h.01M454.01 364.42h.01M475.07 392.12h.01M453.91 376.62h.01M465.59 383.32h.01M459.87 384.75h.01M454.73 368.62h.01M448.31 367.95h.01M457.08 362.2h.01M460.88 371.08h.01M449.68 364.75h.01M453.99 381.64h.01M458.38 372.44h.01M467.92 374.66h.01M456.53 382.6h.01M453.18 371.7h.01M458.31 370.05h.01M461.86 390.03h.01M462.27 390.16h.01M463.31 379.19h.01M455.11 366.65h.01M465.81 389.49h.01M477.39 398.3h.01M445.63 363.36h.01M469.04 391.67h.01M455.76 387.37h.01M461.8 378.77h.01" stroke="#00BF7D" stroke-width="0.75" stroke-linecap="round" stroke-opacity="0.9"/>
<path d="M471.15 372.87h.01M478.47 367.65h.01M484.01 365.78h.01M473.54 381.8h.01M484.48 384.45h.01M479.04 374.89h.01M481.42 386.42h.01M474.11 372.36h.01M476.61 386.34h.01" stroke="#A3A500" stroke-width="0.75" stroke-linecap="round" stroke-opacity="0.9"/>
<path d="M423.39 342.62h.01M428.78 344.75h.01M434.57 353.27h.01M418.03 348.59h.01M437.4 355.86h.01M416.61 346.18h.01M426.92 355.34h.01M424.9 344.88h.01M434.89 342.55h.01M416.29 348.99h.01M412.99 347.37h.01M431.8 344.3h.01M432.11 353.72h.01M417.94 348.55h.01M429.35 346.59h.01M427.04 344.73h.01M424.65 345.19h.01M425.44 348.99h.01M413.83 345.29h.01M429.66 352.73h.01M428.06 348h.01M424.5 346.53h.01M430.96 354.8h.01M440.24 357.35h.01M418 347.89h.01M415.55 347.68h.01M431.02 338.77h.01M435.68 352.58h.01M411.6 350.86h.01M433.3 349.81h.01M424.33 348.98h.01M434.66 349.77h.01M434.44 353.95h.01M417.23 347.2h.01M413.14 351h.01M410.51 344.95h.01M439.5 355.39h.01M419.29 344.38h.01M419.56 349.96h.01M415.64 345.8h.01M436.84 357.07h.01M432.68 350.64h.01M429.57 343.02h.01M410.49 347.04h.01M429.7 348.78h.01M422.97 347.39h.01M432.44 356.19h.01M435.45 351.43h.01M439.93 352.01h.01M437.32 354.39h.01M411.67 345.04h.01M414.45 353.12h.01M432.37 348.31h.01M429.71 347.61h.01M425.46 351.53h.01M427.39 347.77h.01M411.47 345.48h.01M414.43 349.61h.01M439.01 353.58h.01M430.76 344.06h.01M410.99 347.51h.01M437.8 348.8h.01M439.19 358.98h.01M435.91 349.07h.01M413.87 346.73h.01M433.58 354.83h.01M422.84 344.5h.01M433.91 348.66h.01M421.38 345.68h.01M428.18 344.78h.01M430.63 348.54h.01M432.82 348.97h.01M416.8 349.26h.01M435.13 350.53h.01M430.53 345.25h.01M430.54 346.95h.01M408.37 344.75h.01M436.66 353.18h.01M437.31 358.18h.01M429.04 353.84h.01M431.61 350.27h.01M421.98 349h.01M409.35 345.16h.01M418.68 349.59h.01M417.41 347.2h.01M429.88 352.13h.01M433.43 348.47h.01M414.12 349.88h.01" stroke="#00B0F6" stroke-width="0.75" stroke-linecap="round" stroke-opacity="0.9"/>
<path d="M412.51 362.15h.01M413.53 364.44h.01M411.1 365.13h.01M414.86 358.45h.01M415.29 358.19h.01M414.04 361.16h.01M410.52 367.15h.01M410.86 366.93h.01M411.88 364.46h.01M412.68 362.3h.01M413.47 363.1h.01" stroke="#E76BF3" stroke-width="0.75" stroke-linecap="round" stroke-opacity="0.9"/>
<text x="466.00" y="348.10" font-size="7.5" text-anchor="middle" font-weight="normal" fill="#222" style="" stroke="#222" stroke-width="0.12">0</text>
<text x="485.50" y="378.00" font-size="7.5" text-anchor="middle" font-weight="normal" fill="#222" style="" stroke="#222" stroke-width="0.12">1</text>
<text x="461.00" y="378.00" font-size="7.5" text-anchor="middle" font-weight="normal" fill="#222" style="" stroke="#222" stroke-width="0.12">2</text>
<text x="431.40" y="358.90" font-size="7.5" text-anchor="middle" font-weight="normal" fill="#222" style="" stroke="#222" stroke-width="0.12">3</text>
<text x="413.00" y="367.20" font-size="7.5" text-anchor="middle" font-weight="normal" fill="#222" style="" stroke="#222" stroke-width="0.12">4</text>
<line x1="405.70" y1="325.30" x2="405.70" y2="401.80" stroke="#231f20" stroke-width="1.1"/>
<line x1="405.70" y1="401.80" x2="507.50" y2="401.80" stroke="#231f20" stroke-width="1.1"/>
<line x1="402.90" y1="328.90" x2="405.70" y2="328.90" stroke="#231f20" stroke-width="0.8"/>
<text x="398.90" y="331.70" font-size="7.8" text-anchor="end" font-weight="normal" fill="#231f20" style="" stroke="#231f20" stroke-width="0.12">5</text>
<line x1="402.90" y1="345.80" x2="405.70" y2="345.80" stroke="#231f20" stroke-width="0.8"/>
<text x="398.90" y="348.60" font-size="7.8" text-anchor="end" font-weight="normal" fill="#231f20" style="" stroke="#231f20" stroke-width="0.12">2.5</text>
<line x1="402.90" y1="362.50" x2="405.70" y2="362.50" stroke="#231f20" stroke-width="0.8"/>
<text x="398.90" y="365.30" font-size="7.8" text-anchor="end" font-weight="normal" fill="#231f20" style="" stroke="#231f20" stroke-width="0.12">0</text>
<line x1="402.90" y1="379.30" x2="405.70" y2="379.30" stroke="#231f20" stroke-width="0.8"/>
<text x="398.90" y="382.10" font-size="7.8" text-anchor="end" font-weight="normal" fill="#231f20" style="" stroke="#231f20" stroke-width="0.12">−2.5</text>
<line x1="402.90" y1="395.90" x2="405.70" y2="395.90" stroke="#231f20" stroke-width="0.8"/>
<text x="398.90" y="398.70" font-size="7.8" text-anchor="end" font-weight="normal" fill="#231f20" style="" stroke="#231f20" stroke-width="0.12">−5</text>
<line x1="410.20" y1="401.80" x2="410.20" y2="404.30" stroke="#231f20" stroke-width="0.8"/>
<text x="407.80" y="414.40" font-size="7.8" text-anchor="middle" font-weight="normal" fill="#231f20" style="" stroke="#231f20" stroke-width="0.12">−10</text>
<line x1="436.30" y1="401.80" x2="436.30" y2="404.30" stroke="#231f20" stroke-width="0.8"/>
<text x="433.90" y="414.40" font-size="7.8" text-anchor="middle" font-weight="normal" fill="#231f20" style="" stroke="#231f20" stroke-width="0.12">−4</text>
<line x1="462.80" y1="401.80" x2="462.80" y2="404.30" stroke="#231f20" stroke-width="0.8"/>
<text x="462.80" y="414.40" font-size="7.8" text-anchor="middle" font-weight="normal" fill="#231f20" style="" stroke="#231f20" stroke-width="0.12">0</text>
<line x1="489.40" y1="401.80" x2="489.40" y2="404.30" stroke="#231f20" stroke-width="0.8"/>
<text x="489.40" y="414.40" font-size="7.8" text-anchor="middle" font-weight="normal" fill="#231f20" style="" stroke="#231f20" stroke-width="0.12">4</text>
<text x="456.30" y="322.50" font-size="10.2" text-anchor="middle" font-weight="normal" fill="#000" style="" textLength="31.7" lengthAdjust="spacingAndGlyphs">Combo</text>
<text x="456.30" y="428.00" font-size="9.6" text-anchor="middle" font-weight="normal" fill="#231f20" style="" stroke="#231f20" stroke-width="0.12" textLength="29.4" lengthAdjust="spacingAndGlyphs">UMAP_1</text>
<text x="381.00" y="363.90" font-size="9.6" text-anchor="middle" font-weight="normal" fill="#231f20" style="" transform="rotate(-90 381.0 363.9)" stroke="#231f20" stroke-width="0.12" textLength="28.5" lengthAdjust="spacingAndGlyphs">UMAP_2</text>
<circle cx="503.50" cy="348.60" r="1.1" fill="#F8766D"/>
<text x="507.30" y="351.60" font-size="8.4" text-anchor="start" font-weight="normal" fill="#231f20" style="" stroke="#231f20" stroke-width="0.05" textLength="4.4" lengthAdjust="spacingAndGlyphs">0</text>
<circle cx="503.50" cy="355.85" r="1.1" fill="#A3A500"/>
<text x="507.30" y="358.85" font-size="8.4" text-anchor="start" font-weight="normal" fill="#231f20" style="" stroke="#231f20" stroke-width="0.05" textLength="4.4" lengthAdjust="spacingAndGlyphs">1</text>
<circle cx="503.50" cy="363.10" r="1.1" fill="#00BF7D"/>
<text x="507.30" y="366.10" font-size="8.4" text-anchor="start" font-weight="normal" fill="#231f20" style="" stroke="#231f20" stroke-width="0.05" textLength="4.4" lengthAdjust="spacingAndGlyphs">2</text>
<circle cx="503.50" cy="370.35" r="1.1" fill="#00B0F6"/>
<text x="507.30" y="373.35" font-size="8.4" text-anchor="start" font-weight="normal" fill="#231f20" style="" stroke="#231f20" stroke-width="0.05" textLength="4.4" lengthAdjust="spacingAndGlyphs">3</text>
<circle cx="503.50" cy="377.60" r="1.1" fill="#E76BF3"/>
<text x="507.30" y="380.60" font-size="8.4" text-anchor="start" font-weight="normal" fill="#231f20" style="" stroke="#231f20" stroke-width="0.05" textLength="4.4" lengthAdjust="spacingAndGlyphs">4</text>
<text x="8.70" y="452.50" font-size="12" text-anchor="start" font-weight="bold" fill="#000" style="">E</text>
<rect x="57.70" y="459.20" width="12.60" height="15.40" fill="#4472c4"/>
<rect x="57.70" y="474.60" width="12.60" height="36.20" fill="#ed7d31"/>
<rect x="57.70" y="510.80" width="12.60" height="4.80" fill="#a5a5a5"/>
<rect x="57.70" y="515.60" width="12.60" height="16.40" fill="#ffc000"/>
<rect x="85.30" y="459.20" width="12.60" height="23.50" fill="#4472c4"/>
<rect x="85.30" y="482.70" width="12.60" height="24.00" fill="#ed7d31"/>
<rect x="85.30" y="506.70" width="12.60" height="7.00" fill="#a5a5a5"/>
<rect x="85.30" y="513.70" width="12.60" height="18.30" fill="#ffc000"/>
<rect x="112.20" y="459.20" width="12.80" height="22.50" fill="#4472c4"/>
<rect x="112.20" y="481.70" width="12.80" height="21.20" fill="#ed7d31"/>
<rect x="112.20" y="502.90" width="12.80" height="19.80" fill="#a5a5a5"/>
<rect x="112.20" y="522.70" width="12.80" height="9.30" fill="#ffc000"/>
<rect x="139.90" y="459.20" width="12.50" height="30.20" fill="#4472c4"/>
<rect x="139.90" y="489.40" width="12.50" height="1.60" fill="#ed7d31"/>
<rect x="139.90" y="491.00" width="12.50" height="27.70" fill="#a5a5a5"/>
<rect x="139.90" y="518.70" width="12.50" height="9.30" fill="#ffc000"/>
<rect x="139.90" y="528.00" width="12.50" height="4.00" fill="#5b9bd5"/>
<line x1="54.20" y1="455.40" x2="54.20" y2="532.60" stroke="#231f20" stroke-width="1.1"/>
<line x1="53.70" y1="532.00" x2="154.40" y2="532.00" stroke="#231f20" stroke-width="1.1"/>
<line x1="51.70" y1="532.00" x2="54.20" y2="532.00" stroke="#231f20" stroke-width="0.8"/>
<text x="48.60" y="534.80" font-size="7.9" text-anchor="end" font-weight="normal" fill="#231f20" style="" stroke="#231f20" stroke-width="0.12">0%</text>
<line x1="51.70" y1="513.80" x2="54.20" y2="513.80" stroke="#231f20" stroke-width="0.8"/>
<text x="48.60" y="516.60" font-size="7.9" text-anchor="end" font-weight="normal" fill="#231f20" style="" stroke="#231f20" stroke-width="0.12">25%</text>
<line x1="51.70" y1="495.60" x2="54.20" y2="495.60" stroke="#231f20" stroke-width="0.8"/>
<text x="48.60" y="498.40" font-size="7.9" text-anchor="end" font-weight="normal" fill="#231f20" style="" stroke="#231f20" stroke-width="0.12">50%</text>
<line x1="51.70" y1="477.40" x2="54.20" y2="477.40" stroke="#231f20" stroke-width="0.8"/>
<text x="48.60" y="480.20" font-size="7.9" text-anchor="end" font-weight="normal" fill="#231f20" style="" stroke="#231f20" stroke-width="0.12">75%</text>
<line x1="51.70" y1="459.20" x2="54.20" y2="459.20" stroke="#231f20" stroke-width="0.8"/>
<text x="48.60" y="462.00" font-size="7.9" text-anchor="end" font-weight="normal" fill="#231f20" style="" stroke="#231f20" stroke-width="0.12">100%</text>
<text x="64.00" y="541.70" font-size="8.4" text-anchor="middle" font-weight="normal" fill="#231f20" style="" stroke="#231f20" stroke-width="0.12" textLength="25" lengthAdjust="spacingAndGlyphs">Control</text>
<text x="91.50" y="541.70" font-size="8.4" text-anchor="middle" font-weight="normal" fill="#231f20" style="" stroke="#231f20" stroke-width="0.12" textLength="23" lengthAdjust="spacingAndGlyphs">aCD47</text>
<text x="118.60" y="541.70" font-size="8.4" text-anchor="middle" font-weight="normal" fill="#231f20" style="" stroke="#231f20" stroke-width="0.12" textLength="13.5" lengthAdjust="spacingAndGlyphs">PTX</text>
<text x="146.20" y="541.70" font-size="8.4" text-anchor="middle" font-weight="normal" fill="#231f20" style="" stroke="#231f20" stroke-width="0.12" textLength="24.5" lengthAdjust="spacingAndGlyphs">Combo</text>
<rect x="157.70" y="481.60" width="4.30" height="4.20" fill="#4472c4"/>
<text x="164.40" y="486.30" font-size="7.6" text-anchor="start" font-weight="normal" fill="#231f20" style="" stroke="#231f20" stroke-width="0.12">0</text>
<rect x="157.70" y="488.70" width="4.30" height="4.20" fill="#ed7d31"/>
<text x="164.40" y="493.40" font-size="7.6" text-anchor="start" font-weight="normal" fill="#231f20" style="" stroke="#231f20" stroke-width="0.12">1</text>
<rect x="157.70" y="495.60" width="4.30" height="4.20" fill="#a5a5a5"/>
<text x="164.40" y="500.30" font-size="7.6" text-anchor="start" font-weight="normal" fill="#231f20" style="" stroke="#231f20" stroke-width="0.12">2</text>
<rect x="157.70" y="503.70" width="4.30" height="4.20" fill="#ffc000"/>
<text x="164.40" y="508.40" font-size="7.6" text-anchor="start" font-weight="normal" fill="#231f20" style="" stroke="#231f20" stroke-width="0.12">3</text>
<rect x="157.70" y="510.80" width="4.30" height="4.20" fill="#5b9bd5"/>
<text x="164.40" y="515.50" font-size="7.6" text-anchor="start" font-weight="normal" fill="#231f20" style="" stroke="#231f20" stroke-width="0.12">4</text>
<text x="177.50" y="498.00" font-size="7.6" text-anchor="middle" font-weight="normal" fill="#231f20" style="" transform="rotate(-90 177.5 498)" stroke="#231f20" stroke-width="0.12" textLength="23.5" lengthAdjust="spacingAndGlyphs">Cluster</text>
<text x="203.00" y="452.80" font-size="12" text-anchor="start" font-weight="bold" fill="#000" style="">F</text>
<text x="233.00" y="471.40" font-size="7.2" text-anchor="end" font-weight="normal" fill="#231f20" style="" stroke="#231f20" stroke-width="0.12">Cluster</text>
<rect x="236.50" y="474.30" width="78.30" height="2.70" fill="#F8766D"/>
<text x="275.60" y="471.30" font-size="7" text-anchor="middle" font-weight="normal" fill="#231f20" style="" stroke="#231f20" stroke-width="0.12">0</text>
<rect x="316.20" y="474.30" width="64.00" height="2.70" fill="#A3A500"/>
<text x="348.00" y="471.30" font-size="7" text-anchor="middle" font-weight="normal" fill="#231f20" style="" stroke="#231f20" stroke-width="0.12">1</text>
<rect x="381.30" y="474.30" width="55.20" height="2.70" fill="#00BF7D"/>
<text x="409.00" y="471.30" font-size="7" text-anchor="middle" font-weight="normal" fill="#231f20" style="" stroke="#231f20" stroke-width="0.12">2</text>
<rect x="437.50" y="474.30" width="41.50" height="2.70" fill="#00B0F6"/>
<text x="458.00" y="471.30" font-size="7" text-anchor="middle" font-weight="normal" fill="#231f20" style="" stroke="#231f20" stroke-width="0.12">3</text>
<rect x="480.20" y="474.30" width="4.80" height="2.70" fill="#E76BF3"/>
<text x="482.30" y="471.30" font-size="7" text-anchor="middle" font-weight="normal" fill="#231f20" style="" stroke="#231f20" stroke-width="0.12">4</text>
<rect x="236.00" y="480.60" width="249.00" height="138.40" fill="#3a5a98"/>
<path d="M236.5 480.6v6.97M241.5 480.6v6.97M244.5 480.6v6.97M247.5 480.6v6.97M248.5 480.6v6.97M249.5 480.6v6.97M251.5 480.6v6.97M254.5 480.6v6.97M255.5 480.6v6.97M256.5 480.6v6.97M257.5 480.6v6.97M262.5 480.6v6.97M263.5 480.6v6.97M264.5 480.6v6.97M268.5 480.6v6.97M269.5 480.6v6.97M272.5 480.6v6.97M274.5 480.6v6.97M276.5 480.6v6.97M277.5 480.6v6.97M278.5 480.6v6.97M279.5 480.6v6.97M280.5 480.6v6.97M281.5 480.6v6.97M285.5 480.6v6.97M286.5 480.6v6.97M291.5 480.6v6.97M296.5 480.6v6.97M297.5 480.6v6.97M298.5 480.6v6.97M303.5 480.6v6.97M304.5 480.6v6.97M305.5 480.6v6.97M306.5 480.6v6.97M307.5 480.6v6.97M309.5 480.6v6.97M312.5 480.6v6.97M313.5 480.6v6.97M314.5 480.6v6.97M315.5 480.6v6.97M367.5 480.6v6.97M381.5 487.52v6.97M389.5 487.52v6.97M396.5 487.52v6.97M398.5 487.52v6.97M407.5 487.52v6.97M410.5 487.52v6.97M424.5 487.52v6.97M425.5 487.52v6.97M469.5 487.52v6.97M470.5 487.52v6.97M484.5 487.52v6.97M439.5 501.36v6.97M327.5 522.12v6.97M333.5 522.12v6.97M373.5 522.12v6.97M377.5 522.12v6.97M379.5 522.12v6.97M413.5 522.12v6.97M273.5 542.88v6.97M274.5 542.88v6.97M283.5 542.88v6.97M251.5 570.56v6.97M262.5 570.56v6.97M273.5 570.56v6.97M308.5 570.56v6.97M294.5 577.48v6.97M448.5 591.32v6.97M455.5 591.32v6.97M470.5 591.32v6.97M479.5 591.32v6.97M351.5 612.08v6.97" stroke="#2962ab" stroke-width="1.00" shape-rendering="crispEdges"/>
<path d="M237.5 480.6v6.97M238.5 480.6v6.97M240.5 480.6v6.97M242.5 480.6v6.97M243.5 480.6v6.97M245.5 480.6v6.97M246.5 480.6v6.97M250.5 480.6v6.97M252.5 480.6v6.97M253.5 480.6v6.97M266.5 480.6v6.97M267.5 480.6v6.97M273.5 480.6v6.97M275.5 480.6v6.97M284.5 480.6v6.97M287.5 480.6v6.97M292.5 480.6v6.97M294.5 480.6v6.97M295.5 480.6v6.97M302.5 480.6v6.97M310.5 480.6v6.97M311.5 480.6v6.97M241.5 487.52v6.97M274.5 487.52v6.97M447.5 501.36v6.97M478.5 501.36v6.97M239.5 542.88v6.97M259.5 542.88v6.97M303.5 542.88v6.97M307.5 542.88v6.97M248.5 570.56v6.97M269.5 570.56v6.97M270.5 570.56v6.97M283.5 570.56v6.97M461.5 577.48v6.97M322.5 591.32v6.97M444.5 591.32v6.97M454.5 591.32v6.97M356.5 612.08v6.97" stroke="#265ea8" stroke-width="1.00" shape-rendering="crispEdges"/>
<path d="M239.5 480.6v6.97M283.5 480.6v6.97M293.5 480.6v6.97M438.5 501.36v6.97M440.5 501.36v6.97M443.5 501.36v6.97M455.5 501.36v6.97M471.5 501.36v6.97M472.5 501.36v6.97M388.5 508.28v6.97M407.5 508.28v6.97M324.5 522.12v6.97M353.5 522.12v6.97M243.5 542.88v6.97M244.5 542.88v6.97M300.5 542.88v6.97M421.5 542.88v6.97M424.5 542.88v6.97M443.5 542.88v6.97M453.5 542.88v6.97M268.5 577.48v6.97M281.5 577.48v6.97M301.5 577.48v6.97M307.5 577.48v6.97M314.5 577.48v6.97M389.5 577.48v6.97M392.5 577.48v6.97M395.5 577.48v6.97M400.5 577.48v6.97M403.5 577.48v6.97M408.5 577.48v6.97M410.5 577.48v6.97M411.5 577.48v6.97M425.5 577.48v6.97M426.5 577.48v6.97M429.5 577.48v6.97M439.5 577.48v6.97M445.5 577.48v6.97M446.5 577.48v6.97M452.5 577.48v6.97M453.5 577.48v6.97M454.5 577.48v6.97M477.5 577.48v6.97M480.5 577.48v6.97M481.5 577.48v6.97M236.5 584.4v6.97M246.5 584.4v6.97M251.5 584.4v6.97M253.5 584.4v6.97M268.5 584.4v6.97M280.5 584.4v6.97M281.5 584.4v6.97M282.5 584.4v6.97M283.5 584.4v6.97M288.5 584.4v6.97M294.5 584.4v6.97M303.5 584.4v6.97M304.5 584.4v6.97M305.5 584.4v6.97M309.5 584.4v6.97M311.5 584.4v6.97M312.5 584.4v6.97M315.5 584.4v6.97M437.5 584.4v6.97M449.5 584.4v6.97M458.5 584.4v6.97M466.5 584.4v6.97M472.5 584.4v6.97M473.5 584.4v6.97M476.5 584.4v6.97M477.5 584.4v6.97M478.5 584.4v6.97M409.5 591.32v6.97M410.5 591.32v6.97M437.5 591.32v6.97M440.5 591.32v6.97M442.5 591.32v6.97M449.5 591.32v6.97M452.5 591.32v6.97M453.5 591.32v6.97M456.5 591.32v6.97M458.5 591.32v6.97M460.5 591.32v6.97M469.5 591.32v6.97M474.5 591.32v6.97M481.5 591.32v6.97" stroke="#285ba3" stroke-width="1.00" shape-rendering="crispEdges"/>
<path d="M258.5 480.6v6.97M289.5 480.6v6.97M323.5 480.6v6.97M388.5 487.52v6.97M418.5 487.52v6.97M447.5 487.52v6.97M461.5 487.52v6.97M464.5 487.52v6.97M465.5 487.52v6.97M472.5 487.52v6.97M474.5 487.52v6.97M475.5 487.52v6.97M329.5 501.36v6.97M371.5 501.36v6.97M444.5 501.36v6.97M381.5 508.28v6.97M396.5 508.28v6.97M325.5 522.12v6.97M328.5 522.12v6.97M331.5 522.12v6.97M337.5 522.12v6.97M345.5 522.12v6.97M348.5 522.12v6.97M352.5 522.12v6.97M364.5 522.12v6.97M369.5 522.12v6.97M371.5 522.12v6.97M245.5 542.88v6.97M376.5 542.88v6.97M482.5 542.88v6.97M309.5 570.56v6.97M248.5 577.48v6.97M241.5 584.4v6.97M297.5 584.4v6.97M317.5 584.4v6.97M332.5 584.4v6.97M380.5 584.4v6.97M465.5 591.32v6.97M350.5 612.08v6.97" stroke="#336eb2" stroke-width="1.00" shape-rendering="crispEdges"/>
<path d="M259.5 480.6v6.97M261.5 480.6v6.97M299.5 480.6v6.97M443.5 480.6v6.97M446.5 480.6v6.97M456.5 480.6v6.97M468.5 480.6v6.97M469.5 480.6v6.97M470.5 480.6v6.97M471.5 480.6v6.97M472.5 480.6v6.97M473.5 480.6v6.97M382.5 487.52v6.97M401.5 487.52v6.97M402.5 487.52v6.97M421.5 487.52v6.97M422.5 487.52v6.97M427.5 487.52v6.97M428.5 487.52v6.97M429.5 487.52v6.97M430.5 487.52v6.97M435.5 487.52v6.97M437.5 487.52v6.97M439.5 487.52v6.97M442.5 487.52v6.97M443.5 487.52v6.97M446.5 487.52v6.97M448.5 487.52v6.97M449.5 487.52v6.97M452.5 487.52v6.97M453.5 487.52v6.97M456.5 487.52v6.97M460.5 487.52v6.97M462.5 487.52v6.97M463.5 487.52v6.97M466.5 487.52v6.97M471.5 487.52v6.97M473.5 487.52v6.97M476.5 487.52v6.97M479.5 487.52v6.97M317.5 522.12v6.97M318.5 522.12v6.97M319.5 522.12v6.97M320.5 522.12v6.97M326.5 522.12v6.97M346.5 522.12v6.97M355.5 522.12v6.97M366.5 522.12v6.97M368.5 522.12v6.97M370.5 522.12v6.97M374.5 522.12v6.97M257.5 542.88v6.97M252.5 570.56v6.97M257.5 577.48v6.97M374.5 591.32v6.97M324.5 612.08v6.97" stroke="#2f6ab1" stroke-width="1.00" shape-rendering="crispEdges"/>
<path d="M260.5 480.6v6.97M271.5 480.6v6.97M370.5 480.6v6.97M344.5 487.52v6.97M385.5 487.52v6.97M438.5 487.52v6.97M328.5 501.36v6.97M368.5 501.36v6.97M378.5 508.28v6.97M471.5 508.28v6.97M238.5 522.12v6.97M252.5 522.12v6.97M275.5 522.12v6.97M288.5 522.12v6.97M321.5 522.12v6.97M330.5 522.12v6.97M367.5 522.12v6.97M397.5 522.12v6.97M451.5 522.12v6.97M453.5 522.12v6.97M455.5 522.12v6.97M467.5 522.12v6.97M472.5 522.12v6.97M275.5 542.88v6.97M313.5 542.88v6.97M358.5 542.88v6.97M236.5 577.48v6.97M269.5 577.48v6.97M274.5 577.48v6.97M290.5 577.48v6.97M304.5 577.48v6.97M306.5 577.48v6.97M311.5 577.48v6.97M472.5 591.32v6.97M484.5 591.32v6.97M317.5 612.08v6.97M321.5 612.08v6.97M326.5 612.08v6.97M329.5 612.08v6.97M335.5 612.08v6.97M340.5 612.08v6.97M343.5 612.08v6.97M345.5 612.08v6.97M352.5 612.08v6.97M353.5 612.08v6.97M358.5 612.08v6.97M359.5 612.08v6.97M365.5 612.08v6.97M367.5 612.08v6.97M369.5 612.08v6.97M380.5 612.08v6.97M468.5 612.08v6.97" stroke="#3675b8" stroke-width="1.00" shape-rendering="crispEdges"/>
<path d="M265.5 480.6v6.97M290.5 480.6v6.97M308.5 480.6v6.97M438.5 480.6v6.97M439.5 480.6v6.97M440.5 480.6v6.97M441.5 480.6v6.97M442.5 480.6v6.97M444.5 480.6v6.97M445.5 480.6v6.97M447.5 480.6v6.97M448.5 480.6v6.97M449.5 480.6v6.97M450.5 480.6v6.97M451.5 480.6v6.97M452.5 480.6v6.97M453.5 480.6v6.97M454.5 480.6v6.97M455.5 480.6v6.97M457.5 480.6v6.97M458.5 480.6v6.97M459.5 480.6v6.97M460.5 480.6v6.97M461.5 480.6v6.97M462.5 480.6v6.97M463.5 480.6v6.97M464.5 480.6v6.97M465.5 480.6v6.97M466.5 480.6v6.97M467.5 480.6v6.97M474.5 480.6v6.97M475.5 480.6v6.97M476.5 480.6v6.97M478.5 480.6v6.97M479.5 480.6v6.97M383.5 487.52v6.97M384.5 487.52v6.97M390.5 487.52v6.97M391.5 487.52v6.97M392.5 487.52v6.97M393.5 487.52v6.97M394.5 487.52v6.97M395.5 487.52v6.97M397.5 487.52v6.97M399.5 487.52v6.97M400.5 487.52v6.97M403.5 487.52v6.97M404.5 487.52v6.97M405.5 487.52v6.97M406.5 487.52v6.97M408.5 487.52v6.97M409.5 487.52v6.97M411.5 487.52v6.97M412.5 487.52v6.97M413.5 487.52v6.97M414.5 487.52v6.97M415.5 487.52v6.97M416.5 487.52v6.97M417.5 487.52v6.97M423.5 487.52v6.97M426.5 487.52v6.97M431.5 487.52v6.97M432.5 487.52v6.97M433.5 487.52v6.97M434.5 487.52v6.97M440.5 487.52v6.97M441.5 487.52v6.97M444.5 487.52v6.97M445.5 487.52v6.97M450.5 487.52v6.97M451.5 487.52v6.97M454.5 487.52v6.97M455.5 487.52v6.97M457.5 487.52v6.97M458.5 487.52v6.97M459.5 487.52v6.97M467.5 487.52v6.97M468.5 487.52v6.97M477.5 487.52v6.97M478.5 487.52v6.97M483.5 487.52v6.97M464.5 501.36v6.97M479.5 501.36v6.97M316.5 522.12v6.97M332.5 522.12v6.97M334.5 522.12v6.97M335.5 522.12v6.97M338.5 522.12v6.97M349.5 522.12v6.97M354.5 522.12v6.97M365.5 522.12v6.97M372.5 522.12v6.97M375.5 522.12v6.97M376.5 522.12v6.97M380.5 522.12v6.97M248.5 542.88v6.97M290.5 542.88v6.97M310.5 542.88v6.97M326.5 563.64v6.97M271.5 570.56v6.97M288.5 570.56v6.97M302.5 577.48v6.97M308.5 577.48v6.97M309.5 577.48v6.97M418.5 577.48v6.97M273.5 584.4v6.97M357.5 612.08v6.97M368.5 612.08v6.97" stroke="#2c66ae" stroke-width="1.00" shape-rendering="crispEdges"/>
<path d="M270.5 480.6v6.97M391.5 480.6v6.97M393.5 480.6v6.97M394.5 480.6v6.97M395.5 480.6v6.97M396.5 480.6v6.97M398.5 480.6v6.97M399.5 480.6v6.97M400.5 480.6v6.97M402.5 480.6v6.97M405.5 480.6v6.97M413.5 480.6v6.97M417.5 480.6v6.97M422.5 480.6v6.97M427.5 480.6v6.97M428.5 480.6v6.97M480.5 480.6v6.97M482.5 480.6v6.97M483.5 480.6v6.97M482.5 487.52v6.97M336.5 522.12v6.97M347.5 522.12v6.97M466.5 535.96v6.97M263.5 542.88v6.97M326.5 542.88v6.97M381.5 542.88v6.97M382.5 542.88v6.97M383.5 542.88v6.97M385.5 542.88v6.97M387.5 542.88v6.97M388.5 542.88v6.97M391.5 542.88v6.97M393.5 542.88v6.97M394.5 542.88v6.97M395.5 542.88v6.97M398.5 542.88v6.97M402.5 542.88v6.97M403.5 542.88v6.97M409.5 542.88v6.97M413.5 542.88v6.97M417.5 542.88v6.97M418.5 542.88v6.97M419.5 542.88v6.97M420.5 542.88v6.97M422.5 542.88v6.97M423.5 542.88v6.97M425.5 542.88v6.97M431.5 542.88v6.97M435.5 542.88v6.97M438.5 542.88v6.97M441.5 542.88v6.97M452.5 542.88v6.97M462.5 542.88v6.97M466.5 542.88v6.97M468.5 542.88v6.97M470.5 542.88v6.97M475.5 542.88v6.97M476.5 542.88v6.97M480.5 542.88v6.97M483.5 542.88v6.97M292.5 577.48v6.97M310.5 577.48v6.97M391.5 577.48v6.97M396.5 577.48v6.97M404.5 577.48v6.97M407.5 577.48v6.97M416.5 577.48v6.97M417.5 577.48v6.97M420.5 577.48v6.97M423.5 577.48v6.97M431.5 577.48v6.97M433.5 577.48v6.97M434.5 577.48v6.97M435.5 577.48v6.97M482.5 577.48v6.97M484.5 577.48v6.97M237.5 584.4v6.97M244.5 584.4v6.97M260.5 584.4v6.97M261.5 584.4v6.97M264.5 584.4v6.97M272.5 584.4v6.97M274.5 584.4v6.97M285.5 584.4v6.97M286.5 584.4v6.97M298.5 584.4v6.97M314.5 584.4v6.97M393.5 584.4v6.97M397.5 584.4v6.97M408.5 584.4v6.97M409.5 584.4v6.97M413.5 584.4v6.97M426.5 584.4v6.97M462.5 584.4v6.97M384.5 591.32v6.97M388.5 591.32v6.97M389.5 591.32v6.97M390.5 591.32v6.97M395.5 591.32v6.97M396.5 591.32v6.97M397.5 591.32v6.97M400.5 591.32v6.97M401.5 591.32v6.97M405.5 591.32v6.97M406.5 591.32v6.97M411.5 591.32v6.97M412.5 591.32v6.97M413.5 591.32v6.97M416.5 591.32v6.97M419.5 591.32v6.97M420.5 591.32v6.97M424.5 591.32v6.97M425.5 591.32v6.97M426.5 591.32v6.97M427.5 591.32v6.97M428.5 591.32v6.97M429.5 591.32v6.97M433.5 591.32v6.97M434.5 591.32v6.97M435.5 591.32v6.97M471.5 591.32v6.97" stroke="#2c60a9" stroke-width="1.00" shape-rendering="crispEdges"/>
<path d="M282.5 480.6v6.97M266.5 501.36v6.97M376.5 501.36v6.97M442.5 501.36v6.97M445.5 501.36v6.97M448.5 501.36v6.97M450.5 501.36v6.97M451.5 501.36v6.97M452.5 501.36v6.97M454.5 501.36v6.97M463.5 501.36v6.97M465.5 501.36v6.97M470.5 501.36v6.97M392.5 508.28v6.97M378.5 522.12v6.97M465.5 535.96v6.97M241.5 542.88v6.97M271.5 542.88v6.97M276.5 542.88v6.97M247.5 577.48v6.97M293.5 577.48v6.97M295.5 577.48v6.97M303.5 577.48v6.97M312.5 577.48v6.97M398.5 577.48v6.97M399.5 577.48v6.97M414.5 577.48v6.97M428.5 577.48v6.97M438.5 577.48v6.97M440.5 577.48v6.97M441.5 577.48v6.97M444.5 577.48v6.97M447.5 577.48v6.97M448.5 577.48v6.97M450.5 577.48v6.97M451.5 577.48v6.97M455.5 577.48v6.97M456.5 577.48v6.97M457.5 577.48v6.97M458.5 577.48v6.97M460.5 577.48v6.97M462.5 577.48v6.97M463.5 577.48v6.97M466.5 577.48v6.97M468.5 577.48v6.97M469.5 577.48v6.97M470.5 577.48v6.97M471.5 577.48v6.97M472.5 577.48v6.97M473.5 577.48v6.97M476.5 577.48v6.97M478.5 577.48v6.97M247.5 584.4v6.97M250.5 584.4v6.97M252.5 584.4v6.97M258.5 584.4v6.97M259.5 584.4v6.97M271.5 584.4v6.97M276.5 584.4v6.97M289.5 584.4v6.97M295.5 584.4v6.97M447.5 584.4v6.97M450.5 584.4v6.97M452.5 584.4v6.97M453.5 584.4v6.97M459.5 584.4v6.97M460.5 584.4v6.97M464.5 584.4v6.97M465.5 584.4v6.97M470.5 584.4v6.97M471.5 584.4v6.97M481.5 584.4v6.97M483.5 584.4v6.97M438.5 591.32v6.97M439.5 591.32v6.97M450.5 591.32v6.97M451.5 591.32v6.97M457.5 591.32v6.97M459.5 591.32v6.97M463.5 591.32v6.97M466.5 591.32v6.97M480.5 591.32v6.97" stroke="#2658a0" stroke-width="1.00" shape-rendering="crispEdges"/>
<path d="M288.5 480.6v6.97M392.5 480.6v6.97M390.5 508.28v6.97M384.5 542.88v6.97M399.5 542.88v6.97M401.5 542.88v6.97M410.5 542.88v6.97M411.5 542.88v6.97M412.5 542.88v6.97M426.5 542.88v6.97M427.5 542.88v6.97M442.5 542.88v6.97M454.5 542.88v6.97M459.5 542.88v6.97M463.5 542.88v6.97M465.5 542.88v6.97M469.5 542.88v6.97M477.5 542.88v6.97M478.5 542.88v6.97M484.5 542.88v6.97M382.5 577.48v6.97M383.5 577.48v6.97M384.5 577.48v6.97M385.5 577.48v6.97M386.5 577.48v6.97M387.5 577.48v6.97M390.5 577.48v6.97M393.5 577.48v6.97M394.5 577.48v6.97M397.5 577.48v6.97M405.5 577.48v6.97M406.5 577.48v6.97M409.5 577.48v6.97M412.5 577.48v6.97M413.5 577.48v6.97M415.5 577.48v6.97M421.5 577.48v6.97M424.5 577.48v6.97M430.5 577.48v6.97M432.5 577.48v6.97M436.5 577.48v6.97M483.5 577.48v6.97M238.5 584.4v6.97M239.5 584.4v6.97M242.5 584.4v6.97M243.5 584.4v6.97M249.5 584.4v6.97M254.5 584.4v6.97M256.5 584.4v6.97M262.5 584.4v6.97M263.5 584.4v6.97M265.5 584.4v6.97M266.5 584.4v6.97M267.5 584.4v6.97M269.5 584.4v6.97M270.5 584.4v6.97M275.5 584.4v6.97M284.5 584.4v6.97M287.5 584.4v6.97M290.5 584.4v6.97M292.5 584.4v6.97M293.5 584.4v6.97M296.5 584.4v6.97M300.5 584.4v6.97M306.5 584.4v6.97M308.5 584.4v6.97M313.5 584.4v6.97M439.5 584.4v6.97M382.5 591.32v6.97M383.5 591.32v6.97M386.5 591.32v6.97M387.5 591.32v6.97M408.5 591.32v6.97M436.5 591.32v6.97M443.5 591.32v6.97M461.5 591.32v6.97M464.5 591.32v6.97M473.5 591.32v6.97M475.5 591.32v6.97M476.5 591.32v6.97M477.5 591.32v6.97M478.5 591.32v6.97M483.5 591.32v6.97" stroke="#2a5ea5" stroke-width="1.00" shape-rendering="crispEdges"/>
<path d="M300.5 480.6v6.97M329.5 480.6v6.97M345.5 487.52v6.97M349.5 487.52v6.97M355.5 487.52v6.97M387.5 487.52v6.97M419.5 487.52v6.97M436.5 487.52v6.97M481.5 487.52v6.97M447.5 508.28v6.97M283.5 522.12v6.97M340.5 522.12v6.97M342.5 522.12v6.97M359.5 522.12v6.97M363.5 522.12v6.97M452.5 522.12v6.97M267.5 542.88v6.97M270.5 542.88v6.97M284.5 542.88v6.97M311.5 542.88v6.97M323.5 542.88v6.97M414.5 542.88v6.97M359.5 549.8v6.97M330.5 563.64v6.97M341.5 563.64v6.97M360.5 563.64v6.97M242.5 577.48v6.97M255.5 577.48v6.97M305.5 577.48v6.97M381.5 577.48v6.97M278.5 584.4v6.97M334.5 584.4v6.97M380.5 591.32v6.97M318.5 612.08v6.97M344.5 612.08v6.97" stroke="#4680bf" stroke-width="1.00" shape-rendering="crispEdges"/>
<path d="M301.5 480.6v6.97M381.5 480.6v6.97M382.5 480.6v6.97M383.5 480.6v6.97M384.5 480.6v6.97M385.5 480.6v6.97M386.5 480.6v6.97M388.5 480.6v6.97M389.5 480.6v6.97M390.5 480.6v6.97M397.5 480.6v6.97M401.5 480.6v6.97M404.5 480.6v6.97M406.5 480.6v6.97M407.5 480.6v6.97M408.5 480.6v6.97M409.5 480.6v6.97M410.5 480.6v6.97M411.5 480.6v6.97M412.5 480.6v6.97M414.5 480.6v6.97M415.5 480.6v6.97M416.5 480.6v6.97M418.5 480.6v6.97M419.5 480.6v6.97M420.5 480.6v6.97M421.5 480.6v6.97M423.5 480.6v6.97M424.5 480.6v6.97M425.5 480.6v6.97M426.5 480.6v6.97M429.5 480.6v6.97M430.5 480.6v6.97M431.5 480.6v6.97M432.5 480.6v6.97M433.5 480.6v6.97M434.5 480.6v6.97M435.5 480.6v6.97M436.5 480.6v6.97M437.5 480.6v6.97M477.5 480.6v6.97M484.5 480.6v6.97M473.5 501.36v6.97M391.5 508.28v6.97M339.5 522.12v6.97M386.5 542.88v6.97M389.5 542.88v6.97M390.5 542.88v6.97M392.5 542.88v6.97M400.5 542.88v6.97M404.5 542.88v6.97M405.5 542.88v6.97M406.5 542.88v6.97M407.5 542.88v6.97M408.5 542.88v6.97M428.5 542.88v6.97M429.5 542.88v6.97M430.5 542.88v6.97M432.5 542.88v6.97M433.5 542.88v6.97M434.5 542.88v6.97M436.5 542.88v6.97M437.5 542.88v6.97M439.5 542.88v6.97M444.5 542.88v6.97M445.5 542.88v6.97M446.5 542.88v6.97M448.5 542.88v6.97M449.5 542.88v6.97M450.5 542.88v6.97M451.5 542.88v6.97M455.5 542.88v6.97M456.5 542.88v6.97M457.5 542.88v6.97M458.5 542.88v6.97M460.5 542.88v6.97M464.5 542.88v6.97M467.5 542.88v6.97M471.5 542.88v6.97M474.5 542.88v6.97M481.5 542.88v6.97M256.5 577.48v6.97M388.5 577.48v6.97M240.5 584.4v6.97M245.5 584.4v6.97M255.5 584.4v6.97M279.5 584.4v6.97M299.5 584.4v6.97M381.5 591.32v6.97M385.5 591.32v6.97M391.5 591.32v6.97M394.5 591.32v6.97M398.5 591.32v6.97M399.5 591.32v6.97M402.5 591.32v6.97M404.5 591.32v6.97M407.5 591.32v6.97M414.5 591.32v6.97M415.5 591.32v6.97M417.5 591.32v6.97M418.5 591.32v6.97M423.5 591.32v6.97M430.5 591.32v6.97M431.5 591.32v6.97M432.5 591.32v6.97M447.5 591.32v6.97" stroke="#2e63ab" stroke-width="1.00" shape-rendering="crispEdges"/>
<path d="M316.5 480.6v6.97M324.5 480.6v6.97M350.5 480.6v6.97M352.5 480.6v6.97M356.5 480.6v6.97M363.5 480.6v6.97M320.5 487.52v6.97M411.5 501.36v6.97M324.5 508.28v6.97M241.5 515.2v6.97M243.5 515.2v6.97M249.5 515.2v6.97M256.5 515.2v6.97M271.5 515.2v6.97M279.5 515.2v6.97M285.5 515.2v6.97M294.5 515.2v6.97M296.5 515.2v6.97M298.5 515.2v6.97M300.5 515.2v6.97M302.5 515.2v6.97M309.5 515.2v6.97M460.5 515.2v6.97M320.5 529.04v6.97M322.5 529.04v6.97M281.5 535.96v6.97M361.5 549.8v6.97M334.5 556.72v6.97M263.5 563.64v6.97M367.5 563.64v6.97M369.5 570.56v6.97M330.5 577.48v6.97M340.5 577.48v6.97M348.5 577.48v6.97M354.5 577.48v6.97M359.5 577.48v6.97M367.5 577.48v6.97M371.5 577.48v6.97M329.5 584.4v6.97M337.5 584.4v6.97M349.5 584.4v6.97M369.5 584.4v6.97M367.5 591.32v6.97M304.5 598.24v6.97M335.5 598.24v6.97M346.5 598.24v6.97M340.5 605.16v6.97M341.5 605.16v6.97M360.5 605.16v6.97M363.5 605.16v6.97M370.5 605.16v6.97" stroke="#647caf" stroke-width="1.00" shape-rendering="crispEdges"/>
<path d="M317.5 480.6v6.97M332.5 480.6v6.97M341.5 480.6v6.97M360.5 480.6v6.97M453.5 501.36v6.97M460.5 501.36v6.97M466.5 501.36v6.97M467.5 501.36v6.97M469.5 501.36v6.97M475.5 501.36v6.97M476.5 501.36v6.97M474.5 508.28v6.97M237.5 542.88v6.97M238.5 542.88v6.97M240.5 542.88v6.97M246.5 542.88v6.97M247.5 542.88v6.97M249.5 542.88v6.97M250.5 542.88v6.97M278.5 542.88v6.97M279.5 542.88v6.97M280.5 542.88v6.97M289.5 542.88v6.97M292.5 542.88v6.97M295.5 542.88v6.97M301.5 542.88v6.97M304.5 542.88v6.97M308.5 542.88v6.97M315.5 542.88v6.97M338.5 563.64v6.97M237.5 570.56v6.97M238.5 570.56v6.97M239.5 570.56v6.97M240.5 570.56v6.97M244.5 570.56v6.97M246.5 570.56v6.97M254.5 570.56v6.97M255.5 570.56v6.97M256.5 570.56v6.97M261.5 570.56v6.97M264.5 570.56v6.97M265.5 570.56v6.97M266.5 570.56v6.97M267.5 570.56v6.97M268.5 570.56v6.97M275.5 570.56v6.97M276.5 570.56v6.97M277.5 570.56v6.97M279.5 570.56v6.97M282.5 570.56v6.97M284.5 570.56v6.97M285.5 570.56v6.97M286.5 570.56v6.97M289.5 570.56v6.97M292.5 570.56v6.97M294.5 570.56v6.97M297.5 570.56v6.97M299.5 570.56v6.97M301.5 570.56v6.97M304.5 570.56v6.97M305.5 570.56v6.97M307.5 570.56v6.97M312.5 570.56v6.97M313.5 570.56v6.97M314.5 570.56v6.97M315.5 570.56v6.97M246.5 577.48v6.97M280.5 577.48v6.97M479.5 577.48v6.97" stroke="#1e539b" stroke-width="1.00" shape-rendering="crispEdges"/>
<path d="M318.5 480.6v6.97M321.5 487.52v6.97M366.5 487.52v6.97M459.5 494.44v6.97M472.5 494.44v6.97M238.5 515.2v6.97M245.5 515.2v6.97M246.5 515.2v6.97M251.5 515.2v6.97M252.5 515.2v6.97M259.5 515.2v6.97M260.5 515.2v6.97M261.5 515.2v6.97M266.5 515.2v6.97M275.5 515.2v6.97M276.5 515.2v6.97M277.5 515.2v6.97M289.5 515.2v6.97M290.5 515.2v6.97M291.5 515.2v6.97M303.5 515.2v6.97M305.5 515.2v6.97M306.5 515.2v6.97M312.5 515.2v6.97M313.5 515.2v6.97M315.5 515.2v6.97M317.5 515.2v6.97M325.5 529.04v6.97M357.5 529.04v6.97M239.5 535.96v6.97M243.5 535.96v6.97M261.5 535.96v6.97M274.5 535.96v6.97M289.5 535.96v6.97M371.5 535.96v6.97M426.5 549.8v6.97M343.5 556.72v6.97M374.5 556.72v6.97M259.5 563.64v6.97M353.5 570.56v6.97M368.5 577.48v6.97M370.5 577.48v6.97M369.5 598.24v6.97M385.5 598.24v6.97M317.5 605.16v6.97M355.5 605.16v6.97" stroke="#4e6aa0" stroke-width="1.00" shape-rendering="crispEdges"/>
<path d="M319.5 480.6v6.97M331.5 480.6v6.97M337.5 480.6v6.97M325.5 487.52v6.97M329.5 487.52v6.97M364.5 487.52v6.97M376.5 494.44v6.97M325.5 508.28v6.97M323.5 535.96v6.97M321.5 563.64v6.97M339.5 570.56v6.97M350.5 570.56v6.97M369.5 577.48v6.97M340.5 584.4v6.97M363.5 584.4v6.97M368.5 591.32v6.97M368.5 598.24v6.97" stroke="#37306e" stroke-width="1.00" shape-rendering="crispEdges"/>
<path d="M320.5 480.6v6.97M387.5 480.6v6.97M403.5 480.6v6.97M481.5 480.6v6.97M373.5 501.36v6.97M395.5 508.28v6.97M421.5 508.28v6.97M427.5 508.28v6.97M457.5 508.28v6.97M458.5 508.28v6.97M464.5 508.28v6.97M465.5 508.28v6.97M470.5 508.28v6.97M323.5 522.12v6.97M350.5 522.12v6.97M253.5 542.88v6.97M416.5 542.88v6.97M447.5 542.88v6.97M461.5 542.88v6.97M472.5 542.88v6.97M479.5 542.88v6.97M263.5 577.48v6.97M419.5 577.48v6.97M422.5 577.48v6.97M277.5 584.4v6.97M307.5 584.4v6.97M401.5 584.4v6.97M414.5 584.4v6.97M415.5 584.4v6.97M438.5 584.4v6.97M461.5 584.4v6.97M480.5 584.4v6.97M392.5 591.32v6.97M421.5 591.32v6.97M441.5 591.32v6.97M445.5 591.32v6.97M480.5 612.08v6.97" stroke="#3368ad" stroke-width="1.00" shape-rendering="crispEdges"/>
<path d="M321.5 480.6v6.97M322.5 487.52v6.97M240.5 522.12v6.97M242.5 522.12v6.97M244.5 522.12v6.97M245.5 522.12v6.97M247.5 522.12v6.97M249.5 522.12v6.97M250.5 522.12v6.97M255.5 522.12v6.97M256.5 522.12v6.97M260.5 522.12v6.97M261.5 522.12v6.97M272.5 522.12v6.97M280.5 522.12v6.97M281.5 522.12v6.97M285.5 522.12v6.97M286.5 522.12v6.97M290.5 522.12v6.97M296.5 522.12v6.97M297.5 522.12v6.97M306.5 522.12v6.97M307.5 522.12v6.97M308.5 522.12v6.97M309.5 522.12v6.97M310.5 522.12v6.97M313.5 522.12v6.97M314.5 522.12v6.97M381.5 522.12v6.97M404.5 522.12v6.97M411.5 522.12v6.97M412.5 522.12v6.97M420.5 522.12v6.97M445.5 522.12v6.97M474.5 522.12v6.97M305.5 542.88v6.97M271.5 612.08v6.97M272.5 612.08v6.97M287.5 612.08v6.97M288.5 612.08v6.97M299.5 612.08v6.97M331.5 612.08v6.97M355.5 612.08v6.97M363.5 612.08v6.97M371.5 612.08v6.97M374.5 612.08v6.97M385.5 612.08v6.97M386.5 612.08v6.97M397.5 612.08v6.97M408.5 612.08v6.97M413.5 612.08v6.97M414.5 612.08v6.97M415.5 612.08v6.97M416.5 612.08v6.97M437.5 612.08v6.97M438.5 612.08v6.97M441.5 612.08v6.97M444.5 612.08v6.97M445.5 612.08v6.97M446.5 612.08v6.97M447.5 612.08v6.97M448.5 612.08v6.97M449.5 612.08v6.97M458.5 612.08v6.97M459.5 612.08v6.97M461.5 612.08v6.97M462.5 612.08v6.97M466.5 612.08v6.97M472.5 612.08v6.97M476.5 612.08v6.97" stroke="#2b69b3" stroke-width="1.00" shape-rendering="crispEdges"/>
<path d="M322.5 480.6v6.97M330.5 480.6v6.97M333.5 480.6v6.97M375.5 480.6v6.97M350.5 487.52v6.97M363.5 508.28v6.97M364.5 508.28v6.97M377.5 542.88v6.97M341.5 584.4v6.97" stroke="#063c8e" stroke-width="1.00" shape-rendering="crispEdges"/>
<path d="M325.5 480.6v6.97M327.5 480.6v6.97M328.5 480.6v6.97M380.5 480.6v6.97M334.5 487.52v6.97M335.5 487.52v6.97M354.5 487.52v6.97M360.5 487.52v6.97M361.5 487.52v6.97M369.5 487.52v6.97M370.5 487.52v6.97M377.5 487.52v6.97M378.5 487.52v6.97M380.5 487.52v6.97M318.5 501.36v6.97M322.5 501.36v6.97M324.5 501.36v6.97M362.5 501.36v6.97M369.5 501.36v6.97M370.5 501.36v6.97M374.5 508.28v6.97M343.5 522.12v6.97M358.5 522.12v6.97M361.5 522.12v6.97M386.5 535.96v6.97M252.5 542.88v6.97M264.5 542.88v6.97M268.5 542.88v6.97M299.5 542.88v6.97M318.5 542.88v6.97M338.5 542.88v6.97M354.5 542.88v6.97M356.5 542.88v6.97M370.5 542.88v6.97M371.5 549.8v6.97M376.5 549.8v6.97M317.5 563.64v6.97M328.5 563.64v6.97M331.5 563.64v6.97M335.5 563.64v6.97M353.5 563.64v6.97M365.5 563.64v6.97M371.5 563.64v6.97M372.5 563.64v6.97M271.5 577.48v6.97M277.5 577.48v6.97M297.5 577.48v6.97M423.5 584.4v6.97M239.5 591.32v6.97M322.5 612.08v6.97M328.5 612.08v6.97M341.5 612.08v6.97M348.5 612.08v6.97" stroke="#6994cb" stroke-width="1.00" shape-rendering="crispEdges"/>
<path d="M326.5 480.6v6.97M373.5 480.6v6.97M377.5 480.6v6.97M378.5 480.6v6.97M379.5 480.6v6.97M331.5 487.52v6.97M346.5 487.52v6.97M362.5 487.52v6.97M371.5 487.52v6.97M379.5 487.52v6.97M386.5 487.52v6.97M322.5 522.12v6.97M329.5 522.12v6.97M344.5 522.12v6.97M351.5 522.12v6.97M362.5 522.12v6.97M265.5 542.88v6.97M339.5 542.88v6.97M316.5 563.64v6.97M354.5 563.64v6.97M355.5 563.64v6.97M361.5 563.64v6.97M362.5 563.64v6.97M370.5 563.64v6.97M270.5 577.48v6.97M349.5 612.08v6.97M366.5 612.08v6.97M379.5 612.08v6.97" stroke="#548ac7" stroke-width="1.00" shape-rendering="crispEdges"/>
<path d="M334.5 480.6v6.97M342.5 480.6v6.97M348.5 480.6v6.97M359.5 480.6v6.97M362.5 480.6v6.97M364.5 480.6v6.97M368.5 480.6v6.97M319.5 487.52v6.97M332.5 487.52v6.97M336.5 487.52v6.97M341.5 487.52v6.97M335.5 494.44v6.97M336.5 494.44v6.97M368.5 494.44v6.97M326.5 501.36v6.97M355.5 501.36v6.97M322.5 515.2v6.97M348.5 529.04v6.97M330.5 542.88v6.97M360.5 542.88v6.97M374.5 542.88v6.97M327.5 556.72v6.97M352.5 556.72v6.97M376.5 556.72v6.97M320.5 563.64v6.97M339.5 563.64v6.97M345.5 563.64v6.97M348.5 570.56v6.97M326.5 577.48v6.97M373.5 584.4v6.97M350.5 605.16v6.97" stroke="#5d5e8e" stroke-width="1.00" shape-rendering="crispEdges"/>
<path d="M335.5 480.6v6.97M347.5 480.6v6.97M337.5 487.52v6.97M338.5 487.52v6.97M365.5 487.52v6.97M339.5 508.28v6.97M350.5 508.28v6.97M327.5 542.88v6.97M328.5 556.72v6.97M368.5 563.64v6.97M349.5 570.56v6.97M328.5 584.4v6.97M338.5 584.4v6.97M368.5 584.4v6.97M375.5 584.4v6.97M377.5 584.4v6.97M319.5 591.32v6.97M353.5 591.32v6.97M360.5 591.32v6.97M322.5 598.24v6.97M326.5 605.16v6.97M351.5 605.16v6.97M353.5 605.16v6.97M368.5 605.16v6.97M377.5 605.16v6.97" stroke="#5b3b6f" stroke-width="1.00" shape-rendering="crispEdges"/>
<path d="M336.5 480.6v6.97M340.5 480.6v6.97M361.5 480.6v6.97M323.5 487.52v6.97M326.5 487.52v6.97M328.5 487.52v6.97M342.5 487.52v6.97M357.5 487.52v6.97M313.5 494.44v6.97M465.5 494.44v6.97M386.5 501.36v6.97M236.5 515.2v6.97M237.5 515.2v6.97M239.5 515.2v6.97M240.5 515.2v6.97M244.5 515.2v6.97M247.5 515.2v6.97M250.5 515.2v6.97M253.5 515.2v6.97M254.5 515.2v6.97M255.5 515.2v6.97M257.5 515.2v6.97M258.5 515.2v6.97M262.5 515.2v6.97M263.5 515.2v6.97M264.5 515.2v6.97M265.5 515.2v6.97M267.5 515.2v6.97M268.5 515.2v6.97M269.5 515.2v6.97M270.5 515.2v6.97M274.5 515.2v6.97M278.5 515.2v6.97M280.5 515.2v6.97M281.5 515.2v6.97M282.5 515.2v6.97M283.5 515.2v6.97M284.5 515.2v6.97M286.5 515.2v6.97M287.5 515.2v6.97M288.5 515.2v6.97M292.5 515.2v6.97M295.5 515.2v6.97M297.5 515.2v6.97M299.5 515.2v6.97M304.5 515.2v6.97M307.5 515.2v6.97M310.5 515.2v6.97M311.5 515.2v6.97M314.5 515.2v6.97M364.5 515.2v6.97M451.5 515.2v6.97M463.5 515.2v6.97M327.5 529.04v6.97M341.5 529.04v6.97M401.5 529.04v6.97M451.5 529.04v6.97M276.5 535.96v6.97M239.5 549.8v6.97M265.5 549.8v6.97M266.5 549.8v6.97M275.5 549.8v6.97M307.5 549.8v6.97M401.5 549.8v6.97M434.5 549.8v6.97M322.5 563.64v6.97M354.5 570.56v6.97M357.5 570.56v6.97M368.5 570.56v6.97M333.5 598.24v6.97M362.5 598.24v6.97M323.5 605.16v6.97M324.5 605.16v6.97M372.5 605.16v6.97M379.5 605.16v6.97" stroke="#5674a7" stroke-width="1.00" shape-rendering="crispEdges"/>
<path d="M338.5 480.6v6.97M343.5 480.6v6.97M349.5 480.6v6.97M365.5 480.6v6.97M369.5 480.6v6.97M352.5 487.52v6.97M376.5 487.52v6.97M338.5 501.36v6.97M382.5 501.36v6.97M384.5 501.36v6.97M392.5 501.36v6.97M398.5 501.36v6.97M399.5 501.36v6.97M416.5 501.36v6.97M417.5 501.36v6.97M428.5 501.36v6.97M240.5 508.28v6.97M255.5 508.28v6.97M318.5 508.28v6.97M382.5 508.28v6.97M401.5 508.28v6.97M385.5 535.96v6.97M433.5 535.96v6.97M439.5 535.96v6.97M440.5 535.96v6.97M448.5 535.96v6.97M474.5 535.96v6.97M331.5 542.88v6.97M341.5 542.88v6.97M268.5 549.8v6.97M326.5 549.8v6.97M372.5 549.8v6.97M419.5 549.8v6.97M258.5 563.64v6.97M319.5 563.64v6.97M332.5 563.64v6.97M334.5 563.64v6.97M344.5 563.64v6.97M347.5 563.64v6.97M386.5 563.64v6.97M422.5 563.64v6.97M326.5 584.4v6.97M430.5 584.4v6.97M445.5 584.4v6.97M260.5 591.32v6.97M273.5 591.32v6.97M300.5 591.32v6.97M301.5 591.32v6.97M358.5 591.32v6.97M372.5 591.32v6.97M268.5 598.24v6.97M394.5 605.16v6.97M415.5 605.16v6.97" stroke="#527cb4" stroke-width="1.00" shape-rendering="crispEdges"/>
<path d="M339.5 480.6v6.97M358.5 480.6v6.97M318.5 487.52v6.97M335.5 501.36v6.97M343.5 501.36v6.97M363.5 501.36v6.97M372.5 501.36v6.97M375.5 501.36v6.97M377.5 501.36v6.97M432.5 501.36v6.97M281.5 508.28v6.97M326.5 508.28v6.97M331.5 508.28v6.97M344.5 508.28v6.97M355.5 508.28v6.97M357.5 508.28v6.97M366.5 508.28v6.97M248.5 515.2v6.97M272.5 515.2v6.97M328.5 542.88v6.97M329.5 542.88v6.97M340.5 542.88v6.97M347.5 542.88v6.97M352.5 542.88v6.97M340.5 549.8v6.97M342.5 549.8v6.97M363.5 549.8v6.97M422.5 549.8v6.97M403.5 556.72v6.97M257.5 563.64v6.97M318.5 563.64v6.97M327.5 563.64v6.97M336.5 563.64v6.97M358.5 563.64v6.97M363.5 563.64v6.97M366.5 563.64v6.97M369.5 563.64v6.97M373.5 563.64v6.97M407.5 563.64v6.97M318.5 584.4v6.97M325.5 584.4v6.97M330.5 584.4v6.97M343.5 584.4v6.97M344.5 584.4v6.97M346.5 584.4v6.97M352.5 584.4v6.97M354.5 584.4v6.97M355.5 584.4v6.97M358.5 584.4v6.97M359.5 584.4v6.97M366.5 584.4v6.97M321.5 591.32v6.97M357.5 591.32v6.97M320.5 598.24v6.97M342.5 598.24v6.97M379.5 598.24v6.97M342.5 605.16v6.97M359.5 605.16v6.97M364.5 605.16v6.97" stroke="#6e88bb" stroke-width="1.00" shape-rendering="crispEdges"/>
<path d="M344.5 480.6v6.97M351.5 480.6v6.97M357.5 480.6v6.97M366.5 480.6v6.97M372.5 480.6v6.97M339.5 487.52v6.97M356.5 487.52v6.97M359.5 487.52v6.97M363.5 487.52v6.97M353.5 501.36v6.97M357.5 501.36v6.97M366.5 501.36v6.97M420.5 501.36v6.97M317.5 508.28v6.97M330.5 508.28v6.97M359.5 508.28v6.97M365.5 508.28v6.97M371.5 508.28v6.97M372.5 508.28v6.97M420.5 508.28v6.97M449.5 508.28v6.97M317.5 542.88v6.97M322.5 542.88v6.97M324.5 542.88v6.97M337.5 542.88v6.97M353.5 542.88v6.97M363.5 542.88v6.97M366.5 542.88v6.97M367.5 542.88v6.97M330.5 549.8v6.97M375.5 549.8v6.97M425.5 556.72v6.97M290.5 563.64v6.97M324.5 563.64v6.97M340.5 563.64v6.97M350.5 563.64v6.97M388.5 563.64v6.97M261.5 577.48v6.97M316.5 584.4v6.97M322.5 584.4v6.97M331.5 584.4v6.97M333.5 584.4v6.97M348.5 584.4v6.97M360.5 584.4v6.97M361.5 584.4v6.97M365.5 584.4v6.97M379.5 584.4v6.97M386.5 584.4v6.97M403.5 584.4v6.97M406.5 584.4v6.97M240.5 591.32v6.97M264.5 591.32v6.97M312.5 591.32v6.97M338.5 591.32v6.97M347.5 591.32v6.97M351.5 591.32v6.97M356.5 591.32v6.97M362.5 591.32v6.97M378.5 591.32v6.97M446.5 591.32v6.97" stroke="#5e86be" stroke-width="1.00" shape-rendering="crispEdges"/>
<path d="M345.5 480.6v6.97M346.5 480.6v6.97M353.5 480.6v6.97M371.5 480.6v6.97M316.5 487.52v6.97M317.5 487.52v6.97M324.5 487.52v6.97M333.5 487.52v6.97M340.5 487.52v6.97M353.5 487.52v6.97M344.5 494.44v6.97M359.5 494.44v6.97M361.5 494.44v6.97M362.5 494.44v6.97M474.5 494.44v6.97M362.5 508.28v6.97M330.5 515.2v6.97M339.5 515.2v6.97M346.5 515.2v6.97M357.5 515.2v6.97M363.5 515.2v6.97M368.5 515.2v6.97M371.5 515.2v6.97M379.5 515.2v6.97M366.5 529.04v6.97M377.5 529.04v6.97M379.5 529.04v6.97M344.5 535.96v6.97M342.5 542.88v6.97M370.5 556.72v6.97M325.5 563.64v6.97M333.5 563.64v6.97M337.5 563.64v6.97M349.5 563.64v6.97M318.5 570.56v6.97M347.5 570.56v6.97M362.5 570.56v6.97M317.5 577.48v6.97M339.5 577.48v6.97M363.5 577.48v6.97M365.5 577.48v6.97M374.5 577.48v6.97M376.5 577.48v6.97M339.5 584.4v6.97M353.5 584.4v6.97M365.5 591.32v6.97M350.5 598.24v6.97M353.5 598.24v6.97M327.5 605.16v6.97M367.5 605.16v6.97" stroke="#6971a0" stroke-width="1.00" shape-rendering="crispEdges"/>
<path d="M354.5 480.6v6.97M420.5 487.52v6.97M317.5 501.36v6.97M344.5 501.36v6.97M356.5 508.28v6.97M358.5 508.28v6.97M450.5 508.28v6.97M278.5 522.12v6.97M356.5 522.12v6.97M450.5 522.12v6.97M456.5 522.12v6.97M461.5 522.12v6.97M242.5 542.88v6.97M269.5 542.88v6.97M415.5 542.88v6.97M440.5 542.88v6.97M473.5 542.88v6.97M237.5 577.48v6.97M258.5 577.48v6.97M273.5 577.48v6.97M291.5 577.48v6.97M323.5 584.4v6.97M324.5 584.4v6.97M335.5 584.4v6.97M336.5 584.4v6.97M342.5 584.4v6.97M434.5 584.4v6.97M236.5 591.32v6.97M272.5 591.32v6.97M377.5 591.32v6.97M393.5 591.32v6.97M422.5 591.32v6.97M323.5 612.08v6.97M325.5 612.08v6.97M327.5 612.08v6.97M342.5 612.08v6.97M346.5 612.08v6.97M451.5 612.08v6.97M470.5 612.08v6.97M474.5 612.08v6.97" stroke="#407aba" stroke-width="1.00" shape-rendering="crispEdges"/>
<path d="M355.5 480.6v6.97M374.5 480.6v6.97M236.5 487.52v6.97M237.5 487.52v6.97M238.5 487.52v6.97M239.5 487.52v6.97M240.5 487.52v6.97M242.5 487.52v6.97M243.5 487.52v6.97M244.5 487.52v6.97M245.5 487.52v6.97M246.5 487.52v6.97M247.5 487.52v6.97M248.5 487.52v6.97M249.5 487.52v6.97M250.5 487.52v6.97M251.5 487.52v6.97M252.5 487.52v6.97M253.5 487.52v6.97M254.5 487.52v6.97M255.5 487.52v6.97M256.5 487.52v6.97M257.5 487.52v6.97M258.5 487.52v6.97M259.5 487.52v6.97M260.5 487.52v6.97M261.5 487.52v6.97M262.5 487.52v6.97M263.5 487.52v6.97M264.5 487.52v6.97M265.5 487.52v6.97M266.5 487.52v6.97M267.5 487.52v6.97M268.5 487.52v6.97M269.5 487.52v6.97M270.5 487.52v6.97M271.5 487.52v6.97M272.5 487.52v6.97M273.5 487.52v6.97M275.5 487.52v6.97M276.5 487.52v6.97M277.5 487.52v6.97M278.5 487.52v6.97M279.5 487.52v6.97M280.5 487.52v6.97M281.5 487.52v6.97M282.5 487.52v6.97M283.5 487.52v6.97M284.5 487.52v6.97M285.5 487.52v6.97M286.5 487.52v6.97M287.5 487.52v6.97M288.5 487.52v6.97M289.5 487.52v6.97M290.5 487.52v6.97M291.5 487.52v6.97M292.5 487.52v6.97M293.5 487.52v6.97M294.5 487.52v6.97M295.5 487.52v6.97M296.5 487.52v6.97M297.5 487.52v6.97M298.5 487.52v6.97M299.5 487.52v6.97M300.5 487.52v6.97M301.5 487.52v6.97M302.5 487.52v6.97M303.5 487.52v6.97M304.5 487.52v6.97M305.5 487.52v6.97M306.5 487.52v6.97M307.5 487.52v6.97M308.5 487.52v6.97M309.5 487.52v6.97M310.5 487.52v6.97M311.5 487.52v6.97M312.5 487.52v6.97M313.5 487.52v6.97M314.5 487.52v6.97M315.5 487.52v6.97M348.5 487.52v6.97M358.5 487.52v6.97M357.5 542.88v6.97M364.5 542.88v6.97M365.5 542.88v6.97M329.5 563.64v6.97M342.5 563.64v6.97M351.5 563.64v6.97M359.5 563.64v6.97" stroke="#2465ae" stroke-width="1.00" shape-rendering="crispEdges"/>
<path d="M376.5 480.6v6.97M367.5 487.52v6.97M372.5 487.52v6.97M375.5 487.52v6.97M325.5 542.88v6.97M372.5 542.88v6.97" stroke="#0a53aa" stroke-width="1.00" shape-rendering="crispEdges"/>
<path d="M327.5 487.52v6.97M343.5 487.52v6.97M368.5 487.52v6.97M374.5 487.52v6.97" stroke="#1e6ebe" stroke-width="1.00" shape-rendering="crispEdges"/>
<path d="M330.5 487.52v6.97M237.5 522.12v6.97M239.5 522.12v6.97M253.5 522.12v6.97M264.5 522.12v6.97M269.5 522.12v6.97M276.5 522.12v6.97M277.5 522.12v6.97M282.5 522.12v6.97M284.5 522.12v6.97M287.5 522.12v6.97M289.5 522.12v6.97M292.5 522.12v6.97M293.5 522.12v6.97M299.5 522.12v6.97M302.5 522.12v6.97M303.5 522.12v6.97M382.5 522.12v6.97M383.5 522.12v6.97M384.5 522.12v6.97M385.5 522.12v6.97M396.5 522.12v6.97M398.5 522.12v6.97M403.5 522.12v6.97M406.5 522.12v6.97M408.5 522.12v6.97M409.5 522.12v6.97M410.5 522.12v6.97M421.5 522.12v6.97M422.5 522.12v6.97M424.5 522.12v6.97M427.5 522.12v6.97M428.5 522.12v6.97M432.5 522.12v6.97M438.5 522.12v6.97M439.5 522.12v6.97M440.5 522.12v6.97M441.5 522.12v6.97M442.5 522.12v6.97M443.5 522.12v6.97M444.5 522.12v6.97M447.5 522.12v6.97M448.5 522.12v6.97M449.5 522.12v6.97M454.5 522.12v6.97M457.5 522.12v6.97M458.5 522.12v6.97M459.5 522.12v6.97M460.5 522.12v6.97M462.5 522.12v6.97M465.5 522.12v6.97M466.5 522.12v6.97M470.5 522.12v6.97M471.5 522.12v6.97M473.5 522.12v6.97M478.5 522.12v6.97M260.5 542.88v6.97M371.5 542.88v6.97M352.5 563.64v6.97M240.5 612.08v6.97M241.5 612.08v6.97M242.5 612.08v6.97M245.5 612.08v6.97M246.5 612.08v6.97M251.5 612.08v6.97M252.5 612.08v6.97M258.5 612.08v6.97M259.5 612.08v6.97M261.5 612.08v6.97M262.5 612.08v6.97M264.5 612.08v6.97M273.5 612.08v6.97M274.5 612.08v6.97M275.5 612.08v6.97M277.5 612.08v6.97M278.5 612.08v6.97M280.5 612.08v6.97M281.5 612.08v6.97M297.5 612.08v6.97M307.5 612.08v6.97M310.5 612.08v6.97M311.5 612.08v6.97M313.5 612.08v6.97M314.5 612.08v6.97M316.5 612.08v6.97M319.5 612.08v6.97M320.5 612.08v6.97M333.5 612.08v6.97M334.5 612.08v6.97M336.5 612.08v6.97M337.5 612.08v6.97M360.5 612.08v6.97M361.5 612.08v6.97M372.5 612.08v6.97M373.5 612.08v6.97M376.5 612.08v6.97M381.5 612.08v6.97M388.5 612.08v6.97M389.5 612.08v6.97M392.5 612.08v6.97M394.5 612.08v6.97M395.5 612.08v6.97M396.5 612.08v6.97M400.5 612.08v6.97M402.5 612.08v6.97M405.5 612.08v6.97M406.5 612.08v6.97M417.5 612.08v6.97M420.5 612.08v6.97M427.5 612.08v6.97M428.5 612.08v6.97M429.5 612.08v6.97M432.5 612.08v6.97M435.5 612.08v6.97M436.5 612.08v6.97M457.5 612.08v6.97M463.5 612.08v6.97M464.5 612.08v6.97M469.5 612.08v6.97M471.5 612.08v6.97M473.5 612.08v6.97M478.5 612.08v6.97M479.5 612.08v6.97" stroke="#2f6fb6" stroke-width="1.00" shape-rendering="crispEdges"/>
<path d="M347.5 487.52v6.97M427.5 494.44v6.97M438.5 494.44v6.97M345.5 515.2v6.97M369.5 515.2v6.97M364.5 529.04v6.97M452.5 529.04v6.97M242.5 535.96v6.97M259.5 535.96v6.97M260.5 535.96v6.97M265.5 535.96v6.97M272.5 535.96v6.97M273.5 535.96v6.97M280.5 535.96v6.97M284.5 535.96v6.97M291.5 535.96v6.97M294.5 535.96v6.97M302.5 535.96v6.97M303.5 535.96v6.97M307.5 535.96v6.97M315.5 535.96v6.97M343.5 535.96v6.97M236.5 549.8v6.97M237.5 549.8v6.97M238.5 549.8v6.97M243.5 549.8v6.97M248.5 549.8v6.97M249.5 549.8v6.97M250.5 549.8v6.97M256.5 549.8v6.97M257.5 549.8v6.97M259.5 549.8v6.97M261.5 549.8v6.97M262.5 549.8v6.97M263.5 549.8v6.97M283.5 549.8v6.97M286.5 549.8v6.97M290.5 549.8v6.97M299.5 549.8v6.97M300.5 549.8v6.97M303.5 549.8v6.97M306.5 549.8v6.97M309.5 549.8v6.97M312.5 549.8v6.97M313.5 549.8v6.97M346.5 549.8v6.97M388.5 549.8v6.97M389.5 549.8v6.97M391.5 549.8v6.97M402.5 549.8v6.97M404.5 549.8v6.97M405.5 549.8v6.97M408.5 549.8v6.97M410.5 549.8v6.97M412.5 549.8v6.97M414.5 549.8v6.97M415.5 549.8v6.97M416.5 549.8v6.97M417.5 549.8v6.97M421.5 549.8v6.97M424.5 549.8v6.97M425.5 549.8v6.97M429.5 549.8v6.97M432.5 549.8v6.97M433.5 549.8v6.97M436.5 549.8v6.97M245.5 563.64v6.97M247.5 563.64v6.97M248.5 563.64v6.97M251.5 563.64v6.97M254.5 563.64v6.97M264.5 563.64v6.97M269.5 563.64v6.97M270.5 563.64v6.97M310.5 563.64v6.97M325.5 570.56v6.97M305.5 598.24v6.97M367.5 598.24v6.97M430.5 598.24v6.97M432.5 598.24v6.97" stroke="#364f8c" stroke-width="1.00" shape-rendering="crispEdges"/>
<path d="M351.5 487.52v6.97M373.5 487.52v6.97M345.5 494.44v6.97M356.5 494.44v6.97M471.5 494.44v6.97M473.5 494.44v6.97M237.5 535.96v6.97M238.5 535.96v6.97M240.5 535.96v6.97M241.5 535.96v6.97M244.5 535.96v6.97M246.5 535.96v6.97M248.5 535.96v6.97M253.5 535.96v6.97M255.5 535.96v6.97M256.5 535.96v6.97M263.5 535.96v6.97M266.5 535.96v6.97M267.5 535.96v6.97M268.5 535.96v6.97M270.5 535.96v6.97M271.5 535.96v6.97M278.5 535.96v6.97M279.5 535.96v6.97M283.5 535.96v6.97M286.5 535.96v6.97M287.5 535.96v6.97M288.5 535.96v6.97M292.5 535.96v6.97M293.5 535.96v6.97M298.5 535.96v6.97M299.5 535.96v6.97M300.5 535.96v6.97M304.5 535.96v6.97M306.5 535.96v6.97M311.5 535.96v6.97M313.5 535.96v6.97M314.5 535.96v6.97M379.5 535.96v6.97M244.5 549.8v6.97M247.5 549.8v6.97M252.5 549.8v6.97M255.5 549.8v6.97M271.5 549.8v6.97M272.5 549.8v6.97M278.5 549.8v6.97M279.5 549.8v6.97M280.5 549.8v6.97M281.5 549.8v6.97M282.5 549.8v6.97M284.5 549.8v6.97M285.5 549.8v6.97M291.5 549.8v6.97M295.5 549.8v6.97M296.5 549.8v6.97M310.5 549.8v6.97M311.5 549.8v6.97M314.5 549.8v6.97M315.5 549.8v6.97M382.5 549.8v6.97M386.5 549.8v6.97M387.5 549.8v6.97M393.5 549.8v6.97M398.5 549.8v6.97M399.5 549.8v6.97M403.5 549.8v6.97M406.5 549.8v6.97M407.5 549.8v6.97M411.5 549.8v6.97M427.5 549.8v6.97M346.5 570.56v6.97M303.5 598.24v6.97M323.5 598.24v6.97M407.5 598.24v6.97" stroke="#334881" stroke-width="1.00" shape-rendering="crispEdges"/>
<path d="M480.5 487.52v6.97M437.5 501.36v6.97M441.5 501.36v6.97M446.5 501.36v6.97M449.5 501.36v6.97M456.5 501.36v6.97M458.5 501.36v6.97M459.5 501.36v6.97M461.5 501.36v6.97M462.5 501.36v6.97M474.5 501.36v6.97M477.5 501.36v6.97M389.5 508.28v6.97M472.5 508.28v6.97M314.5 542.88v6.97M244.5 577.48v6.97M245.5 577.48v6.97M267.5 577.48v6.97M316.5 577.48v6.97M401.5 577.48v6.97M402.5 577.48v6.97M427.5 577.48v6.97M437.5 577.48v6.97M442.5 577.48v6.97M443.5 577.48v6.97M449.5 577.48v6.97M459.5 577.48v6.97M464.5 577.48v6.97M465.5 577.48v6.97M467.5 577.48v6.97M474.5 577.48v6.97M475.5 577.48v6.97M248.5 584.4v6.97M257.5 584.4v6.97M301.5 584.4v6.97M302.5 584.4v6.97M310.5 584.4v6.97M440.5 584.4v6.97M442.5 584.4v6.97M451.5 584.4v6.97M454.5 584.4v6.97M455.5 584.4v6.97M456.5 584.4v6.97M463.5 584.4v6.97M468.5 584.4v6.97M469.5 584.4v6.97M474.5 584.4v6.97M475.5 584.4v6.97M482.5 584.4v6.97M462.5 591.32v6.97M467.5 591.32v6.97M468.5 591.32v6.97M482.5 591.32v6.97" stroke="#25569c" stroke-width="1.00" shape-rendering="crispEdges"/>
<path d="M236.5 494.44v6.97M240.5 494.44v6.97M241.5 494.44v6.97M242.5 494.44v6.97M243.5 494.44v6.97M244.5 494.44v6.97M245.5 494.44v6.97M251.5 494.44v6.97M252.5 494.44v6.97M253.5 494.44v6.97M254.5 494.44v6.97M255.5 494.44v6.97M256.5 494.44v6.97M260.5 494.44v6.97M261.5 494.44v6.97M262.5 494.44v6.97M263.5 494.44v6.97M264.5 494.44v6.97M265.5 494.44v6.97M267.5 494.44v6.97M268.5 494.44v6.97M269.5 494.44v6.97M270.5 494.44v6.97M271.5 494.44v6.97M272.5 494.44v6.97M273.5 494.44v6.97M275.5 494.44v6.97M276.5 494.44v6.97M281.5 494.44v6.97M282.5 494.44v6.97M283.5 494.44v6.97M284.5 494.44v6.97M285.5 494.44v6.97M286.5 494.44v6.97M287.5 494.44v6.97M288.5 494.44v6.97M293.5 494.44v6.97M294.5 494.44v6.97M300.5 494.44v6.97M301.5 494.44v6.97M302.5 494.44v6.97M303.5 494.44v6.97M304.5 494.44v6.97M305.5 494.44v6.97M306.5 494.44v6.97M307.5 494.44v6.97M308.5 494.44v6.97M310.5 494.44v6.97M311.5 494.44v6.97M382.5 494.44v6.97M385.5 494.44v6.97M386.5 494.44v6.97M387.5 494.44v6.97M393.5 494.44v6.97M394.5 494.44v6.97M400.5 494.44v6.97M401.5 494.44v6.97M404.5 494.44v6.97M406.5 494.44v6.97M407.5 494.44v6.97M410.5 494.44v6.97M411.5 494.44v6.97M419.5 494.44v6.97M431.5 494.44v6.97M432.5 494.44v6.97M437.5 494.44v6.97M440.5 494.44v6.97M441.5 494.44v6.97M443.5 494.44v6.97M444.5 494.44v6.97M450.5 494.44v6.97M451.5 494.44v6.97M452.5 494.44v6.97M453.5 494.44v6.97M469.5 494.44v6.97M470.5 494.44v6.97M480.5 494.44v6.97M481.5 494.44v6.97M482.5 494.44v6.97M380.5 535.96v6.97M316.5 542.88v6.97M484.5 598.24v6.97M352.5 605.16v6.97M380.5 605.16v6.97" stroke="#193165" stroke-width="1.00" shape-rendering="crispEdges"/>
<path d="M237.5 494.44v6.97M239.5 494.44v6.97M248.5 494.44v6.97M295.5 494.44v6.97M296.5 494.44v6.97M309.5 494.44v6.97M388.5 494.44v6.97M389.5 494.44v6.97M413.5 494.44v6.97M416.5 494.44v6.97M423.5 494.44v6.97M425.5 494.44v6.97M428.5 494.44v6.97M430.5 494.44v6.97M435.5 494.44v6.97M439.5 494.44v6.97M456.5 494.44v6.97M457.5 494.44v6.97M458.5 494.44v6.97M460.5 494.44v6.97M466.5 494.44v6.97M475.5 494.44v6.97M270.5 508.28v6.97M275.5 508.28v6.97M323.5 515.2v6.97M450.5 515.2v6.97M466.5 515.2v6.97M467.5 515.2v6.97M470.5 515.2v6.97M471.5 515.2v6.97M474.5 515.2v6.97M477.5 515.2v6.97M478.5 515.2v6.97M381.5 529.04v6.97M384.5 529.04v6.97M386.5 529.04v6.97M395.5 529.04v6.97M403.5 529.04v6.97M404.5 529.04v6.97M407.5 529.04v6.97M413.5 529.04v6.97M417.5 529.04v6.97M421.5 529.04v6.97M423.5 529.04v6.97M427.5 529.04v6.97M428.5 529.04v6.97M443.5 529.04v6.97M445.5 529.04v6.97M453.5 529.04v6.97M456.5 529.04v6.97M460.5 529.04v6.97M465.5 529.04v6.97M466.5 529.04v6.97M467.5 529.04v6.97M470.5 529.04v6.97M473.5 529.04v6.97M476.5 529.04v6.97M245.5 535.96v6.97M247.5 535.96v6.97M249.5 535.96v6.97M254.5 535.96v6.97M257.5 535.96v6.97M305.5 535.96v6.97M308.5 535.96v6.97M309.5 535.96v6.97M310.5 535.96v6.97M312.5 535.96v6.97M420.5 535.96v6.97M428.5 535.96v6.97M429.5 535.96v6.97M456.5 535.96v6.97M460.5 535.96v6.97M251.5 549.8v6.97M253.5 549.8v6.97M254.5 549.8v6.97M381.5 549.8v6.97M428.5 549.8v6.97M447.5 549.8v6.97M450.5 549.8v6.97M451.5 549.8v6.97M453.5 549.8v6.97M454.5 549.8v6.97M455.5 549.8v6.97M460.5 549.8v6.97M464.5 549.8v6.97M465.5 549.8v6.97M467.5 549.8v6.97M472.5 549.8v6.97M473.5 549.8v6.97M478.5 549.8v6.97M368.5 556.72v6.97M384.5 556.72v6.97M387.5 556.72v6.97M391.5 556.72v6.97M397.5 556.72v6.97M410.5 556.72v6.97M411.5 556.72v6.97M413.5 556.72v6.97M414.5 556.72v6.97M417.5 556.72v6.97M418.5 556.72v6.97M419.5 556.72v6.97M433.5 556.72v6.97M436.5 556.72v6.97M438.5 556.72v6.97M443.5 556.72v6.97M444.5 556.72v6.97M445.5 556.72v6.97M462.5 556.72v6.97M471.5 556.72v6.97M472.5 556.72v6.97M245.5 598.24v6.97M254.5 598.24v6.97M258.5 598.24v6.97M264.5 598.24v6.97M271.5 598.24v6.97M279.5 598.24v6.97M282.5 598.24v6.97M283.5 598.24v6.97M293.5 598.24v6.97M294.5 598.24v6.97M298.5 598.24v6.97M299.5 598.24v6.97M300.5 598.24v6.97M311.5 598.24v6.97M312.5 598.24v6.97M314.5 598.24v6.97M384.5 598.24v6.97M386.5 598.24v6.97M387.5 598.24v6.97M388.5 598.24v6.97M389.5 598.24v6.97M390.5 598.24v6.97M392.5 598.24v6.97M393.5 598.24v6.97M394.5 598.24v6.97M396.5 598.24v6.97M400.5 598.24v6.97M410.5 598.24v6.97M411.5 598.24v6.97M418.5 598.24v6.97M420.5 598.24v6.97M425.5 598.24v6.97M435.5 598.24v6.97M437.5 598.24v6.97M438.5 598.24v6.97M440.5 598.24v6.97M443.5 598.24v6.97M444.5 598.24v6.97M448.5 598.24v6.97M449.5 598.24v6.97M451.5 598.24v6.97M458.5 598.24v6.97M459.5 598.24v6.97M462.5 598.24v6.97M463.5 598.24v6.97M468.5 598.24v6.97M469.5 598.24v6.97M470.5 598.24v6.97" stroke="#243f7a" stroke-width="1.00" shape-rendering="crispEdges"/>
<path d="M238.5 494.44v6.97M327.5 501.36v6.97M330.5 501.36v6.97M340.5 501.36v6.97M374.5 501.36v6.97M319.5 508.28v6.97M322.5 508.28v6.97M369.5 508.28v6.97M373.5 508.28v6.97M379.5 508.28v6.97M324.5 515.2v6.97M331.5 515.2v6.97M340.5 515.2v6.97M347.5 515.2v6.97M348.5 515.2v6.97M378.5 515.2v6.97M318.5 529.04v6.97M321.5 529.04v6.97M326.5 529.04v6.97M340.5 529.04v6.97M345.5 529.04v6.97M365.5 529.04v6.97M378.5 529.04v6.97M251.5 535.96v6.97M296.5 535.96v6.97M349.5 535.96v6.97M320.5 542.88v6.97M336.5 542.88v6.97M343.5 542.88v6.97M344.5 542.88v6.97M351.5 542.88v6.97M362.5 542.88v6.97M245.5 549.8v6.97M355.5 549.8v6.97M355.5 556.72v6.97M357.5 556.72v6.97M357.5 563.64v6.97M377.5 563.64v6.97M323.5 570.56v6.97M327.5 570.56v6.97M356.5 570.56v6.97M361.5 570.56v6.97M367.5 570.56v6.97M378.5 570.56v6.97M329.5 577.48v6.97M341.5 577.48v6.97M342.5 577.48v6.97M343.5 577.48v6.97M349.5 577.48v6.97M353.5 577.48v6.97M355.5 577.48v6.97M358.5 577.48v6.97M360.5 577.48v6.97M361.5 577.48v6.97M362.5 577.48v6.97M380.5 577.48v6.97M351.5 584.4v6.97M356.5 584.4v6.97M370.5 584.4v6.97M339.5 591.32v6.97M355.5 591.32v6.97M359.5 591.32v6.97M379.5 591.32v6.97M318.5 598.24v6.97M321.5 598.24v6.97M337.5 598.24v6.97M343.5 598.24v6.97M347.5 598.24v6.97M377.5 598.24v6.97M320.5 605.16v6.97M321.5 605.16v6.97M322.5 605.16v6.97M328.5 605.16v6.97M329.5 605.16v6.97M330.5 605.16v6.97M333.5 605.16v6.97M334.5 605.16v6.97M339.5 605.16v6.97M343.5 605.16v6.97M358.5 605.16v6.97M362.5 605.16v6.97M365.5 605.16v6.97M369.5 605.16v6.97M374.5 605.16v6.97" stroke="#7981ae" stroke-width="1.00" shape-rendering="crispEdges"/>
<path d="M246.5 494.44v6.97M250.5 494.44v6.97M258.5 494.44v6.97M266.5 494.44v6.97M274.5 494.44v6.97M277.5 494.44v6.97M280.5 494.44v6.97M290.5 494.44v6.97M298.5 494.44v6.97M314.5 494.44v6.97M315.5 494.44v6.97M381.5 494.44v6.97M383.5 494.44v6.97M384.5 494.44v6.97M390.5 494.44v6.97M392.5 494.44v6.97M395.5 494.44v6.97M399.5 494.44v6.97M403.5 494.44v6.97M405.5 494.44v6.97M408.5 494.44v6.97M412.5 494.44v6.97M415.5 494.44v6.97M418.5 494.44v6.97M420.5 494.44v6.97M422.5 494.44v6.97M426.5 494.44v6.97M433.5 494.44v6.97M436.5 494.44v6.97M442.5 494.44v6.97M445.5 494.44v6.97M446.5 494.44v6.97M449.5 494.44v6.97M454.5 494.44v6.97M455.5 494.44v6.97M462.5 494.44v6.97M463.5 494.44v6.97M468.5 494.44v6.97M476.5 494.44v6.97M478.5 494.44v6.97M483.5 494.44v6.97M269.5 508.28v6.97M315.5 508.28v6.97M437.5 515.2v6.97M438.5 515.2v6.97M439.5 515.2v6.97M440.5 515.2v6.97M449.5 515.2v6.97M456.5 515.2v6.97M472.5 515.2v6.97M473.5 515.2v6.97M479.5 515.2v6.97M387.5 529.04v6.97M388.5 529.04v6.97M396.5 529.04v6.97M397.5 529.04v6.97M444.5 529.04v6.97M459.5 529.04v6.97M475.5 529.04v6.97M479.5 529.04v6.97M269.5 535.96v6.97M414.5 535.96v6.97M430.5 535.96v6.97M431.5 535.96v6.97M442.5 535.96v6.97M450.5 535.96v6.97M469.5 535.96v6.97M470.5 535.96v6.97M471.5 535.96v6.97M472.5 535.96v6.97M479.5 535.96v6.97M452.5 549.8v6.97M344.5 556.72v6.97M381.5 556.72v6.97M382.5 556.72v6.97M383.5 556.72v6.97M385.5 556.72v6.97M386.5 556.72v6.97M395.5 556.72v6.97M396.5 556.72v6.97M415.5 556.72v6.97M416.5 556.72v6.97M430.5 556.72v6.97M431.5 556.72v6.97M454.5 556.72v6.97M467.5 556.72v6.97M468.5 556.72v6.97M338.5 577.48v6.97M252.5 598.24v6.97M253.5 598.24v6.97M263.5 598.24v6.97M270.5 598.24v6.97M295.5 598.24v6.97M297.5 598.24v6.97M307.5 598.24v6.97M308.5 598.24v6.97M310.5 598.24v6.97M313.5 598.24v6.97M381.5 598.24v6.97M383.5 598.24v6.97M391.5 598.24v6.97M397.5 598.24v6.97M401.5 598.24v6.97M402.5 598.24v6.97M403.5 598.24v6.97M406.5 598.24v6.97M414.5 598.24v6.97M415.5 598.24v6.97M416.5 598.24v6.97M417.5 598.24v6.97M421.5 598.24v6.97M422.5 598.24v6.97M423.5 598.24v6.97M424.5 598.24v6.97M450.5 598.24v6.97M480.5 598.24v6.97M481.5 598.24v6.97M482.5 598.24v6.97M483.5 598.24v6.97" stroke="#203a72" stroke-width="1.00" shape-rendering="crispEdges"/>
<path d="M247.5 494.44v6.97M279.5 494.44v6.97M312.5 494.44v6.97M389.5 501.36v6.97M390.5 501.36v6.97M391.5 501.36v6.97M394.5 501.36v6.97M396.5 501.36v6.97M423.5 501.36v6.97M425.5 501.36v6.97M282.5 508.28v6.97M317.5 529.04v6.97M472.5 529.04v6.97M483.5 529.04v6.97M264.5 549.8v6.97M270.5 549.8v6.97M277.5 549.8v6.97M294.5 549.8v6.97M297.5 549.8v6.97M298.5 549.8v6.97M302.5 549.8v6.97M383.5 549.8v6.97M384.5 549.8v6.97M430.5 549.8v6.97M442.5 549.8v6.97M446.5 549.8v6.97M365.5 556.72v6.97M388.5 556.72v6.97M434.5 556.72v6.97M456.5 556.72v6.97M238.5 563.64v6.97M239.5 563.64v6.97M246.5 563.64v6.97M265.5 563.64v6.97M286.5 563.64v6.97M294.5 563.64v6.97M299.5 563.64v6.97M301.5 563.64v6.97M304.5 563.64v6.97M309.5 563.64v6.97M313.5 563.64v6.97M314.5 563.64v6.97M326.5 570.56v6.97M373.5 577.48v6.97M354.5 591.32v6.97M273.5 598.24v6.97M434.5 598.24v6.97M466.5 598.24v6.97M382.5 605.16v6.97M383.5 605.16v6.97M384.5 605.16v6.97M385.5 605.16v6.97M387.5 605.16v6.97M390.5 605.16v6.97M391.5 605.16v6.97M392.5 605.16v6.97M395.5 605.16v6.97M397.5 605.16v6.97M398.5 605.16v6.97M399.5 605.16v6.97M401.5 605.16v6.97M402.5 605.16v6.97M403.5 605.16v6.97M404.5 605.16v6.97M406.5 605.16v6.97M408.5 605.16v6.97M409.5 605.16v6.97M411.5 605.16v6.97M412.5 605.16v6.97M413.5 605.16v6.97M422.5 605.16v6.97M423.5 605.16v6.97M425.5 605.16v6.97M426.5 605.16v6.97M427.5 605.16v6.97M428.5 605.16v6.97M429.5 605.16v6.97M433.5 605.16v6.97M434.5 605.16v6.97M435.5 605.16v6.97" stroke="#395d9d" stroke-width="1.00" shape-rendering="crispEdges"/>
<path d="M249.5 494.44v6.97M434.5 494.44v6.97M447.5 494.44v6.97M464.5 494.44v6.97M280.5 508.28v6.97M404.5 508.28v6.97M360.5 529.04v6.97M450.5 529.04v6.97M461.5 529.04v6.97M258.5 535.96v6.97M262.5 535.96v6.97M264.5 535.96v6.97M277.5 535.96v6.97M301.5 535.96v6.97M388.5 535.96v6.97M242.5 549.8v6.97M258.5 549.8v6.97M260.5 549.8v6.97M273.5 549.8v6.97M274.5 549.8v6.97M276.5 549.8v6.97M288.5 549.8v6.97M289.5 549.8v6.97M292.5 549.8v6.97M301.5 549.8v6.97M304.5 549.8v6.97M305.5 549.8v6.97M385.5 549.8v6.97M390.5 549.8v6.97M395.5 549.8v6.97M396.5 549.8v6.97M397.5 549.8v6.97M400.5 549.8v6.97M413.5 549.8v6.97M431.5 549.8v6.97M363.5 556.72v6.97M402.5 556.72v6.97M404.5 556.72v6.97M236.5 563.64v6.97M241.5 563.64v6.97M242.5 563.64v6.97M243.5 563.64v6.97M244.5 563.64v6.97M249.5 563.64v6.97M250.5 563.64v6.97M252.5 563.64v6.97M255.5 563.64v6.97M271.5 563.64v6.97M272.5 563.64v6.97M273.5 563.64v6.97M274.5 563.64v6.97M281.5 563.64v6.97M293.5 563.64v6.97M295.5 563.64v6.97M296.5 563.64v6.97M297.5 563.64v6.97M302.5 563.64v6.97M307.5 563.64v6.97M311.5 563.64v6.97M312.5 563.64v6.97M267.5 598.24v6.97M398.5 598.24v6.97M409.5 598.24v6.97M426.5 598.24v6.97M446.5 598.24v6.97M478.5 598.24v6.97M396.5 605.16v6.97M407.5 605.16v6.97M419.5 605.16v6.97M436.5 605.16v6.97" stroke="#375696" stroke-width="1.00" shape-rendering="crispEdges"/>
<path d="M257.5 494.44v6.97M397.5 494.44v6.97M467.5 494.44v6.97M477.5 494.44v6.97M479.5 494.44v6.97M241.5 508.28v6.97M265.5 508.28v6.97M289.5 508.28v6.97M306.5 508.28v6.97M392.5 515.2v6.97M399.5 515.2v6.97M406.5 515.2v6.97M410.5 515.2v6.97M435.5 515.2v6.97M448.5 515.2v6.97M455.5 515.2v6.97M457.5 515.2v6.97M461.5 515.2v6.97M462.5 515.2v6.97M383.5 529.04v6.97M385.5 529.04v6.97M389.5 529.04v6.97M390.5 529.04v6.97M391.5 529.04v6.97M392.5 529.04v6.97M393.5 529.04v6.97M394.5 529.04v6.97M398.5 529.04v6.97M405.5 529.04v6.97M406.5 529.04v6.97M408.5 529.04v6.97M416.5 529.04v6.97M418.5 529.04v6.97M422.5 529.04v6.97M424.5 529.04v6.97M426.5 529.04v6.97M429.5 529.04v6.97M438.5 529.04v6.97M454.5 529.04v6.97M455.5 529.04v6.97M457.5 529.04v6.97M458.5 529.04v6.97M468.5 529.04v6.97M469.5 529.04v6.97M471.5 529.04v6.97M474.5 529.04v6.97M478.5 529.04v6.97M480.5 529.04v6.97M481.5 529.04v6.97M482.5 529.04v6.97M484.5 529.04v6.97M449.5 535.96v6.97M437.5 549.8v6.97M438.5 549.8v6.97M456.5 549.8v6.97M457.5 549.8v6.97M468.5 549.8v6.97M471.5 549.8v6.97M390.5 556.72v6.97M392.5 556.72v6.97M394.5 556.72v6.97M399.5 556.72v6.97M409.5 556.72v6.97M422.5 556.72v6.97M429.5 556.72v6.97M432.5 556.72v6.97M435.5 556.72v6.97M437.5 556.72v6.97M439.5 556.72v6.97M442.5 556.72v6.97M446.5 556.72v6.97M449.5 556.72v6.97M450.5 556.72v6.97M453.5 556.72v6.97M457.5 556.72v6.97M461.5 556.72v6.97M463.5 556.72v6.97M464.5 556.72v6.97M470.5 556.72v6.97M475.5 556.72v6.97M477.5 556.72v6.97M484.5 556.72v6.97M375.5 577.48v6.97M237.5 598.24v6.97M241.5 598.24v6.97M244.5 598.24v6.97M246.5 598.24v6.97M250.5 598.24v6.97M255.5 598.24v6.97M257.5 598.24v6.97M260.5 598.24v6.97M261.5 598.24v6.97M262.5 598.24v6.97M265.5 598.24v6.97M266.5 598.24v6.97M269.5 598.24v6.97M272.5 598.24v6.97M275.5 598.24v6.97M278.5 598.24v6.97M281.5 598.24v6.97M284.5 598.24v6.97M287.5 598.24v6.97M290.5 598.24v6.97M292.5 598.24v6.97M306.5 598.24v6.97M309.5 598.24v6.97M336.5 598.24v6.97M404.5 598.24v6.97M413.5 598.24v6.97M427.5 598.24v6.97M428.5 598.24v6.97M433.5 598.24v6.97M439.5 598.24v6.97M441.5 598.24v6.97M442.5 598.24v6.97M445.5 598.24v6.97M447.5 598.24v6.97M452.5 598.24v6.97M454.5 598.24v6.97M456.5 598.24v6.97M457.5 598.24v6.97M460.5 598.24v6.97M461.5 598.24v6.97M464.5 598.24v6.97M467.5 598.24v6.97M471.5 598.24v6.97M472.5 598.24v6.97M473.5 598.24v6.97M474.5 598.24v6.97M475.5 598.24v6.97M476.5 598.24v6.97M477.5 598.24v6.97M479.5 598.24v6.97" stroke="#274582" stroke-width="1.00" shape-rendering="crispEdges"/>
<path d="M259.5 494.44v6.97M297.5 494.44v6.97M396.5 494.44v6.97M417.5 494.44v6.97M424.5 494.44v6.97M429.5 494.44v6.97M481.5 501.36v6.97M236.5 508.28v6.97M252.5 508.28v6.97M254.5 508.28v6.97M261.5 508.28v6.97M287.5 508.28v6.97M419.5 508.28v6.97M424.5 508.28v6.97M448.5 508.28v6.97M397.5 515.2v6.97M433.5 515.2v6.97M481.5 515.2v6.97M482.5 515.2v6.97M400.5 529.04v6.97M410.5 529.04v6.97M411.5 529.04v6.97M412.5 529.04v6.97M415.5 529.04v6.97M419.5 529.04v6.97M433.5 529.04v6.97M435.5 529.04v6.97M383.5 535.96v6.97M391.5 535.96v6.97M393.5 535.96v6.97M395.5 535.96v6.97M396.5 535.96v6.97M397.5 535.96v6.97M398.5 535.96v6.97M401.5 535.96v6.97M482.5 535.96v6.97M441.5 549.8v6.97M445.5 549.8v6.97M449.5 549.8v6.97M458.5 549.8v6.97M459.5 549.8v6.97M469.5 549.8v6.97M480.5 549.8v6.97M482.5 549.8v6.97M483.5 549.8v6.97M389.5 556.72v6.97M400.5 556.72v6.97M420.5 556.72v6.97M428.5 556.72v6.97M459.5 556.72v6.97M438.5 563.64v6.97M439.5 563.64v6.97M442.5 563.64v6.97M447.5 563.64v6.97M448.5 563.64v6.97M449.5 563.64v6.97M464.5 563.64v6.97M477.5 563.64v6.97M479.5 563.64v6.97M395.5 570.56v6.97M404.5 570.56v6.97M411.5 570.56v6.97M412.5 570.56v6.97M414.5 570.56v6.97M431.5 570.56v6.97M432.5 570.56v6.97M433.5 570.56v6.97M434.5 570.56v6.97M436.5 570.56v6.97M438.5 570.56v6.97M439.5 570.56v6.97M449.5 570.56v6.97M452.5 570.56v6.97M453.5 570.56v6.97M454.5 570.56v6.97M455.5 570.56v6.97M462.5 570.56v6.97M464.5 570.56v6.97M466.5 570.56v6.97M468.5 570.56v6.97M471.5 570.56v6.97M476.5 570.56v6.97M482.5 570.56v6.97M259.5 577.48v6.97M331.5 577.48v6.97M411.5 584.4v6.97M484.5 584.4v6.97M277.5 591.32v6.97M279.5 591.32v6.97M238.5 598.24v6.97M382.5 598.24v6.97M419.5 598.24v6.97M453.5 598.24v6.97M455.5 598.24v6.97M238.5 605.16v6.97M244.5 605.16v6.97M258.5 605.16v6.97M259.5 605.16v6.97M260.5 605.16v6.97M263.5 605.16v6.97M265.5 605.16v6.97M269.5 605.16v6.97M279.5 605.16v6.97M292.5 605.16v6.97M302.5 605.16v6.97M303.5 605.16v6.97M313.5 605.16v6.97M314.5 605.16v6.97M315.5 605.16v6.97M318.5 605.16v6.97M438.5 605.16v6.97M439.5 605.16v6.97M440.5 605.16v6.97M445.5 605.16v6.97M446.5 605.16v6.97M447.5 605.16v6.97M448.5 605.16v6.97M450.5 605.16v6.97M451.5 605.16v6.97M452.5 605.16v6.97M455.5 605.16v6.97M456.5 605.16v6.97M461.5 605.16v6.97M462.5 605.16v6.97M465.5 605.16v6.97M474.5 605.16v6.97M475.5 605.16v6.97M476.5 605.16v6.97M477.5 605.16v6.97M478.5 605.16v6.97M479.5 605.16v6.97M481.5 605.16v6.97M482.5 605.16v6.97M483.5 605.16v6.97M484.5 605.16v6.97" stroke="#2a5192" stroke-width="1.00" shape-rendering="crispEdges"/>
<path d="M278.5 494.44v6.97M255.5 501.36v6.97M354.5 501.36v6.97M484.5 501.36v6.97M239.5 508.28v6.97M248.5 508.28v6.97M263.5 508.28v6.97M278.5 508.28v6.97M298.5 508.28v6.97M397.5 508.28v6.97M482.5 508.28v6.97M384.5 515.2v6.97M444.5 515.2v6.97M445.5 515.2v6.97M446.5 515.2v6.97M480.5 515.2v6.97M483.5 515.2v6.97M261.5 529.04v6.97M275.5 529.04v6.97M464.5 529.04v6.97M477.5 529.04v6.97M399.5 535.96v6.97M400.5 535.96v6.97M417.5 535.96v6.97M445.5 535.96v6.97M447.5 535.96v6.97M481.5 535.96v6.97M463.5 549.8v6.97M475.5 549.8v6.97M476.5 549.8v6.97M481.5 549.8v6.97M469.5 556.72v6.97M437.5 563.64v6.97M440.5 563.64v6.97M443.5 563.64v6.97M445.5 563.64v6.97M446.5 563.64v6.97M450.5 563.64v6.97M451.5 563.64v6.97M452.5 563.64v6.97M453.5 563.64v6.97M459.5 563.64v6.97M463.5 563.64v6.97M465.5 563.64v6.97M466.5 563.64v6.97M470.5 563.64v6.97M471.5 563.64v6.97M476.5 563.64v6.97M478.5 563.64v6.97M481.5 563.64v6.97M482.5 563.64v6.97M483.5 563.64v6.97M316.5 570.56v6.97M381.5 570.56v6.97M384.5 570.56v6.97M386.5 570.56v6.97M387.5 570.56v6.97M392.5 570.56v6.97M394.5 570.56v6.97M403.5 570.56v6.97M408.5 570.56v6.97M409.5 570.56v6.97M410.5 570.56v6.97M413.5 570.56v6.97M417.5 570.56v6.97M418.5 570.56v6.97M424.5 570.56v6.97M425.5 570.56v6.97M429.5 570.56v6.97M430.5 570.56v6.97M435.5 570.56v6.97M440.5 570.56v6.97M448.5 570.56v6.97M450.5 570.56v6.97M451.5 570.56v6.97M457.5 570.56v6.97M458.5 570.56v6.97M459.5 570.56v6.97M465.5 570.56v6.97M467.5 570.56v6.97M472.5 570.56v6.97M473.5 570.56v6.97M474.5 570.56v6.97M475.5 570.56v6.97M479.5 570.56v6.97M275.5 577.48v6.97M374.5 584.4v6.97M382.5 584.4v6.97M412.5 584.4v6.97M428.5 584.4v6.97M441.5 584.4v6.97M448.5 584.4v6.97M457.5 584.4v6.97M467.5 584.4v6.97M479.5 584.4v6.97M248.5 591.32v6.97M308.5 591.32v6.97M237.5 605.16v6.97M241.5 605.16v6.97M242.5 605.16v6.97M243.5 605.16v6.97M245.5 605.16v6.97M247.5 605.16v6.97M250.5 605.16v6.97M251.5 605.16v6.97M255.5 605.16v6.97M256.5 605.16v6.97M261.5 605.16v6.97M262.5 605.16v6.97M264.5 605.16v6.97M270.5 605.16v6.97M272.5 605.16v6.97M273.5 605.16v6.97M274.5 605.16v6.97M275.5 605.16v6.97M283.5 605.16v6.97M284.5 605.16v6.97M285.5 605.16v6.97M286.5 605.16v6.97M291.5 605.16v6.97M293.5 605.16v6.97M294.5 605.16v6.97M296.5 605.16v6.97M297.5 605.16v6.97M298.5 605.16v6.97M299.5 605.16v6.97M301.5 605.16v6.97M307.5 605.16v6.97M312.5 605.16v6.97M437.5 605.16v6.97" stroke="#2a5597" stroke-width="1.00" shape-rendering="crispEdges"/>
<path d="M289.5 494.44v6.97M291.5 494.44v6.97M292.5 494.44v6.97M299.5 494.44v6.97M391.5 494.44v6.97M398.5 494.44v6.97M402.5 494.44v6.97M409.5 494.44v6.97M414.5 494.44v6.97M448.5 494.44v6.97M461.5 494.44v6.97M484.5 494.44v6.97M480.5 501.36v6.97M244.5 508.28v6.97M253.5 508.28v6.97M256.5 508.28v6.97M272.5 508.28v6.97M274.5 508.28v6.97M283.5 508.28v6.97M291.5 508.28v6.97M295.5 508.28v6.97M299.5 508.28v6.97M300.5 508.28v6.97M310.5 508.28v6.97M313.5 508.28v6.97M383.5 508.28v6.97M429.5 508.28v6.97M444.5 508.28v6.97M453.5 508.28v6.97M455.5 508.28v6.97M480.5 508.28v6.97M483.5 508.28v6.97M381.5 515.2v6.97M382.5 515.2v6.97M383.5 515.2v6.97M386.5 515.2v6.97M387.5 515.2v6.97M388.5 515.2v6.97M389.5 515.2v6.97M394.5 515.2v6.97M401.5 515.2v6.97M402.5 515.2v6.97M412.5 515.2v6.97M413.5 515.2v6.97M414.5 515.2v6.97M415.5 515.2v6.97M417.5 515.2v6.97M421.5 515.2v6.97M422.5 515.2v6.97M423.5 515.2v6.97M424.5 515.2v6.97M425.5 515.2v6.97M427.5 515.2v6.97M428.5 515.2v6.97M432.5 515.2v6.97M434.5 515.2v6.97M452.5 515.2v6.97M453.5 515.2v6.97M458.5 515.2v6.97M459.5 515.2v6.97M464.5 515.2v6.97M468.5 515.2v6.97M399.5 529.04v6.97M402.5 529.04v6.97M414.5 529.04v6.97M420.5 529.04v6.97M425.5 529.04v6.97M439.5 529.04v6.97M442.5 529.04v6.97M446.5 529.04v6.97M447.5 529.04v6.97M448.5 529.04v6.97M462.5 529.04v6.97M390.5 535.96v6.97M407.5 535.96v6.97M411.5 535.96v6.97M419.5 535.96v6.97M422.5 535.96v6.97M425.5 535.96v6.97M426.5 535.96v6.97M432.5 535.96v6.97M435.5 535.96v6.97M441.5 535.96v6.97M457.5 535.96v6.97M468.5 535.96v6.97M473.5 535.96v6.97M480.5 535.96v6.97M483.5 535.96v6.97M484.5 535.96v6.97M439.5 549.8v6.97M440.5 549.8v6.97M443.5 549.8v6.97M444.5 549.8v6.97M448.5 549.8v6.97M466.5 549.8v6.97M470.5 549.8v6.97M477.5 549.8v6.97M479.5 549.8v6.97M393.5 556.72v6.97M401.5 556.72v6.97M406.5 556.72v6.97M407.5 556.72v6.97M412.5 556.72v6.97M423.5 556.72v6.97M440.5 556.72v6.97M447.5 556.72v6.97M452.5 556.72v6.97M455.5 556.72v6.97M458.5 556.72v6.97M460.5 556.72v6.97M466.5 556.72v6.97M474.5 556.72v6.97M476.5 556.72v6.97M479.5 556.72v6.97M480.5 556.72v6.97M481.5 556.72v6.97M482.5 556.72v6.97M483.5 556.72v6.97M437.5 570.56v6.97M456.5 570.56v6.97M463.5 570.56v6.97M469.5 570.56v6.97M470.5 570.56v6.97M483.5 570.56v6.97M484.5 570.56v6.97M236.5 598.24v6.97M240.5 598.24v6.97M251.5 598.24v6.97M274.5 598.24v6.97M276.5 598.24v6.97M285.5 598.24v6.97M286.5 598.24v6.97M288.5 598.24v6.97M296.5 598.24v6.97M395.5 598.24v6.97M399.5 598.24v6.97M405.5 598.24v6.97M429.5 598.24v6.97M465.5 598.24v6.97M252.5 605.16v6.97M257.5 605.16v6.97M268.5 605.16v6.97M280.5 605.16v6.97M281.5 605.16v6.97M282.5 605.16v6.97M441.5 605.16v6.97M442.5 605.16v6.97M443.5 605.16v6.97M444.5 605.16v6.97M449.5 605.16v6.97M453.5 605.16v6.97M454.5 605.16v6.97M458.5 605.16v6.97M459.5 605.16v6.97M460.5 605.16v6.97M463.5 605.16v6.97M464.5 605.16v6.97M468.5 605.16v6.97M469.5 605.16v6.97M470.5 605.16v6.97M471.5 605.16v6.97M472.5 605.16v6.97M473.5 605.16v6.97M480.5 605.16v6.97" stroke="#284b8b" stroke-width="1.00" shape-rendering="crispEdges"/>
<path d="M316.5 494.44v6.97M332.5 494.44v6.97M354.5 494.44v6.97M378.5 494.44v6.97M379.5 494.44v6.97M483.5 522.12v6.97M329.5 529.04v6.97M330.5 529.04v6.97M331.5 529.04v6.97M333.5 529.04v6.97M370.5 529.04v6.97M330.5 535.96v6.97M335.5 535.96v6.97M340.5 535.96v6.97M345.5 535.96v6.97M350.5 535.96v6.97M360.5 535.96v6.97M316.5 549.8v6.97M317.5 549.8v6.97M327.5 549.8v6.97M332.5 549.8v6.97M337.5 549.8v6.97M339.5 549.8v6.97M345.5 549.8v6.97M364.5 549.8v6.97M367.5 549.8v6.97M379.5 549.8v6.97M322.5 556.72v6.97M323.5 556.72v6.97M324.5 556.72v6.97M336.5 556.72v6.97M372.5 556.72v6.97M320.5 570.56v6.97M329.5 570.56v6.97M336.5 570.56v6.97M337.5 570.56v6.97M371.5 570.56v6.97M328.5 598.24v6.97M340.5 598.24v6.97M359.5 598.24v6.97M372.5 598.24v6.97" stroke="#9b8bac" stroke-width="1.00" shape-rendering="crispEdges"/>
<path d="M317.5 494.44v6.97M333.5 501.36v6.97M319.5 515.2v6.97M329.5 515.2v6.97M336.5 515.2v6.97M337.5 515.2v6.97M361.5 515.2v6.97M342.5 529.04v6.97M350.5 529.04v6.97M369.5 529.04v6.97M373.5 529.04v6.97M376.5 529.04v6.97M334.5 535.96v6.97M336.5 535.96v6.97M339.5 535.96v6.97M351.5 535.96v6.97M354.5 535.96v6.97M357.5 535.96v6.97M362.5 535.96v6.97M363.5 535.96v6.97M370.5 535.96v6.97M378.5 535.96v6.97M319.5 549.8v6.97M328.5 549.8v6.97M374.5 549.8v6.97M333.5 556.72v6.97M339.5 556.72v6.97M379.5 556.72v6.97M333.5 570.56v6.97M341.5 570.56v6.97M352.5 570.56v6.97M358.5 570.56v6.97M372.5 570.56v6.97M374.5 570.56v6.97M322.5 577.48v6.97M327.5 598.24v6.97M356.5 598.24v6.97M358.5 598.24v6.97M360.5 598.24v6.97M363.5 598.24v6.97M364.5 598.24v6.97" stroke="#927290" stroke-width="1.00" shape-rendering="crispEdges"/>
<path d="M318.5 494.44v6.97M326.5 494.44v6.97M328.5 494.44v6.97M338.5 494.44v6.97M320.5 515.2v6.97M335.5 515.2v6.97M343.5 515.2v6.97M344.5 515.2v6.97M350.5 515.2v6.97M351.5 515.2v6.97M355.5 515.2v6.97M374.5 515.2v6.97M374.5 529.04v6.97M322.5 535.96v6.97M324.5 535.96v6.97M325.5 535.96v6.97M332.5 535.96v6.97M333.5 535.96v6.97M355.5 535.96v6.97M356.5 535.96v6.97M367.5 535.96v6.97M373.5 535.96v6.97M326.5 556.72v6.97M331.5 556.72v6.97M340.5 556.72v6.97M332.5 570.56v6.97M344.5 570.56v6.97M363.5 570.56v6.97M373.5 570.56v6.97M320.5 577.48v6.97M344.5 598.24v6.97M352.5 598.24v6.97M357.5 598.24v6.97" stroke="#803b5e" stroke-width="1.00" shape-rendering="crispEdges"/>
<path d="M319.5 494.44v6.97M321.5 494.44v6.97M322.5 494.44v6.97M323.5 494.44v6.97M327.5 494.44v6.97M333.5 494.44v6.97M334.5 494.44v6.97M349.5 494.44v6.97M350.5 494.44v6.97M351.5 494.44v6.97M358.5 494.44v6.97M366.5 494.44v6.97M371.5 494.44v6.97M374.5 494.44v6.97M316.5 535.96v6.97M318.5 535.96v6.97M366.5 535.96v6.97M380.5 549.8v6.97M380.5 570.56v6.97" stroke="#a17284" stroke-width="1.00" shape-rendering="crispEdges"/>
<path d="M320.5 494.44v6.97M342.5 494.44v6.97M343.5 494.44v6.97M360.5 494.44v6.97M373.5 494.44v6.97M377.5 494.44v6.97M380.5 494.44v6.97M334.5 501.36v6.97M378.5 501.36v6.97M320.5 508.28v6.97M332.5 508.28v6.97M335.5 508.28v6.97M337.5 508.28v6.97M338.5 508.28v6.97M342.5 508.28v6.97M351.5 508.28v6.97M354.5 508.28v6.97M318.5 515.2v6.97M338.5 515.2v6.97M349.5 515.2v6.97M352.5 515.2v6.97M354.5 515.2v6.97M359.5 515.2v6.97M365.5 515.2v6.97M372.5 515.2v6.97M377.5 515.2v6.97M480.5 522.12v6.97M481.5 522.12v6.97M319.5 529.04v6.97M323.5 529.04v6.97M328.5 529.04v6.97M335.5 529.04v6.97M339.5 529.04v6.97M359.5 529.04v6.97M368.5 529.04v6.97M317.5 535.96v6.97M348.5 535.96v6.97M358.5 535.96v6.97M361.5 535.96v6.97M364.5 535.96v6.97M375.5 535.96v6.97M361.5 542.88v6.97M341.5 549.8v6.97M325.5 556.72v6.97M330.5 556.72v6.97M341.5 556.72v6.97M347.5 556.72v6.97M354.5 556.72v6.97M358.5 556.72v6.97M360.5 556.72v6.97M371.5 556.72v6.97M373.5 556.72v6.97M378.5 556.72v6.97M379.5 563.64v6.97M331.5 570.56v6.97M338.5 570.56v6.97M340.5 570.56v6.97M342.5 570.56v6.97M355.5 570.56v6.97M365.5 570.56v6.97M323.5 577.48v6.97M324.5 577.48v6.97M328.5 577.48v6.97M334.5 577.48v6.97M335.5 577.48v6.97M350.5 577.48v6.97M356.5 577.48v6.97M319.5 584.4v6.97M317.5 591.32v6.97M320.5 591.32v6.97M345.5 591.32v6.97M332.5 598.24v6.97M361.5 598.24v6.97M376.5 598.24v6.97M378.5 598.24v6.97M336.5 605.16v6.97M337.5 605.16v6.97M338.5 605.16v6.97M346.5 605.16v6.97M376.5 605.16v6.97" stroke="#867ca2" stroke-width="1.00" shape-rendering="crispEdges"/>
<path d="M324.5 494.44v6.97M340.5 494.44v6.97M346.5 494.44v6.97M357.5 494.44v6.97M364.5 494.44v6.97M334.5 515.2v6.97M341.5 515.2v6.97M342.5 515.2v6.97M362.5 515.2v6.97M366.5 515.2v6.97M367.5 515.2v6.97M373.5 515.2v6.97M375.5 515.2v6.97M376.5 515.2v6.97M351.5 529.04v6.97M372.5 529.04v6.97M375.5 529.04v6.97M326.5 535.96v6.97M327.5 535.96v6.97M328.5 535.96v6.97M353.5 535.96v6.97M368.5 535.96v6.97M369.5 535.96v6.97M376.5 535.96v6.97M377.5 535.96v6.97M347.5 549.8v6.97M357.5 549.8v6.97M365.5 549.8v6.97M366.5 549.8v6.97M373.5 549.8v6.97M332.5 556.72v6.97M350.5 556.72v6.97M361.5 556.72v6.97M359.5 570.56v6.97M319.5 577.48v6.97M321.5 577.48v6.97M333.5 577.48v6.97M316.5 598.24v6.97M326.5 598.24v6.97M345.5 598.24v6.97M365.5 598.24v6.97M373.5 598.24v6.97" stroke="#905f79" stroke-width="1.00" shape-rendering="crispEdges"/>
<path d="M325.5 494.44v6.97M330.5 494.44v6.97M337.5 494.44v6.97M338.5 529.04v6.97M362.5 529.04v6.97M363.5 529.04v6.97M380.5 529.04v6.97M342.5 535.96v6.97M364.5 570.56v6.97M318.5 577.48v6.97M351.5 577.48v6.97M378.5 577.48v6.97M379.5 577.48v6.97M318.5 591.32v6.97M369.5 591.32v6.97M324.5 598.24v6.97M325.5 598.24v6.97M374.5 598.24v6.97M375.5 598.24v6.97" stroke="#5f1f51" stroke-width="1.00" shape-rendering="crispEdges"/>
<path d="M329.5 494.44v6.97M339.5 494.44v6.97M379.5 501.36v6.97M334.5 508.28v6.97M341.5 508.28v6.97M367.5 508.28v6.97M380.5 508.28v6.97M358.5 515.2v6.97M370.5 515.2v6.97M337.5 529.04v6.97M349.5 529.04v6.97M356.5 529.04v6.97M367.5 529.04v6.97M346.5 542.88v6.97M379.5 542.88v6.97M354.5 549.8v6.97M356.5 549.8v6.97M321.5 556.72v6.97M345.5 556.72v6.97M353.5 556.72v6.97M356.5 556.72v6.97M359.5 556.72v6.97M369.5 556.72v6.97M375.5 556.72v6.97M377.5 556.72v6.97M375.5 563.64v6.97M376.5 563.64v6.97M380.5 563.64v6.97M317.5 570.56v6.97M376.5 570.56v6.97M325.5 577.48v6.97M377.5 577.48v6.97M320.5 584.4v6.97M350.5 584.4v6.97M371.5 584.4v6.97M376.5 584.4v6.97M324.5 591.32v6.97M370.5 591.32v6.97M348.5 598.24v6.97M351.5 598.24v6.97M355.5 598.24v6.97M366.5 598.24v6.97M316.5 605.16v6.97M331.5 605.16v6.97M349.5 605.16v6.97M354.5 605.16v6.97M356.5 605.16v6.97M357.5 605.16v6.97" stroke="#765277" stroke-width="1.00" shape-rendering="crispEdges"/>
<path d="M331.5 494.44v6.97M347.5 494.44v6.97M348.5 494.44v6.97M352.5 494.44v6.97M353.5 494.44v6.97M355.5 494.44v6.97M363.5 494.44v6.97M365.5 494.44v6.97M367.5 494.44v6.97M372.5 494.44v6.97M326.5 515.2v6.97M327.5 515.2v6.97M328.5 515.2v6.97M482.5 522.12v6.97M332.5 529.04v6.97M334.5 529.04v6.97M371.5 529.04v6.97M319.5 535.96v6.97M320.5 535.96v6.97M321.5 535.96v6.97M329.5 535.96v6.97M331.5 535.96v6.97M337.5 535.96v6.97M338.5 535.96v6.97M341.5 535.96v6.97M346.5 535.96v6.97M347.5 535.96v6.97M352.5 535.96v6.97M365.5 535.96v6.97M374.5 535.96v6.97M336.5 549.8v6.97M338.5 549.8v6.97M350.5 549.8v6.97M353.5 549.8v6.97M378.5 549.8v6.97M318.5 556.72v6.97M348.5 556.72v6.97M380.5 556.72v6.97M321.5 570.56v6.97M334.5 570.56v6.97M360.5 570.56v6.97M366.5 570.56v6.97M375.5 570.56v6.97M379.5 570.56v6.97M317.5 598.24v6.97M329.5 598.24v6.97M330.5 598.24v6.97M371.5 598.24v6.97" stroke="#997f9d" stroke-width="1.00" shape-rendering="crispEdges"/>
<path d="M341.5 494.44v6.97M370.5 494.44v6.97M375.5 494.44v6.97M320.5 501.36v6.97M331.5 501.36v6.97M336.5 501.36v6.97M339.5 501.36v6.97M341.5 501.36v6.97M342.5 501.36v6.97M351.5 501.36v6.97M358.5 501.36v6.97M364.5 501.36v6.97M333.5 508.28v6.97M340.5 508.28v6.97M348.5 508.28v6.97M349.5 508.28v6.97M352.5 508.28v6.97M353.5 508.28v6.97M368.5 508.28v6.97M370.5 508.28v6.97M321.5 515.2v6.97M333.5 515.2v6.97M356.5 515.2v6.97M484.5 522.12v6.97M347.5 529.04v6.97M361.5 529.04v6.97M372.5 535.96v6.97M321.5 542.88v6.97M345.5 542.88v6.97M380.5 542.88v6.97M362.5 549.8v6.97M351.5 556.72v6.97M362.5 556.72v6.97M366.5 556.72v6.97M346.5 563.64v6.97M374.5 563.64v6.97M378.5 563.64v6.97M324.5 570.56v6.97M345.5 570.56v6.97M351.5 570.56v6.97M327.5 577.48v6.97M332.5 577.48v6.97M337.5 577.48v6.97M352.5 577.48v6.97M364.5 577.48v6.97M367.5 584.4v6.97M372.5 584.4v6.97M316.5 591.32v6.97M327.5 591.32v6.97M330.5 591.32v6.97M333.5 591.32v6.97M352.5 591.32v6.97M371.5 591.32v6.97M319.5 605.16v6.97M332.5 605.16v6.97M335.5 605.16v6.97M344.5 605.16v6.97M345.5 605.16v6.97M347.5 605.16v6.97M348.5 605.16v6.97M361.5 605.16v6.97M366.5 605.16v6.97M373.5 605.16v6.97M375.5 605.16v6.97" stroke="#7c6d90" stroke-width="1.00" shape-rendering="crispEdges"/>
<path d="M369.5 494.44v6.97M421.5 494.44v6.97M316.5 515.2v6.97M332.5 515.2v6.97M336.5 529.04v6.97M430.5 529.04v6.97M250.5 535.96v6.97M252.5 535.96v6.97M282.5 535.96v6.97M285.5 535.96v6.97M290.5 535.96v6.97M295.5 535.96v6.97M297.5 535.96v6.97M240.5 549.8v6.97M246.5 549.8v6.97M269.5 549.8v6.97M392.5 549.8v6.97M418.5 549.8v6.97M435.5 549.8v6.97M329.5 556.72v6.97M346.5 556.72v6.97M367.5 556.72v6.97M261.5 563.64v6.97M280.5 563.64v6.97M284.5 563.64v6.97M288.5 563.64v6.97M343.5 570.56v6.97M377.5 570.56v6.97M354.5 598.24v6.97M325.5 605.16v6.97M378.5 605.16v6.97" stroke="#435c97" stroke-width="1.00" shape-rendering="crispEdges"/>
<path d="M236.5 501.36v6.97M240.5 501.36v6.97M246.5 501.36v6.97M260.5 501.36v6.97M261.5 501.36v6.97M268.5 501.36v6.97M269.5 501.36v6.97M270.5 501.36v6.97M271.5 501.36v6.97M274.5 501.36v6.97M287.5 501.36v6.97M302.5 501.36v6.97M303.5 501.36v6.97M312.5 501.36v6.97M315.5 501.36v6.97M238.5 508.28v6.97M242.5 508.28v6.97M245.5 508.28v6.97M246.5 508.28v6.97M250.5 508.28v6.97M251.5 508.28v6.97M259.5 508.28v6.97M260.5 508.28v6.97M266.5 508.28v6.97M267.5 508.28v6.97M268.5 508.28v6.97M271.5 508.28v6.97M284.5 508.28v6.97M290.5 508.28v6.97M293.5 508.28v6.97M384.5 508.28v6.97M385.5 508.28v6.97M386.5 508.28v6.97M405.5 508.28v6.97M412.5 508.28v6.97M413.5 508.28v6.97M417.5 508.28v6.97M418.5 508.28v6.97M430.5 508.28v6.97M433.5 508.28v6.97M436.5 508.28v6.97M437.5 508.28v6.97M438.5 508.28v6.97M440.5 508.28v6.97M442.5 508.28v6.97M452.5 508.28v6.97M460.5 508.28v6.97M461.5 508.28v6.97M467.5 508.28v6.97M468.5 508.28v6.97M469.5 508.28v6.97M476.5 508.28v6.97M477.5 508.28v6.97M391.5 515.2v6.97M395.5 515.2v6.97M408.5 515.2v6.97M419.5 515.2v6.97M430.5 515.2v6.97M431.5 515.2v6.97M442.5 515.2v6.97M236.5 529.04v6.97M240.5 529.04v6.97M241.5 529.04v6.97M243.5 529.04v6.97M246.5 529.04v6.97M247.5 529.04v6.97M248.5 529.04v6.97M249.5 529.04v6.97M250.5 529.04v6.97M251.5 529.04v6.97M252.5 529.04v6.97M253.5 529.04v6.97M254.5 529.04v6.97M255.5 529.04v6.97M256.5 529.04v6.97M265.5 529.04v6.97M266.5 529.04v6.97M269.5 529.04v6.97M270.5 529.04v6.97M271.5 529.04v6.97M272.5 529.04v6.97M273.5 529.04v6.97M283.5 529.04v6.97M284.5 529.04v6.97M286.5 529.04v6.97M289.5 529.04v6.97M290.5 529.04v6.97M291.5 529.04v6.97M292.5 529.04v6.97M293.5 529.04v6.97M294.5 529.04v6.97M295.5 529.04v6.97M296.5 529.04v6.97M297.5 529.04v6.97M306.5 529.04v6.97M311.5 529.04v6.97M313.5 529.04v6.97M315.5 529.04v6.97M389.5 535.96v6.97M404.5 535.96v6.97M405.5 535.96v6.97M408.5 535.96v6.97M409.5 535.96v6.97M413.5 535.96v6.97M415.5 535.96v6.97M424.5 535.96v6.97M427.5 535.96v6.97M443.5 535.96v6.97M453.5 535.96v6.97M454.5 535.96v6.97M461.5 535.96v6.97M464.5 535.96v6.97M477.5 535.96v6.97M238.5 556.72v6.97M239.5 556.72v6.97M242.5 556.72v6.97M248.5 556.72v6.97M249.5 556.72v6.97M250.5 556.72v6.97M251.5 556.72v6.97M253.5 556.72v6.97M254.5 556.72v6.97M255.5 556.72v6.97M260.5 556.72v6.97M261.5 556.72v6.97M262.5 556.72v6.97M263.5 556.72v6.97M264.5 556.72v6.97M268.5 556.72v6.97M270.5 556.72v6.97M274.5 556.72v6.97M275.5 556.72v6.97M276.5 556.72v6.97M277.5 556.72v6.97M278.5 556.72v6.97M279.5 556.72v6.97M280.5 556.72v6.97M286.5 556.72v6.97M287.5 556.72v6.97M289.5 556.72v6.97M290.5 556.72v6.97M291.5 556.72v6.97M297.5 556.72v6.97M302.5 556.72v6.97M303.5 556.72v6.97M306.5 556.72v6.97M312.5 556.72v6.97M313.5 556.72v6.97M314.5 556.72v6.97M361.5 591.32v6.97" stroke="#1e4281" stroke-width="1.00" shape-rendering="crispEdges"/>
<path d="M237.5 501.36v6.97M238.5 501.36v6.97M239.5 501.36v6.97M241.5 501.36v6.97M244.5 501.36v6.97M245.5 501.36v6.97M247.5 501.36v6.97M248.5 501.36v6.97M249.5 501.36v6.97M250.5 501.36v6.97M254.5 501.36v6.97M258.5 501.36v6.97M263.5 501.36v6.97M264.5 501.36v6.97M267.5 501.36v6.97M272.5 501.36v6.97M273.5 501.36v6.97M280.5 501.36v6.97M281.5 501.36v6.97M282.5 501.36v6.97M284.5 501.36v6.97M285.5 501.36v6.97M286.5 501.36v6.97M288.5 501.36v6.97M289.5 501.36v6.97M290.5 501.36v6.97M291.5 501.36v6.97M295.5 501.36v6.97M296.5 501.36v6.97M297.5 501.36v6.97M298.5 501.36v6.97M299.5 501.36v6.97M301.5 501.36v6.97M304.5 501.36v6.97M305.5 501.36v6.97M306.5 501.36v6.97M309.5 501.36v6.97M310.5 501.36v6.97M311.5 501.36v6.97M313.5 501.36v6.97M314.5 501.36v6.97M237.5 508.28v6.97M247.5 508.28v6.97M249.5 508.28v6.97M257.5 508.28v6.97M258.5 508.28v6.97M276.5 508.28v6.97M279.5 508.28v6.97M285.5 508.28v6.97M286.5 508.28v6.97M292.5 508.28v6.97M307.5 508.28v6.97M308.5 508.28v6.97M345.5 508.28v6.97M387.5 508.28v6.97M393.5 508.28v6.97M398.5 508.28v6.97M406.5 508.28v6.97M408.5 508.28v6.97M410.5 508.28v6.97M411.5 508.28v6.97M414.5 508.28v6.97M415.5 508.28v6.97M416.5 508.28v6.97M432.5 508.28v6.97M435.5 508.28v6.97M441.5 508.28v6.97M443.5 508.28v6.97M451.5 508.28v6.97M456.5 508.28v6.97M462.5 508.28v6.97M463.5 508.28v6.97M466.5 508.28v6.97M473.5 508.28v6.97M475.5 508.28v6.97M479.5 508.28v6.97M481.5 508.28v6.97M390.5 515.2v6.97M396.5 515.2v6.97M398.5 515.2v6.97M400.5 515.2v6.97M403.5 515.2v6.97M404.5 515.2v6.97M405.5 515.2v6.97M407.5 515.2v6.97M409.5 515.2v6.97M411.5 515.2v6.97M416.5 515.2v6.97M418.5 515.2v6.97M420.5 515.2v6.97M429.5 515.2v6.97M436.5 515.2v6.97M441.5 515.2v6.97M443.5 515.2v6.97M237.5 529.04v6.97M238.5 529.04v6.97M239.5 529.04v6.97M242.5 529.04v6.97M244.5 529.04v6.97M245.5 529.04v6.97M257.5 529.04v6.97M258.5 529.04v6.97M259.5 529.04v6.97M262.5 529.04v6.97M263.5 529.04v6.97M264.5 529.04v6.97M268.5 529.04v6.97M274.5 529.04v6.97M276.5 529.04v6.97M277.5 529.04v6.97M278.5 529.04v6.97M279.5 529.04v6.97M280.5 529.04v6.97M281.5 529.04v6.97M282.5 529.04v6.97M285.5 529.04v6.97M287.5 529.04v6.97M288.5 529.04v6.97M298.5 529.04v6.97M299.5 529.04v6.97M300.5 529.04v6.97M301.5 529.04v6.97M302.5 529.04v6.97M303.5 529.04v6.97M304.5 529.04v6.97M305.5 529.04v6.97M307.5 529.04v6.97M308.5 529.04v6.97M310.5 529.04v6.97M312.5 529.04v6.97M314.5 529.04v6.97M381.5 535.96v6.97M394.5 535.96v6.97M406.5 535.96v6.97M412.5 535.96v6.97M421.5 535.96v6.97M436.5 535.96v6.97M437.5 535.96v6.97M451.5 535.96v6.97M455.5 535.96v6.97M463.5 535.96v6.97M478.5 535.96v6.97M236.5 556.72v6.97M237.5 556.72v6.97M240.5 556.72v6.97M243.5 556.72v6.97M244.5 556.72v6.97M252.5 556.72v6.97M256.5 556.72v6.97M257.5 556.72v6.97M258.5 556.72v6.97M259.5 556.72v6.97M265.5 556.72v6.97M266.5 556.72v6.97M267.5 556.72v6.97M269.5 556.72v6.97M271.5 556.72v6.97M273.5 556.72v6.97M281.5 556.72v6.97M282.5 556.72v6.97M283.5 556.72v6.97M285.5 556.72v6.97M288.5 556.72v6.97M292.5 556.72v6.97M293.5 556.72v6.97M294.5 556.72v6.97M295.5 556.72v6.97M296.5 556.72v6.97M298.5 556.72v6.97M299.5 556.72v6.97M300.5 556.72v6.97M301.5 556.72v6.97M304.5 556.72v6.97M305.5 556.72v6.97M307.5 556.72v6.97M308.5 556.72v6.97M309.5 556.72v6.97M310.5 556.72v6.97M311.5 556.72v6.97M315.5 556.72v6.97M251.5 577.48v6.97M279.5 577.48v6.97M284.5 577.48v6.97M315.5 577.48v6.97M381.5 584.4v6.97" stroke="#204787" stroke-width="1.00" shape-rendering="crispEdges"/>
<path d="M242.5 501.36v6.97M483.5 501.36v6.97M243.5 508.28v6.97M294.5 508.28v6.97M312.5 508.28v6.97M400.5 508.28v6.97M422.5 508.28v6.97M465.5 515.2v6.97M484.5 515.2v6.97M449.5 529.04v6.97M416.5 535.96v6.97M418.5 535.96v6.97M434.5 535.96v6.97M459.5 535.96v6.97M251.5 542.88v6.97M474.5 549.8v6.97M398.5 556.72v6.97M408.5 556.72v6.97M421.5 556.72v6.97M395.5 563.64v6.97M430.5 563.64v6.97M431.5 563.64v6.97M435.5 563.64v6.97M441.5 563.64v6.97M454.5 563.64v6.97M456.5 563.64v6.97M457.5 563.64v6.97M458.5 563.64v6.97M460.5 563.64v6.97M461.5 563.64v6.97M462.5 563.64v6.97M467.5 563.64v6.97M468.5 563.64v6.97M469.5 563.64v6.97M472.5 563.64v6.97M473.5 563.64v6.97M480.5 563.64v6.97M484.5 563.64v6.97M382.5 570.56v6.97M383.5 570.56v6.97M385.5 570.56v6.97M388.5 570.56v6.97M389.5 570.56v6.97M390.5 570.56v6.97M391.5 570.56v6.97M393.5 570.56v6.97M396.5 570.56v6.97M398.5 570.56v6.97M400.5 570.56v6.97M402.5 570.56v6.97M405.5 570.56v6.97M406.5 570.56v6.97M407.5 570.56v6.97M416.5 570.56v6.97M419.5 570.56v6.97M421.5 570.56v6.97M422.5 570.56v6.97M426.5 570.56v6.97M427.5 570.56v6.97M428.5 570.56v6.97M442.5 570.56v6.97M443.5 570.56v6.97M444.5 570.56v6.97M446.5 570.56v6.97M447.5 570.56v6.97M461.5 570.56v6.97M477.5 570.56v6.97M478.5 570.56v6.97M480.5 570.56v6.97M241.5 577.48v6.97M243.5 577.48v6.97M276.5 577.48v6.97M389.5 584.4v6.97M394.5 584.4v6.97M425.5 584.4v6.97M429.5 584.4v6.97M432.5 584.4v6.97M436.5 584.4v6.97M444.5 584.4v6.97M262.5 591.32v6.97M266.5 591.32v6.97M280.5 591.32v6.97M289.5 591.32v6.97M293.5 591.32v6.97M314.5 591.32v6.97M315.5 591.32v6.97M239.5 598.24v6.97M247.5 598.24v6.97M249.5 598.24v6.97M259.5 598.24v6.97M291.5 598.24v6.97M436.5 598.24v6.97M236.5 605.16v6.97M240.5 605.16v6.97M246.5 605.16v6.97M248.5 605.16v6.97M249.5 605.16v6.97M253.5 605.16v6.97M254.5 605.16v6.97M266.5 605.16v6.97M267.5 605.16v6.97M271.5 605.16v6.97M278.5 605.16v6.97M287.5 605.16v6.97M288.5 605.16v6.97M289.5 605.16v6.97M295.5 605.16v6.97M300.5 605.16v6.97M304.5 605.16v6.97M306.5 605.16v6.97M309.5 605.16v6.97M310.5 605.16v6.97M311.5 605.16v6.97M457.5 605.16v6.97M467.5 605.16v6.97" stroke="#2c599b" stroke-width="1.00" shape-rendering="crispEdges"/>
<path d="M243.5 501.36v6.97M251.5 501.36v6.97M252.5 501.36v6.97M253.5 501.36v6.97M257.5 501.36v6.97M259.5 501.36v6.97M262.5 501.36v6.97M265.5 501.36v6.97M275.5 501.36v6.97M277.5 501.36v6.97M278.5 501.36v6.97M279.5 501.36v6.97M283.5 501.36v6.97M292.5 501.36v6.97M293.5 501.36v6.97M294.5 501.36v6.97M300.5 501.36v6.97M307.5 501.36v6.97M308.5 501.36v6.97M457.5 501.36v6.97M468.5 501.36v6.97M273.5 508.28v6.97M394.5 508.28v6.97M399.5 508.28v6.97M409.5 508.28v6.97M425.5 508.28v6.97M426.5 508.28v6.97M431.5 508.28v6.97M434.5 508.28v6.97M439.5 508.28v6.97M459.5 508.28v6.97M478.5 508.28v6.97M260.5 529.04v6.97M267.5 529.04v6.97M309.5 529.04v6.97M316.5 529.04v6.97M423.5 535.96v6.97M444.5 535.96v6.97M254.5 542.88v6.97M255.5 542.88v6.97M256.5 542.88v6.97M262.5 542.88v6.97M277.5 542.88v6.97M288.5 542.88v6.97M241.5 556.72v6.97M245.5 556.72v6.97M247.5 556.72v6.97M284.5 556.72v6.97M306.5 570.56v6.97M238.5 577.48v6.97M239.5 577.48v6.97M240.5 577.48v6.97M249.5 577.48v6.97M250.5 577.48v6.97M252.5 577.48v6.97M253.5 577.48v6.97M264.5 577.48v6.97M265.5 577.48v6.97M266.5 577.48v6.97M282.5 577.48v6.97M283.5 577.48v6.97M285.5 577.48v6.97M286.5 577.48v6.97M287.5 577.48v6.97M288.5 577.48v6.97M289.5 577.48v6.97M300.5 577.48v6.97M313.5 577.48v6.97M372.5 577.48v6.97M327.5 584.4v6.97M364.5 584.4v6.97M443.5 584.4v6.97M371.5 605.16v6.97" stroke="#214d91" stroke-width="1.00" shape-rendering="crispEdges"/>
<path d="M256.5 501.36v6.97M352.5 501.36v6.97M262.5 508.28v6.97M304.5 508.28v6.97M402.5 535.96v6.97M403.5 535.96v6.97M297.5 542.88v6.97M360.5 549.8v6.97M381.5 563.64v6.97M383.5 563.64v6.97M385.5 563.64v6.97M390.5 563.64v6.97M392.5 563.64v6.97M396.5 563.64v6.97M398.5 563.64v6.97M401.5 563.64v6.97M403.5 563.64v6.97M404.5 563.64v6.97M405.5 563.64v6.97M409.5 563.64v6.97M412.5 563.64v6.97M413.5 563.64v6.97M414.5 563.64v6.97M415.5 563.64v6.97M416.5 563.64v6.97M417.5 563.64v6.97M426.5 563.64v6.97M427.5 563.64v6.97M432.5 563.64v6.97M433.5 563.64v6.97M436.5 563.64v6.97M399.5 570.56v6.97M423.5 570.56v6.97M460.5 570.56v6.97M481.5 570.56v6.97M272.5 577.48v6.97M278.5 577.48v6.97M299.5 577.48v6.97M387.5 584.4v6.97M390.5 584.4v6.97M392.5 584.4v6.97M407.5 584.4v6.97M410.5 584.4v6.97M237.5 591.32v6.97M243.5 591.32v6.97M244.5 591.32v6.97M245.5 591.32v6.97M246.5 591.32v6.97M250.5 591.32v6.97M251.5 591.32v6.97M252.5 591.32v6.97M256.5 591.32v6.97M259.5 591.32v6.97M274.5 591.32v6.97M275.5 591.32v6.97M283.5 591.32v6.97M288.5 591.32v6.97M294.5 591.32v6.97M295.5 591.32v6.97M296.5 591.32v6.97M298.5 591.32v6.97M299.5 591.32v6.97M303.5 591.32v6.97M306.5 591.32v6.97M323.5 591.32v6.97M248.5 598.24v6.97M277.5 605.16v6.97" stroke="#3463a6" stroke-width="1.00" shape-rendering="crispEdges"/>
<path d="M276.5 501.36v6.97M325.5 501.36v6.97M482.5 501.36v6.97M277.5 508.28v6.97M297.5 508.28v6.97M303.5 508.28v6.97M309.5 508.28v6.97M314.5 508.28v6.97M385.5 515.2v6.97M393.5 515.2v6.97M426.5 515.2v6.97M447.5 515.2v6.97M469.5 515.2v6.97M382.5 529.04v6.97M382.5 535.96v6.97M392.5 535.96v6.97M410.5 535.96v6.97M446.5 535.96v6.97M452.5 535.96v6.97M475.5 535.96v6.97M476.5 535.96v6.97M484.5 549.8v6.97M246.5 556.72v6.97M272.5 556.72v6.97M441.5 556.72v6.97M451.5 556.72v6.97M465.5 556.72v6.97M382.5 563.64v6.97M384.5 563.64v6.97M393.5 563.64v6.97M394.5 563.64v6.97M434.5 563.64v6.97M444.5 563.64v6.97M474.5 563.64v6.97M397.5 570.56v6.97M401.5 570.56v6.97M415.5 570.56v6.97M441.5 570.56v6.97M445.5 570.56v6.97M254.5 577.48v6.97M260.5 577.48v6.97M262.5 577.48v6.97M296.5 577.48v6.97M344.5 577.48v6.97M383.5 584.4v6.97M384.5 584.4v6.97M388.5 584.4v6.97M395.5 584.4v6.97M396.5 584.4v6.97M416.5 584.4v6.97M420.5 584.4v6.97M427.5 584.4v6.97M431.5 584.4v6.97M433.5 584.4v6.97M435.5 584.4v6.97M446.5 584.4v6.97M247.5 591.32v6.97M249.5 591.32v6.97M261.5 591.32v6.97M276.5 591.32v6.97M278.5 591.32v6.97M282.5 591.32v6.97M285.5 591.32v6.97M286.5 591.32v6.97M287.5 591.32v6.97M290.5 591.32v6.97M304.5 591.32v6.97M307.5 591.32v6.97M309.5 591.32v6.97M256.5 598.24v6.97M301.5 598.24v6.97M239.5 605.16v6.97M276.5 605.16v6.97M308.5 605.16v6.97" stroke="#305da0" stroke-width="1.00" shape-rendering="crispEdges"/>
<path d="M316.5 501.36v6.97M385.5 501.36v6.97M419.5 501.36v6.97M446.5 508.28v6.97M242.5 515.2v6.97M273.5 515.2v6.97M293.5 515.2v6.97M301.5 515.2v6.97M308.5 515.2v6.97M341.5 522.12v6.97M357.5 522.12v6.97M431.5 529.04v6.97M298.5 542.88v6.97M318.5 549.8v6.97M321.5 549.8v6.97M322.5 549.8v6.97M323.5 549.8v6.97M324.5 549.8v6.97M325.5 549.8v6.97M329.5 549.8v6.97M331.5 549.8v6.97M333.5 549.8v6.97M334.5 549.8v6.97M335.5 549.8v6.97M343.5 549.8v6.97M344.5 549.8v6.97M348.5 549.8v6.97M349.5 549.8v6.97M351.5 549.8v6.97M352.5 549.8v6.97M358.5 549.8v6.97M377.5 549.8v6.97M298.5 577.48v6.97M399.5 584.4v6.97M378.5 612.08v6.97" stroke="#97a5ca" stroke-width="1.00" shape-rendering="crispEdges"/>
<path d="M319.5 501.36v6.97M321.5 501.36v6.97M332.5 501.36v6.97M350.5 501.36v6.97M380.5 501.36v6.97M321.5 508.28v6.97M325.5 515.2v6.97M353.5 515.2v6.97M360.5 515.2v6.97M380.5 515.2v6.97M324.5 529.04v6.97M343.5 529.04v6.97M344.5 529.04v6.97M346.5 529.04v6.97M352.5 529.04v6.97M353.5 529.04v6.97M354.5 529.04v6.97M355.5 529.04v6.97M358.5 529.04v6.97M359.5 535.96v6.97M316.5 556.72v6.97M317.5 556.72v6.97M319.5 556.72v6.97M320.5 556.72v6.97M335.5 556.72v6.97M337.5 556.72v6.97M338.5 556.72v6.97M342.5 556.72v6.97M349.5 556.72v6.97M260.5 563.64v6.97M319.5 570.56v6.97M322.5 570.56v6.97M328.5 570.56v6.97M330.5 570.56v6.97M335.5 570.56v6.97M370.5 570.56v6.97M336.5 577.48v6.97M357.5 577.48v6.97M325.5 591.32v6.97M326.5 591.32v6.97M328.5 591.32v6.97M329.5 591.32v6.97M331.5 591.32v6.97M334.5 591.32v6.97M340.5 591.32v6.97M343.5 591.32v6.97M319.5 598.24v6.97M331.5 598.24v6.97M338.5 598.24v6.97M339.5 598.24v6.97M341.5 598.24v6.97M349.5 598.24v6.97M370.5 598.24v6.97" stroke="#8b8ab3" stroke-width="1.00" shape-rendering="crispEdges"/>
<path d="M323.5 501.36v6.97M337.5 501.36v6.97M345.5 501.36v6.97M346.5 501.36v6.97M347.5 501.36v6.97M348.5 501.36v6.97M349.5 501.36v6.97M356.5 501.36v6.97M359.5 501.36v6.97M360.5 501.36v6.97M361.5 501.36v6.97M365.5 501.36v6.97M418.5 501.36v6.97M427.5 501.36v6.97M316.5 508.28v6.97M327.5 508.28v6.97M328.5 508.28v6.97M329.5 508.28v6.97M336.5 508.28v6.97M343.5 508.28v6.97M360.5 508.28v6.97M361.5 508.28v6.97M375.5 508.28v6.97M376.5 508.28v6.97M377.5 508.28v6.97M403.5 508.28v6.97M445.5 508.28v6.97M387.5 535.96v6.97M266.5 542.88v6.97M319.5 542.88v6.97M332.5 542.88v6.97M333.5 542.88v6.97M334.5 542.88v6.97M335.5 542.88v6.97M348.5 542.88v6.97M349.5 542.88v6.97M350.5 542.88v6.97M355.5 542.88v6.97M368.5 542.88v6.97M369.5 542.88v6.97M320.5 549.8v6.97M368.5 549.8v6.97M369.5 549.8v6.97M279.5 563.64v6.97M283.5 563.64v6.97M289.5 563.64v6.97M356.5 563.64v6.97M364.5 563.64v6.97M421.5 563.64v6.97M347.5 584.4v6.97M357.5 584.4v6.97M405.5 584.4v6.97M418.5 584.4v6.97M254.5 591.32v6.97M332.5 591.32v6.97M335.5 591.32v6.97M336.5 591.32v6.97M337.5 591.32v6.97M341.5 591.32v6.97M342.5 591.32v6.97M344.5 591.32v6.97M346.5 591.32v6.97M348.5 591.32v6.97M349.5 591.32v6.97M350.5 591.32v6.97M363.5 591.32v6.97M375.5 591.32v6.97M376.5 591.32v6.97M334.5 598.24v6.97M380.5 598.24v6.97M347.5 612.08v6.97" stroke="#7b94c3" stroke-width="1.00" shape-rendering="crispEdges"/>
<path d="M367.5 501.36v6.97M258.5 542.88v6.97M261.5 542.88v6.97M272.5 542.88v6.97M281.5 542.88v6.97M282.5 542.88v6.97M286.5 542.88v6.97M287.5 542.88v6.97M291.5 542.88v6.97M293.5 542.88v6.97M294.5 542.88v6.97M296.5 542.88v6.97M302.5 542.88v6.97M309.5 542.88v6.97M359.5 542.88v6.97M375.5 542.88v6.97M348.5 563.64v6.97M236.5 570.56v6.97M241.5 570.56v6.97M242.5 570.56v6.97M243.5 570.56v6.97M245.5 570.56v6.97M247.5 570.56v6.97M249.5 570.56v6.97M250.5 570.56v6.97M253.5 570.56v6.97M257.5 570.56v6.97M258.5 570.56v6.97M259.5 570.56v6.97M260.5 570.56v6.97M263.5 570.56v6.97M272.5 570.56v6.97M274.5 570.56v6.97M278.5 570.56v6.97M280.5 570.56v6.97M281.5 570.56v6.97M287.5 570.56v6.97M290.5 570.56v6.97M291.5 570.56v6.97M293.5 570.56v6.97M295.5 570.56v6.97M296.5 570.56v6.97M298.5 570.56v6.97M300.5 570.56v6.97M302.5 570.56v6.97M303.5 570.56v6.97M310.5 570.56v6.97M311.5 570.56v6.97M373.5 591.32v6.97" stroke="#2058a3" stroke-width="1.00" shape-rendering="crispEdges"/>
<path d="M381.5 501.36v6.97M387.5 501.36v6.97M388.5 501.36v6.97M395.5 501.36v6.97M401.5 501.36v6.97M402.5 501.36v6.97M403.5 501.36v6.97M404.5 501.36v6.97M422.5 501.36v6.97M424.5 501.36v6.97M430.5 501.36v6.97M434.5 501.36v6.97M435.5 501.36v6.97M436.5 501.36v6.97M454.5 515.2v6.97M475.5 515.2v6.97M441.5 529.04v6.97M463.5 529.04v6.97M236.5 535.96v6.97M308.5 549.8v6.97M394.5 549.8v6.97M461.5 549.8v6.97M462.5 549.8v6.97M405.5 556.72v6.97M448.5 556.72v6.97M237.5 563.64v6.97M262.5 563.64v6.97M266.5 563.64v6.97M267.5 563.64v6.97M268.5 563.64v6.97M276.5 563.64v6.97M277.5 563.64v6.97M287.5 563.64v6.97M291.5 563.64v6.97M292.5 563.64v6.97M300.5 563.64v6.97M305.5 563.64v6.97M306.5 563.64v6.97M315.5 563.64v6.97M347.5 577.48v6.97M366.5 577.48v6.97M378.5 584.4v6.97M398.5 584.4v6.97M419.5 584.4v6.97M424.5 584.4v6.97M243.5 598.24v6.97M277.5 598.24v6.97M280.5 598.24v6.97M289.5 598.24v6.97M302.5 598.24v6.97M412.5 598.24v6.97M381.5 605.16v6.97M386.5 605.16v6.97M388.5 605.16v6.97M389.5 605.16v6.97M393.5 605.16v6.97M400.5 605.16v6.97M405.5 605.16v6.97M414.5 605.16v6.97M416.5 605.16v6.97M417.5 605.16v6.97M418.5 605.16v6.97M420.5 605.16v6.97M421.5 605.16v6.97M424.5 605.16v6.97M430.5 605.16v6.97M431.5 605.16v6.97M432.5 605.16v6.97" stroke="#3c63a3" stroke-width="1.00" shape-rendering="crispEdges"/>
<path d="M383.5 501.36v6.97M393.5 501.36v6.97M397.5 501.36v6.97M400.5 501.36v6.97M405.5 501.36v6.97M406.5 501.36v6.97M407.5 501.36v6.97M408.5 501.36v6.97M409.5 501.36v6.97M410.5 501.36v6.97M412.5 501.36v6.97M413.5 501.36v6.97M414.5 501.36v6.97M415.5 501.36v6.97M421.5 501.36v6.97M426.5 501.36v6.97M429.5 501.36v6.97M431.5 501.36v6.97M433.5 501.36v6.97M264.5 508.28v6.97M402.5 508.28v6.97M476.5 515.2v6.97M432.5 529.04v6.97M440.5 529.04v6.97M275.5 535.96v6.97M378.5 542.88v6.97M241.5 549.8v6.97M267.5 549.8v6.97M287.5 549.8v6.97M293.5 549.8v6.97M409.5 549.8v6.97M420.5 549.8v6.97M423.5 549.8v6.97M364.5 556.72v6.97M424.5 556.72v6.97M426.5 556.72v6.97M473.5 556.72v6.97M478.5 556.72v6.97M240.5 563.64v6.97M253.5 563.64v6.97M256.5 563.64v6.97M275.5 563.64v6.97M278.5 563.64v6.97M282.5 563.64v6.97M285.5 563.64v6.97M298.5 563.64v6.97M303.5 563.64v6.97M308.5 563.64v6.97M420.5 563.64v6.97M345.5 577.48v6.97M346.5 577.48v6.97M321.5 584.4v6.97M362.5 584.4v6.97M242.5 598.24v6.97M408.5 598.24v6.97M431.5 598.24v6.97M410.5 605.16v6.97" stroke="#456ca7" stroke-width="1.00" shape-rendering="crispEdges"/>
<path d="M288.5 508.28v6.97M296.5 508.28v6.97M301.5 508.28v6.97M347.5 508.28v6.97M409.5 529.04v6.97M434.5 529.04v6.97M436.5 529.04v6.97M437.5 529.04v6.97M438.5 535.96v6.97M462.5 535.96v6.97M467.5 535.96v6.97M427.5 556.72v6.97M389.5 563.64v6.97M391.5 563.64v6.97M397.5 563.64v6.97M399.5 563.64v6.97M400.5 563.64v6.97M402.5 563.64v6.97M408.5 563.64v6.97M410.5 563.64v6.97M411.5 563.64v6.97M419.5 563.64v6.97M423.5 563.64v6.97M424.5 563.64v6.97M428.5 563.64v6.97M429.5 563.64v6.97M455.5 563.64v6.97M475.5 563.64v6.97M420.5 570.56v6.97M385.5 584.4v6.97M241.5 591.32v6.97M253.5 591.32v6.97M263.5 591.32v6.97M265.5 591.32v6.97M267.5 591.32v6.97M268.5 591.32v6.97M270.5 591.32v6.97M281.5 591.32v6.97M284.5 591.32v6.97M292.5 591.32v6.97M302.5 591.32v6.97M305.5 591.32v6.97M311.5 591.32v6.97M313.5 591.32v6.97M364.5 591.32v6.97M290.5 605.16v6.97M466.5 605.16v6.97" stroke="#3a6aa9" stroke-width="1.00" shape-rendering="crispEdges"/>
<path d="M302.5 508.28v6.97M305.5 508.28v6.97M311.5 508.28v6.97M323.5 508.28v6.97M346.5 508.28v6.97M423.5 508.28v6.97M428.5 508.28v6.97M454.5 508.28v6.97M484.5 508.28v6.97M360.5 522.12v6.97M384.5 535.96v6.97M458.5 535.96v6.97M373.5 542.88v6.97M396.5 542.88v6.97M397.5 542.88v6.97M370.5 549.8v6.97M387.5 563.64v6.97M406.5 563.64v6.97M418.5 563.64v6.97M425.5 563.64v6.97M291.5 584.4v6.97M345.5 584.4v6.97M391.5 584.4v6.97M400.5 584.4v6.97M402.5 584.4v6.97M404.5 584.4v6.97M417.5 584.4v6.97M421.5 584.4v6.97M422.5 584.4v6.97M238.5 591.32v6.97M242.5 591.32v6.97M255.5 591.32v6.97M257.5 591.32v6.97M258.5 591.32v6.97M269.5 591.32v6.97M271.5 591.32v6.97M291.5 591.32v6.97M297.5 591.32v6.97M310.5 591.32v6.97M366.5 591.32v6.97M403.5 591.32v6.97M315.5 598.24v6.97M305.5 605.16v6.97M377.5 612.08v6.97M481.5 612.08v6.97M482.5 612.08v6.97M483.5 612.08v6.97M484.5 612.08v6.97" stroke="#4073b1" stroke-width="1.00" shape-rendering="crispEdges"/>
<path d="M236.5 522.12v6.97M241.5 522.12v6.97M243.5 522.12v6.97M246.5 522.12v6.97M248.5 522.12v6.97M251.5 522.12v6.97M254.5 522.12v6.97M257.5 522.12v6.97M258.5 522.12v6.97M259.5 522.12v6.97M262.5 522.12v6.97M263.5 522.12v6.97M265.5 522.12v6.97M266.5 522.12v6.97M267.5 522.12v6.97M268.5 522.12v6.97M270.5 522.12v6.97M271.5 522.12v6.97M273.5 522.12v6.97M274.5 522.12v6.97M279.5 522.12v6.97M291.5 522.12v6.97M294.5 522.12v6.97M295.5 522.12v6.97M298.5 522.12v6.97M300.5 522.12v6.97M301.5 522.12v6.97M304.5 522.12v6.97M305.5 522.12v6.97M311.5 522.12v6.97M312.5 522.12v6.97M315.5 522.12v6.97M386.5 522.12v6.97M387.5 522.12v6.97M388.5 522.12v6.97M389.5 522.12v6.97M390.5 522.12v6.97M391.5 522.12v6.97M392.5 522.12v6.97M393.5 522.12v6.97M394.5 522.12v6.97M395.5 522.12v6.97M399.5 522.12v6.97M400.5 522.12v6.97M401.5 522.12v6.97M402.5 522.12v6.97M405.5 522.12v6.97M407.5 522.12v6.97M414.5 522.12v6.97M415.5 522.12v6.97M416.5 522.12v6.97M417.5 522.12v6.97M418.5 522.12v6.97M419.5 522.12v6.97M423.5 522.12v6.97M425.5 522.12v6.97M426.5 522.12v6.97M429.5 522.12v6.97M430.5 522.12v6.97M431.5 522.12v6.97M433.5 522.12v6.97M434.5 522.12v6.97M435.5 522.12v6.97M436.5 522.12v6.97M437.5 522.12v6.97M446.5 522.12v6.97M463.5 522.12v6.97M464.5 522.12v6.97M468.5 522.12v6.97M469.5 522.12v6.97M475.5 522.12v6.97M476.5 522.12v6.97M477.5 522.12v6.97M479.5 522.12v6.97M236.5 542.88v6.97M285.5 542.88v6.97M306.5 542.88v6.97M312.5 542.88v6.97M323.5 563.64v6.97M343.5 563.64v6.97M236.5 612.08v6.97M237.5 612.08v6.97M238.5 612.08v6.97M239.5 612.08v6.97M243.5 612.08v6.97M244.5 612.08v6.97M247.5 612.08v6.97M248.5 612.08v6.97M249.5 612.08v6.97M250.5 612.08v6.97M253.5 612.08v6.97M254.5 612.08v6.97M255.5 612.08v6.97M256.5 612.08v6.97M257.5 612.08v6.97M260.5 612.08v6.97M263.5 612.08v6.97M265.5 612.08v6.97M266.5 612.08v6.97M267.5 612.08v6.97M268.5 612.08v6.97M269.5 612.08v6.97M270.5 612.08v6.97M276.5 612.08v6.97M279.5 612.08v6.97M282.5 612.08v6.97M283.5 612.08v6.97M284.5 612.08v6.97M285.5 612.08v6.97M286.5 612.08v6.97M289.5 612.08v6.97M290.5 612.08v6.97M291.5 612.08v6.97M292.5 612.08v6.97M293.5 612.08v6.97M294.5 612.08v6.97M295.5 612.08v6.97M296.5 612.08v6.97M298.5 612.08v6.97M300.5 612.08v6.97M301.5 612.08v6.97M302.5 612.08v6.97M303.5 612.08v6.97M304.5 612.08v6.97M305.5 612.08v6.97M306.5 612.08v6.97M308.5 612.08v6.97M309.5 612.08v6.97M312.5 612.08v6.97M315.5 612.08v6.97M330.5 612.08v6.97M332.5 612.08v6.97M338.5 612.08v6.97M339.5 612.08v6.97M354.5 612.08v6.97M362.5 612.08v6.97M364.5 612.08v6.97M370.5 612.08v6.97M375.5 612.08v6.97M382.5 612.08v6.97M383.5 612.08v6.97M384.5 612.08v6.97M387.5 612.08v6.97M390.5 612.08v6.97M391.5 612.08v6.97M393.5 612.08v6.97M398.5 612.08v6.97M399.5 612.08v6.97M401.5 612.08v6.97M403.5 612.08v6.97M404.5 612.08v6.97M407.5 612.08v6.97M409.5 612.08v6.97M410.5 612.08v6.97M411.5 612.08v6.97M412.5 612.08v6.97M418.5 612.08v6.97M419.5 612.08v6.97M421.5 612.08v6.97M422.5 612.08v6.97M423.5 612.08v6.97M424.5 612.08v6.97M425.5 612.08v6.97M426.5 612.08v6.97M430.5 612.08v6.97M431.5 612.08v6.97M433.5 612.08v6.97M434.5 612.08v6.97M439.5 612.08v6.97M440.5 612.08v6.97M442.5 612.08v6.97M443.5 612.08v6.97M450.5 612.08v6.97M452.5 612.08v6.97M453.5 612.08v6.97M454.5 612.08v6.97M455.5 612.08v6.97M456.5 612.08v6.97M460.5 612.08v6.97M465.5 612.08v6.97M467.5 612.08v6.97M475.5 612.08v6.97M477.5 612.08v6.97" stroke="#2d6bb5" stroke-width="1.00" shape-rendering="crispEdges"/>
<line x1="316.00" y1="480.60" x2="316.00" y2="619.00" stroke="#a89a8a" stroke-width="0.7"/>
<line x1="381.00" y1="480.60" x2="381.00" y2="619.00" stroke="#a89a8a" stroke-width="0.7"/>
<line x1="437.00" y1="480.60" x2="437.00" y2="619.00" stroke="#a89a8a" stroke-width="0.7"/>
<line x1="480.00" y1="480.60" x2="480.00" y2="619.00" stroke="#a89a8a" stroke-width="0.7"/>
<text x="233.20" y="486.60" font-size="7.2" text-anchor="end" font-weight="normal" fill="#231f20" style="font-style:italic;" stroke="#231f20" stroke-width="0.06" textLength="16.14" lengthAdjust="spacingAndGlyphs">Saa3</text>
<text x="233.20" y="493.52" font-size="7.2" text-anchor="end" font-weight="normal" fill="#231f20" style="font-style:italic;" stroke="#231f20" stroke-width="0.06" textLength="30.35" lengthAdjust="spacingAndGlyphs">GM15056</text>
<text x="233.20" y="500.44" font-size="7.2" text-anchor="end" font-weight="normal" fill="#231f20" style="font-style:italic;" stroke="#231f20" stroke-width="0.06" textLength="19.21" lengthAdjust="spacingAndGlyphs">Socs3</text>
<text x="233.20" y="507.36" font-size="7.2" text-anchor="end" font-weight="normal" fill="#231f20" style="font-style:italic;" stroke="#231f20" stroke-width="0.06" textLength="15.75" lengthAdjust="spacingAndGlyphs">Sdc4</text>
<text x="233.20" y="514.28" font-size="7.2" text-anchor="end" font-weight="normal" fill="#231f20" style="font-style:italic;" stroke="#231f20" stroke-width="0.06" textLength="13.44" lengthAdjust="spacingAndGlyphs">Il1rn</text>
<text x="233.20" y="521.20" font-size="7.2" text-anchor="end" font-weight="normal" fill="#231f20" style="font-style:italic;" stroke="#231f20" stroke-width="0.06" textLength="11.91" lengthAdjust="spacingAndGlyphs">F10</text>
<text x="233.20" y="528.12" font-size="7.2" text-anchor="end" font-weight="normal" fill="#231f20" style="font-style:italic;" stroke="#231f20" stroke-width="0.06" textLength="16.9" lengthAdjust="spacingAndGlyphs">Ifitm1</text>
<text x="233.20" y="535.04" font-size="7.2" text-anchor="end" font-weight="normal" fill="#231f20" style="font-style:italic;" stroke="#231f20" stroke-width="0.06" textLength="23.05" lengthAdjust="spacingAndGlyphs">Mmp14</text>
<text x="233.20" y="541.96" font-size="7.2" text-anchor="end" font-weight="normal" fill="#231f20" style="font-style:italic;" stroke="#231f20" stroke-width="0.06" textLength="14.6" lengthAdjust="spacingAndGlyphs">Arg2</text>
<text x="233.20" y="548.88" font-size="7.2" text-anchor="end" font-weight="normal" fill="#231f20" style="font-style:italic;" stroke="#231f20" stroke-width="0.06" textLength="15.75" lengthAdjust="spacingAndGlyphs">Acp5</text>
<text x="233.20" y="555.80" font-size="7.2" text-anchor="end" font-weight="normal" fill="#231f20" style="font-style:italic;" stroke="#231f20" stroke-width="0.06" textLength="11.91" lengthAdjust="spacingAndGlyphs">Ier3</text>
<text x="233.20" y="562.72" font-size="7.2" text-anchor="end" font-weight="normal" fill="#231f20" style="font-style:italic;" stroke="#231f20" stroke-width="0.06" textLength="18.82" lengthAdjust="spacingAndGlyphs">Nr1h3</text>
<text x="233.20" y="569.64" font-size="7.2" text-anchor="end" font-weight="normal" fill="#231f20" style="font-style:italic;" stroke="#231f20" stroke-width="0.06" textLength="10.76" lengthAdjust="spacingAndGlyphs">Cfb</text>
<text x="233.20" y="576.56" font-size="7.2" text-anchor="end" font-weight="normal" fill="#231f20" style="font-style:italic;" stroke="#231f20" stroke-width="0.06" textLength="17.67" lengthAdjust="spacingAndGlyphs">CD38</text>
<text x="233.20" y="583.48" font-size="7.2" text-anchor="end" font-weight="normal" fill="#231f20" style="font-style:italic;" stroke="#231f20" stroke-width="0.06" textLength="19.22" lengthAdjust="spacingAndGlyphs">Igfbp6</text>
<text x="233.20" y="590.40" font-size="7.2" text-anchor="end" font-weight="normal" fill="#231f20" style="font-style:italic;" stroke="#231f20" stroke-width="0.06" textLength="19.99" lengthAdjust="spacingAndGlyphs">Spon1</text>
<text x="233.20" y="597.32" font-size="7.2" text-anchor="end" font-weight="normal" fill="#231f20" style="font-style:italic;" stroke="#231f20" stroke-width="0.06" textLength="19.33" lengthAdjust="spacingAndGlyphs">Tarm1</text>
<text x="233.20" y="604.24" font-size="7.2" text-anchor="end" font-weight="normal" fill="#231f20" style="font-style:italic;" stroke="#231f20" stroke-width="0.06" textLength="21.51" lengthAdjust="spacingAndGlyphs">Slamf6</text>
<text x="233.20" y="611.16" font-size="7.2" text-anchor="end" font-weight="normal" fill="#231f20" style="font-style:italic;" stroke="#231f20" stroke-width="0.06" textLength="21.9" lengthAdjust="spacingAndGlyphs">P2ry13</text>
<text x="233.20" y="618.08" font-size="7.2" text-anchor="end" font-weight="normal" fill="#231f20" style="font-style:italic;" stroke="#231f20" stroke-width="0.06" textLength="16.52" lengthAdjust="spacingAndGlyphs">Upp1</text>
<rect x="485.80" y="528.30" width="7.80" height="1.10" fill="#700320"/>
<rect x="485.80" y="529.20" width="7.80" height="1.10" fill="#830924"/>
<rect x="485.80" y="530.10" width="7.80" height="1.10" fill="#960f26"/>
<rect x="485.80" y="531.01" width="7.80" height="1.10" fill="#a9152a"/>
<rect x="485.80" y="531.91" width="7.80" height="1.10" fill="#b6212f"/>
<rect x="485.80" y="532.81" width="7.80" height="1.10" fill="#c03338"/>
<rect x="485.80" y="533.71" width="7.80" height="1.10" fill="#c84540"/>
<rect x="485.80" y="534.62" width="7.80" height="1.10" fill="#d25749"/>
<rect x="485.80" y="535.52" width="7.80" height="1.10" fill="#da6954"/>
<rect x="485.80" y="536.42" width="7.80" height="1.10" fill="#e17a61"/>
<rect x="485.80" y="537.32" width="7.80" height="1.10" fill="#e98b6e"/>
<rect x="485.80" y="538.23" width="7.80" height="1.10" fill="#f09c7b"/>
<rect x="485.80" y="539.13" width="7.80" height="1.10" fill="#f5ac8b"/>
<rect x="485.80" y="540.03" width="7.80" height="1.10" fill="#f7b99c"/>
<rect x="485.80" y="540.93" width="7.80" height="1.10" fill="#fac7ad"/>
<rect x="485.80" y="541.84" width="7.80" height="1.10" fill="#fcd4be"/>
<rect x="485.80" y="542.74" width="7.80" height="1.10" fill="#fcdecd"/>
<rect x="485.80" y="543.64" width="7.80" height="1.10" fill="#fbe6d9"/>
<rect x="485.80" y="544.54" width="7.80" height="1.10" fill="#f9ece5"/>
<rect x="485.80" y="545.45" width="7.80" height="1.10" fill="#f8f3f1"/>
<rect x="485.80" y="546.35" width="7.80" height="1.10" fill="#f2f5f6"/>
<rect x="485.80" y="547.25" width="7.80" height="1.10" fill="#e9f0f4"/>
<rect x="485.80" y="548.15" width="7.80" height="1.10" fill="#dfecf3"/>
<rect x="485.80" y="549.06" width="7.80" height="1.10" fill="#d6e7f1"/>
<rect x="485.80" y="549.96" width="7.80" height="1.10" fill="#c9e1ee"/>
<rect x="485.80" y="550.86" width="7.80" height="1.10" fill="#b9d9e9"/>
<rect x="485.80" y="551.76" width="7.80" height="1.10" fill="#aad1e5"/>
<rect x="485.80" y="552.67" width="7.80" height="1.10" fill="#9ac9e0"/>
<rect x="485.80" y="553.57" width="7.80" height="1.10" fill="#88bfdb"/>
<rect x="485.80" y="554.47" width="7.80" height="1.10" fill="#74b2d4"/>
<rect x="485.80" y="555.38" width="7.80" height="1.10" fill="#61a6cd"/>
<rect x="485.80" y="556.28" width="7.80" height="1.10" fill="#4d99c6"/>
<rect x="485.80" y="557.18" width="7.80" height="1.10" fill="#3f8dc0"/>
<rect x="485.80" y="558.08" width="7.80" height="1.10" fill="#3682ba"/>
<rect x="485.80" y="558.98" width="7.80" height="1.10" fill="#2e77b5"/>
<rect x="485.80" y="559.89" width="7.80" height="1.10" fill="#256caf"/>
<rect x="485.80" y="560.79" width="7.80" height="1.10" fill="#1e5fa3"/>
<rect x="485.80" y="561.69" width="7.80" height="1.10" fill="#165290"/>
<rect x="485.80" y="562.59" width="7.80" height="1.10" fill="#0f447d"/>
<rect x="485.80" y="563.50" width="7.80" height="1.10" fill="#09376a"/>
<text x="495.60" y="531.00" font-size="6.9" text-anchor="start" font-weight="normal" fill="#231f20" style="" stroke="#231f20" stroke-width="0.05" textLength="9.4" lengthAdjust="spacingAndGlyphs">2.5</text>
<text x="495.60" y="537.05" font-size="6.9" text-anchor="start" font-weight="normal" fill="#231f20" style="" stroke="#231f20" stroke-width="0.05" textLength="9.4" lengthAdjust="spacingAndGlyphs">2.0</text>
<text x="495.60" y="543.10" font-size="6.9" text-anchor="start" font-weight="normal" fill="#231f20" style="" stroke="#231f20" stroke-width="0.05" textLength="9.4" lengthAdjust="spacingAndGlyphs">1.5</text>
<text x="495.60" y="549.15" font-size="6.9" text-anchor="start" font-weight="normal" fill="#231f20" style="" stroke="#231f20" stroke-width="0.05" textLength="9.4" lengthAdjust="spacingAndGlyphs">1.0</text>
<text x="495.60" y="555.20" font-size="6.9" text-anchor="start" font-weight="normal" fill="#231f20" style="" stroke="#231f20" stroke-width="0.05" textLength="9.4" lengthAdjust="spacingAndGlyphs">0.5</text>
<text x="495.60" y="561.25" font-size="6.9" text-anchor="start" font-weight="normal" fill="#231f20" style="" stroke="#231f20" stroke-width="0.05" textLength="9.4" lengthAdjust="spacingAndGlyphs">0.0</text>
<text x="512.60" y="547.00" font-size="7.2" text-anchor="middle" font-weight="normal" fill="#231f20" style="" transform="rotate(-90 512.6 547)" stroke="#231f20" stroke-width="0.12" textLength="31" lengthAdjust="spacingAndGlyphs">Expression</text>
<text x="8.10" y="565.00" font-size="12" text-anchor="start" font-weight="bold" fill="#000" style="">G</text>
<text x="52.00" y="565.80" font-size="8.6" text-anchor="middle" font-weight="normal" fill="#000" style="font-style:italic;" textLength="19.7" lengthAdjust="spacingAndGlyphs">Socs3</text>
<rect x="36.20" y="607.00" width="4.20" height="22.80" fill="#c8102e"/>
<rect x="45.50" y="629.80" width="4.00" height="0.00" fill="#c8102e"/>
<rect x="54.80" y="583.70" width="3.90" height="46.10" fill="#c8102e"/>
<rect x="64.00" y="590.00" width="4.30" height="39.80" fill="#c8102e"/>
<path d="M38.3 607 L47.5 629.3 L56.7 583.7 L66.1 590" fill="none" stroke="#c8102e" stroke-width="1.3" stroke-linejoin="round"/>
<line x1="33.70" y1="568.30" x2="33.70" y2="630.30" stroke="#231f20" stroke-width="1.1"/>
<line x1="33.70" y1="629.80" x2="69.60" y2="629.80" stroke="#231f20" stroke-width="1.1"/>
<line x1="30.40" y1="572.10" x2="33.70" y2="572.10" stroke="#231f20" stroke-width="0.8"/>
<text x="28.50" y="574.80" font-size="7.4" text-anchor="end" font-weight="normal" fill="#231f20" style="" stroke="#231f20" stroke-width="0.12">15</text>
<line x1="30.40" y1="591.30" x2="33.70" y2="591.30" stroke="#231f20" stroke-width="0.8"/>
<text x="28.50" y="594.00" font-size="7.4" text-anchor="end" font-weight="normal" fill="#231f20" style="" stroke="#231f20" stroke-width="0.12">10</text>
<line x1="30.40" y1="610.60" x2="33.70" y2="610.60" stroke="#231f20" stroke-width="0.8"/>
<text x="28.50" y="613.30" font-size="7.4" text-anchor="end" font-weight="normal" fill="#231f20" style="" stroke="#231f20" stroke-width="0.12">5</text>
<line x1="30.40" y1="629.80" x2="33.70" y2="629.80" stroke="#231f20" stroke-width="0.8"/>
<text x="28.50" y="632.50" font-size="7.4" text-anchor="end" font-weight="normal" fill="#231f20" style="" stroke="#231f20" stroke-width="0.12">0</text>
<line x1="38.50" y1="629.80" x2="38.50" y2="632.00" stroke="#231f20" stroke-width="0.8"/>
<text x="38.50" y="641.60" font-size="7.4" text-anchor="middle" font-weight="normal" fill="#231f20" style="" stroke="#231f20" stroke-width="0.12" textLength="2.2" lengthAdjust="spacingAndGlyphs">I</text>
<line x1="47.50" y1="629.80" x2="47.50" y2="632.00" stroke="#231f20" stroke-width="0.8"/>
<text x="47.50" y="641.60" font-size="7.4" text-anchor="middle" font-weight="normal" fill="#231f20" style="" stroke="#231f20" stroke-width="0.12" textLength="4.4" lengthAdjust="spacingAndGlyphs">II</text>
<line x1="56.70" y1="629.80" x2="56.70" y2="632.00" stroke="#231f20" stroke-width="0.8"/>
<text x="56.70" y="641.60" font-size="7.4" text-anchor="middle" font-weight="normal" fill="#231f20" style="" stroke="#231f20" stroke-width="0.12" textLength="6.6" lengthAdjust="spacingAndGlyphs">III</text>
<line x1="66.00" y1="629.80" x2="66.00" y2="632.00" stroke="#231f20" stroke-width="0.8"/>
<text x="66.00" y="641.60" font-size="7.4" text-anchor="middle" font-weight="normal" fill="#231f20" style="" stroke="#231f20" stroke-width="0.12" textLength="7.6" lengthAdjust="spacingAndGlyphs">IV</text>
<text x="51.65" y="653.60" font-size="9.0" text-anchor="middle" font-weight="normal" fill="#231f20" style="" stroke="#231f20" stroke-width="0.12" textLength="17" lengthAdjust="spacingAndGlyphs">Stage</text>
<text x="16.00" y="599.5" font-size="8.4" text-anchor="middle" fill="#231f20" stroke="#231f20" stroke-width="0.1" transform="rotate(-90 16.00 599.5)" textLength="53" lengthAdjust="spacingAndGlyphs">Expression (×10<tspan dy="-2.5" font-size="4.5">2</tspan><tspan dy="2.5">)</tspan></text>
<text x="118.10" y="565.80" font-size="8.6" text-anchor="middle" font-weight="normal" fill="#000" style="font-style:italic;" textLength="16.2" lengthAdjust="spacingAndGlyphs">Sdc4</text>
<rect x="111.20" y="588.70" width="4.30" height="41.10" fill="#c8102e"/>
<rect x="120.70" y="580.50" width="4.30" height="49.30" fill="#c8102e"/>
<rect x="130.00" y="595.50" width="4.50" height="34.30" fill="#c8102e"/>
<path d="M104.5 629.5 L113.3 588.7 L122.8 580.5 L132.2 595.5" fill="none" stroke="#c8102e" stroke-width="1.3" stroke-linejoin="round"/>
<line x1="99.50" y1="568.30" x2="99.50" y2="630.30" stroke="#231f20" stroke-width="1.1"/>
<line x1="99.50" y1="629.80" x2="135.50" y2="629.80" stroke="#231f20" stroke-width="1.1"/>
<line x1="96.20" y1="572.00" x2="99.50" y2="572.00" stroke="#231f20" stroke-width="0.8"/>
<text x="94.30" y="574.70" font-size="7.4" text-anchor="end" font-weight="normal" fill="#231f20" style="" stroke="#231f20" stroke-width="0.12">15</text>
<line x1="96.20" y1="591.20" x2="99.50" y2="591.20" stroke="#231f20" stroke-width="0.8"/>
<text x="94.30" y="593.90" font-size="7.4" text-anchor="end" font-weight="normal" fill="#231f20" style="" stroke="#231f20" stroke-width="0.12">10</text>
<line x1="96.20" y1="610.70" x2="99.50" y2="610.70" stroke="#231f20" stroke-width="0.8"/>
<text x="94.30" y="613.40" font-size="7.4" text-anchor="end" font-weight="normal" fill="#231f20" style="" stroke="#231f20" stroke-width="0.12">5</text>
<line x1="96.20" y1="630.00" x2="99.50" y2="630.00" stroke="#231f20" stroke-width="0.8"/>
<text x="94.30" y="632.70" font-size="7.4" text-anchor="end" font-weight="normal" fill="#231f20" style="" stroke="#231f20" stroke-width="0.12">0</text>
<line x1="104.20" y1="629.80" x2="104.20" y2="632.00" stroke="#231f20" stroke-width="0.8"/>
<text x="104.20" y="641.60" font-size="7.4" text-anchor="middle" font-weight="normal" fill="#231f20" style="" stroke="#231f20" stroke-width="0.12" textLength="2.2" lengthAdjust="spacingAndGlyphs">I</text>
<line x1="113.20" y1="629.80" x2="113.20" y2="632.00" stroke="#231f20" stroke-width="0.8"/>
<text x="113.20" y="641.60" font-size="7.4" text-anchor="middle" font-weight="normal" fill="#231f20" style="" stroke="#231f20" stroke-width="0.12" textLength="4.4" lengthAdjust="spacingAndGlyphs">II</text>
<line x1="123.00" y1="629.80" x2="123.00" y2="632.00" stroke="#231f20" stroke-width="0.8"/>
<text x="123.00" y="641.60" font-size="7.4" text-anchor="middle" font-weight="normal" fill="#231f20" style="" stroke="#231f20" stroke-width="0.12" textLength="6.6" lengthAdjust="spacingAndGlyphs">III</text>
<line x1="132.50" y1="629.80" x2="132.50" y2="632.00" stroke="#231f20" stroke-width="0.8"/>
<text x="132.50" y="641.60" font-size="7.4" text-anchor="middle" font-weight="normal" fill="#231f20" style="" stroke="#231f20" stroke-width="0.12" textLength="7.6" lengthAdjust="spacingAndGlyphs">IV</text>
<text x="117.50" y="653.60" font-size="9.0" text-anchor="middle" font-weight="normal" fill="#231f20" style="" stroke="#231f20" stroke-width="0.12" textLength="17" lengthAdjust="spacingAndGlyphs">Stage</text>
<text x="82.50" y="599.5" font-size="8.4" text-anchor="middle" fill="#231f20" stroke="#231f20" stroke-width="0.1" transform="rotate(-90 82.50 599.5)" textLength="53" lengthAdjust="spacingAndGlyphs">Expression (×10<tspan dy="-2.5" font-size="4.5">2</tspan><tspan dy="2.5">)</tspan></text>
<text x="184.70" y="565.80" font-size="8.6" text-anchor="middle" font-weight="normal" fill="#000" style="font-style:italic;" textLength="26" lengthAdjust="spacingAndGlyphs">Mmp14</text>
<rect x="168.50" y="598.70" width="4.20" height="31.10" fill="#c8102e"/>
<rect x="177.90" y="596.20" width="4.00" height="33.60" fill="#c8102e"/>
<rect x="187.10" y="576.30" width="4.40" height="53.50" fill="#c8102e"/>
<rect x="196.70" y="579.80" width="4.50" height="50.00" fill="#c8102e"/>
<path d="M170.6 598.7 L179.9 596.2 L189.3 576.3 L199 579.8" fill="none" stroke="#c8102e" stroke-width="1.3" stroke-linejoin="round"/>
<line x1="165.50" y1="568.30" x2="165.50" y2="630.30" stroke="#231f20" stroke-width="1.1"/>
<line x1="165.50" y1="629.80" x2="202.50" y2="629.80" stroke="#231f20" stroke-width="1.1"/>
<line x1="162.20" y1="572.00" x2="165.50" y2="572.00" stroke="#231f20" stroke-width="0.8"/>
<text x="160.30" y="574.70" font-size="7.4" text-anchor="end" font-weight="normal" fill="#231f20" style="" stroke="#231f20" stroke-width="0.12">8</text>
<line x1="162.20" y1="586.40" x2="165.50" y2="586.40" stroke="#231f20" stroke-width="0.8"/>
<text x="160.30" y="589.10" font-size="7.4" text-anchor="end" font-weight="normal" fill="#231f20" style="" stroke="#231f20" stroke-width="0.12">6</text>
<line x1="162.20" y1="600.90" x2="165.50" y2="600.90" stroke="#231f20" stroke-width="0.8"/>
<text x="160.30" y="603.60" font-size="7.4" text-anchor="end" font-weight="normal" fill="#231f20" style="" stroke="#231f20" stroke-width="0.12">4</text>
<line x1="162.20" y1="615.30" x2="165.50" y2="615.30" stroke="#231f20" stroke-width="0.8"/>
<text x="160.30" y="618.00" font-size="7.4" text-anchor="end" font-weight="normal" fill="#231f20" style="" stroke="#231f20" stroke-width="0.12">2</text>
<line x1="162.20" y1="629.80" x2="165.50" y2="629.80" stroke="#231f20" stroke-width="0.8"/>
<text x="160.30" y="632.50" font-size="7.4" text-anchor="end" font-weight="normal" fill="#231f20" style="" stroke="#231f20" stroke-width="0.12">0</text>
<line x1="170.40" y1="629.80" x2="170.40" y2="632.00" stroke="#231f20" stroke-width="0.8"/>
<text x="170.40" y="641.60" font-size="7.4" text-anchor="middle" font-weight="normal" fill="#231f20" style="" stroke="#231f20" stroke-width="0.12" textLength="2.2" lengthAdjust="spacingAndGlyphs">I</text>
<line x1="179.80" y1="629.80" x2="179.80" y2="632.00" stroke="#231f20" stroke-width="0.8"/>
<text x="179.80" y="641.60" font-size="7.4" text-anchor="middle" font-weight="normal" fill="#231f20" style="" stroke="#231f20" stroke-width="0.12" textLength="4.4" lengthAdjust="spacingAndGlyphs">II</text>
<line x1="189.40" y1="629.80" x2="189.40" y2="632.00" stroke="#231f20" stroke-width="0.8"/>
<text x="189.40" y="641.60" font-size="7.4" text-anchor="middle" font-weight="normal" fill="#231f20" style="" stroke="#231f20" stroke-width="0.12" textLength="6.6" lengthAdjust="spacingAndGlyphs">III</text>
<line x1="198.70" y1="629.80" x2="198.70" y2="632.00" stroke="#231f20" stroke-width="0.8"/>
<text x="198.70" y="641.60" font-size="7.4" text-anchor="middle" font-weight="normal" fill="#231f20" style="" stroke="#231f20" stroke-width="0.12" textLength="7.6" lengthAdjust="spacingAndGlyphs">IV</text>
<text x="184.00" y="653.60" font-size="9.0" text-anchor="middle" font-weight="normal" fill="#231f20" style="" stroke="#231f20" stroke-width="0.12" textLength="17" lengthAdjust="spacingAndGlyphs">Stage</text>
<text x="148.70" y="599.5" font-size="8.4" text-anchor="middle" fill="#231f20" stroke="#231f20" stroke-width="0.1" transform="rotate(-90 148.70 599.5)" textLength="53" lengthAdjust="spacingAndGlyphs">Expression (×10<tspan dy="-2.5" font-size="4.5">3</tspan><tspan dy="2.5">)</tspan></text>
<rect x="0.5" y="0.5" width="519" height="662" fill="none" stroke="#000" stroke-width="1.2"/>
</svg></body></html>
